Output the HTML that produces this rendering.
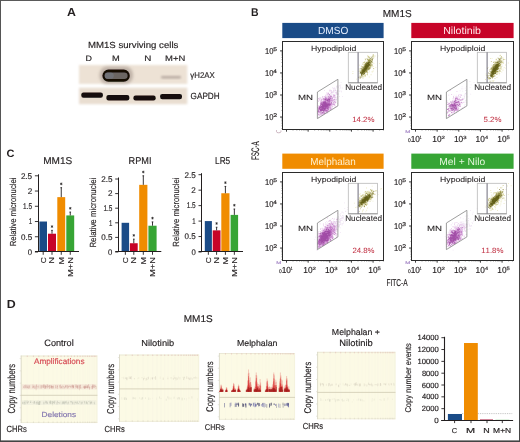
<!DOCTYPE html><html><head><meta charset="utf-8"><style>html,body{margin:0;padding:0;background:#fff;}svg{display:block;}</style></head><body><svg style="will-change:transform;font-kerning:none" width="520" height="442" viewBox="0 0 520 442" font-family="Liberation Sans, sans-serif" text-rendering="geometricPrecision">
<defs><filter id="blur1" x="-20%" y="-50%" width="140%" height="200%"><feGaussianBlur stdDeviation="0.8"/></filter><filter id="blur2" x="-30%" y="-60%" width="160%" height="220%"><feGaussianBlur stdDeviation="1.6"/></filter><filter id="blur05" x="-20%" y="-50%" width="140%" height="200%"><feGaussianBlur stdDeviation="0.45"/></filter><filter id="blur07" x="-20%" y="-50%" width="140%" height="200%"><feGaussianBlur stdDeviation="0.6"/></filter></defs>
<rect width="520" height="442" fill="#ffffff"/>
<text x="67.09" y="16.20" font-size="11.63" font-weight="bold" fill="#231f20" textLength="8.93" lengthAdjust="spacingAndGlyphs">A</text>
<text x="251.10" y="15.80" font-size="11.19" font-weight="bold" fill="#231f20" textLength="7.58" lengthAdjust="spacingAndGlyphs">B</text>
<text x="6.45" y="156.70" font-size="10.76" font-weight="bold" fill="#231f20" textLength="7.95" lengthAdjust="spacingAndGlyphs">C</text>
<text x="6.77" y="307.60" font-size="11.77" font-weight="bold" fill="#231f20" textLength="8.95" lengthAdjust="spacingAndGlyphs">D</text>
<text x="88.01" y="48.40" font-size="8.87" fill="#231f20" stroke="#231f20" stroke-width="0.16" textLength="90.34" lengthAdjust="spacingAndGlyphs">MM1S surviving cells</text>
<text x="85.47" y="60.60" font-size="7.99" fill="#231f20" stroke="#231f20" stroke-width="0.16" textLength="6.46" lengthAdjust="spacingAndGlyphs">D</text>
<text x="112.14" y="60.60" font-size="7.99" fill="#231f20" stroke="#231f20" stroke-width="0.16" textLength="7.72" lengthAdjust="spacingAndGlyphs">M</text>
<text x="144.19" y="60.60" font-size="7.99" fill="#231f20" stroke="#231f20" stroke-width="0.16" textLength="7.11" lengthAdjust="spacingAndGlyphs">N</text>
<text x="165.02" y="60.60" font-size="7.99" fill="#231f20" stroke="#231f20" stroke-width="0.16" textLength="20.25" lengthAdjust="spacingAndGlyphs">M+N</text>
<g filter="url(#blur1)">
<rect x="79.00" y="65.00" width="108.30" height="19.00" fill="#ede2d5"/>
<rect x="79.00" y="87.70" width="108.30" height="16.50" fill="#e9ded1"/>
</g>
<g filter="url(#blur2)">
<rect x="99.5" y="66.5" width="33.5" height="17.5" rx="8" fill="#9a8c84" fill-opacity="0.55"/>
</g>
<g filter="url(#blur05)">
<rect x="102.4" y="69.6" width="27.4" height="12.2" rx="6.1" ry="6.1" fill="#120a06"/>
<rect x="104.6" y="72.4" width="23.0" height="6.6" rx="3.3" ry="3.3" fill="#6c6662"/>
<rect x="104.8" y="72.6" width="9" height="6.2" rx="3.1" fill="#747a84" fill-opacity="0.6"/>
</g>
<g filter="url(#blur1)">
<rect x="161" y="76" width="20" height="2.6" rx="1.3" fill="#b8aaa2"/>
</g>
<g filter="url(#blur07)">
<rect x="81.3" y="92.4" width="21.60" height="5.40" rx="2.2" fill="#120c0a"/>
<rect x="106.4" y="94.9" width="22.90" height="5.50" rx="2.2" fill="#120c0a"/>
<rect x="133.4" y="95.5" width="22.30" height="4.90" rx="2.2" fill="#120c0a"/>
<rect x="160.1" y="93.9" width="21.90" height="5.30" rx="2.2" fill="#120c0a"/>
</g>
<text x="190.37" y="77.90" font-size="8.29" fill="#231f20" stroke="#231f20" stroke-width="0.16" textLength="24.29" lengthAdjust="spacingAndGlyphs">γH2AX</text>
<text x="190.59" y="99.00" font-size="9.01" fill="#231f20" stroke="#231f20" stroke-width="0.16" textLength="29.08" lengthAdjust="spacingAndGlyphs">GAPDH</text>
<text x="382.78" y="17.10" font-size="10.03" fill="#231f20" stroke="#231f20" stroke-width="0.16" textLength="28.98" lengthAdjust="spacingAndGlyphs">MM1S</text>
<rect x="282.30" y="22.90" width="101.30" height="15.20" fill="#1a4b87"/>
<line x1="280.10" y1="50.90" x2="282.50" y2="50.90" stroke="#2b2b2b" stroke-width="1.0"/>
<line x1="281.30" y1="66.31" x2="282.50" y2="66.31" stroke="#666" stroke-width="0.5"/>
<line x1="281.30" y1="62.43" x2="282.50" y2="62.43" stroke="#666" stroke-width="0.5"/>
<line x1="281.30" y1="59.68" x2="282.50" y2="59.68" stroke="#666" stroke-width="0.5"/>
<line x1="281.30" y1="57.54" x2="282.50" y2="57.54" stroke="#666" stroke-width="0.5"/>
<line x1="281.30" y1="55.80" x2="282.50" y2="55.80" stroke="#666" stroke-width="0.5"/>
<line x1="281.30" y1="54.32" x2="282.50" y2="54.32" stroke="#666" stroke-width="0.5"/>
<line x1="281.30" y1="53.04" x2="282.50" y2="53.04" stroke="#666" stroke-width="0.5"/>
<line x1="281.30" y1="51.91" x2="282.50" y2="51.91" stroke="#666" stroke-width="0.5"/>
<line x1="280.10" y1="72.95" x2="282.50" y2="72.95" stroke="#2b2b2b" stroke-width="1.0"/>
<line x1="281.30" y1="88.36" x2="282.50" y2="88.36" stroke="#666" stroke-width="0.5"/>
<line x1="281.30" y1="84.48" x2="282.50" y2="84.48" stroke="#666" stroke-width="0.5"/>
<line x1="281.30" y1="81.73" x2="282.50" y2="81.73" stroke="#666" stroke-width="0.5"/>
<line x1="281.30" y1="79.59" x2="282.50" y2="79.59" stroke="#666" stroke-width="0.5"/>
<line x1="281.30" y1="77.85" x2="282.50" y2="77.85" stroke="#666" stroke-width="0.5"/>
<line x1="281.30" y1="76.37" x2="282.50" y2="76.37" stroke="#666" stroke-width="0.5"/>
<line x1="281.30" y1="75.09" x2="282.50" y2="75.09" stroke="#666" stroke-width="0.5"/>
<line x1="281.30" y1="73.96" x2="282.50" y2="73.96" stroke="#666" stroke-width="0.5"/>
<line x1="280.10" y1="95.00" x2="282.50" y2="95.00" stroke="#2b2b2b" stroke-width="1.0"/>
<line x1="281.30" y1="110.41" x2="282.50" y2="110.41" stroke="#666" stroke-width="0.5"/>
<line x1="281.30" y1="106.53" x2="282.50" y2="106.53" stroke="#666" stroke-width="0.5"/>
<line x1="281.30" y1="103.78" x2="282.50" y2="103.78" stroke="#666" stroke-width="0.5"/>
<line x1="281.30" y1="101.64" x2="282.50" y2="101.64" stroke="#666" stroke-width="0.5"/>
<line x1="281.30" y1="99.90" x2="282.50" y2="99.90" stroke="#666" stroke-width="0.5"/>
<line x1="281.30" y1="98.42" x2="282.50" y2="98.42" stroke="#666" stroke-width="0.5"/>
<line x1="281.30" y1="97.14" x2="282.50" y2="97.14" stroke="#666" stroke-width="0.5"/>
<line x1="281.30" y1="96.01" x2="282.50" y2="96.01" stroke="#666" stroke-width="0.5"/>
<line x1="280.10" y1="117.05" x2="282.50" y2="117.05" stroke="#2b2b2b" stroke-width="1.0"/>
<line x1="281.30" y1="128.58" x2="282.50" y2="128.58" stroke="#666" stroke-width="0.5"/>
<line x1="281.30" y1="125.83" x2="282.50" y2="125.83" stroke="#666" stroke-width="0.5"/>
<line x1="281.30" y1="123.69" x2="282.50" y2="123.69" stroke="#666" stroke-width="0.5"/>
<line x1="281.30" y1="121.95" x2="282.50" y2="121.95" stroke="#666" stroke-width="0.5"/>
<line x1="281.30" y1="120.47" x2="282.50" y2="120.47" stroke="#666" stroke-width="0.5"/>
<line x1="281.30" y1="119.19" x2="282.50" y2="119.19" stroke="#666" stroke-width="0.5"/>
<line x1="281.30" y1="118.06" x2="282.50" y2="118.06" stroke="#666" stroke-width="0.5"/>
<line x1="286.50" y1="129.50" x2="286.50" y2="131.70" stroke="#2b2b2b" stroke-width="0.9"/>
<line x1="293.02" y1="129.50" x2="293.02" y2="130.70" stroke="#666" stroke-width="0.5"/>
<line x1="296.83" y1="129.50" x2="296.83" y2="130.70" stroke="#666" stroke-width="0.5"/>
<line x1="299.53" y1="129.50" x2="299.53" y2="130.70" stroke="#666" stroke-width="0.5"/>
<line x1="301.63" y1="129.50" x2="301.63" y2="130.70" stroke="#666" stroke-width="0.5"/>
<line x1="303.34" y1="129.50" x2="303.34" y2="130.70" stroke="#666" stroke-width="0.5"/>
<line x1="304.79" y1="129.50" x2="304.79" y2="130.70" stroke="#666" stroke-width="0.5"/>
<line x1="306.05" y1="129.50" x2="306.05" y2="130.70" stroke="#666" stroke-width="0.5"/>
<line x1="307.15" y1="129.50" x2="307.15" y2="130.70" stroke="#666" stroke-width="0.5"/>
<line x1="308.15" y1="129.50" x2="308.15" y2="131.70" stroke="#2b2b2b" stroke-width="0.9"/>
<line x1="314.67" y1="129.50" x2="314.67" y2="130.70" stroke="#666" stroke-width="0.5"/>
<line x1="318.48" y1="129.50" x2="318.48" y2="130.70" stroke="#666" stroke-width="0.5"/>
<line x1="321.18" y1="129.50" x2="321.18" y2="130.70" stroke="#666" stroke-width="0.5"/>
<line x1="323.28" y1="129.50" x2="323.28" y2="130.70" stroke="#666" stroke-width="0.5"/>
<line x1="324.99" y1="129.50" x2="324.99" y2="130.70" stroke="#666" stroke-width="0.5"/>
<line x1="326.44" y1="129.50" x2="326.44" y2="130.70" stroke="#666" stroke-width="0.5"/>
<line x1="327.70" y1="129.50" x2="327.70" y2="130.70" stroke="#666" stroke-width="0.5"/>
<line x1="328.80" y1="129.50" x2="328.80" y2="130.70" stroke="#666" stroke-width="0.5"/>
<line x1="329.80" y1="129.50" x2="329.80" y2="131.70" stroke="#2b2b2b" stroke-width="0.9"/>
<line x1="336.32" y1="129.50" x2="336.32" y2="130.70" stroke="#666" stroke-width="0.5"/>
<line x1="340.13" y1="129.50" x2="340.13" y2="130.70" stroke="#666" stroke-width="0.5"/>
<line x1="342.83" y1="129.50" x2="342.83" y2="130.70" stroke="#666" stroke-width="0.5"/>
<line x1="344.93" y1="129.50" x2="344.93" y2="130.70" stroke="#666" stroke-width="0.5"/>
<line x1="346.64" y1="129.50" x2="346.64" y2="130.70" stroke="#666" stroke-width="0.5"/>
<line x1="348.09" y1="129.50" x2="348.09" y2="130.70" stroke="#666" stroke-width="0.5"/>
<line x1="349.35" y1="129.50" x2="349.35" y2="130.70" stroke="#666" stroke-width="0.5"/>
<line x1="350.45" y1="129.50" x2="350.45" y2="130.70" stroke="#666" stroke-width="0.5"/>
<line x1="351.45" y1="129.50" x2="351.45" y2="131.70" stroke="#2b2b2b" stroke-width="0.9"/>
<line x1="357.97" y1="129.50" x2="357.97" y2="130.70" stroke="#666" stroke-width="0.5"/>
<line x1="361.78" y1="129.50" x2="361.78" y2="130.70" stroke="#666" stroke-width="0.5"/>
<line x1="364.48" y1="129.50" x2="364.48" y2="130.70" stroke="#666" stroke-width="0.5"/>
<line x1="366.58" y1="129.50" x2="366.58" y2="130.70" stroke="#666" stroke-width="0.5"/>
<line x1="368.29" y1="129.50" x2="368.29" y2="130.70" stroke="#666" stroke-width="0.5"/>
<line x1="369.74" y1="129.50" x2="369.74" y2="130.70" stroke="#666" stroke-width="0.5"/>
<line x1="371.00" y1="129.50" x2="371.00" y2="130.70" stroke="#666" stroke-width="0.5"/>
<line x1="372.10" y1="129.50" x2="372.10" y2="130.70" stroke="#666" stroke-width="0.5"/>
<line x1="373.10" y1="129.50" x2="373.10" y2="131.70" stroke="#2b2b2b" stroke-width="0.9"/>
<line x1="379.62" y1="129.50" x2="379.62" y2="130.70" stroke="#666" stroke-width="0.5"/>
<line x1="383.43" y1="129.50" x2="383.43" y2="130.70" stroke="#666" stroke-width="0.5"/>
<text x="264.92" y="53.70" font-size="8.43" fill="#231f20" stroke="#231f20" stroke-width="0.16" textLength="8.48" lengthAdjust="spacingAndGlyphs">10</text>
<text x="273.23" y="51.10" font-size="5.23" fill="#231f20" stroke="#231f20" stroke-width="0.16" textLength="3.75" lengthAdjust="spacingAndGlyphs">5</text>
<text x="264.92" y="75.75" font-size="8.43" fill="#231f20" stroke="#231f20" stroke-width="0.16" textLength="8.48" lengthAdjust="spacingAndGlyphs">10</text>
<text x="273.35" y="73.15" font-size="5.23" fill="#231f20" stroke="#231f20" stroke-width="0.16" textLength="3.53" lengthAdjust="spacingAndGlyphs">4</text>
<text x="264.92" y="97.80" font-size="8.43" fill="#231f20" stroke="#231f20" stroke-width="0.16" textLength="8.48" lengthAdjust="spacingAndGlyphs">10</text>
<text x="273.24" y="95.20" font-size="5.23" fill="#231f20" stroke="#231f20" stroke-width="0.16" textLength="3.75" lengthAdjust="spacingAndGlyphs">3</text>
<text x="264.92" y="119.85" font-size="8.43" fill="#231f20" stroke="#231f20" stroke-width="0.16" textLength="8.48" lengthAdjust="spacingAndGlyphs">10</text>
<text x="273.15" y="117.25" font-size="5.23" fill="#231f20" stroke="#231f20" stroke-width="0.16" textLength="3.91" lengthAdjust="spacingAndGlyphs">2</text>
<clipPath id="mn1"><polygon points="317.40,118.60 317.40,92.00 337.90,79.30 337.90,105.90"/></clipPath>
<clipPath id="nu1"><rect x="358.10" y="52.30" width="19.50" height="30.50"/></clipPath>
<path d="M331.3 96.4h0.8v0.8h-0.8zM336.6 97.2h0.8v0.8h-0.8zM330.4 98.9h0.8v0.8h-0.8zM321.5 99.0h0.8v0.8h-0.8zM327.7 98.9h0.8v0.8h-0.8zM321.5 100.1h0.8v0.8h-0.8zM324.2 90.1h0.8v0.8h-0.8zM338.2 86.4h0.8v0.8h-0.8zM332.6 103.1h0.8v0.8h-0.8zM328.6 101.5h0.8v0.8h-0.8zM331.8 91.2h0.8v0.8h-0.8zM331.7 92.6h0.8v0.8h-0.8zM335.4 98.5h0.8v0.8h-0.8zM327.1 103.9h0.8v0.8h-0.8zM332.0 97.3h0.8v0.8h-0.8zM335.8 92.0h0.8v0.8h-0.8zM324.5 106.6h0.8v0.8h-0.8zM331.4 101.8h0.8v0.8h-0.8zM322.7 111.6h0.8v0.8h-0.8zM325.3 106.6h0.8v0.8h-0.8zM319.0 108.0h0.8v0.8h-0.8zM331.9 99.7h0.8v0.8h-0.8zM323.1 104.6h0.8v0.8h-0.8zM336.3 97.2h0.8v0.8h-0.8zM329.7 93.4h0.8v0.8h-0.8zM330.6 98.1h0.8v0.8h-0.8zM317.8 114.8h0.8v0.8h-0.8zM325.7 98.2h0.8v0.8h-0.8zM336.0 100.8h0.8v0.8h-0.8zM336.3 99.1h0.8v0.8h-0.8zM322.2 106.9h0.8v0.8h-0.8zM331.2 101.9h0.8v0.8h-0.8zM327.4 104.7h0.8v0.8h-0.8zM320.9 97.6h0.8v0.8h-0.8zM338.6 90.0h0.8v0.8h-0.8zM327.3 102.6h0.8v0.8h-0.8zM332.0 97.4h0.8v0.8h-0.8zM334.3 88.6h0.8v0.8h-0.8zM328.0 100.6h0.8v0.8h-0.8zM330.9 97.4h0.8v0.8h-0.8zM335.6 98.6h0.8v0.8h-0.8zM333.2 97.2h0.8v0.8h-0.8zM325.1 105.7h0.8v0.8h-0.8zM336.2 99.5h0.8v0.8h-0.8zM338.3 86.3h0.8v0.8h-0.8zM322.3 107.2h0.8v0.8h-0.8zM332.3 87.3h0.8v0.8h-0.8zM336.6 99.3h0.8v0.8h-0.8zM330.8 103.5h0.8v0.8h-0.8zM345.6 84.6h0.8v0.8h-0.8zM338.0 92.9h0.8v0.8h-0.8zM325.5 105.7h0.8v0.8h-0.8zM333.0 96.9h0.8v0.8h-0.8zM334.6 92.4h0.8v0.8h-0.8zM330.4 97.9h0.8v0.8h-0.8zM336.0 92.3h0.8v0.8h-0.8zM335.4 100.5h0.8v0.8h-0.8zM337.2 93.4h0.8v0.8h-0.8zM340.0 86.7h0.8v0.8h-0.8zM326.7 100.6h0.8v0.8h-0.8zM331.6 94.3h0.8v0.8h-0.8zM333.4 103.5h0.8v0.8h-0.8zM334.0 97.1h0.8v0.8h-0.8zM325.5 105.6h0.8v0.8h-0.8zM327.9 100.4h0.8v0.8h-0.8zM328.1 96.2h0.8v0.8h-0.8zM336.9 90.5h0.8v0.8h-0.8zM340.6 90.6h0.8v0.8h-0.8zM323.6 105.6h0.8v0.8h-0.8zM326.9 102.2h0.8v0.8h-0.8zM335.1 92.0h0.8v0.8h-0.8zM321.0 111.4h0.8v0.8h-0.8zM325.4 97.1h0.8v0.8h-0.8zM330.9 97.2h0.8v0.8h-0.8zM337.0 86.4h0.8v0.8h-0.8zM338.1 93.9h0.8v0.8h-0.8zM328.2 97.8h0.8v0.8h-0.8zM331.4 100.8h0.8v0.8h-0.8zM334.4 101.8h0.8v0.8h-0.8zM339.8 85.6h0.8v0.8h-0.8zM328.1 98.8h0.8v0.8h-0.8zM330.8 99.5h0.8v0.8h-0.8zM334.0 94.5h0.8v0.8h-0.8zM328.8 95.9h0.8v0.8h-0.8zM332.0 99.3h0.8v0.8h-0.8zM330.7 108.9h0.8v0.8h-0.8zM331.3 96.6h0.8v0.8h-0.8zM329.0 99.7h0.8v0.8h-0.8zM336.0 86.6h0.8v0.8h-0.8zM336.5 93.0h0.8v0.8h-0.8zM328.8 94.7h0.8v0.8h-0.8zM333.0 90.1h0.8v0.8h-0.8zM333.3 102.0h0.8v0.8h-0.8zM335.7 87.7h0.8v0.8h-0.8zM334.7 99.2h0.8v0.8h-0.8zM339.1 95.9h0.8v0.8h-0.8zM325.4 106.7h0.8v0.8h-0.8zM335.3 95.6h0.8v0.8h-0.8zM327.3 112.9h0.8v0.8h-0.8zM320.0 111.1h0.8v0.8h-0.8zM328.8 98.0h0.8v0.8h-0.8zM323.5 100.7h0.8v0.8h-0.8zM333.0 95.9h0.8v0.8h-0.8zM348.4 84.0h0.8v0.8h-0.8zM329.7 104.8h0.8v0.8h-0.8zM326.1 99.6h0.8v0.8h-0.8zM331.0 93.8h0.8v0.8h-0.8zM333.5 92.5h0.8v0.8h-0.8zM331.7 98.8h0.8v0.8h-0.8zM330.3 98.1h0.8v0.8h-0.8zM336.5 92.4h0.8v0.8h-0.8zM335.7 93.9h0.8v0.8h-0.8zM325.4 103.7h0.8v0.8h-0.8zM331.5 97.5h0.8v0.8h-0.8zM332.7 97.2h0.8v0.8h-0.8zM325.8 104.3h0.8v0.8h-0.8zM334.7 96.2h0.8v0.8h-0.8zM331.8 106.8h0.8v0.8h-0.8zM339.0 91.3h0.8v0.8h-0.8zM333.2 95.7h0.8v0.8h-0.8zM328.3 93.0h0.8v0.8h-0.8zM329.6 102.0h0.8v0.8h-0.8zM326.5 94.0h0.8v0.8h-0.8zM317.2 108.4h0.8v0.8h-0.8zM327.7 106.7h0.8v0.8h-0.8zM335.8 95.8h0.8v0.8h-0.8zM319.6 111.8h0.8v0.8h-0.8zM332.5 87.6h0.8v0.8h-0.8zM321.2 108.7h0.8v0.8h-0.8zM334.6 90.3h0.8v0.8h-0.8zM328.8 104.3h0.8v0.8h-0.8zM342.0 96.0h0.8v0.8h-0.8zM333.3 96.5h0.8v0.8h-0.8zM321.4 106.4h0.8v0.8h-0.8zM336.1 85.8h0.8v0.8h-0.8zM340.0 86.7h0.8v0.8h-0.8zM331.2 97.1h0.8v0.8h-0.8zM327.6 96.7h0.8v0.8h-0.8zM331.4 98.4h0.8v0.8h-0.8zM323.6 101.6h0.8v0.8h-0.8zM341.0 91.4h0.8v0.8h-0.8zM331.6 103.0h0.8v0.8h-0.8zM334.4 99.5h0.8v0.8h-0.8zM326.3 101.7h0.8v0.8h-0.8zM329.8 102.5h0.8v0.8h-0.8zM324.5 105.8h0.8v0.8h-0.8zM338.1 87.3h0.8v0.8h-0.8zM330.3 97.4h0.8v0.8h-0.8zM334.2 87.6h0.8v0.8h-0.8zM328.5 94.0h0.8v0.8h-0.8zM330.1 103.5h0.8v0.8h-0.8zM329.7 98.9h0.8v0.8h-0.8zM329.4 101.4h0.8v0.8h-0.8zM334.5 98.9h0.8v0.8h-0.8zM325.6 96.2h0.8v0.8h-0.8zM328.4 97.6h0.8v0.8h-0.8zM324.7 107.1h0.8v0.8h-0.8zM328.4 103.5h0.8v0.8h-0.8zM340.4 84.5h0.8v0.8h-0.8zM330.8 103.8h0.8v0.8h-0.8zM326.6 104.9h0.8v0.8h-0.8zM330.9 92.2h0.8v0.8h-0.8zM337.6 85.2h0.8v0.8h-0.8zM325.8 108.9h0.8v0.8h-0.8zM332.0 99.4h0.8v0.8h-0.8zM323.7 97.7h0.8v0.8h-0.8zM325.4 112.2h0.8v0.8h-0.8zM337.6 93.0h0.8v0.8h-0.8zM335.2 99.8h0.8v0.8h-0.8zM331.4 95.7h0.8v0.8h-0.8zM327.0 101.8h0.8v0.8h-0.8zM331.8 91.5h0.8v0.8h-0.8zM335.3 105.9h0.8v0.8h-0.8zM330.8 97.7h0.8v0.8h-0.8zM329.7 108.0h0.8v0.8h-0.8zM323.5 104.3h0.8v0.8h-0.8zM339.9 87.8h0.8v0.8h-0.8zM325.0 97.3h0.8v0.8h-0.8zM332.7 94.2h0.8v0.8h-0.8zM334.3 99.2h0.8v0.8h-0.8zM326.4 97.6h0.8v0.8h-0.8zM331.8 102.7h0.8v0.8h-0.8zM336.4 93.2h0.8v0.8h-0.8zM327.7 97.1h0.8v0.8h-0.8zM329.9 97.1h0.8v0.8h-0.8zM331.0 95.9h0.8v0.8h-0.8zM338.5 88.6h0.8v0.8h-0.8zM334.5 91.1h0.8v0.8h-0.8zM332.1 92.6h0.8v0.8h-0.8zM328.1 100.4h0.8v0.8h-0.8zM321.6 104.8h0.8v0.8h-0.8zM334.1 87.7h0.8v0.8h-0.8zM337.3 90.0h0.8v0.8h-0.8zM333.4 99.8h0.8v0.8h-0.8zM331.2 90.1h0.8v0.8h-0.8zM336.4 91.5h0.8v0.8h-0.8zM335.1 89.8h0.8v0.8h-0.8zM334.8 88.5h0.8v0.8h-0.8zM331.6 101.9h0.8v0.8h-0.8zM339.3 85.2h0.8v0.8h-0.8zM328.7 108.8h0.8v0.8h-0.8zM334.9 89.3h0.8v0.8h-0.8zM335.8 94.3h0.8v0.8h-0.8zM336.4 90.3h0.8v0.8h-0.8zM340.7 82.2h0.8v0.8h-0.8zM341.8 87.6h0.8v0.8h-0.8zM325.2 104.8h0.8v0.8h-0.8zM324.0 110.2h0.8v0.8h-0.8zM336.5 91.1h0.8v0.8h-0.8zM323.6 102.1h0.8v0.8h-0.8zM331.7 96.9h0.8v0.8h-0.8zM336.9 91.1h0.8v0.8h-0.8zM325.1 110.6h0.8v0.8h-0.8zM317.8 110.2h0.8v0.8h-0.8zM333.4 95.1h0.8v0.8h-0.8zM328.0 93.3h0.8v0.8h-0.8zM332.2 100.0h0.8v0.8h-0.8zM329.5 94.6h0.8v0.8h-0.8zM322.6 99.5h0.8v0.8h-0.8zM323.3 107.6h0.8v0.8h-0.8zM333.8 100.4h0.8v0.8h-0.8zM322.7 100.9h0.8v0.8h-0.8zM320.0 106.5h0.8v0.8h-0.8zM333.0 91.9h0.8v0.8h-0.8zM328.8 95.2h0.8v0.8h-0.8zM335.2 94.9h0.8v0.8h-0.8zM324.4 102.4h0.8v0.8h-0.8zM326.5 100.2h0.8v0.8h-0.8zM327.8 105.2h0.8v0.8h-0.8zM325.1 101.8h0.8v0.8h-0.8zM334.2 96.5h0.8v0.8h-0.8zM325.2 100.6h0.8v0.8h-0.8zM331.0 92.1h0.8v0.8h-0.8zM329.3 90.9h0.8v0.8h-0.8zM348.1 86.3h0.8v0.8h-0.8zM323.3 106.3h0.8v0.8h-0.8zM337.6 91.2h0.8v0.8h-0.8zM331.4 97.6h0.8v0.8h-0.8zM332.3 97.4h0.8v0.8h-0.8zM323.9 107.4h0.8v0.8h-0.8zM334.2 104.1h0.8v0.8h-0.8zM333.6 89.7h0.8v0.8h-0.8zM327.6 94.5h0.8v0.8h-0.8zM329.9 94.4h0.8v0.8h-0.8z" fill="#c9a6d8" fill-opacity="0.35"/>
<g clip-path="url(#mn1)">
<path d="M319.9 110.2h0.9v0.9h-0.9zM325.1 97.1h0.9v0.9h-0.9zM329.6 100.1h0.9v0.9h-0.9zM329.0 114.3h0.9v0.9h-0.9zM323.6 113.6h0.9v0.9h-0.9zM321.5 103.3h0.9v0.9h-0.9zM329.2 95.0h0.9v0.9h-0.9zM313.5 117.4h0.9v0.9h-0.9zM330.9 103.6h0.9v0.9h-0.9zM319.4 107.6h0.9v0.9h-0.9zM328.3 97.2h0.9v0.9h-0.9zM324.1 111.4h0.9v0.9h-0.9zM327.3 107.4h0.9v0.9h-0.9zM318.9 110.8h0.9v0.9h-0.9zM318.9 106.5h0.9v0.9h-0.9zM327.2 93.5h0.9v0.9h-0.9zM327.3 98.3h0.9v0.9h-0.9zM318.1 101.1h0.9v0.9h-0.9zM324.6 110.1h0.9v0.9h-0.9zM316.6 112.2h0.9v0.9h-0.9zM325.8 107.1h0.9v0.9h-0.9zM331.1 108.3h0.9v0.9h-0.9zM329.0 107.0h0.9v0.9h-0.9zM322.4 101.9h0.9v0.9h-0.9zM323.9 111.6h0.9v0.9h-0.9zM329.0 106.9h0.9v0.9h-0.9zM323.7 102.5h0.9v0.9h-0.9zM328.5 95.3h0.9v0.9h-0.9zM333.2 94.3h0.9v0.9h-0.9zM321.0 101.1h0.9v0.9h-0.9zM327.0 111.2h0.9v0.9h-0.9zM319.0 99.0h0.9v0.9h-0.9zM320.4 104.6h0.9v0.9h-0.9zM322.3 107.2h0.9v0.9h-0.9zM325.1 103.8h0.9v0.9h-0.9zM322.3 109.7h0.9v0.9h-0.9zM329.2 101.5h0.9v0.9h-0.9zM325.0 104.1h0.9v0.9h-0.9zM330.2 105.3h0.9v0.9h-0.9zM319.3 100.2h0.9v0.9h-0.9zM323.1 107.7h0.9v0.9h-0.9zM320.2 107.2h0.9v0.9h-0.9zM325.4 105.5h0.9v0.9h-0.9zM324.4 107.3h0.9v0.9h-0.9zM324.4 100.8h0.9v0.9h-0.9zM324.2 102.6h0.9v0.9h-0.9zM322.7 112.7h0.9v0.9h-0.9zM327.3 104.4h0.9v0.9h-0.9zM318.7 109.3h0.9v0.9h-0.9zM329.2 111.7h0.9v0.9h-0.9zM331.3 110.6h0.9v0.9h-0.9zM313.5 111.3h0.9v0.9h-0.9zM327.2 104.2h0.9v0.9h-0.9zM333.7 108.8h0.9v0.9h-0.9zM327.6 106.6h0.9v0.9h-0.9zM324.9 106.6h0.9v0.9h-0.9zM323.9 105.4h0.9v0.9h-0.9zM320.5 107.7h0.9v0.9h-0.9zM324.3 104.9h0.9v0.9h-0.9zM322.2 105.6h0.9v0.9h-0.9zM328.5 105.2h0.9v0.9h-0.9zM320.0 109.2h0.9v0.9h-0.9zM325.7 101.8h0.9v0.9h-0.9zM323.2 100.6h0.9v0.9h-0.9zM325.3 104.6h0.9v0.9h-0.9zM321.7 104.2h0.9v0.9h-0.9zM327.7 100.8h0.9v0.9h-0.9zM322.2 114.8h0.9v0.9h-0.9zM328.9 102.5h0.9v0.9h-0.9zM328.4 103.9h0.9v0.9h-0.9zM328.1 103.4h0.9v0.9h-0.9zM327.7 102.2h0.9v0.9h-0.9zM323.0 107.0h0.9v0.9h-0.9zM324.1 104.6h0.9v0.9h-0.9zM330.7 102.5h0.9v0.9h-0.9zM324.7 99.4h0.9v0.9h-0.9zM330.6 105.9h0.9v0.9h-0.9zM320.0 111.8h0.9v0.9h-0.9zM326.1 99.6h0.9v0.9h-0.9zM329.3 97.0h0.9v0.9h-0.9zM328.2 97.4h0.9v0.9h-0.9zM327.4 103.2h0.9v0.9h-0.9zM317.7 110.3h0.9v0.9h-0.9zM333.0 101.8h0.9v0.9h-0.9zM323.2 103.0h0.9v0.9h-0.9zM309.4 111.8h0.9v0.9h-0.9zM325.5 100.5h0.9v0.9h-0.9zM314.3 107.1h0.9v0.9h-0.9zM320.7 110.5h0.9v0.9h-0.9zM326.4 109.6h0.9v0.9h-0.9zM332.9 99.0h0.9v0.9h-0.9zM320.7 102.9h0.9v0.9h-0.9zM325.0 100.9h0.9v0.9h-0.9zM338.0 99.1h0.9v0.9h-0.9zM333.3 96.6h0.9v0.9h-0.9zM325.6 104.5h0.9v0.9h-0.9zM328.0 107.6h0.9v0.9h-0.9zM327.8 115.9h0.9v0.9h-0.9zM326.8 110.4h0.9v0.9h-0.9zM328.1 102.2h0.9v0.9h-0.9zM328.6 102.8h0.9v0.9h-0.9zM328.2 104.8h0.9v0.9h-0.9zM328.3 97.6h0.9v0.9h-0.9zM319.9 105.6h0.9v0.9h-0.9zM325.9 104.4h0.9v0.9h-0.9zM326.3 98.2h0.9v0.9h-0.9zM328.2 100.9h0.9v0.9h-0.9zM330.6 98.8h0.9v0.9h-0.9zM334.2 107.2h0.9v0.9h-0.9zM322.4 103.7h0.9v0.9h-0.9zM327.1 101.9h0.9v0.9h-0.9zM321.5 108.7h0.9v0.9h-0.9zM320.6 113.3h0.9v0.9h-0.9zM331.3 103.4h0.9v0.9h-0.9zM324.4 103.2h0.9v0.9h-0.9zM324.9 100.6h0.9v0.9h-0.9zM314.6 108.9h0.9v0.9h-0.9zM321.9 103.8h0.9v0.9h-0.9zM325.1 108.2h0.9v0.9h-0.9zM322.6 108.5h0.9v0.9h-0.9zM314.1 113.2h0.9v0.9h-0.9zM323.6 104.9h0.9v0.9h-0.9zM329.7 99.5h0.9v0.9h-0.9zM328.9 103.2h0.9v0.9h-0.9zM321.9 105.7h0.9v0.9h-0.9zM325.2 103.5h0.9v0.9h-0.9zM323.9 96.1h0.9v0.9h-0.9zM311.6 115.4h0.9v0.9h-0.9zM330.0 108.2h0.9v0.9h-0.9zM322.0 96.4h0.9v0.9h-0.9zM327.8 99.8h0.9v0.9h-0.9zM333.5 95.9h0.9v0.9h-0.9zM329.5 97.4h0.9v0.9h-0.9zM325.0 100.6h0.9v0.9h-0.9zM327.0 102.3h0.9v0.9h-0.9zM329.2 100.0h0.9v0.9h-0.9zM323.6 106.6h0.9v0.9h-0.9zM320.6 100.0h0.9v0.9h-0.9zM329.2 99.1h0.9v0.9h-0.9zM331.5 92.2h0.9v0.9h-0.9zM323.8 103.6h0.9v0.9h-0.9zM326.4 104.8h0.9v0.9h-0.9zM328.6 104.4h0.9v0.9h-0.9zM333.9 99.2h0.9v0.9h-0.9zM324.5 103.0h0.9v0.9h-0.9zM334.5 98.6h0.9v0.9h-0.9zM325.4 111.5h0.9v0.9h-0.9zM328.4 107.5h0.9v0.9h-0.9zM329.1 108.1h0.9v0.9h-0.9zM328.8 99.7h0.9v0.9h-0.9zM329.7 98.3h0.9v0.9h-0.9zM322.2 113.5h0.9v0.9h-0.9zM318.5 105.6h0.9v0.9h-0.9zM327.9 102.8h0.9v0.9h-0.9zM321.9 106.2h0.9v0.9h-0.9zM318.8 110.9h0.9v0.9h-0.9zM325.3 94.8h0.9v0.9h-0.9zM325.5 99.5h0.9v0.9h-0.9zM327.9 101.5h0.9v0.9h-0.9zM326.6 108.4h0.9v0.9h-0.9zM332.9 101.0h0.9v0.9h-0.9zM324.8 105.0h0.9v0.9h-0.9zM329.9 98.0h0.9v0.9h-0.9zM320.0 106.8h0.9v0.9h-0.9zM323.7 109.2h0.9v0.9h-0.9zM326.1 102.4h0.9v0.9h-0.9zM324.9 108.9h0.9v0.9h-0.9zM333.6 104.5h0.9v0.9h-0.9zM327.0 102.6h0.9v0.9h-0.9zM318.1 105.3h0.9v0.9h-0.9zM323.9 101.7h0.9v0.9h-0.9zM320.5 102.5h0.9v0.9h-0.9zM326.3 96.7h0.9v0.9h-0.9zM327.1 110.1h0.9v0.9h-0.9zM324.9 106.7h0.9v0.9h-0.9zM326.6 94.5h0.9v0.9h-0.9zM336.9 94.1h0.9v0.9h-0.9zM337.6 96.7h0.9v0.9h-0.9zM325.2 102.9h0.9v0.9h-0.9zM325.0 101.4h0.9v0.9h-0.9zM331.2 95.5h0.9v0.9h-0.9zM326.3 105.3h0.9v0.9h-0.9zM323.9 110.4h0.9v0.9h-0.9zM329.8 106.0h0.9v0.9h-0.9zM331.2 104.4h0.9v0.9h-0.9zM326.0 110.8h0.9v0.9h-0.9zM323.2 115.4h0.9v0.9h-0.9zM322.1 112.8h0.9v0.9h-0.9zM324.4 97.2h0.9v0.9h-0.9zM322.6 107.6h0.9v0.9h-0.9zM326.3 105.4h0.9v0.9h-0.9zM325.8 102.1h0.9v0.9h-0.9zM331.1 102.9h0.9v0.9h-0.9zM323.6 104.9h0.9v0.9h-0.9zM325.4 99.4h0.9v0.9h-0.9zM326.5 111.7h0.9v0.9h-0.9zM326.4 107.3h0.9v0.9h-0.9zM322.5 109.7h0.9v0.9h-0.9zM333.2 100.3h0.9v0.9h-0.9zM328.9 106.5h0.9v0.9h-0.9zM324.0 108.5h0.9v0.9h-0.9zM317.7 100.3h0.9v0.9h-0.9zM323.2 103.6h0.9v0.9h-0.9zM327.5 99.4h0.9v0.9h-0.9zM316.8 109.9h0.9v0.9h-0.9zM322.4 109.7h0.9v0.9h-0.9zM327.8 108.6h0.9v0.9h-0.9zM334.8 90.1h0.9v0.9h-0.9zM326.7 96.6h0.9v0.9h-0.9zM331.2 109.1h0.9v0.9h-0.9zM327.6 99.4h0.9v0.9h-0.9zM330.8 90.8h0.9v0.9h-0.9zM325.7 105.7h0.9v0.9h-0.9zM325.7 106.8h0.9v0.9h-0.9zM328.9 96.3h0.9v0.9h-0.9zM330.2 103.3h0.9v0.9h-0.9zM327.3 99.5h0.9v0.9h-0.9zM321.4 104.5h0.9v0.9h-0.9zM334.3 94.6h0.9v0.9h-0.9zM335.1 97.1h0.9v0.9h-0.9zM326.5 99.7h0.9v0.9h-0.9zM329.7 101.3h0.9v0.9h-0.9zM317.6 114.1h0.9v0.9h-0.9zM336.5 107.1h0.9v0.9h-0.9zM323.2 103.4h0.9v0.9h-0.9zM331.6 104.9h0.9v0.9h-0.9zM328.6 100.4h0.9v0.9h-0.9zM324.3 105.4h0.9v0.9h-0.9zM321.2 114.2h0.9v0.9h-0.9zM330.0 104.1h0.9v0.9h-0.9zM326.6 110.6h0.9v0.9h-0.9zM325.6 106.4h0.9v0.9h-0.9zM321.9 105.7h0.9v0.9h-0.9zM323.1 104.5h0.9v0.9h-0.9zM318.1 116.8h0.9v0.9h-0.9zM332.5 99.1h0.9v0.9h-0.9zM330.9 105.8h0.9v0.9h-0.9zM331.7 99.3h0.9v0.9h-0.9zM337.0 96.3h0.9v0.9h-0.9zM330.4 107.3h0.9v0.9h-0.9zM319.2 113.5h0.9v0.9h-0.9zM318.2 105.2h0.9v0.9h-0.9zM317.8 107.5h0.9v0.9h-0.9zM319.9 103.3h0.9v0.9h-0.9zM330.8 107.1h0.9v0.9h-0.9zM315.6 112.3h0.9v0.9h-0.9zM330.8 105.0h0.9v0.9h-0.9zM321.6 113.0h0.9v0.9h-0.9zM332.0 106.3h0.9v0.9h-0.9zM328.4 106.8h0.9v0.9h-0.9zM324.4 105.4h0.9v0.9h-0.9zM325.1 103.9h0.9v0.9h-0.9zM324.1 106.9h0.9v0.9h-0.9zM324.0 107.5h0.9v0.9h-0.9zM317.7 111.3h0.9v0.9h-0.9zM325.8 104.1h0.9v0.9h-0.9zM338.0 98.2h0.9v0.9h-0.9zM329.2 90.2h0.9v0.9h-0.9zM332.1 97.9h0.9v0.9h-0.9zM326.3 98.4h0.9v0.9h-0.9zM323.8 107.8h0.9v0.9h-0.9zM334.2 98.6h0.9v0.9h-0.9zM325.6 104.2h0.9v0.9h-0.9zM327.9 106.1h0.9v0.9h-0.9zM320.4 101.9h0.9v0.9h-0.9zM329.5 106.0h0.9v0.9h-0.9zM322.6 104.9h0.9v0.9h-0.9zM327.4 105.8h0.9v0.9h-0.9zM322.1 109.9h0.9v0.9h-0.9zM317.2 100.1h0.9v0.9h-0.9zM333.1 90.8h0.9v0.9h-0.9zM326.3 104.8h0.9v0.9h-0.9zM329.4 108.7h0.9v0.9h-0.9zM329.0 101.9h0.9v0.9h-0.9zM329.6 101.0h0.9v0.9h-0.9zM317.5 106.5h0.9v0.9h-0.9zM329.2 108.2h0.9v0.9h-0.9zM334.8 103.4h0.9v0.9h-0.9zM327.2 102.7h0.9v0.9h-0.9zM325.9 102.9h0.9v0.9h-0.9zM327.7 92.5h0.9v0.9h-0.9zM325.7 109.4h0.9v0.9h-0.9zM333.9 109.6h0.9v0.9h-0.9zM325.9 108.2h0.9v0.9h-0.9zM335.6 99.3h0.9v0.9h-0.9zM319.7 115.1h0.9v0.9h-0.9zM320.5 105.2h0.9v0.9h-0.9zM327.6 109.7h0.9v0.9h-0.9zM325.2 97.9h0.9v0.9h-0.9zM327.9 100.5h0.9v0.9h-0.9zM332.4 97.5h0.9v0.9h-0.9zM322.1 114.0h0.9v0.9h-0.9zM330.2 101.1h0.9v0.9h-0.9zM325.9 106.4h0.9v0.9h-0.9zM321.2 105.7h0.9v0.9h-0.9zM324.6 98.4h0.9v0.9h-0.9zM322.5 108.8h0.9v0.9h-0.9zM315.6 112.9h0.9v0.9h-0.9zM320.8 103.0h0.9v0.9h-0.9zM316.4 108.8h0.9v0.9h-0.9zM322.0 106.2h0.9v0.9h-0.9zM322.3 98.0h0.9v0.9h-0.9zM323.5 99.4h0.9v0.9h-0.9zM327.8 92.3h0.9v0.9h-0.9zM325.7 105.4h0.9v0.9h-0.9zM321.0 112.7h0.9v0.9h-0.9zM328.6 112.3h0.9v0.9h-0.9zM318.1 105.3h0.9v0.9h-0.9zM319.2 108.7h0.9v0.9h-0.9zM330.3 103.8h0.9v0.9h-0.9zM322.8 106.8h0.9v0.9h-0.9zM317.1 113.3h0.9v0.9h-0.9zM333.6 104.3h0.9v0.9h-0.9zM324.6 103.8h0.9v0.9h-0.9zM324.2 99.6h0.9v0.9h-0.9zM322.7 100.5h0.9v0.9h-0.9zM329.5 101.5h0.9v0.9h-0.9zM327.0 104.5h0.9v0.9h-0.9zM327.1 94.7h0.9v0.9h-0.9zM324.9 99.6h0.9v0.9h-0.9zM329.1 103.2h0.9v0.9h-0.9zM329.3 103.2h0.9v0.9h-0.9zM318.3 109.9h0.9v0.9h-0.9zM327.1 106.2h0.9v0.9h-0.9zM326.6 106.6h0.9v0.9h-0.9zM321.8 99.0h0.9v0.9h-0.9zM319.6 110.2h0.9v0.9h-0.9zM333.8 96.6h0.9v0.9h-0.9zM324.8 102.2h0.9v0.9h-0.9zM315.1 105.4h0.9v0.9h-0.9zM318.3 112.0h0.9v0.9h-0.9zM327.0 107.1h0.9v0.9h-0.9zM330.1 108.0h0.9v0.9h-0.9zM317.0 102.8h0.9v0.9h-0.9zM333.7 109.4h0.9v0.9h-0.9zM320.3 104.7h0.9v0.9h-0.9zM330.9 103.3h0.9v0.9h-0.9zM326.5 110.4h0.9v0.9h-0.9zM328.6 106.4h0.9v0.9h-0.9zM330.4 99.4h0.9v0.9h-0.9zM333.1 88.4h0.9v0.9h-0.9zM323.7 110.5h0.9v0.9h-0.9zM322.1 104.8h0.9v0.9h-0.9zM315.5 102.6h0.9v0.9h-0.9zM337.1 106.3h0.9v0.9h-0.9zM323.4 111.4h0.9v0.9h-0.9zM329.2 110.5h0.9v0.9h-0.9zM323.3 102.1h0.9v0.9h-0.9zM326.2 112.2h0.9v0.9h-0.9zM326.6 112.4h0.9v0.9h-0.9zM328.4 109.9h0.9v0.9h-0.9zM317.5 114.6h0.9v0.9h-0.9zM316.8 108.6h0.9v0.9h-0.9zM323.8 105.7h0.9v0.9h-0.9zM320.4 98.3h0.9v0.9h-0.9zM320.5 101.1h0.9v0.9h-0.9zM319.1 113.2h0.9v0.9h-0.9zM321.3 104.1h0.9v0.9h-0.9zM328.8 99.6h0.9v0.9h-0.9zM327.9 100.9h0.9v0.9h-0.9zM331.1 108.7h0.9v0.9h-0.9zM326.1 111.4h0.9v0.9h-0.9zM328.4 100.7h0.9v0.9h-0.9zM327.1 109.6h0.9v0.9h-0.9zM319.1 108.2h0.9v0.9h-0.9zM321.8 107.3h0.9v0.9h-0.9zM334.4 98.7h0.9v0.9h-0.9zM323.4 100.1h0.9v0.9h-0.9zM329.9 97.5h0.9v0.9h-0.9zM320.4 103.5h0.9v0.9h-0.9zM330.1 99.5h0.9v0.9h-0.9zM328.2 110.7h0.9v0.9h-0.9zM323.3 103.1h0.9v0.9h-0.9zM336.7 91.9h0.9v0.9h-0.9zM326.6 98.1h0.9v0.9h-0.9zM320.8 104.0h0.9v0.9h-0.9zM322.2 101.7h0.9v0.9h-0.9zM331.4 105.6h0.9v0.9h-0.9zM337.5 103.1h0.9v0.9h-0.9zM325.4 107.6h0.9v0.9h-0.9zM317.0 111.2h0.9v0.9h-0.9zM326.9 107.0h0.9v0.9h-0.9zM325.1 103.2h0.9v0.9h-0.9zM328.7 105.2h0.9v0.9h-0.9zM332.1 98.0h0.9v0.9h-0.9zM328.1 103.0h0.9v0.9h-0.9zM331.0 101.2h0.9v0.9h-0.9zM319.9 108.3h0.9v0.9h-0.9zM328.4 98.7h0.9v0.9h-0.9zM329.6 89.5h0.9v0.9h-0.9zM327.9 99.1h0.9v0.9h-0.9zM323.0 99.5h0.9v0.9h-0.9zM326.2 102.9h0.9v0.9h-0.9zM330.5 92.8h0.9v0.9h-0.9zM322.5 108.9h0.9v0.9h-0.9zM326.8 105.6h0.9v0.9h-0.9zM323.9 98.5h0.9v0.9h-0.9zM326.7 98.4h0.9v0.9h-0.9zM321.6 104.1h0.9v0.9h-0.9zM329.3 104.1h0.9v0.9h-0.9zM329.7 109.2h0.9v0.9h-0.9zM328.9 105.3h0.9v0.9h-0.9zM324.5 103.9h0.9v0.9h-0.9zM325.5 113.1h0.9v0.9h-0.9zM321.7 100.7h0.9v0.9h-0.9zM333.7 102.9h0.9v0.9h-0.9zM320.3 107.4h0.9v0.9h-0.9zM317.2 99.0h0.9v0.9h-0.9zM336.1 106.5h0.9v0.9h-0.9zM326.1 112.9h0.9v0.9h-0.9zM323.8 100.8h0.9v0.9h-0.9zM322.2 109.8h0.9v0.9h-0.9zM330.0 97.8h0.9v0.9h-0.9zM335.6 92.5h0.9v0.9h-0.9zM330.0 90.4h0.9v0.9h-0.9zM323.2 103.6h0.9v0.9h-0.9zM330.3 101.3h0.9v0.9h-0.9zM327.1 103.9h0.9v0.9h-0.9zM329.8 106.2h0.9v0.9h-0.9zM332.5 96.3h0.9v0.9h-0.9zM327.3 115.9h0.9v0.9h-0.9zM328.2 97.1h0.9v0.9h-0.9zM326.5 104.8h0.9v0.9h-0.9zM326.3 92.6h0.9v0.9h-0.9zM323.2 100.3h0.9v0.9h-0.9zM327.0 110.4h0.9v0.9h-0.9zM324.5 100.5h0.9v0.9h-0.9zM330.5 101.5h0.9v0.9h-0.9zM326.0 103.7h0.9v0.9h-0.9zM325.0 99.2h0.9v0.9h-0.9zM322.9 105.9h0.9v0.9h-0.9zM316.0 113.7h0.9v0.9h-0.9zM328.3 98.3h0.9v0.9h-0.9zM330.9 102.1h0.9v0.9h-0.9zM328.4 104.7h0.9v0.9h-0.9zM324.7 102.4h0.9v0.9h-0.9zM327.6 96.7h0.9v0.9h-0.9zM325.0 106.9h0.9v0.9h-0.9zM322.9 107.4h0.9v0.9h-0.9zM328.1 107.3h0.9v0.9h-0.9zM338.2 103.9h0.9v0.9h-0.9zM322.8 112.9h0.9v0.9h-0.9zM330.7 97.9h0.9v0.9h-0.9zM322.9 106.9h0.9v0.9h-0.9zM319.2 107.7h0.9v0.9h-0.9zM328.5 95.6h0.9v0.9h-0.9zM322.8 102.3h0.9v0.9h-0.9zM319.6 109.7h0.9v0.9h-0.9zM323.4 104.9h0.9v0.9h-0.9zM331.8 100.9h0.9v0.9h-0.9zM329.7 97.1h0.9v0.9h-0.9zM323.7 105.7h0.9v0.9h-0.9zM324.2 99.2h0.9v0.9h-0.9zM333.5 104.1h0.9v0.9h-0.9zM324.8 108.4h0.9v0.9h-0.9zM332.5 106.2h0.9v0.9h-0.9zM328.1 105.9h0.9v0.9h-0.9zM328.0 110.0h0.9v0.9h-0.9zM323.3 105.9h0.9v0.9h-0.9zM328.3 105.3h0.9v0.9h-0.9zM333.7 109.9h0.9v0.9h-0.9zM320.3 104.1h0.9v0.9h-0.9zM327.6 108.8h0.9v0.9h-0.9zM335.3 102.1h0.9v0.9h-0.9zM328.0 103.9h0.9v0.9h-0.9zM331.7 101.2h0.9v0.9h-0.9zM334.4 100.8h0.9v0.9h-0.9zM326.5 99.5h0.9v0.9h-0.9zM336.3 93.4h0.9v0.9h-0.9zM320.2 106.2h0.9v0.9h-0.9zM327.3 98.4h0.9v0.9h-0.9zM322.9 104.2h0.9v0.9h-0.9zM333.1 94.3h0.9v0.9h-0.9zM333.3 95.7h0.9v0.9h-0.9zM319.4 114.9h0.9v0.9h-0.9zM318.0 105.7h0.9v0.9h-0.9zM334.4 105.2h0.9v0.9h-0.9zM332.5 102.6h0.9v0.9h-0.9zM331.1 101.9h0.9v0.9h-0.9zM324.7 103.5h0.9v0.9h-0.9zM327.6 101.5h0.9v0.9h-0.9zM330.2 101.9h0.9v0.9h-0.9zM326.9 105.3h0.9v0.9h-0.9zM325.3 95.0h0.9v0.9h-0.9zM319.0 117.2h0.9v0.9h-0.9zM336.9 107.5h0.9v0.9h-0.9zM316.5 105.0h0.9v0.9h-0.9zM332.7 101.4h0.9v0.9h-0.9zM326.1 106.0h0.9v0.9h-0.9zM322.1 108.3h0.9v0.9h-0.9zM331.5 105.2h0.9v0.9h-0.9zM318.9 105.9h0.9v0.9h-0.9zM322.8 109.0h0.9v0.9h-0.9zM323.9 115.3h0.9v0.9h-0.9zM325.3 103.7h0.9v0.9h-0.9zM326.8 100.5h0.9v0.9h-0.9zM330.5 99.1h0.9v0.9h-0.9zM324.1 103.7h0.9v0.9h-0.9zM334.7 102.2h0.9v0.9h-0.9zM323.5 101.8h0.9v0.9h-0.9zM328.1 106.5h0.9v0.9h-0.9zM324.7 98.2h0.9v0.9h-0.9zM332.2 100.2h0.9v0.9h-0.9zM324.3 105.5h0.9v0.9h-0.9zM317.6 99.3h0.9v0.9h-0.9zM325.3 104.8h0.9v0.9h-0.9zM323.3 101.1h0.9v0.9h-0.9zM321.1 107.5h0.9v0.9h-0.9zM334.6 102.3h0.9v0.9h-0.9zM321.2 103.5h0.9v0.9h-0.9zM324.8 99.2h0.9v0.9h-0.9zM326.8 111.5h0.9v0.9h-0.9zM327.8 102.4h0.9v0.9h-0.9zM332.0 105.6h0.9v0.9h-0.9zM325.2 106.9h0.9v0.9h-0.9zM331.6 91.7h0.9v0.9h-0.9zM327.3 102.0h0.9v0.9h-0.9zM336.7 97.8h0.9v0.9h-0.9zM332.6 101.3h0.9v0.9h-0.9zM323.3 107.4h0.9v0.9h-0.9zM324.6 106.0h0.9v0.9h-0.9zM327.4 101.5h0.9v0.9h-0.9zM324.6 102.4h0.9v0.9h-0.9zM331.8 108.2h0.9v0.9h-0.9zM324.9 105.5h0.9v0.9h-0.9zM315.4 110.6h0.9v0.9h-0.9zM323.7 104.0h0.9v0.9h-0.9zM319.2 116.9h0.9v0.9h-0.9zM329.4 103.6h0.9v0.9h-0.9zM322.7 107.4h0.9v0.9h-0.9zM321.2 106.1h0.9v0.9h-0.9zM325.2 105.2h0.9v0.9h-0.9zM322.3 98.8h0.9v0.9h-0.9zM316.5 108.3h0.9v0.9h-0.9zM321.3 114.7h0.9v0.9h-0.9zM320.3 108.3h0.9v0.9h-0.9zM318.9 115.2h0.9v0.9h-0.9zM325.6 111.7h0.9v0.9h-0.9zM334.3 97.4h0.9v0.9h-0.9zM321.8 109.4h0.9v0.9h-0.9zM334.8 105.6h0.9v0.9h-0.9zM322.4 112.5h0.9v0.9h-0.9zM326.2 101.7h0.9v0.9h-0.9zM326.8 107.3h0.9v0.9h-0.9zM326.9 105.2h0.9v0.9h-0.9zM325.8 99.2h0.9v0.9h-0.9zM333.3 95.3h0.9v0.9h-0.9zM326.3 102.6h0.9v0.9h-0.9zM320.8 98.9h0.9v0.9h-0.9zM321.6 108.5h0.9v0.9h-0.9zM327.5 100.4h0.9v0.9h-0.9zM323.7 104.2h0.9v0.9h-0.9zM324.6 96.0h0.9v0.9h-0.9zM324.8 103.4h0.9v0.9h-0.9zM332.9 95.1h0.9v0.9h-0.9zM318.3 114.3h0.9v0.9h-0.9zM321.5 102.9h0.9v0.9h-0.9zM331.4 101.0h0.9v0.9h-0.9zM321.1 103.0h0.9v0.9h-0.9zM322.2 107.5h0.9v0.9h-0.9z" fill="#d8a0dc" fill-opacity="0.55"/>
<path d="M329.9 100.6h0.9v0.9h-0.9zM319.7 105.2h0.9v0.9h-0.9zM325.3 108.5h0.9v0.9h-0.9zM331.0 102.9h0.9v0.9h-0.9zM321.5 104.6h0.9v0.9h-0.9zM321.3 104.0h0.9v0.9h-0.9zM326.4 104.7h0.9v0.9h-0.9zM326.9 99.8h0.9v0.9h-0.9zM313.3 109.8h0.9v0.9h-0.9zM324.1 109.5h0.9v0.9h-0.9zM322.2 109.2h0.9v0.9h-0.9zM320.7 108.5h0.9v0.9h-0.9zM326.6 111.7h0.9v0.9h-0.9zM322.7 108.5h0.9v0.9h-0.9zM324.4 102.6h0.9v0.9h-0.9zM322.4 108.6h0.9v0.9h-0.9zM323.3 102.8h0.9v0.9h-0.9zM324.7 102.2h0.9v0.9h-0.9zM323.5 108.5h0.9v0.9h-0.9zM324.3 103.6h0.9v0.9h-0.9zM329.2 97.9h0.9v0.9h-0.9zM329.4 106.4h0.9v0.9h-0.9zM324.8 108.9h0.9v0.9h-0.9zM326.4 106.5h0.9v0.9h-0.9zM323.2 109.4h0.9v0.9h-0.9zM326.8 104.7h0.9v0.9h-0.9zM330.6 104.0h0.9v0.9h-0.9zM322.4 108.2h0.9v0.9h-0.9zM328.1 108.8h0.9v0.9h-0.9zM326.5 99.1h0.9v0.9h-0.9zM322.9 106.5h0.9v0.9h-0.9zM322.8 102.0h0.9v0.9h-0.9zM321.1 108.4h0.9v0.9h-0.9zM323.5 109.0h0.9v0.9h-0.9zM326.4 109.3h0.9v0.9h-0.9zM330.2 95.7h0.9v0.9h-0.9zM323.8 106.6h0.9v0.9h-0.9zM322.7 106.4h0.9v0.9h-0.9zM321.8 106.0h0.9v0.9h-0.9zM322.1 103.7h0.9v0.9h-0.9zM327.1 102.6h0.9v0.9h-0.9zM322.1 101.5h0.9v0.9h-0.9zM331.4 97.4h0.9v0.9h-0.9zM325.7 104.2h0.9v0.9h-0.9zM328.0 98.4h0.9v0.9h-0.9zM323.8 102.3h0.9v0.9h-0.9zM324.0 100.5h0.9v0.9h-0.9zM324.4 113.5h0.9v0.9h-0.9zM321.9 103.3h0.9v0.9h-0.9zM328.0 107.8h0.9v0.9h-0.9zM325.5 106.9h0.9v0.9h-0.9zM317.8 112.6h0.9v0.9h-0.9zM325.3 99.8h0.9v0.9h-0.9zM325.9 108.2h0.9v0.9h-0.9zM327.2 109.5h0.9v0.9h-0.9zM322.3 104.5h0.9v0.9h-0.9zM323.7 105.4h0.9v0.9h-0.9zM328.4 105.1h0.9v0.9h-0.9zM321.8 110.4h0.9v0.9h-0.9zM326.2 111.8h0.9v0.9h-0.9zM324.7 103.0h0.9v0.9h-0.9zM326.5 105.3h0.9v0.9h-0.9zM321.3 104.4h0.9v0.9h-0.9zM327.5 110.6h0.9v0.9h-0.9zM321.0 107.0h0.9v0.9h-0.9zM320.3 101.7h0.9v0.9h-0.9zM328.3 100.3h0.9v0.9h-0.9zM321.5 108.8h0.9v0.9h-0.9zM333.5 102.3h0.9v0.9h-0.9zM326.9 101.2h0.9v0.9h-0.9zM323.6 106.7h0.9v0.9h-0.9zM328.6 103.0h0.9v0.9h-0.9zM323.8 113.1h0.9v0.9h-0.9zM319.6 111.5h0.9v0.9h-0.9zM323.2 111.6h0.9v0.9h-0.9zM324.8 107.4h0.9v0.9h-0.9zM323.4 105.8h0.9v0.9h-0.9zM323.6 107.1h0.9v0.9h-0.9zM325.4 104.7h0.9v0.9h-0.9zM316.7 111.6h0.9v0.9h-0.9zM329.0 105.1h0.9v0.9h-0.9zM317.9 108.2h0.9v0.9h-0.9zM325.4 109.4h0.9v0.9h-0.9zM325.7 108.1h0.9v0.9h-0.9zM321.3 109.2h0.9v0.9h-0.9zM319.3 109.0h0.9v0.9h-0.9zM321.5 108.5h0.9v0.9h-0.9zM325.9 105.8h0.9v0.9h-0.9zM328.3 104.0h0.9v0.9h-0.9zM327.3 103.3h0.9v0.9h-0.9zM324.0 110.4h0.9v0.9h-0.9zM321.5 107.1h0.9v0.9h-0.9zM322.7 108.9h0.9v0.9h-0.9zM323.2 100.8h0.9v0.9h-0.9zM320.4 114.0h0.9v0.9h-0.9zM329.1 100.5h0.9v0.9h-0.9zM322.7 106.2h0.9v0.9h-0.9zM325.0 109.9h0.9v0.9h-0.9zM327.4 104.8h0.9v0.9h-0.9zM322.4 96.5h0.9v0.9h-0.9zM326.1 103.8h0.9v0.9h-0.9zM325.2 98.7h0.9v0.9h-0.9zM327.6 106.2h0.9v0.9h-0.9zM333.8 104.3h0.9v0.9h-0.9zM327.7 99.4h0.9v0.9h-0.9zM324.9 105.5h0.9v0.9h-0.9zM328.8 99.1h0.9v0.9h-0.9zM326.2 104.9h0.9v0.9h-0.9zM326.6 105.7h0.9v0.9h-0.9zM324.8 110.6h0.9v0.9h-0.9zM322.1 104.5h0.9v0.9h-0.9zM330.5 104.6h0.9v0.9h-0.9zM319.1 108.5h0.9v0.9h-0.9zM327.5 103.0h0.9v0.9h-0.9zM328.4 105.5h0.9v0.9h-0.9zM327.3 105.1h0.9v0.9h-0.9zM316.4 111.9h0.9v0.9h-0.9zM323.3 104.3h0.9v0.9h-0.9zM326.0 101.8h0.9v0.9h-0.9zM322.6 107.8h0.9v0.9h-0.9zM327.6 106.5h0.9v0.9h-0.9zM315.2 112.0h0.9v0.9h-0.9zM328.0 103.2h0.9v0.9h-0.9zM324.2 108.5h0.9v0.9h-0.9zM328.8 102.6h0.9v0.9h-0.9zM320.4 112.8h0.9v0.9h-0.9zM330.2 104.8h0.9v0.9h-0.9zM325.3 106.7h0.9v0.9h-0.9zM329.2 103.3h0.9v0.9h-0.9zM323.3 109.4h0.9v0.9h-0.9zM326.8 110.2h0.9v0.9h-0.9zM327.9 93.4h0.9v0.9h-0.9zM325.1 110.2h0.9v0.9h-0.9zM322.3 107.3h0.9v0.9h-0.9zM323.6 105.6h0.9v0.9h-0.9zM319.9 107.3h0.9v0.9h-0.9zM324.8 97.5h0.9v0.9h-0.9zM329.4 97.8h0.9v0.9h-0.9zM321.5 106.6h0.9v0.9h-0.9zM320.8 112.4h0.9v0.9h-0.9zM325.6 98.2h0.9v0.9h-0.9zM331.3 103.1h0.9v0.9h-0.9zM328.0 102.3h0.9v0.9h-0.9zM328.0 100.2h0.9v0.9h-0.9zM320.9 107.2h0.9v0.9h-0.9zM322.9 104.4h0.9v0.9h-0.9zM318.5 108.4h0.9v0.9h-0.9zM319.6 109.5h0.9v0.9h-0.9zM328.0 101.3h0.9v0.9h-0.9zM322.6 107.3h0.9v0.9h-0.9zM329.0 94.1h0.9v0.9h-0.9zM324.7 104.3h0.9v0.9h-0.9zM321.3 106.0h0.9v0.9h-0.9zM327.7 102.2h0.9v0.9h-0.9zM334.2 101.2h0.9v0.9h-0.9zM327.7 104.2h0.9v0.9h-0.9zM320.7 109.1h0.9v0.9h-0.9zM322.8 101.0h0.9v0.9h-0.9zM326.3 97.5h0.9v0.9h-0.9zM320.1 104.2h0.9v0.9h-0.9zM324.1 109.1h0.9v0.9h-0.9zM326.5 99.9h0.9v0.9h-0.9zM325.6 104.6h0.9v0.9h-0.9zM320.4 108.2h0.9v0.9h-0.9zM324.0 106.6h0.9v0.9h-0.9zM325.6 110.1h0.9v0.9h-0.9zM324.5 102.8h0.9v0.9h-0.9zM324.6 104.0h0.9v0.9h-0.9zM326.8 99.3h0.9v0.9h-0.9zM328.9 103.7h0.9v0.9h-0.9zM318.2 109.3h0.9v0.9h-0.9zM323.9 101.6h0.9v0.9h-0.9zM324.9 99.4h0.9v0.9h-0.9zM323.5 101.0h0.9v0.9h-0.9zM329.1 101.8h0.9v0.9h-0.9zM328.5 111.2h0.9v0.9h-0.9zM320.1 107.0h0.9v0.9h-0.9zM329.7 103.0h0.9v0.9h-0.9zM322.3 109.5h0.9v0.9h-0.9zM316.2 111.4h0.9v0.9h-0.9zM327.5 100.7h0.9v0.9h-0.9zM322.3 107.4h0.9v0.9h-0.9zM322.7 105.1h0.9v0.9h-0.9zM324.7 113.4h0.9v0.9h-0.9zM317.1 107.0h0.9v0.9h-0.9zM322.3 110.0h0.9v0.9h-0.9zM324.6 106.9h0.9v0.9h-0.9zM324.9 102.7h0.9v0.9h-0.9zM318.4 114.0h0.9v0.9h-0.9zM329.1 103.6h0.9v0.9h-0.9zM321.7 109.7h0.9v0.9h-0.9zM322.6 109.7h0.9v0.9h-0.9zM328.5 103.5h0.9v0.9h-0.9zM320.7 102.0h0.9v0.9h-0.9zM323.4 113.2h0.9v0.9h-0.9zM335.2 101.7h0.9v0.9h-0.9zM324.4 109.9h0.9v0.9h-0.9zM327.8 105.7h0.9v0.9h-0.9zM322.7 102.0h0.9v0.9h-0.9zM329.0 99.4h0.9v0.9h-0.9zM322.0 105.4h0.9v0.9h-0.9zM326.9 100.2h0.9v0.9h-0.9zM324.7 109.4h0.9v0.9h-0.9zM326.8 99.4h0.9v0.9h-0.9zM322.4 107.7h0.9v0.9h-0.9zM320.0 103.3h0.9v0.9h-0.9zM330.4 97.5h0.9v0.9h-0.9zM326.1 103.9h0.9v0.9h-0.9zM323.9 103.4h0.9v0.9h-0.9zM330.3 95.3h0.9v0.9h-0.9zM329.9 106.7h0.9v0.9h-0.9zM320.1 106.2h0.9v0.9h-0.9zM325.1 100.5h0.9v0.9h-0.9zM319.8 108.2h0.9v0.9h-0.9zM330.8 102.6h0.9v0.9h-0.9zM332.9 103.8h0.9v0.9h-0.9zM323.9 107.7h0.9v0.9h-0.9zM321.6 106.2h0.9v0.9h-0.9zM324.7 103.6h0.9v0.9h-0.9zM327.2 106.7h0.9v0.9h-0.9zM320.2 107.2h0.9v0.9h-0.9zM329.7 105.2h0.9v0.9h-0.9zM321.7 115.0h0.9v0.9h-0.9zM323.8 106.8h0.9v0.9h-0.9zM325.1 107.6h0.9v0.9h-0.9zM325.7 107.2h0.9v0.9h-0.9zM329.1 106.3h0.9v0.9h-0.9zM319.2 108.0h0.9v0.9h-0.9zM329.2 104.7h0.9v0.9h-0.9zM323.7 105.1h0.9v0.9h-0.9zM321.5 106.2h0.9v0.9h-0.9zM321.1 110.4h0.9v0.9h-0.9zM321.0 109.2h0.9v0.9h-0.9zM324.1 102.0h0.9v0.9h-0.9zM318.8 106.1h0.9v0.9h-0.9zM323.3 103.2h0.9v0.9h-0.9zM331.2 103.3h0.9v0.9h-0.9zM332.1 104.2h0.9v0.9h-0.9zM331.0 100.1h0.9v0.9h-0.9zM326.5 108.0h0.9v0.9h-0.9zM320.7 108.3h0.9v0.9h-0.9zM327.9 101.0h0.9v0.9h-0.9zM326.5 104.3h0.9v0.9h-0.9zM326.2 99.0h0.9v0.9h-0.9zM323.0 103.4h0.9v0.9h-0.9zM328.8 100.6h0.9v0.9h-0.9zM326.9 101.3h0.9v0.9h-0.9zM325.0 100.6h0.9v0.9h-0.9zM327.3 103.7h0.9v0.9h-0.9zM325.7 103.1h0.9v0.9h-0.9zM327.8 105.8h0.9v0.9h-0.9zM325.7 104.1h0.9v0.9h-0.9zM327.4 100.8h0.9v0.9h-0.9zM323.7 107.2h0.9v0.9h-0.9zM329.9 98.1h0.9v0.9h-0.9zM323.3 104.3h0.9v0.9h-0.9zM327.2 100.6h0.9v0.9h-0.9zM326.2 106.6h0.9v0.9h-0.9zM325.6 107.0h0.9v0.9h-0.9zM333.8 99.3h0.9v0.9h-0.9zM320.6 103.4h0.9v0.9h-0.9zM320.3 109.2h0.9v0.9h-0.9zM322.0 107.0h0.9v0.9h-0.9zM324.4 106.5h0.9v0.9h-0.9zM330.6 96.1h0.9v0.9h-0.9zM324.6 103.4h0.9v0.9h-0.9zM329.4 102.7h0.9v0.9h-0.9zM322.3 109.1h0.9v0.9h-0.9zM323.7 101.8h0.9v0.9h-0.9zM329.7 104.6h0.9v0.9h-0.9zM332.5 99.8h0.9v0.9h-0.9zM321.7 106.7h0.9v0.9h-0.9zM328.5 104.0h0.9v0.9h-0.9zM324.4 102.7h0.9v0.9h-0.9zM324.2 110.7h0.9v0.9h-0.9zM324.5 104.7h0.9v0.9h-0.9zM322.6 104.7h0.9v0.9h-0.9zM317.2 113.2h0.9v0.9h-0.9zM325.3 101.5h0.9v0.9h-0.9zM327.0 103.3h0.9v0.9h-0.9zM324.0 107.0h0.9v0.9h-0.9zM321.0 110.1h0.9v0.9h-0.9zM328.3 98.5h0.9v0.9h-0.9zM318.4 98.1h0.9v0.9h-0.9zM328.3 101.3h0.9v0.9h-0.9zM325.4 96.6h0.9v0.9h-0.9zM323.9 107.4h0.9v0.9h-0.9zM329.7 103.7h0.9v0.9h-0.9zM324.8 106.4h0.9v0.9h-0.9zM324.0 104.6h0.9v0.9h-0.9zM324.4 105.0h0.9v0.9h-0.9zM324.7 104.8h0.9v0.9h-0.9zM327.3 99.9h0.9v0.9h-0.9zM324.2 103.6h0.9v0.9h-0.9zM322.7 104.1h0.9v0.9h-0.9zM326.6 108.0h0.9v0.9h-0.9zM326.0 103.7h0.9v0.9h-0.9zM324.2 109.9h0.9v0.9h-0.9zM323.0 106.5h0.9v0.9h-0.9zM325.0 105.3h0.9v0.9h-0.9zM322.9 106.9h0.9v0.9h-0.9zM325.6 106.2h0.9v0.9h-0.9zM324.8 108.7h0.9v0.9h-0.9zM331.5 97.8h0.9v0.9h-0.9zM327.7 98.9h0.9v0.9h-0.9zM324.8 102.0h0.9v0.9h-0.9zM328.2 107.9h0.9v0.9h-0.9zM331.1 96.2h0.9v0.9h-0.9zM325.4 103.3h0.9v0.9h-0.9zM327.7 107.7h0.9v0.9h-0.9zM328.1 105.6h0.9v0.9h-0.9zM327.0 104.7h0.9v0.9h-0.9zM328.5 99.0h0.9v0.9h-0.9zM329.7 108.9h0.9v0.9h-0.9zM332.1 97.7h0.9v0.9h-0.9zM323.4 109.2h0.9v0.9h-0.9zM326.8 102.1h0.9v0.9h-0.9zM319.1 106.5h0.9v0.9h-0.9zM327.8 95.9h0.9v0.9h-0.9zM324.8 106.9h0.9v0.9h-0.9zM325.6 105.9h0.9v0.9h-0.9zM327.3 101.1h0.9v0.9h-0.9zM326.4 98.3h0.9v0.9h-0.9zM318.7 106.9h0.9v0.9h-0.9zM323.3 105.8h0.9v0.9h-0.9zM317.8 108.0h0.9v0.9h-0.9zM327.2 105.9h0.9v0.9h-0.9zM327.0 107.2h0.9v0.9h-0.9zM329.7 110.9h0.9v0.9h-0.9zM324.7 109.0h0.9v0.9h-0.9zM322.6 105.5h0.9v0.9h-0.9zM321.0 106.4h0.9v0.9h-0.9zM319.6 97.4h0.9v0.9h-0.9zM328.4 98.3h0.9v0.9h-0.9zM318.8 112.1h0.9v0.9h-0.9zM326.6 107.0h0.9v0.9h-0.9zM325.0 107.6h0.9v0.9h-0.9zM327.7 104.1h0.9v0.9h-0.9zM322.6 109.0h0.9v0.9h-0.9zM325.9 106.6h0.9v0.9h-0.9zM324.8 111.3h0.9v0.9h-0.9zM324.9 100.6h0.9v0.9h-0.9zM324.4 103.9h0.9v0.9h-0.9zM321.7 103.4h0.9v0.9h-0.9zM329.4 106.2h0.9v0.9h-0.9zM326.9 108.0h0.9v0.9h-0.9zM321.8 112.1h0.9v0.9h-0.9zM324.4 100.8h0.9v0.9h-0.9zM326.2 104.2h0.9v0.9h-0.9zM324.1 105.2h0.9v0.9h-0.9zM328.1 101.4h0.9v0.9h-0.9zM328.3 100.1h0.9v0.9h-0.9zM322.8 110.0h0.9v0.9h-0.9zM321.8 107.3h0.9v0.9h-0.9zM331.4 100.5h0.9v0.9h-0.9zM329.8 100.0h0.9v0.9h-0.9zM322.2 107.3h0.9v0.9h-0.9zM321.2 109.3h0.9v0.9h-0.9zM322.2 106.7h0.9v0.9h-0.9zM325.1 108.2h0.9v0.9h-0.9zM319.7 110.6h0.9v0.9h-0.9zM325.7 105.4h0.9v0.9h-0.9zM320.3 109.2h0.9v0.9h-0.9zM318.3 107.2h0.9v0.9h-0.9zM329.6 103.0h0.9v0.9h-0.9zM320.8 105.9h0.9v0.9h-0.9zM326.2 106.4h0.9v0.9h-0.9zM327.8 103.3h0.9v0.9h-0.9zM324.1 99.2h0.9v0.9h-0.9zM322.1 104.8h0.9v0.9h-0.9zM324.1 104.0h0.9v0.9h-0.9zM320.8 106.8h0.9v0.9h-0.9zM327.9 96.5h0.9v0.9h-0.9zM328.5 103.7h0.9v0.9h-0.9zM321.2 108.8h0.9v0.9h-0.9zM325.8 105.6h0.9v0.9h-0.9zM326.3 101.6h0.9v0.9h-0.9zM327.1 103.7h0.9v0.9h-0.9zM329.0 96.8h0.9v0.9h-0.9zM329.1 99.7h0.9v0.9h-0.9zM324.5 108.0h0.9v0.9h-0.9zM324.8 105.4h0.9v0.9h-0.9zM320.2 109.1h0.9v0.9h-0.9zM323.6 102.3h0.9v0.9h-0.9zM325.8 104.7h0.9v0.9h-0.9zM333.9 95.3h0.9v0.9h-0.9zM324.8 104.2h0.9v0.9h-0.9zM317.1 111.7h0.9v0.9h-0.9zM324.1 108.4h0.9v0.9h-0.9zM330.4 108.6h0.9v0.9h-0.9zM320.6 109.3h0.9v0.9h-0.9zM323.1 108.8h0.9v0.9h-0.9zM324.7 107.0h0.9v0.9h-0.9zM320.8 99.6h0.9v0.9h-0.9zM324.8 105.8h0.9v0.9h-0.9zM320.9 107.2h0.9v0.9h-0.9zM330.2 104.2h0.9v0.9h-0.9zM322.9 106.6h0.9v0.9h-0.9zM321.9 105.6h0.9v0.9h-0.9zM320.4 109.9h0.9v0.9h-0.9zM323.0 108.3h0.9v0.9h-0.9zM325.8 101.6h0.9v0.9h-0.9zM320.0 111.1h0.9v0.9h-0.9zM322.0 103.1h0.9v0.9h-0.9zM326.7 101.9h0.9v0.9h-0.9zM325.4 107.7h0.9v0.9h-0.9zM329.7 107.3h0.9v0.9h-0.9zM323.1 110.4h0.9v0.9h-0.9zM329.5 100.5h0.9v0.9h-0.9zM330.7 102.7h0.9v0.9h-0.9zM327.8 105.7h0.9v0.9h-0.9zM323.1 114.4h0.9v0.9h-0.9zM324.0 110.7h0.9v0.9h-0.9zM327.7 101.1h0.9v0.9h-0.9zM330.7 98.9h0.9v0.9h-0.9zM326.3 104.2h0.9v0.9h-0.9zM329.4 100.7h0.9v0.9h-0.9zM323.6 107.6h0.9v0.9h-0.9zM322.8 104.5h0.9v0.9h-0.9zM320.7 101.6h0.9v0.9h-0.9z" fill="#ac48b0" fill-opacity="0.55"/>
<path d="M322.0 107.5h0.9v0.9h-0.9zM320.6 112.5h0.9v0.9h-0.9zM321.9 104.0h0.9v0.9h-0.9zM327.6 108.8h0.9v0.9h-0.9zM322.2 112.2h0.9v0.9h-0.9zM325.2 103.8h0.9v0.9h-0.9zM324.1 102.1h0.9v0.9h-0.9zM324.8 106.2h0.9v0.9h-0.9zM324.8 99.0h0.9v0.9h-0.9zM326.9 99.8h0.9v0.9h-0.9zM322.5 110.3h0.9v0.9h-0.9zM326.4 103.2h0.9v0.9h-0.9zM324.2 104.2h0.9v0.9h-0.9zM326.4 106.0h0.9v0.9h-0.9zM324.5 102.1h0.9v0.9h-0.9zM322.9 108.4h0.9v0.9h-0.9zM321.9 107.0h0.9v0.9h-0.9zM320.8 107.3h0.9v0.9h-0.9zM323.0 108.7h0.9v0.9h-0.9zM322.2 105.0h0.9v0.9h-0.9zM323.7 112.4h0.9v0.9h-0.9zM320.8 108.2h0.9v0.9h-0.9zM328.4 106.9h0.9v0.9h-0.9zM322.1 104.8h0.9v0.9h-0.9zM325.8 105.7h0.9v0.9h-0.9zM317.9 109.8h0.9v0.9h-0.9zM320.2 106.5h0.9v0.9h-0.9zM323.0 107.7h0.9v0.9h-0.9zM325.1 106.7h0.9v0.9h-0.9zM320.7 106.1h0.9v0.9h-0.9zM327.9 104.9h0.9v0.9h-0.9zM322.6 105.2h0.9v0.9h-0.9zM324.2 106.1h0.9v0.9h-0.9zM324.6 106.4h0.9v0.9h-0.9zM326.5 104.8h0.9v0.9h-0.9zM320.2 105.1h0.9v0.9h-0.9zM329.0 104.9h0.9v0.9h-0.9zM325.9 105.4h0.9v0.9h-0.9zM323.7 105.0h0.9v0.9h-0.9zM322.5 104.6h0.9v0.9h-0.9zM322.5 102.4h0.9v0.9h-0.9zM324.1 101.5h0.9v0.9h-0.9zM326.9 104.0h0.9v0.9h-0.9zM324.3 104.5h0.9v0.9h-0.9zM324.2 102.2h0.9v0.9h-0.9zM323.4 105.0h0.9v0.9h-0.9zM329.2 104.4h0.9v0.9h-0.9zM323.4 105.7h0.9v0.9h-0.9zM318.5 111.1h0.9v0.9h-0.9zM329.1 103.9h0.9v0.9h-0.9zM325.0 106.3h0.9v0.9h-0.9zM321.5 109.3h0.9v0.9h-0.9zM322.6 105.8h0.9v0.9h-0.9zM319.6 106.5h0.9v0.9h-0.9zM326.8 98.7h0.9v0.9h-0.9zM324.4 104.0h0.9v0.9h-0.9zM320.2 110.1h0.9v0.9h-0.9zM325.8 104.9h0.9v0.9h-0.9zM324.0 107.8h0.9v0.9h-0.9zM328.6 100.9h0.9v0.9h-0.9zM322.0 109.2h0.9v0.9h-0.9zM317.4 111.0h0.9v0.9h-0.9zM320.8 103.1h0.9v0.9h-0.9zM322.4 106.3h0.9v0.9h-0.9zM321.6 106.0h0.9v0.9h-0.9zM318.2 111.2h0.9v0.9h-0.9zM324.5 104.5h0.9v0.9h-0.9zM325.8 99.8h0.9v0.9h-0.9zM318.0 109.9h0.9v0.9h-0.9zM326.4 102.6h0.9v0.9h-0.9zM322.9 107.7h0.9v0.9h-0.9zM328.2 98.6h0.9v0.9h-0.9zM325.7 105.4h0.9v0.9h-0.9zM323.2 106.3h0.9v0.9h-0.9zM324.9 101.7h0.9v0.9h-0.9zM325.2 104.6h0.9v0.9h-0.9zM325.6 110.0h0.9v0.9h-0.9zM324.5 103.2h0.9v0.9h-0.9zM324.7 108.9h0.9v0.9h-0.9zM322.2 112.7h0.9v0.9h-0.9zM330.8 102.2h0.9v0.9h-0.9zM321.9 106.0h0.9v0.9h-0.9zM325.8 110.2h0.9v0.9h-0.9zM324.9 105.2h0.9v0.9h-0.9zM320.1 110.0h0.9v0.9h-0.9zM320.6 109.5h0.9v0.9h-0.9zM323.8 108.1h0.9v0.9h-0.9zM322.9 107.5h0.9v0.9h-0.9zM323.9 105.6h0.9v0.9h-0.9zM328.5 104.5h0.9v0.9h-0.9zM321.8 106.4h0.9v0.9h-0.9zM323.5 103.3h0.9v0.9h-0.9zM326.6 105.3h0.9v0.9h-0.9zM322.7 109.9h0.9v0.9h-0.9zM326.2 106.7h0.9v0.9h-0.9zM320.2 107.3h0.9v0.9h-0.9zM328.0 104.4h0.9v0.9h-0.9zM325.8 105.3h0.9v0.9h-0.9zM326.8 108.1h0.9v0.9h-0.9zM319.1 108.2h0.9v0.9h-0.9zM324.6 105.9h0.9v0.9h-0.9zM321.9 107.8h0.9v0.9h-0.9zM323.1 102.1h0.9v0.9h-0.9zM322.6 105.4h0.9v0.9h-0.9zM324.0 109.7h0.9v0.9h-0.9zM325.3 102.8h0.9v0.9h-0.9zM324.5 103.1h0.9v0.9h-0.9zM324.0 108.7h0.9v0.9h-0.9zM328.1 104.0h0.9v0.9h-0.9zM324.9 108.1h0.9v0.9h-0.9zM322.1 105.9h0.9v0.9h-0.9zM324.2 105.6h0.9v0.9h-0.9zM323.9 109.4h0.9v0.9h-0.9zM322.0 106.4h0.9v0.9h-0.9zM322.5 105.5h0.9v0.9h-0.9zM328.7 102.8h0.9v0.9h-0.9zM329.8 103.8h0.9v0.9h-0.9zM321.6 105.3h0.9v0.9h-0.9zM323.5 98.3h0.9v0.9h-0.9zM321.6 104.3h0.9v0.9h-0.9zM323.3 103.7h0.9v0.9h-0.9zM325.7 103.4h0.9v0.9h-0.9zM325.6 105.9h0.9v0.9h-0.9zM329.1 99.1h0.9v0.9h-0.9zM323.4 104.5h0.9v0.9h-0.9zM321.6 109.5h0.9v0.9h-0.9zM325.4 101.2h0.9v0.9h-0.9zM323.0 107.1h0.9v0.9h-0.9zM322.3 106.1h0.9v0.9h-0.9zM321.6 117.7h0.9v0.9h-0.9zM327.5 104.2h0.9v0.9h-0.9zM324.5 102.7h0.9v0.9h-0.9zM324.2 102.5h0.9v0.9h-0.9zM325.5 102.7h0.9v0.9h-0.9zM325.2 99.2h0.9v0.9h-0.9zM322.8 105.2h0.9v0.9h-0.9zM324.9 102.5h0.9v0.9h-0.9zM323.7 109.2h0.9v0.9h-0.9zM322.6 106.5h0.9v0.9h-0.9zM325.1 102.1h0.9v0.9h-0.9zM322.8 103.2h0.9v0.9h-0.9zM319.2 108.3h0.9v0.9h-0.9zM324.7 104.9h0.9v0.9h-0.9zM323.3 106.2h0.9v0.9h-0.9zM324.0 109.7h0.9v0.9h-0.9zM324.0 104.0h0.9v0.9h-0.9zM324.8 108.4h0.9v0.9h-0.9zM320.9 110.7h0.9v0.9h-0.9zM321.5 109.1h0.9v0.9h-0.9zM324.8 98.6h0.9v0.9h-0.9zM318.6 108.6h0.9v0.9h-0.9zM325.7 106.3h0.9v0.9h-0.9zM327.5 106.0h0.9v0.9h-0.9zM325.7 104.5h0.9v0.9h-0.9zM322.5 110.4h0.9v0.9h-0.9zM322.7 106.4h0.9v0.9h-0.9zM323.7 105.1h0.9v0.9h-0.9zM324.7 102.9h0.9v0.9h-0.9zM324.1 109.0h0.9v0.9h-0.9zM322.0 109.7h0.9v0.9h-0.9zM325.9 102.9h0.9v0.9h-0.9zM325.9 102.5h0.9v0.9h-0.9zM325.7 105.7h0.9v0.9h-0.9zM323.2 108.1h0.9v0.9h-0.9zM323.6 103.8h0.9v0.9h-0.9zM326.9 107.8h0.9v0.9h-0.9zM326.3 104.0h0.9v0.9h-0.9zM321.2 109.5h0.9v0.9h-0.9zM326.6 107.5h0.9v0.9h-0.9zM325.2 107.7h0.9v0.9h-0.9zM321.4 109.0h0.9v0.9h-0.9zM325.3 106.1h0.9v0.9h-0.9zM322.4 104.6h0.9v0.9h-0.9zM322.1 106.3h0.9v0.9h-0.9zM321.4 102.1h0.9v0.9h-0.9zM322.8 111.5h0.9v0.9h-0.9zM320.9 103.8h0.9v0.9h-0.9zM326.0 105.6h0.9v0.9h-0.9zM323.3 104.2h0.9v0.9h-0.9zM324.9 101.8h0.9v0.9h-0.9zM321.0 109.1h0.9v0.9h-0.9zM321.1 110.5h0.9v0.9h-0.9zM325.5 106.1h0.9v0.9h-0.9zM327.8 106.9h0.9v0.9h-0.9zM329.3 100.5h0.9v0.9h-0.9zM326.7 105.4h0.9v0.9h-0.9zM321.1 107.7h0.9v0.9h-0.9zM326.9 104.6h0.9v0.9h-0.9zM322.4 108.5h0.9v0.9h-0.9zM320.0 109.6h0.9v0.9h-0.9zM329.6 98.6h0.9v0.9h-0.9zM324.6 105.0h0.9v0.9h-0.9zM325.9 104.2h0.9v0.9h-0.9zM325.9 104.9h0.9v0.9h-0.9zM327.2 100.3h0.9v0.9h-0.9zM323.5 104.3h0.9v0.9h-0.9zM327.9 103.5h0.9v0.9h-0.9zM319.1 106.8h0.9v0.9h-0.9zM319.9 109.1h0.9v0.9h-0.9zM329.6 103.9h0.9v0.9h-0.9zM323.0 98.5h0.9v0.9h-0.9zM324.1 103.7h0.9v0.9h-0.9zM325.6 106.2h0.9v0.9h-0.9zM321.8 103.5h0.9v0.9h-0.9zM326.5 111.1h0.9v0.9h-0.9zM323.4 98.5h0.9v0.9h-0.9zM327.7 105.9h0.9v0.9h-0.9zM327.6 106.5h0.9v0.9h-0.9zM326.3 106.1h0.9v0.9h-0.9zM326.0 102.8h0.9v0.9h-0.9zM325.7 105.0h0.9v0.9h-0.9zM324.3 102.8h0.9v0.9h-0.9zM322.7 110.3h0.9v0.9h-0.9zM323.4 103.2h0.9v0.9h-0.9zM328.4 99.6h0.9v0.9h-0.9zM324.4 108.7h0.9v0.9h-0.9zM322.0 105.0h0.9v0.9h-0.9zM325.4 103.1h0.9v0.9h-0.9zM326.4 103.5h0.9v0.9h-0.9zM323.3 102.6h0.9v0.9h-0.9zM322.2 112.0h0.9v0.9h-0.9zM325.6 105.0h0.9v0.9h-0.9zM319.0 107.4h0.9v0.9h-0.9zM322.1 108.2h0.9v0.9h-0.9zM324.0 103.5h0.9v0.9h-0.9zM322.3 106.0h0.9v0.9h-0.9zM325.9 103.8h0.9v0.9h-0.9zM329.9 96.3h0.9v0.9h-0.9zM327.2 105.0h0.9v0.9h-0.9zM324.5 103.1h0.9v0.9h-0.9zM323.5 109.7h0.9v0.9h-0.9zM322.5 107.7h0.9v0.9h-0.9zM323.0 110.0h0.9v0.9h-0.9zM322.0 106.8h0.9v0.9h-0.9zM320.8 108.4h0.9v0.9h-0.9zM320.7 106.4h0.9v0.9h-0.9zM324.4 107.3h0.9v0.9h-0.9zM323.2 110.0h0.9v0.9h-0.9zM324.2 112.6h0.9v0.9h-0.9zM323.0 111.4h0.9v0.9h-0.9zM325.4 105.0h0.9v0.9h-0.9zM323.8 105.6h0.9v0.9h-0.9zM326.9 103.6h0.9v0.9h-0.9zM326.3 103.1h0.9v0.9h-0.9z" fill="#842088" fill-opacity="0.55"/>
</g>
<path d="M368.2 55.8h0.9v0.9h-0.9zM373.5 63.2h0.9v0.9h-0.9zM361.9 69.5h0.9v0.9h-0.9zM366.0 71.0h0.9v0.9h-0.9zM371.8 58.8h0.9v0.9h-0.9zM368.8 65.1h0.9v0.9h-0.9zM366.7 67.9h0.9v0.9h-0.9zM369.5 58.8h0.9v0.9h-0.9zM365.8 68.5h0.9v0.9h-0.9zM371.8 71.6h0.9v0.9h-0.9zM359.0 64.7h0.9v0.9h-0.9zM360.3 77.1h0.9v0.9h-0.9zM371.3 62.4h0.9v0.9h-0.9zM359.8 71.0h0.9v0.9h-0.9zM361.1 66.9h0.9v0.9h-0.9zM370.6 74.3h0.9v0.9h-0.9zM368.5 61.6h0.9v0.9h-0.9zM372.7 70.5h0.9v0.9h-0.9zM368.6 67.2h0.9v0.9h-0.9zM361.3 75.6h0.9v0.9h-0.9zM368.1 67.7h0.9v0.9h-0.9zM363.6 75.5h0.9v0.9h-0.9zM371.4 66.8h0.9v0.9h-0.9zM369.5 65.1h0.9v0.9h-0.9zM367.4 66.7h0.9v0.9h-0.9zM374.7 55.5h0.9v0.9h-0.9zM372.7 65.9h0.9v0.9h-0.9zM371.4 64.5h0.9v0.9h-0.9zM364.6 63.7h0.9v0.9h-0.9zM364.5 66.2h0.9v0.9h-0.9zM371.3 61.6h0.9v0.9h-0.9zM369.1 59.1h0.9v0.9h-0.9zM361.4 72.7h0.9v0.9h-0.9zM368.0 58.8h0.9v0.9h-0.9zM368.1 63.0h0.9v0.9h-0.9zM371.6 61.8h0.9v0.9h-0.9zM371.5 65.6h0.9v0.9h-0.9zM362.7 73.1h0.9v0.9h-0.9zM368.8 76.5h0.9v0.9h-0.9zM373.2 56.2h0.9v0.9h-0.9zM377.0 70.8h0.9v0.9h-0.9zM364.9 75.9h0.9v0.9h-0.9zM369.6 65.3h0.9v0.9h-0.9zM364.3 67.4h0.9v0.9h-0.9zM352.5 71.2h0.9v0.9h-0.9zM358.5 78.5h0.9v0.9h-0.9zM361.9 75.4h0.9v0.9h-0.9zM373.4 68.3h0.9v0.9h-0.9zM362.9 64.0h0.9v0.9h-0.9zM371.6 71.2h0.9v0.9h-0.9zM367.3 64.3h0.9v0.9h-0.9zM371.2 64.3h0.9v0.9h-0.9zM352.4 73.1h0.9v0.9h-0.9zM366.3 68.2h0.9v0.9h-0.9zM363.1 70.2h0.9v0.9h-0.9zM364.6 74.3h0.9v0.9h-0.9zM365.3 69.5h0.9v0.9h-0.9zM363.3 64.9h0.9v0.9h-0.9zM368.8 69.5h0.9v0.9h-0.9zM363.9 75.5h0.9v0.9h-0.9zM367.0 70.0h0.9v0.9h-0.9zM377.0 57.1h0.9v0.9h-0.9zM366.4 74.1h0.9v0.9h-0.9zM361.0 75.5h0.9v0.9h-0.9zM364.1 62.3h0.9v0.9h-0.9zM365.1 60.5h0.9v0.9h-0.9zM372.5 66.2h0.9v0.9h-0.9zM365.1 73.7h0.9v0.9h-0.9zM370.8 61.0h0.9v0.9h-0.9zM363.0 69.8h0.9v0.9h-0.9zM363.1 72.6h0.9v0.9h-0.9zM364.9 69.7h0.9v0.9h-0.9zM365.7 66.3h0.9v0.9h-0.9zM367.5 61.1h0.9v0.9h-0.9zM375.4 66.9h0.9v0.9h-0.9zM367.6 66.8h0.9v0.9h-0.9zM368.5 60.1h0.9v0.9h-0.9zM363.6 63.5h0.9v0.9h-0.9zM368.1 60.1h0.9v0.9h-0.9zM364.1 75.3h0.9v0.9h-0.9zM363.6 76.3h0.9v0.9h-0.9zM369.1 61.7h0.9v0.9h-0.9zM362.3 74.0h0.9v0.9h-0.9zM365.1 67.4h0.9v0.9h-0.9zM363.5 64.8h0.9v0.9h-0.9zM369.0 71.4h0.9v0.9h-0.9zM366.5 69.5h0.9v0.9h-0.9zM379.0 63.2h0.9v0.9h-0.9zM356.0 78.7h0.9v0.9h-0.9zM369.7 61.2h0.9v0.9h-0.9zM377.6 55.4h0.9v0.9h-0.9zM366.4 65.7h0.9v0.9h-0.9zM363.0 63.9h0.9v0.9h-0.9zM366.8 60.6h0.9v0.9h-0.9zM373.7 56.5h0.9v0.9h-0.9zM363.8 73.4h0.9v0.9h-0.9zM367.0 65.6h0.9v0.9h-0.9zM369.2 69.2h0.9v0.9h-0.9zM371.8 65.1h0.9v0.9h-0.9zM368.5 66.0h0.9v0.9h-0.9zM369.4 62.7h0.9v0.9h-0.9zM364.8 68.1h0.9v0.9h-0.9zM368.7 67.0h0.9v0.9h-0.9zM367.3 71.6h0.9v0.9h-0.9zM364.8 70.0h0.9v0.9h-0.9zM367.8 67.9h0.9v0.9h-0.9zM365.6 66.5h0.9v0.9h-0.9zM358.9 70.1h0.9v0.9h-0.9zM369.7 55.9h0.9v0.9h-0.9zM368.7 68.4h0.9v0.9h-0.9z" fill="#dcd890" fill-opacity="0.55"/>
<g clip-path="url(#nu1)">
<path d="M368.2 64.7h0.9v0.9h-0.9zM371.0 58.9h0.9v0.9h-0.9zM365.8 65.8h0.9v0.9h-0.9zM368.8 62.4h0.9v0.9h-0.9zM368.2 58.9h0.9v0.9h-0.9zM370.3 62.4h0.9v0.9h-0.9zM362.8 68.3h0.9v0.9h-0.9zM366.4 67.8h0.9v0.9h-0.9zM366.6 65.8h0.9v0.9h-0.9zM365.0 72.2h0.9v0.9h-0.9zM367.4 64.0h0.9v0.9h-0.9zM371.0 62.7h0.9v0.9h-0.9zM362.8 67.5h0.9v0.9h-0.9zM373.1 57.7h0.9v0.9h-0.9zM364.7 67.4h0.9v0.9h-0.9zM365.7 67.5h0.9v0.9h-0.9zM365.4 67.5h0.9v0.9h-0.9zM365.6 70.7h0.9v0.9h-0.9zM363.5 61.9h0.9v0.9h-0.9zM366.7 66.6h0.9v0.9h-0.9zM368.3 56.7h0.9v0.9h-0.9zM370.1 64.9h0.9v0.9h-0.9zM364.0 61.4h0.9v0.9h-0.9zM363.5 66.1h0.9v0.9h-0.9zM358.6 71.0h0.9v0.9h-0.9zM368.8 68.7h0.9v0.9h-0.9zM361.0 68.8h0.9v0.9h-0.9zM369.1 62.0h0.9v0.9h-0.9zM364.9 65.8h0.9v0.9h-0.9zM367.7 56.3h0.9v0.9h-0.9zM367.6 62.4h0.9v0.9h-0.9zM369.8 63.2h0.9v0.9h-0.9zM366.4 65.0h0.9v0.9h-0.9zM368.4 66.4h0.9v0.9h-0.9zM367.3 62.8h0.9v0.9h-0.9zM368.8 62.0h0.9v0.9h-0.9zM363.1 69.2h0.9v0.9h-0.9zM368.1 64.4h0.9v0.9h-0.9zM377.4 56.2h0.9v0.9h-0.9zM366.4 67.2h0.9v0.9h-0.9zM365.6 67.7h0.9v0.9h-0.9zM362.8 68.8h0.9v0.9h-0.9zM360.2 72.2h0.9v0.9h-0.9zM372.3 62.4h0.9v0.9h-0.9zM364.1 64.7h0.9v0.9h-0.9zM365.2 63.8h0.9v0.9h-0.9zM371.4 57.5h0.9v0.9h-0.9zM372.8 54.0h0.9v0.9h-0.9zM366.9 72.8h0.9v0.9h-0.9zM364.8 58.5h0.9v0.9h-0.9zM368.6 63.8h0.9v0.9h-0.9zM368.5 65.3h0.9v0.9h-0.9zM365.4 62.7h0.9v0.9h-0.9zM364.7 65.6h0.9v0.9h-0.9zM371.6 59.3h0.9v0.9h-0.9zM370.9 65.3h0.9v0.9h-0.9zM365.3 63.6h0.9v0.9h-0.9zM366.9 58.5h0.9v0.9h-0.9zM370.5 63.2h0.9v0.9h-0.9zM370.2 65.9h0.9v0.9h-0.9zM366.4 64.4h0.9v0.9h-0.9zM367.2 55.4h0.9v0.9h-0.9zM370.2 65.6h0.9v0.9h-0.9zM365.4 66.5h0.9v0.9h-0.9zM365.5 71.7h0.9v0.9h-0.9zM364.9 67.9h0.9v0.9h-0.9zM362.1 70.8h0.9v0.9h-0.9zM365.5 65.2h0.9v0.9h-0.9zM369.5 66.8h0.9v0.9h-0.9zM362.5 77.6h0.9v0.9h-0.9zM362.1 63.7h0.9v0.9h-0.9zM366.2 62.1h0.9v0.9h-0.9zM369.8 67.6h0.9v0.9h-0.9zM362.4 70.3h0.9v0.9h-0.9zM367.3 58.7h0.9v0.9h-0.9zM363.9 69.6h0.9v0.9h-0.9zM362.1 71.9h0.9v0.9h-0.9zM362.6 71.3h0.9v0.9h-0.9zM365.1 65.8h0.9v0.9h-0.9zM368.4 61.3h0.9v0.9h-0.9zM368.7 60.3h0.9v0.9h-0.9zM367.3 65.7h0.9v0.9h-0.9zM360.9 70.9h0.9v0.9h-0.9zM363.5 69.0h0.9v0.9h-0.9zM363.0 70.3h0.9v0.9h-0.9zM367.9 68.7h0.9v0.9h-0.9zM361.3 75.1h0.9v0.9h-0.9zM366.1 65.6h0.9v0.9h-0.9zM368.9 63.9h0.9v0.9h-0.9zM366.3 67.5h0.9v0.9h-0.9zM369.4 65.4h0.9v0.9h-0.9zM364.1 71.3h0.9v0.9h-0.9zM364.9 75.3h0.9v0.9h-0.9zM366.6 70.9h0.9v0.9h-0.9zM369.4 60.8h0.9v0.9h-0.9zM368.4 61.0h0.9v0.9h-0.9zM366.3 69.5h0.9v0.9h-0.9zM370.6 61.2h0.9v0.9h-0.9zM364.8 67.7h0.9v0.9h-0.9zM367.8 57.4h0.9v0.9h-0.9zM364.1 61.8h0.9v0.9h-0.9zM365.3 68.8h0.9v0.9h-0.9zM369.8 63.5h0.9v0.9h-0.9zM365.1 70.9h0.9v0.9h-0.9zM360.8 69.2h0.9v0.9h-0.9zM363.5 74.4h0.9v0.9h-0.9zM365.8 64.4h0.9v0.9h-0.9zM366.6 67.0h0.9v0.9h-0.9zM366.5 67.2h0.9v0.9h-0.9zM363.3 67.3h0.9v0.9h-0.9zM369.3 58.8h0.9v0.9h-0.9zM360.9 65.8h0.9v0.9h-0.9zM362.1 68.6h0.9v0.9h-0.9zM366.4 58.3h0.9v0.9h-0.9zM371.1 60.1h0.9v0.9h-0.9zM367.1 64.8h0.9v0.9h-0.9zM362.4 75.6h0.9v0.9h-0.9zM364.8 69.5h0.9v0.9h-0.9zM366.7 62.7h0.9v0.9h-0.9zM366.7 66.6h0.9v0.9h-0.9zM370.0 58.5h0.9v0.9h-0.9zM363.0 73.5h0.9v0.9h-0.9zM368.6 63.5h0.9v0.9h-0.9zM362.3 68.1h0.9v0.9h-0.9zM370.0 60.1h0.9v0.9h-0.9zM365.9 66.7h0.9v0.9h-0.9zM368.5 61.1h0.9v0.9h-0.9zM365.7 70.4h0.9v0.9h-0.9zM364.9 75.0h0.9v0.9h-0.9zM362.0 71.1h0.9v0.9h-0.9zM363.5 68.7h0.9v0.9h-0.9zM358.7 68.5h0.9v0.9h-0.9zM369.4 60.5h0.9v0.9h-0.9zM369.2 59.5h0.9v0.9h-0.9zM362.8 62.4h0.9v0.9h-0.9zM363.4 71.5h0.9v0.9h-0.9zM366.7 67.6h0.9v0.9h-0.9zM362.6 68.7h0.9v0.9h-0.9zM369.7 59.0h0.9v0.9h-0.9zM365.2 63.7h0.9v0.9h-0.9zM368.9 64.9h0.9v0.9h-0.9zM362.0 66.4h0.9v0.9h-0.9zM359.3 75.4h0.9v0.9h-0.9zM367.3 72.2h0.9v0.9h-0.9zM362.7 71.6h0.9v0.9h-0.9zM368.0 65.1h0.9v0.9h-0.9zM366.0 65.7h0.9v0.9h-0.9zM361.4 68.7h0.9v0.9h-0.9zM364.8 68.1h0.9v0.9h-0.9zM371.5 59.4h0.9v0.9h-0.9zM361.2 69.6h0.9v0.9h-0.9zM363.9 71.0h0.9v0.9h-0.9zM367.6 68.9h0.9v0.9h-0.9zM365.9 70.9h0.9v0.9h-0.9zM361.8 66.4h0.9v0.9h-0.9zM365.8 62.6h0.9v0.9h-0.9zM368.3 56.2h0.9v0.9h-0.9zM362.6 75.9h0.9v0.9h-0.9zM367.1 67.1h0.9v0.9h-0.9zM367.4 66.9h0.9v0.9h-0.9zM364.1 65.7h0.9v0.9h-0.9zM363.3 65.8h0.9v0.9h-0.9zM365.1 68.0h0.9v0.9h-0.9zM369.2 61.7h0.9v0.9h-0.9zM363.0 67.5h0.9v0.9h-0.9zM365.9 67.1h0.9v0.9h-0.9zM367.2 67.1h0.9v0.9h-0.9zM366.7 66.1h0.9v0.9h-0.9zM363.6 65.9h0.9v0.9h-0.9zM365.1 59.1h0.9v0.9h-0.9zM365.5 66.0h0.9v0.9h-0.9zM366.8 65.7h0.9v0.9h-0.9zM365.4 66.2h0.9v0.9h-0.9zM362.2 70.5h0.9v0.9h-0.9zM362.2 69.4h0.9v0.9h-0.9zM364.1 72.1h0.9v0.9h-0.9zM366.5 65.3h0.9v0.9h-0.9zM364.1 69.8h0.9v0.9h-0.9zM361.0 70.1h0.9v0.9h-0.9zM365.6 64.4h0.9v0.9h-0.9zM367.9 64.0h0.9v0.9h-0.9zM358.8 73.4h0.9v0.9h-0.9zM368.8 56.9h0.9v0.9h-0.9zM365.5 65.8h0.9v0.9h-0.9zM367.9 68.2h0.9v0.9h-0.9zM369.6 61.5h0.9v0.9h-0.9zM368.9 67.7h0.9v0.9h-0.9zM363.9 69.0h0.9v0.9h-0.9zM372.1 55.6h0.9v0.9h-0.9zM360.2 69.7h0.9v0.9h-0.9zM364.6 66.1h0.9v0.9h-0.9zM371.2 64.0h0.9v0.9h-0.9zM363.4 71.7h0.9v0.9h-0.9zM367.0 67.7h0.9v0.9h-0.9zM368.5 65.3h0.9v0.9h-0.9zM373.2 55.0h0.9v0.9h-0.9zM362.9 70.3h0.9v0.9h-0.9zM366.1 66.7h0.9v0.9h-0.9zM369.2 64.0h0.9v0.9h-0.9zM367.1 66.5h0.9v0.9h-0.9zM363.3 72.5h0.9v0.9h-0.9zM367.5 64.6h0.9v0.9h-0.9zM364.9 64.9h0.9v0.9h-0.9zM366.9 63.9h0.9v0.9h-0.9zM367.7 59.9h0.9v0.9h-0.9zM370.9 62.7h0.9v0.9h-0.9zM363.3 61.9h0.9v0.9h-0.9zM366.5 64.6h0.9v0.9h-0.9zM367.1 74.3h0.9v0.9h-0.9zM365.0 66.5h0.9v0.9h-0.9zM364.6 63.9h0.9v0.9h-0.9zM364.8 68.2h0.9v0.9h-0.9zM368.7 67.4h0.9v0.9h-0.9zM363.2 70.0h0.9v0.9h-0.9zM371.8 59.8h0.9v0.9h-0.9zM372.7 56.3h0.9v0.9h-0.9zM364.1 67.7h0.9v0.9h-0.9zM373.0 68.2h0.9v0.9h-0.9zM365.4 67.5h0.9v0.9h-0.9zM368.8 59.7h0.9v0.9h-0.9z" fill="#a09a34" fill-opacity="0.5"/>
<path d="M364.8 68.9h0.9v0.9h-0.9zM368.1 66.3h0.9v0.9h-0.9zM368.3 66.2h0.9v0.9h-0.9zM367.0 63.4h0.9v0.9h-0.9zM367.7 67.3h0.9v0.9h-0.9zM362.6 72.6h0.9v0.9h-0.9zM367.0 64.7h0.9v0.9h-0.9zM365.5 68.4h0.9v0.9h-0.9zM363.2 66.8h0.9v0.9h-0.9zM361.0 71.9h0.9v0.9h-0.9zM364.1 68.9h0.9v0.9h-0.9zM364.7 70.1h0.9v0.9h-0.9zM365.1 66.6h0.9v0.9h-0.9zM361.9 72.3h0.9v0.9h-0.9zM367.0 67.4h0.9v0.9h-0.9zM367.8 67.5h0.9v0.9h-0.9zM363.9 71.7h0.9v0.9h-0.9zM365.7 70.2h0.9v0.9h-0.9zM363.1 69.8h0.9v0.9h-0.9zM367.6 63.0h0.9v0.9h-0.9zM359.8 76.8h0.9v0.9h-0.9zM364.5 67.9h0.9v0.9h-0.9zM360.9 72.8h0.9v0.9h-0.9zM366.7 69.8h0.9v0.9h-0.9zM367.5 63.4h0.9v0.9h-0.9zM362.9 68.5h0.9v0.9h-0.9zM366.7 66.7h0.9v0.9h-0.9zM365.9 71.6h0.9v0.9h-0.9zM370.6 59.4h0.9v0.9h-0.9zM369.5 64.3h0.9v0.9h-0.9zM367.9 62.1h0.9v0.9h-0.9zM361.8 71.5h0.9v0.9h-0.9zM362.1 70.5h0.9v0.9h-0.9zM368.2 62.5h0.9v0.9h-0.9zM367.5 69.0h0.9v0.9h-0.9zM363.6 66.9h0.9v0.9h-0.9zM368.6 66.8h0.9v0.9h-0.9zM361.3 70.8h0.9v0.9h-0.9zM367.3 63.6h0.9v0.9h-0.9zM366.8 67.4h0.9v0.9h-0.9zM367.7 65.5h0.9v0.9h-0.9zM364.4 69.6h0.9v0.9h-0.9zM364.9 63.5h0.9v0.9h-0.9zM364.4 69.8h0.9v0.9h-0.9zM366.8 62.3h0.9v0.9h-0.9zM371.7 64.5h0.9v0.9h-0.9zM367.7 63.1h0.9v0.9h-0.9zM367.2 65.0h0.9v0.9h-0.9zM365.8 63.4h0.9v0.9h-0.9zM358.4 76.9h0.9v0.9h-0.9zM366.1 62.5h0.9v0.9h-0.9zM366.3 68.7h0.9v0.9h-0.9zM365.6 66.2h0.9v0.9h-0.9zM365.7 68.4h0.9v0.9h-0.9zM361.4 71.6h0.9v0.9h-0.9zM363.7 68.5h0.9v0.9h-0.9zM369.0 65.3h0.9v0.9h-0.9zM368.0 60.5h0.9v0.9h-0.9zM361.9 67.7h0.9v0.9h-0.9zM364.0 70.6h0.9v0.9h-0.9zM367.9 60.3h0.9v0.9h-0.9zM363.0 69.9h0.9v0.9h-0.9zM372.0 59.5h0.9v0.9h-0.9zM364.8 65.9h0.9v0.9h-0.9zM364.6 70.9h0.9v0.9h-0.9zM367.3 62.4h0.9v0.9h-0.9zM371.8 61.5h0.9v0.9h-0.9zM363.8 73.4h0.9v0.9h-0.9zM369.0 60.4h0.9v0.9h-0.9zM364.7 67.7h0.9v0.9h-0.9zM368.3 60.4h0.9v0.9h-0.9zM365.0 68.4h0.9v0.9h-0.9zM363.2 73.8h0.9v0.9h-0.9zM365.1 63.7h0.9v0.9h-0.9zM369.2 64.0h0.9v0.9h-0.9zM369.2 57.6h0.9v0.9h-0.9zM368.9 59.4h0.9v0.9h-0.9zM365.2 62.7h0.9v0.9h-0.9zM367.8 69.4h0.9v0.9h-0.9zM364.5 68.9h0.9v0.9h-0.9zM365.3 68.1h0.9v0.9h-0.9zM362.8 69.5h0.9v0.9h-0.9zM366.4 68.7h0.9v0.9h-0.9zM356.7 74.9h0.9v0.9h-0.9zM366.2 66.1h0.9v0.9h-0.9zM368.4 68.7h0.9v0.9h-0.9zM371.6 56.6h0.9v0.9h-0.9zM367.6 63.9h0.9v0.9h-0.9zM365.4 69.2h0.9v0.9h-0.9zM366.1 64.0h0.9v0.9h-0.9zM362.7 71.6h0.9v0.9h-0.9zM365.4 69.9h0.9v0.9h-0.9zM361.3 74.2h0.9v0.9h-0.9zM369.7 61.6h0.9v0.9h-0.9zM366.7 64.2h0.9v0.9h-0.9zM363.2 71.6h0.9v0.9h-0.9zM365.6 67.1h0.9v0.9h-0.9zM369.9 64.3h0.9v0.9h-0.9zM367.8 65.5h0.9v0.9h-0.9zM366.3 65.1h0.9v0.9h-0.9zM360.5 68.1h0.9v0.9h-0.9zM365.0 69.8h0.9v0.9h-0.9zM366.9 67.0h0.9v0.9h-0.9zM366.8 62.5h0.9v0.9h-0.9zM361.1 68.4h0.9v0.9h-0.9zM361.5 70.2h0.9v0.9h-0.9zM369.7 63.1h0.9v0.9h-0.9zM362.0 69.5h0.9v0.9h-0.9zM367.8 62.3h0.9v0.9h-0.9zM366.6 66.0h0.9v0.9h-0.9zM369.4 64.4h0.9v0.9h-0.9zM370.0 60.0h0.9v0.9h-0.9zM367.3 64.1h0.9v0.9h-0.9zM366.9 63.4h0.9v0.9h-0.9zM365.5 71.7h0.9v0.9h-0.9zM365.3 70.3h0.9v0.9h-0.9zM367.2 64.2h0.9v0.9h-0.9zM367.8 59.7h0.9v0.9h-0.9zM368.2 60.8h0.9v0.9h-0.9zM372.2 58.3h0.9v0.9h-0.9zM365.6 65.0h0.9v0.9h-0.9zM367.3 66.7h0.9v0.9h-0.9zM368.7 63.2h0.9v0.9h-0.9zM366.1 67.0h0.9v0.9h-0.9zM366.4 67.6h0.9v0.9h-0.9zM363.7 71.3h0.9v0.9h-0.9zM367.1 62.3h0.9v0.9h-0.9zM362.6 70.7h0.9v0.9h-0.9zM369.9 66.7h0.9v0.9h-0.9zM360.7 71.3h0.9v0.9h-0.9zM367.8 62.2h0.9v0.9h-0.9zM364.5 71.6h0.9v0.9h-0.9zM367.6 63.4h0.9v0.9h-0.9zM360.7 72.3h0.9v0.9h-0.9zM362.9 67.4h0.9v0.9h-0.9zM369.3 62.7h0.9v0.9h-0.9zM365.0 70.7h0.9v0.9h-0.9zM367.6 67.7h0.9v0.9h-0.9zM364.6 68.7h0.9v0.9h-0.9zM361.3 76.6h0.9v0.9h-0.9zM365.2 64.8h0.9v0.9h-0.9zM367.0 65.3h0.9v0.9h-0.9zM362.1 70.5h0.9v0.9h-0.9zM367.3 64.7h0.9v0.9h-0.9zM364.7 70.5h0.9v0.9h-0.9zM364.6 71.5h0.9v0.9h-0.9zM364.5 66.0h0.9v0.9h-0.9zM365.6 70.5h0.9v0.9h-0.9zM370.8 57.6h0.9v0.9h-0.9zM360.5 72.0h0.9v0.9h-0.9zM367.3 63.8h0.9v0.9h-0.9zM366.3 61.8h0.9v0.9h-0.9zM360.8 74.5h0.9v0.9h-0.9zM361.8 73.7h0.9v0.9h-0.9zM366.8 64.5h0.9v0.9h-0.9zM365.2 69.1h0.9v0.9h-0.9zM366.3 65.1h0.9v0.9h-0.9zM368.5 62.4h0.9v0.9h-0.9zM363.0 67.1h0.9v0.9h-0.9zM363.1 70.9h0.9v0.9h-0.9zM357.8 76.7h0.9v0.9h-0.9zM365.6 65.6h0.9v0.9h-0.9zM363.3 70.3h0.9v0.9h-0.9zM366.7 65.7h0.9v0.9h-0.9zM364.2 64.6h0.9v0.9h-0.9zM360.3 70.9h0.9v0.9h-0.9zM369.6 59.9h0.9v0.9h-0.9zM369.0 63.0h0.9v0.9h-0.9zM368.3 63.8h0.9v0.9h-0.9zM363.9 72.1h0.9v0.9h-0.9zM366.3 69.4h0.9v0.9h-0.9zM365.0 69.3h0.9v0.9h-0.9zM364.6 68.4h0.9v0.9h-0.9zM361.6 70.3h0.9v0.9h-0.9zM365.6 64.4h0.9v0.9h-0.9zM365.7 65.5h0.9v0.9h-0.9zM366.9 65.6h0.9v0.9h-0.9zM364.7 68.9h0.9v0.9h-0.9zM368.9 61.8h0.9v0.9h-0.9zM366.0 66.0h0.9v0.9h-0.9zM359.7 77.9h0.9v0.9h-0.9zM364.4 69.4h0.9v0.9h-0.9zM365.9 67.3h0.9v0.9h-0.9zM368.5 63.3h0.9v0.9h-0.9zM364.3 67.5h0.9v0.9h-0.9zM363.8 66.9h0.9v0.9h-0.9zM364.7 69.8h0.9v0.9h-0.9zM367.9 64.6h0.9v0.9h-0.9zM364.3 68.4h0.9v0.9h-0.9zM363.7 68.8h0.9v0.9h-0.9zM366.7 71.5h0.9v0.9h-0.9zM366.1 64.0h0.9v0.9h-0.9zM364.1 68.7h0.9v0.9h-0.9zM361.9 73.5h0.9v0.9h-0.9zM365.8 63.5h0.9v0.9h-0.9zM364.1 69.6h0.9v0.9h-0.9zM368.9 66.9h0.9v0.9h-0.9zM367.8 66.1h0.9v0.9h-0.9zM369.5 62.7h0.9v0.9h-0.9zM369.0 63.2h0.9v0.9h-0.9zM364.4 69.1h0.9v0.9h-0.9zM366.5 68.2h0.9v0.9h-0.9zM362.3 71.7h0.9v0.9h-0.9zM369.3 60.0h0.9v0.9h-0.9zM366.9 65.2h0.9v0.9h-0.9zM370.3 62.1h0.9v0.9h-0.9zM365.3 68.3h0.9v0.9h-0.9zM361.5 75.3h0.9v0.9h-0.9zM367.0 59.2h0.9v0.9h-0.9zM367.4 67.4h0.9v0.9h-0.9zM369.0 68.2h0.9v0.9h-0.9zM367.5 67.7h0.9v0.9h-0.9zM366.9 64.1h0.9v0.9h-0.9zM366.0 64.1h0.9v0.9h-0.9zM362.1 73.2h0.9v0.9h-0.9zM367.2 61.8h0.9v0.9h-0.9zM365.3 69.4h0.9v0.9h-0.9zM363.9 68.2h0.9v0.9h-0.9zM371.2 60.9h0.9v0.9h-0.9zM369.7 64.3h0.9v0.9h-0.9zM362.3 66.5h0.9v0.9h-0.9zM361.5 74.2h0.9v0.9h-0.9zM365.2 65.6h0.9v0.9h-0.9zM365.3 63.6h0.9v0.9h-0.9zM364.7 66.6h0.9v0.9h-0.9zM362.3 71.4h0.9v0.9h-0.9zM365.0 70.7h0.9v0.9h-0.9zM360.7 70.4h0.9v0.9h-0.9zM367.6 66.8h0.9v0.9h-0.9zM370.3 65.3h0.9v0.9h-0.9zM369.0 63.3h0.9v0.9h-0.9zM364.6 70.1h0.9v0.9h-0.9zM366.3 65.9h0.9v0.9h-0.9zM365.6 63.7h0.9v0.9h-0.9zM365.1 69.2h0.9v0.9h-0.9zM365.8 67.7h0.9v0.9h-0.9zM371.9 59.2h0.9v0.9h-0.9zM369.4 68.1h0.9v0.9h-0.9zM368.8 64.0h0.9v0.9h-0.9zM365.2 68.8h0.9v0.9h-0.9zM367.8 67.9h0.9v0.9h-0.9zM359.7 72.3h0.9v0.9h-0.9zM364.2 66.0h0.9v0.9h-0.9zM368.2 61.9h0.9v0.9h-0.9zM370.1 58.2h0.9v0.9h-0.9zM369.5 62.7h0.9v0.9h-0.9zM367.0 63.9h0.9v0.9h-0.9zM368.0 68.0h0.9v0.9h-0.9zM366.1 70.3h0.9v0.9h-0.9zM366.3 68.0h0.9v0.9h-0.9zM366.7 64.1h0.9v0.9h-0.9zM364.5 70.3h0.9v0.9h-0.9zM369.0 63.9h0.9v0.9h-0.9zM361.9 69.7h0.9v0.9h-0.9zM361.7 74.0h0.9v0.9h-0.9zM364.1 71.3h0.9v0.9h-0.9zM361.8 73.4h0.9v0.9h-0.9zM364.3 73.4h0.9v0.9h-0.9zM370.0 63.4h0.9v0.9h-0.9zM364.2 66.9h0.9v0.9h-0.9z" fill="#6a6412" fill-opacity="0.6"/>
<path d="M365.7 67.2h0.9v0.9h-0.9zM364.4 70.2h0.9v0.9h-0.9zM366.3 65.7h0.9v0.9h-0.9zM363.3 69.7h0.9v0.9h-0.9zM366.7 64.6h0.9v0.9h-0.9zM364.7 65.5h0.9v0.9h-0.9zM367.1 64.7h0.9v0.9h-0.9zM364.7 67.6h0.9v0.9h-0.9zM363.1 71.9h0.9v0.9h-0.9zM367.8 61.9h0.9v0.9h-0.9zM364.7 67.8h0.9v0.9h-0.9zM367.2 63.1h0.9v0.9h-0.9zM365.4 65.7h0.9v0.9h-0.9zM367.1 65.9h0.9v0.9h-0.9zM368.4 62.0h0.9v0.9h-0.9zM366.3 66.7h0.9v0.9h-0.9zM367.1 62.9h0.9v0.9h-0.9zM362.7 71.8h0.9v0.9h-0.9zM365.7 64.2h0.9v0.9h-0.9zM364.6 67.9h0.9v0.9h-0.9zM364.7 67.6h0.9v0.9h-0.9zM365.8 67.7h0.9v0.9h-0.9zM366.1 66.6h0.9v0.9h-0.9zM368.3 62.7h0.9v0.9h-0.9zM362.6 73.2h0.9v0.9h-0.9zM365.6 67.4h0.9v0.9h-0.9zM364.5 69.8h0.9v0.9h-0.9zM368.1 64.5h0.9v0.9h-0.9zM364.5 68.7h0.9v0.9h-0.9zM366.0 66.0h0.9v0.9h-0.9zM364.9 68.8h0.9v0.9h-0.9zM366.3 65.4h0.9v0.9h-0.9zM367.5 64.8h0.9v0.9h-0.9zM365.5 69.2h0.9v0.9h-0.9zM366.1 67.8h0.9v0.9h-0.9zM362.5 71.3h0.9v0.9h-0.9zM365.0 66.0h0.9v0.9h-0.9zM366.9 65.0h0.9v0.9h-0.9zM364.3 69.0h0.9v0.9h-0.9zM368.3 64.8h0.9v0.9h-0.9zM361.3 73.2h0.9v0.9h-0.9zM361.8 72.7h0.9v0.9h-0.9zM363.4 71.8h0.9v0.9h-0.9zM364.1 68.6h0.9v0.9h-0.9zM365.3 67.3h0.9v0.9h-0.9zM366.5 68.5h0.9v0.9h-0.9zM366.4 68.4h0.9v0.9h-0.9zM367.2 65.7h0.9v0.9h-0.9zM364.7 69.0h0.9v0.9h-0.9zM362.3 70.6h0.9v0.9h-0.9zM363.5 71.3h0.9v0.9h-0.9zM369.3 61.5h0.9v0.9h-0.9zM361.2 74.3h0.9v0.9h-0.9zM364.6 67.7h0.9v0.9h-0.9zM368.0 63.3h0.9v0.9h-0.9zM366.1 66.0h0.9v0.9h-0.9zM364.1 70.0h0.9v0.9h-0.9zM366.4 68.2h0.9v0.9h-0.9zM367.2 65.2h0.9v0.9h-0.9zM366.3 63.2h0.9v0.9h-0.9zM363.0 69.6h0.9v0.9h-0.9zM365.6 64.5h0.9v0.9h-0.9zM365.2 66.4h0.9v0.9h-0.9zM367.8 64.6h0.9v0.9h-0.9zM368.2 63.7h0.9v0.9h-0.9zM364.3 68.2h0.9v0.9h-0.9zM362.9 71.7h0.9v0.9h-0.9zM365.5 66.0h0.9v0.9h-0.9zM367.6 61.7h0.9v0.9h-0.9zM365.6 64.8h0.9v0.9h-0.9zM365.1 66.4h0.9v0.9h-0.9zM370.8 61.3h0.9v0.9h-0.9zM362.4 69.8h0.9v0.9h-0.9zM368.0 65.5h0.9v0.9h-0.9zM365.3 69.7h0.9v0.9h-0.9zM365.3 67.2h0.9v0.9h-0.9zM365.5 67.2h0.9v0.9h-0.9zM367.7 62.9h0.9v0.9h-0.9zM363.6 70.1h0.9v0.9h-0.9zM364.9 69.3h0.9v0.9h-0.9zM362.4 72.0h0.9v0.9h-0.9zM367.0 66.6h0.9v0.9h-0.9zM365.4 69.4h0.9v0.9h-0.9zM366.4 66.4h0.9v0.9h-0.9zM363.6 70.7h0.9v0.9h-0.9zM364.7 68.5h0.9v0.9h-0.9zM367.5 64.7h0.9v0.9h-0.9zM364.2 67.4h0.9v0.9h-0.9zM366.8 65.9h0.9v0.9h-0.9zM366.5 66.1h0.9v0.9h-0.9zM364.1 68.1h0.9v0.9h-0.9zM364.1 73.0h0.9v0.9h-0.9zM366.4 64.2h0.9v0.9h-0.9zM365.0 66.6h0.9v0.9h-0.9zM367.4 64.8h0.9v0.9h-0.9zM360.2 72.3h0.9v0.9h-0.9zM361.7 71.8h0.9v0.9h-0.9zM360.3 72.9h0.9v0.9h-0.9zM363.0 69.5h0.9v0.9h-0.9zM367.2 64.4h0.9v0.9h-0.9zM366.6 66.0h0.9v0.9h-0.9zM366.1 68.1h0.9v0.9h-0.9zM366.2 67.5h0.9v0.9h-0.9zM367.7 65.9h0.9v0.9h-0.9zM365.2 68.6h0.9v0.9h-0.9zM365.7 66.1h0.9v0.9h-0.9zM366.5 67.6h0.9v0.9h-0.9zM361.0 73.5h0.9v0.9h-0.9zM364.2 68.3h0.9v0.9h-0.9zM369.0 64.3h0.9v0.9h-0.9zM365.2 69.0h0.9v0.9h-0.9zM365.3 68.0h0.9v0.9h-0.9zM364.8 69.6h0.9v0.9h-0.9zM365.1 69.3h0.9v0.9h-0.9zM366.4 63.6h0.9v0.9h-0.9zM364.8 68.2h0.9v0.9h-0.9zM362.6 69.8h0.9v0.9h-0.9zM359.7 76.4h0.9v0.9h-0.9zM363.8 68.8h0.9v0.9h-0.9zM362.8 73.7h0.9v0.9h-0.9zM362.4 72.9h0.9v0.9h-0.9zM366.2 64.8h0.9v0.9h-0.9zM366.6 65.4h0.9v0.9h-0.9zM360.9 72.4h0.9v0.9h-0.9zM367.0 65.1h0.9v0.9h-0.9zM366.6 66.4h0.9v0.9h-0.9zM364.1 69.8h0.9v0.9h-0.9zM365.2 64.4h0.9v0.9h-0.9zM362.1 72.0h0.9v0.9h-0.9zM363.5 71.2h0.9v0.9h-0.9zM362.9 71.7h0.9v0.9h-0.9zM364.2 71.2h0.9v0.9h-0.9zM366.0 64.3h0.9v0.9h-0.9zM363.3 71.5h0.9v0.9h-0.9zM362.8 70.4h0.9v0.9h-0.9zM363.8 70.3h0.9v0.9h-0.9zM366.0 67.1h0.9v0.9h-0.9zM365.3 68.8h0.9v0.9h-0.9zM366.5 64.7h0.9v0.9h-0.9zM364.2 69.6h0.9v0.9h-0.9zM362.1 70.6h0.9v0.9h-0.9zM363.4 68.2h0.9v0.9h-0.9zM365.8 67.6h0.9v0.9h-0.9zM363.6 70.1h0.9v0.9h-0.9zM364.6 65.9h0.9v0.9h-0.9zM368.0 61.9h0.9v0.9h-0.9zM364.3 69.2h0.9v0.9h-0.9zM366.6 68.1h0.9v0.9h-0.9zM368.6 64.1h0.9v0.9h-0.9zM364.8 69.7h0.9v0.9h-0.9zM362.4 69.1h0.9v0.9h-0.9zM363.3 70.6h0.9v0.9h-0.9zM366.4 66.6h0.9v0.9h-0.9zM366.6 66.2h0.9v0.9h-0.9zM365.4 68.1h0.9v0.9h-0.9zM365.2 67.3h0.9v0.9h-0.9zM369.0 64.7h0.9v0.9h-0.9zM368.0 65.8h0.9v0.9h-0.9zM362.7 71.5h0.9v0.9h-0.9zM364.6 67.1h0.9v0.9h-0.9z" fill="#4c4a04" fill-opacity="0.7"/>
</g>
<rect x="348.30" y="52.30" width="29.30" height="30.50" fill="none" stroke="#b8b8b8" stroke-width="0.8"/>
<line x1="348.30" y1="82.80" x2="377.60" y2="82.80" stroke="#8a8a8a" stroke-width="0.8"/>
<line x1="358.10" y1="52.30" x2="358.10" y2="82.80" stroke="#6e6c7a" stroke-width="1.0"/>
<polygon points="317.40,118.60 317.40,92.00 337.90,79.30 337.90,105.90" fill="none" stroke="#858585" stroke-width="0.8"/>
<rect x="282.50" y="41.50" width="101" height="88.0" fill="none" stroke="#2b2b2b" stroke-width="1"/>
<text x="311.09" y="50.60" font-size="7.56" fill="#231f20" stroke="#231f20" stroke-width="0.08" textLength="45.27" lengthAdjust="spacingAndGlyphs">Hypodiploid</text>
<text x="345.23" y="89.80" font-size="8.14" fill="#231f20" stroke="#231f20" stroke-width="0.08" textLength="36.80" lengthAdjust="spacingAndGlyphs">Nucleated</text>
<text x="298.00" y="99.70" font-size="7.41" fill="#231f20" stroke="#231f20" stroke-width="0.08" textLength="15.09" lengthAdjust="spacingAndGlyphs">MN</text>
<text x="352.20" y="122.30" font-size="7.56" fill="#c23648" stroke="#c23648" stroke-width="0.05" textLength="22.28" lengthAdjust="spacingAndGlyphs">14.2%</text>
<text x="317.97" y="33.50" font-size="10.32" fill="#e6efff" textLength="30.31" lengthAdjust="spacingAndGlyphs">DMSO</text>
<path d="M276.5 130.1v1.6q0 1.1 2.2 1.1q2.2 0 2.2 -1.1v-1.2" stroke="#b89aa8" stroke-width="0.7" fill="none"/>
<rect x="411.30" y="22.90" width="102.30" height="15.20" fill="#c70428"/>
<line x1="409.10" y1="50.90" x2="411.50" y2="50.90" stroke="#2b2b2b" stroke-width="1.0"/>
<line x1="410.30" y1="66.31" x2="411.50" y2="66.31" stroke="#666" stroke-width="0.5"/>
<line x1="410.30" y1="62.43" x2="411.50" y2="62.43" stroke="#666" stroke-width="0.5"/>
<line x1="410.30" y1="59.68" x2="411.50" y2="59.68" stroke="#666" stroke-width="0.5"/>
<line x1="410.30" y1="57.54" x2="411.50" y2="57.54" stroke="#666" stroke-width="0.5"/>
<line x1="410.30" y1="55.80" x2="411.50" y2="55.80" stroke="#666" stroke-width="0.5"/>
<line x1="410.30" y1="54.32" x2="411.50" y2="54.32" stroke="#666" stroke-width="0.5"/>
<line x1="410.30" y1="53.04" x2="411.50" y2="53.04" stroke="#666" stroke-width="0.5"/>
<line x1="410.30" y1="51.91" x2="411.50" y2="51.91" stroke="#666" stroke-width="0.5"/>
<line x1="409.10" y1="72.95" x2="411.50" y2="72.95" stroke="#2b2b2b" stroke-width="1.0"/>
<line x1="410.30" y1="88.36" x2="411.50" y2="88.36" stroke="#666" stroke-width="0.5"/>
<line x1="410.30" y1="84.48" x2="411.50" y2="84.48" stroke="#666" stroke-width="0.5"/>
<line x1="410.30" y1="81.73" x2="411.50" y2="81.73" stroke="#666" stroke-width="0.5"/>
<line x1="410.30" y1="79.59" x2="411.50" y2="79.59" stroke="#666" stroke-width="0.5"/>
<line x1="410.30" y1="77.85" x2="411.50" y2="77.85" stroke="#666" stroke-width="0.5"/>
<line x1="410.30" y1="76.37" x2="411.50" y2="76.37" stroke="#666" stroke-width="0.5"/>
<line x1="410.30" y1="75.09" x2="411.50" y2="75.09" stroke="#666" stroke-width="0.5"/>
<line x1="410.30" y1="73.96" x2="411.50" y2="73.96" stroke="#666" stroke-width="0.5"/>
<line x1="409.10" y1="95.00" x2="411.50" y2="95.00" stroke="#2b2b2b" stroke-width="1.0"/>
<line x1="410.30" y1="110.41" x2="411.50" y2="110.41" stroke="#666" stroke-width="0.5"/>
<line x1="410.30" y1="106.53" x2="411.50" y2="106.53" stroke="#666" stroke-width="0.5"/>
<line x1="410.30" y1="103.78" x2="411.50" y2="103.78" stroke="#666" stroke-width="0.5"/>
<line x1="410.30" y1="101.64" x2="411.50" y2="101.64" stroke="#666" stroke-width="0.5"/>
<line x1="410.30" y1="99.90" x2="411.50" y2="99.90" stroke="#666" stroke-width="0.5"/>
<line x1="410.30" y1="98.42" x2="411.50" y2="98.42" stroke="#666" stroke-width="0.5"/>
<line x1="410.30" y1="97.14" x2="411.50" y2="97.14" stroke="#666" stroke-width="0.5"/>
<line x1="410.30" y1="96.01" x2="411.50" y2="96.01" stroke="#666" stroke-width="0.5"/>
<line x1="409.10" y1="117.05" x2="411.50" y2="117.05" stroke="#2b2b2b" stroke-width="1.0"/>
<line x1="410.30" y1="128.58" x2="411.50" y2="128.58" stroke="#666" stroke-width="0.5"/>
<line x1="410.30" y1="125.83" x2="411.50" y2="125.83" stroke="#666" stroke-width="0.5"/>
<line x1="410.30" y1="123.69" x2="411.50" y2="123.69" stroke="#666" stroke-width="0.5"/>
<line x1="410.30" y1="121.95" x2="411.50" y2="121.95" stroke="#666" stroke-width="0.5"/>
<line x1="410.30" y1="120.47" x2="411.50" y2="120.47" stroke="#666" stroke-width="0.5"/>
<line x1="410.30" y1="119.19" x2="411.50" y2="119.19" stroke="#666" stroke-width="0.5"/>
<line x1="410.30" y1="118.06" x2="411.50" y2="118.06" stroke="#666" stroke-width="0.5"/>
<line x1="415.50" y1="129.50" x2="415.50" y2="131.70" stroke="#2b2b2b" stroke-width="0.9"/>
<line x1="422.02" y1="129.50" x2="422.02" y2="130.70" stroke="#666" stroke-width="0.5"/>
<line x1="425.83" y1="129.50" x2="425.83" y2="130.70" stroke="#666" stroke-width="0.5"/>
<line x1="428.53" y1="129.50" x2="428.53" y2="130.70" stroke="#666" stroke-width="0.5"/>
<line x1="430.63" y1="129.50" x2="430.63" y2="130.70" stroke="#666" stroke-width="0.5"/>
<line x1="432.34" y1="129.50" x2="432.34" y2="130.70" stroke="#666" stroke-width="0.5"/>
<line x1="433.79" y1="129.50" x2="433.79" y2="130.70" stroke="#666" stroke-width="0.5"/>
<line x1="435.05" y1="129.50" x2="435.05" y2="130.70" stroke="#666" stroke-width="0.5"/>
<line x1="436.15" y1="129.50" x2="436.15" y2="130.70" stroke="#666" stroke-width="0.5"/>
<line x1="437.15" y1="129.50" x2="437.15" y2="131.70" stroke="#2b2b2b" stroke-width="0.9"/>
<line x1="443.67" y1="129.50" x2="443.67" y2="130.70" stroke="#666" stroke-width="0.5"/>
<line x1="447.48" y1="129.50" x2="447.48" y2="130.70" stroke="#666" stroke-width="0.5"/>
<line x1="450.18" y1="129.50" x2="450.18" y2="130.70" stroke="#666" stroke-width="0.5"/>
<line x1="452.28" y1="129.50" x2="452.28" y2="130.70" stroke="#666" stroke-width="0.5"/>
<line x1="453.99" y1="129.50" x2="453.99" y2="130.70" stroke="#666" stroke-width="0.5"/>
<line x1="455.44" y1="129.50" x2="455.44" y2="130.70" stroke="#666" stroke-width="0.5"/>
<line x1="456.70" y1="129.50" x2="456.70" y2="130.70" stroke="#666" stroke-width="0.5"/>
<line x1="457.80" y1="129.50" x2="457.80" y2="130.70" stroke="#666" stroke-width="0.5"/>
<line x1="458.80" y1="129.50" x2="458.80" y2="131.70" stroke="#2b2b2b" stroke-width="0.9"/>
<line x1="465.32" y1="129.50" x2="465.32" y2="130.70" stroke="#666" stroke-width="0.5"/>
<line x1="469.13" y1="129.50" x2="469.13" y2="130.70" stroke="#666" stroke-width="0.5"/>
<line x1="471.83" y1="129.50" x2="471.83" y2="130.70" stroke="#666" stroke-width="0.5"/>
<line x1="473.93" y1="129.50" x2="473.93" y2="130.70" stroke="#666" stroke-width="0.5"/>
<line x1="475.64" y1="129.50" x2="475.64" y2="130.70" stroke="#666" stroke-width="0.5"/>
<line x1="477.09" y1="129.50" x2="477.09" y2="130.70" stroke="#666" stroke-width="0.5"/>
<line x1="478.35" y1="129.50" x2="478.35" y2="130.70" stroke="#666" stroke-width="0.5"/>
<line x1="479.45" y1="129.50" x2="479.45" y2="130.70" stroke="#666" stroke-width="0.5"/>
<line x1="480.45" y1="129.50" x2="480.45" y2="131.70" stroke="#2b2b2b" stroke-width="0.9"/>
<line x1="486.97" y1="129.50" x2="486.97" y2="130.70" stroke="#666" stroke-width="0.5"/>
<line x1="490.78" y1="129.50" x2="490.78" y2="130.70" stroke="#666" stroke-width="0.5"/>
<line x1="493.48" y1="129.50" x2="493.48" y2="130.70" stroke="#666" stroke-width="0.5"/>
<line x1="495.58" y1="129.50" x2="495.58" y2="130.70" stroke="#666" stroke-width="0.5"/>
<line x1="497.29" y1="129.50" x2="497.29" y2="130.70" stroke="#666" stroke-width="0.5"/>
<line x1="498.74" y1="129.50" x2="498.74" y2="130.70" stroke="#666" stroke-width="0.5"/>
<line x1="500.00" y1="129.50" x2="500.00" y2="130.70" stroke="#666" stroke-width="0.5"/>
<line x1="501.10" y1="129.50" x2="501.10" y2="130.70" stroke="#666" stroke-width="0.5"/>
<line x1="502.10" y1="129.50" x2="502.10" y2="131.70" stroke="#2b2b2b" stroke-width="0.9"/>
<line x1="508.62" y1="129.50" x2="508.62" y2="130.70" stroke="#666" stroke-width="0.5"/>
<line x1="512.43" y1="129.50" x2="512.43" y2="130.70" stroke="#666" stroke-width="0.5"/>
<text x="393.92" y="53.70" font-size="8.43" fill="#231f20" stroke="#231f20" stroke-width="0.16" textLength="8.48" lengthAdjust="spacingAndGlyphs">10</text>
<text x="402.23" y="51.10" font-size="5.23" fill="#231f20" stroke="#231f20" stroke-width="0.16" textLength="3.75" lengthAdjust="spacingAndGlyphs">5</text>
<text x="393.92" y="75.75" font-size="8.43" fill="#231f20" stroke="#231f20" stroke-width="0.16" textLength="8.48" lengthAdjust="spacingAndGlyphs">10</text>
<text x="402.35" y="73.15" font-size="5.23" fill="#231f20" stroke="#231f20" stroke-width="0.16" textLength="3.53" lengthAdjust="spacingAndGlyphs">4</text>
<text x="393.92" y="97.80" font-size="8.43" fill="#231f20" stroke="#231f20" stroke-width="0.16" textLength="8.48" lengthAdjust="spacingAndGlyphs">10</text>
<text x="402.24" y="95.20" font-size="5.23" fill="#231f20" stroke="#231f20" stroke-width="0.16" textLength="3.75" lengthAdjust="spacingAndGlyphs">3</text>
<text x="393.92" y="119.85" font-size="8.43" fill="#231f20" stroke="#231f20" stroke-width="0.16" textLength="8.48" lengthAdjust="spacingAndGlyphs">10</text>
<text x="402.15" y="117.25" font-size="5.23" fill="#231f20" stroke="#231f20" stroke-width="0.16" textLength="3.91" lengthAdjust="spacingAndGlyphs">2</text>
<clipPath id="mn2"><polygon points="446.40,118.60 446.40,92.00 466.90,79.30 466.90,105.90"/></clipPath>
<clipPath id="nu2"><rect x="487.10" y="52.30" width="19.50" height="30.50"/></clipPath>
<path d="M475.8 87.4h0.8v0.8h-0.8zM456.4 99.8h0.8v0.8h-0.8zM464.8 87.8h0.8v0.8h-0.8zM464.9 80.3h0.8v0.8h-0.8zM458.0 105.3h0.8v0.8h-0.8zM461.1 94.6h0.8v0.8h-0.8zM464.6 104.2h0.8v0.8h-0.8zM464.1 94.6h0.8v0.8h-0.8zM462.7 95.5h0.8v0.8h-0.8zM466.2 80.9h0.8v0.8h-0.8zM467.4 96.4h0.8v0.8h-0.8zM459.6 96.6h0.8v0.8h-0.8zM466.0 89.6h0.8v0.8h-0.8zM453.6 94.7h0.8v0.8h-0.8zM461.0 101.5h0.8v0.8h-0.8zM474.7 84.6h0.8v0.8h-0.8zM454.8 101.4h0.8v0.8h-0.8zM458.2 100.7h0.8v0.8h-0.8zM461.8 97.8h0.8v0.8h-0.8zM457.5 106.1h0.8v0.8h-0.8zM449.8 111.3h0.8v0.8h-0.8zM470.3 93.8h0.8v0.8h-0.8zM455.9 101.9h0.8v0.8h-0.8zM456.2 99.6h0.8v0.8h-0.8zM457.4 98.8h0.8v0.8h-0.8zM449.1 98.7h0.8v0.8h-0.8zM452.9 102.7h0.8v0.8h-0.8zM463.9 98.2h0.8v0.8h-0.8zM473.7 82.1h0.8v0.8h-0.8zM462.3 90.8h0.8v0.8h-0.8zM465.3 93.1h0.8v0.8h-0.8zM447.7 103.1h0.8v0.8h-0.8zM459.7 96.9h0.8v0.8h-0.8zM455.7 106.1h0.8v0.8h-0.8zM466.3 93.6h0.8v0.8h-0.8zM457.4 97.2h0.8v0.8h-0.8zM463.0 98.8h0.8v0.8h-0.8zM464.8 101.6h0.8v0.8h-0.8zM456.5 100.3h0.8v0.8h-0.8zM454.5 108.7h0.8v0.8h-0.8zM459.7 90.4h0.8v0.8h-0.8zM448.5 102.4h0.8v0.8h-0.8zM455.9 106.2h0.8v0.8h-0.8zM459.1 99.3h0.8v0.8h-0.8zM457.4 102.3h0.8v0.8h-0.8zM460.5 94.4h0.8v0.8h-0.8zM465.1 90.1h0.8v0.8h-0.8zM463.9 97.3h0.8v0.8h-0.8zM465.9 99.4h0.8v0.8h-0.8zM460.1 96.7h0.8v0.8h-0.8zM460.9 88.4h0.8v0.8h-0.8zM454.1 111.9h0.8v0.8h-0.8zM464.0 96.1h0.8v0.8h-0.8zM457.4 104.7h0.8v0.8h-0.8zM454.6 105.7h0.8v0.8h-0.8zM466.4 101.9h0.8v0.8h-0.8zM458.7 100.0h0.8v0.8h-0.8zM464.9 94.5h0.8v0.8h-0.8zM461.7 86.4h0.8v0.8h-0.8zM447.0 111.4h0.8v0.8h-0.8zM458.5 96.4h0.8v0.8h-0.8zM470.7 84.4h0.8v0.8h-0.8zM466.0 92.3h0.8v0.8h-0.8zM466.2 86.3h0.8v0.8h-0.8zM465.4 100.1h0.8v0.8h-0.8zM450.4 104.6h0.8v0.8h-0.8zM453.6 103.8h0.8v0.8h-0.8zM464.9 93.1h0.8v0.8h-0.8zM462.4 88.5h0.8v0.8h-0.8zM458.2 103.2h0.8v0.8h-0.8zM460.7 100.3h0.8v0.8h-0.8zM461.2 95.0h0.8v0.8h-0.8zM456.2 112.5h0.8v0.8h-0.8zM458.9 99.7h0.8v0.8h-0.8zM469.7 87.2h0.8v0.8h-0.8zM469.5 81.1h0.8v0.8h-0.8zM455.8 94.7h0.8v0.8h-0.8z" fill="#c9a6d8" fill-opacity="0.35"/>
<g clip-path="url(#mn2)">
<path d="M450.4 105.5h0.9v0.9h-0.9zM453.5 105.7h0.9v0.9h-0.9zM453.6 106.8h0.9v0.9h-0.9zM464.0 105.7h0.9v0.9h-0.9zM440.7 111.2h0.9v0.9h-0.9zM453.4 111.8h0.9v0.9h-0.9zM449.1 113.7h0.9v0.9h-0.9zM457.7 96.3h0.9v0.9h-0.9zM452.2 106.5h0.9v0.9h-0.9zM451.4 105.5h0.9v0.9h-0.9zM450.7 109.4h0.9v0.9h-0.9zM460.9 102.2h0.9v0.9h-0.9zM448.9 102.7h0.9v0.9h-0.9zM459.2 106.1h0.9v0.9h-0.9zM446.1 112.8h0.9v0.9h-0.9zM463.3 102.0h0.9v0.9h-0.9zM457.3 103.2h0.9v0.9h-0.9zM460.2 104.3h0.9v0.9h-0.9zM460.9 99.6h0.9v0.9h-0.9zM457.0 107.5h0.9v0.9h-0.9zM454.2 105.1h0.9v0.9h-0.9zM455.0 98.9h0.9v0.9h-0.9zM458.2 103.7h0.9v0.9h-0.9zM455.8 106.9h0.9v0.9h-0.9zM460.8 108.6h0.9v0.9h-0.9zM447.2 102.0h0.9v0.9h-0.9zM456.8 100.4h0.9v0.9h-0.9zM461.2 102.2h0.9v0.9h-0.9zM451.2 101.3h0.9v0.9h-0.9zM461.1 94.8h0.9v0.9h-0.9zM455.0 116.1h0.9v0.9h-0.9zM457.8 108.4h0.9v0.9h-0.9zM458.6 94.2h0.9v0.9h-0.9zM457.2 109.3h0.9v0.9h-0.9zM452.1 114.3h0.9v0.9h-0.9zM462.1 99.4h0.9v0.9h-0.9zM457.8 102.4h0.9v0.9h-0.9zM450.9 110.3h0.9v0.9h-0.9zM455.2 98.6h0.9v0.9h-0.9zM449.5 107.8h0.9v0.9h-0.9zM451.8 112.1h0.9v0.9h-0.9zM454.6 105.2h0.9v0.9h-0.9zM458.1 110.5h0.9v0.9h-0.9zM449.7 108.6h0.9v0.9h-0.9zM446.6 100.5h0.9v0.9h-0.9zM450.1 108.1h0.9v0.9h-0.9zM455.7 104.5h0.9v0.9h-0.9zM455.7 105.1h0.9v0.9h-0.9zM457.7 100.8h0.9v0.9h-0.9zM450.7 104.5h0.9v0.9h-0.9zM454.0 113.7h0.9v0.9h-0.9zM448.0 108.9h0.9v0.9h-0.9zM455.8 106.9h0.9v0.9h-0.9zM459.7 96.3h0.9v0.9h-0.9zM454.5 97.5h0.9v0.9h-0.9zM456.3 110.3h0.9v0.9h-0.9zM451.2 94.1h0.9v0.9h-0.9zM448.0 107.7h0.9v0.9h-0.9zM459.7 100.4h0.9v0.9h-0.9zM452.3 105.2h0.9v0.9h-0.9zM459.7 102.2h0.9v0.9h-0.9zM456.8 101.0h0.9v0.9h-0.9zM452.4 104.5h0.9v0.9h-0.9zM462.1 107.5h0.9v0.9h-0.9zM450.2 108.7h0.9v0.9h-0.9zM454.0 104.2h0.9v0.9h-0.9zM455.8 96.7h0.9v0.9h-0.9zM467.9 83.3h0.9v0.9h-0.9zM459.2 102.3h0.9v0.9h-0.9zM456.7 105.0h0.9v0.9h-0.9zM451.0 108.9h0.9v0.9h-0.9zM456.7 97.6h0.9v0.9h-0.9zM450.5 113.5h0.9v0.9h-0.9zM447.0 104.1h0.9v0.9h-0.9zM455.1 101.7h0.9v0.9h-0.9zM449.6 109.3h0.9v0.9h-0.9zM458.1 95.1h0.9v0.9h-0.9zM459.3 99.4h0.9v0.9h-0.9zM450.8 105.4h0.9v0.9h-0.9zM450.4 105.0h0.9v0.9h-0.9zM454.9 114.4h0.9v0.9h-0.9zM451.6 112.4h0.9v0.9h-0.9zM459.8 104.8h0.9v0.9h-0.9zM457.3 101.4h0.9v0.9h-0.9zM458.8 104.7h0.9v0.9h-0.9zM458.0 104.7h0.9v0.9h-0.9zM456.1 109.5h0.9v0.9h-0.9zM462.8 107.8h0.9v0.9h-0.9zM448.7 110.6h0.9v0.9h-0.9zM455.6 104.7h0.9v0.9h-0.9zM460.2 97.2h0.9v0.9h-0.9zM449.9 90.1h0.9v0.9h-0.9zM449.1 103.3h0.9v0.9h-0.9zM453.6 105.8h0.9v0.9h-0.9zM461.7 99.1h0.9v0.9h-0.9zM459.9 94.5h0.9v0.9h-0.9zM452.4 113.8h0.9v0.9h-0.9zM456.8 109.1h0.9v0.9h-0.9zM454.5 102.2h0.9v0.9h-0.9zM463.4 101.7h0.9v0.9h-0.9zM456.6 112.0h0.9v0.9h-0.9zM458.5 102.2h0.9v0.9h-0.9zM450.9 103.4h0.9v0.9h-0.9zM467.8 96.3h0.9v0.9h-0.9zM456.0 101.8h0.9v0.9h-0.9zM453.3 104.0h0.9v0.9h-0.9zM453.9 106.0h0.9v0.9h-0.9zM457.3 98.0h0.9v0.9h-0.9zM460.4 103.4h0.9v0.9h-0.9zM453.0 111.0h0.9v0.9h-0.9zM459.1 105.9h0.9v0.9h-0.9zM451.5 111.8h0.9v0.9h-0.9zM449.8 106.0h0.9v0.9h-0.9zM449.5 109.9h0.9v0.9h-0.9zM452.3 112.4h0.9v0.9h-0.9zM451.1 106.5h0.9v0.9h-0.9zM459.4 115.3h0.9v0.9h-0.9zM456.1 101.2h0.9v0.9h-0.9zM456.2 99.2h0.9v0.9h-0.9zM457.2 107.9h0.9v0.9h-0.9zM452.8 111.1h0.9v0.9h-0.9zM457.8 100.4h0.9v0.9h-0.9zM446.6 113.2h0.9v0.9h-0.9zM448.8 114.2h0.9v0.9h-0.9zM459.9 102.7h0.9v0.9h-0.9zM459.4 102.8h0.9v0.9h-0.9zM457.6 99.0h0.9v0.9h-0.9zM455.2 106.2h0.9v0.9h-0.9zM452.5 112.0h0.9v0.9h-0.9zM455.1 108.3h0.9v0.9h-0.9zM448.3 94.7h0.9v0.9h-0.9zM449.5 105.8h0.9v0.9h-0.9zM450.0 105.8h0.9v0.9h-0.9zM449.0 110.3h0.9v0.9h-0.9zM451.0 110.1h0.9v0.9h-0.9zM460.6 102.3h0.9v0.9h-0.9zM458.3 103.5h0.9v0.9h-0.9zM450.1 109.4h0.9v0.9h-0.9zM450.9 109.3h0.9v0.9h-0.9zM457.7 110.8h0.9v0.9h-0.9zM455.2 100.3h0.9v0.9h-0.9zM451.3 110.4h0.9v0.9h-0.9zM458.6 108.5h0.9v0.9h-0.9zM447.8 115.1h0.9v0.9h-0.9zM444.4 105.6h0.9v0.9h-0.9zM457.5 103.1h0.9v0.9h-0.9zM457.1 99.1h0.9v0.9h-0.9zM450.2 109.4h0.9v0.9h-0.9zM454.9 110.2h0.9v0.9h-0.9zM459.1 101.5h0.9v0.9h-0.9zM452.6 105.5h0.9v0.9h-0.9zM455.3 108.7h0.9v0.9h-0.9zM458.0 102.7h0.9v0.9h-0.9zM455.9 103.5h0.9v0.9h-0.9zM459.8 99.7h0.9v0.9h-0.9zM458.5 101.0h0.9v0.9h-0.9zM451.7 106.2h0.9v0.9h-0.9zM453.1 103.7h0.9v0.9h-0.9zM454.7 104.5h0.9v0.9h-0.9zM447.1 108.4h0.9v0.9h-0.9zM447.7 106.0h0.9v0.9h-0.9zM462.1 102.5h0.9v0.9h-0.9zM448.2 111.1h0.9v0.9h-0.9zM458.5 99.5h0.9v0.9h-0.9zM455.5 102.6h0.9v0.9h-0.9zM454.4 104.9h0.9v0.9h-0.9zM456.9 101.7h0.9v0.9h-0.9zM456.8 102.1h0.9v0.9h-0.9zM457.1 96.7h0.9v0.9h-0.9zM456.0 108.2h0.9v0.9h-0.9zM452.0 103.7h0.9v0.9h-0.9zM456.8 107.7h0.9v0.9h-0.9zM456.5 91.1h0.9v0.9h-0.9zM455.4 97.4h0.9v0.9h-0.9zM454.2 110.8h0.9v0.9h-0.9zM453.2 105.4h0.9v0.9h-0.9z" fill="#d8a0dc" fill-opacity="0.55"/>
<path d="M454.8 109.5h0.9v0.9h-0.9zM453.6 102.6h0.9v0.9h-0.9zM449.8 107.6h0.9v0.9h-0.9zM457.7 107.5h0.9v0.9h-0.9zM447.2 112.3h0.9v0.9h-0.9zM455.6 108.8h0.9v0.9h-0.9zM455.5 109.9h0.9v0.9h-0.9zM454.4 102.3h0.9v0.9h-0.9zM455.9 101.5h0.9v0.9h-0.9zM451.8 108.2h0.9v0.9h-0.9zM456.8 98.0h0.9v0.9h-0.9zM450.4 105.5h0.9v0.9h-0.9zM447.5 111.6h0.9v0.9h-0.9zM449.1 114.8h0.9v0.9h-0.9zM457.4 98.9h0.9v0.9h-0.9zM453.4 105.0h0.9v0.9h-0.9zM451.3 106.6h0.9v0.9h-0.9zM449.2 105.5h0.9v0.9h-0.9zM454.0 111.3h0.9v0.9h-0.9zM453.1 96.5h0.9v0.9h-0.9zM452.5 104.3h0.9v0.9h-0.9zM460.2 99.6h0.9v0.9h-0.9zM450.7 103.5h0.9v0.9h-0.9zM448.7 114.3h0.9v0.9h-0.9zM458.9 104.1h0.9v0.9h-0.9zM451.3 104.9h0.9v0.9h-0.9zM453.8 106.2h0.9v0.9h-0.9zM456.2 97.7h0.9v0.9h-0.9zM454.3 106.8h0.9v0.9h-0.9zM457.5 101.1h0.9v0.9h-0.9zM454.5 105.4h0.9v0.9h-0.9zM454.7 109.9h0.9v0.9h-0.9zM456.4 104.0h0.9v0.9h-0.9zM455.1 109.3h0.9v0.9h-0.9zM458.8 101.7h0.9v0.9h-0.9zM454.3 99.7h0.9v0.9h-0.9zM454.7 105.2h0.9v0.9h-0.9zM456.7 103.7h0.9v0.9h-0.9zM452.7 100.7h0.9v0.9h-0.9zM456.0 108.1h0.9v0.9h-0.9zM456.7 102.0h0.9v0.9h-0.9zM454.2 106.4h0.9v0.9h-0.9zM453.9 101.4h0.9v0.9h-0.9zM451.5 108.5h0.9v0.9h-0.9zM454.9 105.2h0.9v0.9h-0.9zM454.5 103.0h0.9v0.9h-0.9zM452.0 107.9h0.9v0.9h-0.9zM448.6 103.1h0.9v0.9h-0.9zM455.3 109.1h0.9v0.9h-0.9zM453.8 100.7h0.9v0.9h-0.9zM447.6 104.0h0.9v0.9h-0.9zM453.3 101.9h0.9v0.9h-0.9zM456.6 98.3h0.9v0.9h-0.9zM456.1 104.6h0.9v0.9h-0.9zM447.7 109.2h0.9v0.9h-0.9zM455.0 105.0h0.9v0.9h-0.9zM455.0 99.8h0.9v0.9h-0.9zM457.7 109.6h0.9v0.9h-0.9zM458.3 102.0h0.9v0.9h-0.9zM459.7 106.0h0.9v0.9h-0.9zM453.2 101.9h0.9v0.9h-0.9zM454.7 107.0h0.9v0.9h-0.9zM450.7 105.3h0.9v0.9h-0.9zM454.5 106.8h0.9v0.9h-0.9zM455.6 105.9h0.9v0.9h-0.9zM452.3 100.6h0.9v0.9h-0.9zM452.9 101.7h0.9v0.9h-0.9zM450.9 104.2h0.9v0.9h-0.9zM451.2 102.3h0.9v0.9h-0.9zM453.7 102.5h0.9v0.9h-0.9zM447.6 109.1h0.9v0.9h-0.9zM449.0 105.4h0.9v0.9h-0.9zM452.0 107.9h0.9v0.9h-0.9zM454.6 106.6h0.9v0.9h-0.9zM450.6 103.8h0.9v0.9h-0.9zM452.2 105.0h0.9v0.9h-0.9zM451.6 108.1h0.9v0.9h-0.9zM455.5 102.2h0.9v0.9h-0.9zM453.4 102.9h0.9v0.9h-0.9zM451.1 112.0h0.9v0.9h-0.9zM455.8 106.3h0.9v0.9h-0.9zM452.3 110.0h0.9v0.9h-0.9zM458.4 98.7h0.9v0.9h-0.9zM456.8 109.8h0.9v0.9h-0.9zM456.5 109.2h0.9v0.9h-0.9zM453.5 104.0h0.9v0.9h-0.9zM453.3 105.5h0.9v0.9h-0.9zM456.3 107.1h0.9v0.9h-0.9zM456.8 98.2h0.9v0.9h-0.9zM455.5 104.8h0.9v0.9h-0.9zM456.5 102.1h0.9v0.9h-0.9zM455.8 99.9h0.9v0.9h-0.9zM450.9 108.0h0.9v0.9h-0.9zM455.6 96.5h0.9v0.9h-0.9zM454.9 101.7h0.9v0.9h-0.9zM452.7 98.4h0.9v0.9h-0.9zM456.3 111.7h0.9v0.9h-0.9zM459.4 104.5h0.9v0.9h-0.9zM457.7 105.5h0.9v0.9h-0.9zM453.2 107.3h0.9v0.9h-0.9zM462.5 98.5h0.9v0.9h-0.9zM458.2 105.0h0.9v0.9h-0.9zM455.5 107.4h0.9v0.9h-0.9zM456.5 105.7h0.9v0.9h-0.9zM454.8 100.3h0.9v0.9h-0.9zM458.1 101.7h0.9v0.9h-0.9zM454.6 102.0h0.9v0.9h-0.9zM455.1 98.8h0.9v0.9h-0.9zM455.9 97.9h0.9v0.9h-0.9zM451.5 110.0h0.9v0.9h-0.9zM454.8 108.3h0.9v0.9h-0.9zM448.7 106.0h0.9v0.9h-0.9zM457.9 107.4h0.9v0.9h-0.9zM461.1 102.2h0.9v0.9h-0.9zM455.1 102.0h0.9v0.9h-0.9zM450.2 107.9h0.9v0.9h-0.9zM453.1 105.8h0.9v0.9h-0.9zM458.9 102.9h0.9v0.9h-0.9zM451.8 106.2h0.9v0.9h-0.9zM451.5 103.5h0.9v0.9h-0.9zM455.6 104.4h0.9v0.9h-0.9zM444.8 108.0h0.9v0.9h-0.9zM456.5 102.4h0.9v0.9h-0.9zM457.4 105.6h0.9v0.9h-0.9zM456.3 103.4h0.9v0.9h-0.9zM452.9 109.6h0.9v0.9h-0.9zM452.9 108.4h0.9v0.9h-0.9zM453.9 108.2h0.9v0.9h-0.9zM455.1 104.3h0.9v0.9h-0.9zM452.6 103.3h0.9v0.9h-0.9zM454.0 104.1h0.9v0.9h-0.9zM458.9 98.5h0.9v0.9h-0.9z" fill="#ac48b0" fill-opacity="0.55"/>
<path d="M457.0 103.9h0.9v0.9h-0.9zM456.6 102.0h0.9v0.9h-0.9zM454.9 105.7h0.9v0.9h-0.9zM451.7 108.2h0.9v0.9h-0.9zM452.7 108.8h0.9v0.9h-0.9zM454.6 108.1h0.9v0.9h-0.9zM455.5 102.2h0.9v0.9h-0.9zM454.0 105.4h0.9v0.9h-0.9zM452.8 106.1h0.9v0.9h-0.9zM450.8 107.5h0.9v0.9h-0.9zM454.8 103.7h0.9v0.9h-0.9zM451.8 103.9h0.9v0.9h-0.9zM454.1 107.1h0.9v0.9h-0.9zM455.9 107.8h0.9v0.9h-0.9zM459.1 103.8h0.9v0.9h-0.9zM454.7 108.0h0.9v0.9h-0.9zM455.0 100.5h0.9v0.9h-0.9zM457.9 104.7h0.9v0.9h-0.9zM452.0 105.0h0.9v0.9h-0.9zM454.7 103.7h0.9v0.9h-0.9zM455.6 108.6h0.9v0.9h-0.9zM449.6 106.8h0.9v0.9h-0.9zM453.8 107.7h0.9v0.9h-0.9zM451.6 108.7h0.9v0.9h-0.9zM453.8 104.5h0.9v0.9h-0.9zM451.7 104.9h0.9v0.9h-0.9zM454.8 105.1h0.9v0.9h-0.9zM454.0 103.3h0.9v0.9h-0.9zM448.2 115.3h0.9v0.9h-0.9zM455.5 106.7h0.9v0.9h-0.9zM447.2 108.9h0.9v0.9h-0.9zM452.6 104.9h0.9v0.9h-0.9zM450.7 107.9h0.9v0.9h-0.9zM451.4 104.3h0.9v0.9h-0.9zM454.0 101.1h0.9v0.9h-0.9zM449.6 110.5h0.9v0.9h-0.9zM453.1 105.3h0.9v0.9h-0.9zM450.3 104.2h0.9v0.9h-0.9zM448.3 110.2h0.9v0.9h-0.9zM455.1 105.0h0.9v0.9h-0.9zM451.2 104.4h0.9v0.9h-0.9zM450.5 106.2h0.9v0.9h-0.9zM454.0 109.8h0.9v0.9h-0.9zM461.6 99.4h0.9v0.9h-0.9zM449.7 105.0h0.9v0.9h-0.9zM447.2 109.0h0.9v0.9h-0.9zM451.7 108.9h0.9v0.9h-0.9zM450.4 105.5h0.9v0.9h-0.9zM451.8 106.7h0.9v0.9h-0.9zM452.1 105.6h0.9v0.9h-0.9zM451.7 109.4h0.9v0.9h-0.9zM450.2 101.5h0.9v0.9h-0.9zM448.6 104.5h0.9v0.9h-0.9zM448.3 108.0h0.9v0.9h-0.9zM452.9 109.4h0.9v0.9h-0.9zM452.0 106.8h0.9v0.9h-0.9zM452.1 101.7h0.9v0.9h-0.9zM454.8 105.4h0.9v0.9h-0.9zM453.4 107.7h0.9v0.9h-0.9zM452.7 105.6h0.9v0.9h-0.9zM452.9 105.0h0.9v0.9h-0.9zM457.9 101.3h0.9v0.9h-0.9zM453.6 109.1h0.9v0.9h-0.9zM454.2 105.0h0.9v0.9h-0.9zM455.3 104.8h0.9v0.9h-0.9zM451.0 108.4h0.9v0.9h-0.9zM452.8 105.0h0.9v0.9h-0.9zM451.9 104.4h0.9v0.9h-0.9zM452.4 107.5h0.9v0.9h-0.9zM453.7 104.2h0.9v0.9h-0.9zM454.7 103.1h0.9v0.9h-0.9zM456.8 104.2h0.9v0.9h-0.9zM453.4 107.1h0.9v0.9h-0.9zM454.7 106.6h0.9v0.9h-0.9zM455.4 98.0h0.9v0.9h-0.9zM451.6 109.5h0.9v0.9h-0.9zM452.5 104.7h0.9v0.9h-0.9z" fill="#842088" fill-opacity="0.55"/>
</g>
<path d="M495.5 73.8h0.9v0.9h-0.9zM489.6 70.7h0.9v0.9h-0.9zM500.3 61.4h0.9v0.9h-0.9zM496.1 61.8h0.9v0.9h-0.9zM492.3 71.2h0.9v0.9h-0.9zM492.7 74.7h0.9v0.9h-0.9zM495.7 67.7h0.9v0.9h-0.9zM493.4 69.9h0.9v0.9h-0.9zM507.8 62.5h0.9v0.9h-0.9zM491.2 76.2h0.9v0.9h-0.9zM487.1 76.5h0.9v0.9h-0.9zM497.9 71.0h0.9v0.9h-0.9zM498.4 69.4h0.9v0.9h-0.9zM500.0 69.4h0.9v0.9h-0.9zM503.7 66.9h0.9v0.9h-0.9zM500.1 54.8h0.9v0.9h-0.9zM498.0 71.8h0.9v0.9h-0.9zM497.5 73.0h0.9v0.9h-0.9zM490.2 77.8h0.9v0.9h-0.9zM497.5 67.1h0.9v0.9h-0.9zM490.0 58.0h0.9v0.9h-0.9zM493.5 68.5h0.9v0.9h-0.9zM505.1 64.5h0.9v0.9h-0.9zM490.9 64.7h0.9v0.9h-0.9zM499.5 58.6h0.9v0.9h-0.9zM497.9 66.6h0.9v0.9h-0.9zM494.2 74.9h0.9v0.9h-0.9zM498.7 74.4h0.9v0.9h-0.9zM485.8 73.5h0.9v0.9h-0.9zM490.4 77.8h0.9v0.9h-0.9zM499.4 68.0h0.9v0.9h-0.9zM495.0 60.9h0.9v0.9h-0.9zM502.4 57.0h0.9v0.9h-0.9zM501.3 71.6h0.9v0.9h-0.9zM499.1 71.6h0.9v0.9h-0.9zM493.9 75.1h0.9v0.9h-0.9zM491.6 57.9h0.9v0.9h-0.9zM496.9 65.6h0.9v0.9h-0.9zM495.2 72.0h0.9v0.9h-0.9zM497.4 63.6h0.9v0.9h-0.9zM497.7 64.7h0.9v0.9h-0.9zM498.8 83.8h0.9v0.9h-0.9zM497.8 63.5h0.9v0.9h-0.9zM493.6 65.6h0.9v0.9h-0.9zM495.4 70.6h0.9v0.9h-0.9zM493.7 69.8h0.9v0.9h-0.9zM500.9 57.7h0.9v0.9h-0.9zM500.8 59.3h0.9v0.9h-0.9zM504.3 59.1h0.9v0.9h-0.9zM492.9 74.8h0.9v0.9h-0.9zM490.3 69.6h0.9v0.9h-0.9zM498.6 62.7h0.9v0.9h-0.9zM493.4 75.6h0.9v0.9h-0.9zM492.2 71.2h0.9v0.9h-0.9zM493.4 80.1h0.9v0.9h-0.9zM504.4 59.0h0.9v0.9h-0.9zM496.6 60.3h0.9v0.9h-0.9zM498.5 66.0h0.9v0.9h-0.9zM502.5 70.2h0.9v0.9h-0.9zM499.2 73.0h0.9v0.9h-0.9zM494.5 70.1h0.9v0.9h-0.9zM500.7 66.1h0.9v0.9h-0.9zM491.7 70.8h0.9v0.9h-0.9zM495.8 58.6h0.9v0.9h-0.9zM496.0 71.7h0.9v0.9h-0.9zM493.8 73.3h0.9v0.9h-0.9zM501.8 61.6h0.9v0.9h-0.9zM495.5 68.8h0.9v0.9h-0.9zM498.8 65.5h0.9v0.9h-0.9zM493.1 69.4h0.9v0.9h-0.9zM489.9 81.4h0.9v0.9h-0.9zM500.2 66.4h0.9v0.9h-0.9zM491.4 75.4h0.9v0.9h-0.9zM502.0 63.4h0.9v0.9h-0.9zM485.7 73.6h0.9v0.9h-0.9zM487.5 77.1h0.9v0.9h-0.9zM501.2 68.8h0.9v0.9h-0.9zM502.6 68.7h0.9v0.9h-0.9zM497.1 67.8h0.9v0.9h-0.9zM491.7 74.6h0.9v0.9h-0.9zM495.2 60.8h0.9v0.9h-0.9zM492.2 76.8h0.9v0.9h-0.9zM496.7 71.9h0.9v0.9h-0.9zM489.1 69.8h0.9v0.9h-0.9zM496.4 71.1h0.9v0.9h-0.9zM500.3 64.1h0.9v0.9h-0.9zM495.2 72.3h0.9v0.9h-0.9zM494.6 62.9h0.9v0.9h-0.9zM499.9 65.1h0.9v0.9h-0.9zM485.9 75.0h0.9v0.9h-0.9zM496.5 77.1h0.9v0.9h-0.9zM495.1 70.4h0.9v0.9h-0.9zM490.6 69.3h0.9v0.9h-0.9zM501.0 68.6h0.9v0.9h-0.9zM493.0 80.8h0.9v0.9h-0.9zM496.5 62.8h0.9v0.9h-0.9zM504.9 67.7h0.9v0.9h-0.9zM492.5 67.2h0.9v0.9h-0.9zM492.3 76.3h0.9v0.9h-0.9zM499.5 70.0h0.9v0.9h-0.9zM487.6 67.1h0.9v0.9h-0.9zM500.8 66.6h0.9v0.9h-0.9zM495.5 68.4h0.9v0.9h-0.9zM498.4 63.9h0.9v0.9h-0.9zM491.4 68.6h0.9v0.9h-0.9zM501.8 60.5h0.9v0.9h-0.9zM485.1 79.0h0.9v0.9h-0.9zM489.8 72.0h0.9v0.9h-0.9zM496.3 64.5h0.9v0.9h-0.9zM487.4 74.3h0.9v0.9h-0.9z" fill="#dcd890" fill-opacity="0.55"/>
<g clip-path="url(#nu2)">
<path d="M503.0 62.5h0.9v0.9h-0.9zM492.2 75.0h0.9v0.9h-0.9zM492.7 71.6h0.9v0.9h-0.9zM491.6 68.1h0.9v0.9h-0.9zM495.0 68.0h0.9v0.9h-0.9zM493.2 61.8h0.9v0.9h-0.9zM496.8 63.7h0.9v0.9h-0.9zM497.2 71.3h0.9v0.9h-0.9zM494.6 70.2h0.9v0.9h-0.9zM497.3 69.1h0.9v0.9h-0.9zM496.7 63.6h0.9v0.9h-0.9zM494.4 63.1h0.9v0.9h-0.9zM492.7 70.0h0.9v0.9h-0.9zM488.4 77.5h0.9v0.9h-0.9zM503.4 59.1h0.9v0.9h-0.9zM501.5 65.7h0.9v0.9h-0.9zM494.4 65.9h0.9v0.9h-0.9zM495.3 66.0h0.9v0.9h-0.9zM493.3 70.4h0.9v0.9h-0.9zM491.5 72.5h0.9v0.9h-0.9zM491.7 68.2h0.9v0.9h-0.9zM494.6 69.2h0.9v0.9h-0.9zM493.9 71.4h0.9v0.9h-0.9zM491.6 75.5h0.9v0.9h-0.9zM491.9 68.2h0.9v0.9h-0.9zM496.5 65.1h0.9v0.9h-0.9zM490.3 68.5h0.9v0.9h-0.9zM496.8 68.9h0.9v0.9h-0.9zM487.2 76.9h0.9v0.9h-0.9zM493.9 68.7h0.9v0.9h-0.9zM493.9 68.1h0.9v0.9h-0.9zM490.4 73.3h0.9v0.9h-0.9zM488.1 75.2h0.9v0.9h-0.9zM492.9 64.1h0.9v0.9h-0.9zM496.0 73.9h0.9v0.9h-0.9zM496.9 66.0h0.9v0.9h-0.9zM494.4 70.4h0.9v0.9h-0.9zM500.8 67.4h0.9v0.9h-0.9zM493.9 69.6h0.9v0.9h-0.9zM491.8 75.9h0.9v0.9h-0.9zM494.8 68.5h0.9v0.9h-0.9zM496.4 70.9h0.9v0.9h-0.9zM497.9 65.4h0.9v0.9h-0.9zM494.4 70.6h0.9v0.9h-0.9zM493.5 69.6h0.9v0.9h-0.9zM498.0 64.2h0.9v0.9h-0.9zM500.6 63.7h0.9v0.9h-0.9zM493.3 62.0h0.9v0.9h-0.9zM497.8 62.9h0.9v0.9h-0.9zM495.6 65.4h0.9v0.9h-0.9zM496.7 64.0h0.9v0.9h-0.9zM493.8 61.6h0.9v0.9h-0.9zM497.6 66.9h0.9v0.9h-0.9zM493.6 66.8h0.9v0.9h-0.9zM495.0 67.1h0.9v0.9h-0.9zM501.0 55.9h0.9v0.9h-0.9zM491.9 66.1h0.9v0.9h-0.9zM493.5 68.7h0.9v0.9h-0.9zM490.5 67.7h0.9v0.9h-0.9zM493.2 67.1h0.9v0.9h-0.9zM495.2 66.5h0.9v0.9h-0.9zM491.8 73.5h0.9v0.9h-0.9zM489.5 77.6h0.9v0.9h-0.9zM495.6 66.5h0.9v0.9h-0.9zM494.5 78.2h0.9v0.9h-0.9zM496.6 67.3h0.9v0.9h-0.9zM493.2 66.0h0.9v0.9h-0.9zM497.2 61.8h0.9v0.9h-0.9zM498.6 59.3h0.9v0.9h-0.9zM495.8 66.1h0.9v0.9h-0.9zM492.3 70.0h0.9v0.9h-0.9zM490.1 72.7h0.9v0.9h-0.9zM495.9 73.7h0.9v0.9h-0.9zM495.3 67.9h0.9v0.9h-0.9zM488.5 77.6h0.9v0.9h-0.9zM494.8 67.4h0.9v0.9h-0.9zM494.6 67.9h0.9v0.9h-0.9zM499.5 66.5h0.9v0.9h-0.9zM495.0 70.2h0.9v0.9h-0.9zM497.5 68.8h0.9v0.9h-0.9zM487.1 68.1h0.9v0.9h-0.9zM494.4 70.6h0.9v0.9h-0.9zM492.0 77.8h0.9v0.9h-0.9zM499.2 69.7h0.9v0.9h-0.9zM499.5 60.6h0.9v0.9h-0.9zM492.3 65.3h0.9v0.9h-0.9zM497.2 66.9h0.9v0.9h-0.9zM491.1 72.1h0.9v0.9h-0.9zM495.8 59.1h0.9v0.9h-0.9zM491.7 71.0h0.9v0.9h-0.9zM499.4 65.4h0.9v0.9h-0.9zM497.6 68.9h0.9v0.9h-0.9zM493.7 73.5h0.9v0.9h-0.9zM496.0 61.9h0.9v0.9h-0.9zM499.9 70.8h0.9v0.9h-0.9zM493.4 65.9h0.9v0.9h-0.9zM496.2 65.8h0.9v0.9h-0.9zM492.3 66.5h0.9v0.9h-0.9zM496.5 71.3h0.9v0.9h-0.9zM497.2 66.3h0.9v0.9h-0.9zM495.6 71.0h0.9v0.9h-0.9zM495.4 67.8h0.9v0.9h-0.9zM493.0 71.2h0.9v0.9h-0.9zM491.1 75.4h0.9v0.9h-0.9zM489.6 69.2h0.9v0.9h-0.9zM495.5 71.5h0.9v0.9h-0.9zM496.8 69.0h0.9v0.9h-0.9zM497.7 61.9h0.9v0.9h-0.9zM490.2 76.2h0.9v0.9h-0.9zM496.0 67.8h0.9v0.9h-0.9zM491.7 80.5h0.9v0.9h-0.9zM492.9 73.6h0.9v0.9h-0.9zM493.7 70.5h0.9v0.9h-0.9zM487.7 78.3h0.9v0.9h-0.9zM486.9 75.3h0.9v0.9h-0.9zM494.4 66.6h0.9v0.9h-0.9zM495.4 67.8h0.9v0.9h-0.9zM494.3 68.3h0.9v0.9h-0.9zM492.9 72.0h0.9v0.9h-0.9zM502.6 58.5h0.9v0.9h-0.9zM495.4 69.3h0.9v0.9h-0.9zM493.1 72.5h0.9v0.9h-0.9zM501.1 60.7h0.9v0.9h-0.9zM497.2 65.3h0.9v0.9h-0.9zM494.0 69.8h0.9v0.9h-0.9zM499.4 62.8h0.9v0.9h-0.9zM492.3 65.4h0.9v0.9h-0.9zM499.3 66.4h0.9v0.9h-0.9zM493.3 65.5h0.9v0.9h-0.9zM493.7 73.9h0.9v0.9h-0.9zM497.9 63.4h0.9v0.9h-0.9zM497.6 68.5h0.9v0.9h-0.9zM492.3 73.0h0.9v0.9h-0.9zM491.1 70.7h0.9v0.9h-0.9zM499.9 64.7h0.9v0.9h-0.9zM494.4 70.0h0.9v0.9h-0.9zM495.4 68.0h0.9v0.9h-0.9zM497.1 65.0h0.9v0.9h-0.9zM497.4 68.6h0.9v0.9h-0.9zM492.3 76.3h0.9v0.9h-0.9zM497.4 65.2h0.9v0.9h-0.9zM494.8 61.8h0.9v0.9h-0.9zM496.8 63.4h0.9v0.9h-0.9zM499.9 60.4h0.9v0.9h-0.9zM499.5 68.3h0.9v0.9h-0.9zM498.0 64.7h0.9v0.9h-0.9zM499.5 60.3h0.9v0.9h-0.9zM496.5 70.8h0.9v0.9h-0.9zM499.8 59.6h0.9v0.9h-0.9zM500.0 59.7h0.9v0.9h-0.9zM497.6 64.5h0.9v0.9h-0.9zM497.5 57.5h0.9v0.9h-0.9zM499.3 65.0h0.9v0.9h-0.9zM493.4 72.8h0.9v0.9h-0.9zM497.8 62.3h0.9v0.9h-0.9zM493.9 65.2h0.9v0.9h-0.9zM496.7 66.3h0.9v0.9h-0.9zM498.2 68.9h0.9v0.9h-0.9zM497.8 60.8h0.9v0.9h-0.9zM494.7 64.2h0.9v0.9h-0.9zM493.9 71.9h0.9v0.9h-0.9zM493.5 63.9h0.9v0.9h-0.9zM493.0 62.1h0.9v0.9h-0.9zM492.2 71.1h0.9v0.9h-0.9zM492.6 69.4h0.9v0.9h-0.9zM493.5 69.6h0.9v0.9h-0.9zM492.3 70.4h0.9v0.9h-0.9zM496.7 66.8h0.9v0.9h-0.9zM497.6 62.9h0.9v0.9h-0.9zM499.4 58.3h0.9v0.9h-0.9zM497.7 61.8h0.9v0.9h-0.9zM499.2 63.9h0.9v0.9h-0.9zM500.2 63.6h0.9v0.9h-0.9zM500.6 62.6h0.9v0.9h-0.9zM495.4 70.7h0.9v0.9h-0.9zM490.9 61.0h0.9v0.9h-0.9zM494.1 65.4h0.9v0.9h-0.9zM494.1 68.3h0.9v0.9h-0.9zM494.2 70.5h0.9v0.9h-0.9zM490.6 68.7h0.9v0.9h-0.9zM497.0 71.0h0.9v0.9h-0.9zM492.2 74.4h0.9v0.9h-0.9zM495.4 64.9h0.9v0.9h-0.9zM495.4 68.4h0.9v0.9h-0.9zM494.8 67.2h0.9v0.9h-0.9zM494.6 65.6h0.9v0.9h-0.9zM498.1 65.1h0.9v0.9h-0.9zM492.6 70.4h0.9v0.9h-0.9zM492.1 67.0h0.9v0.9h-0.9zM489.3 75.1h0.9v0.9h-0.9zM488.6 78.6h0.9v0.9h-0.9zM487.5 76.2h0.9v0.9h-0.9zM501.9 62.1h0.9v0.9h-0.9zM487.8 75.6h0.9v0.9h-0.9zM499.8 67.8h0.9v0.9h-0.9zM501.0 62.0h0.9v0.9h-0.9zM492.0 69.2h0.9v0.9h-0.9zM500.0 60.4h0.9v0.9h-0.9zM502.6 60.5h0.9v0.9h-0.9zM497.5 63.3h0.9v0.9h-0.9zM499.6 55.3h0.9v0.9h-0.9zM497.1 65.2h0.9v0.9h-0.9zM496.8 73.8h0.9v0.9h-0.9zM493.8 63.9h0.9v0.9h-0.9zM494.9 70.8h0.9v0.9h-0.9zM491.4 74.3h0.9v0.9h-0.9zM491.3 74.1h0.9v0.9h-0.9zM501.0 56.5h0.9v0.9h-0.9zM493.0 70.3h0.9v0.9h-0.9zM497.0 69.3h0.9v0.9h-0.9zM494.4 71.9h0.9v0.9h-0.9zM493.7 66.3h0.9v0.9h-0.9zM497.4 70.9h0.9v0.9h-0.9zM491.5 68.6h0.9v0.9h-0.9zM493.0 74.6h0.9v0.9h-0.9zM491.5 75.0h0.9v0.9h-0.9zM495.3 73.0h0.9v0.9h-0.9zM496.7 67.0h0.9v0.9h-0.9zM503.1 59.2h0.9v0.9h-0.9zM498.1 62.9h0.9v0.9h-0.9z" fill="#a09a34" fill-opacity="0.5"/>
<path d="M496.2 63.8h0.9v0.9h-0.9zM497.0 67.6h0.9v0.9h-0.9zM498.8 59.1h0.9v0.9h-0.9zM493.3 71.0h0.9v0.9h-0.9zM495.4 62.1h0.9v0.9h-0.9zM495.1 65.8h0.9v0.9h-0.9zM495.9 67.9h0.9v0.9h-0.9zM492.9 70.1h0.9v0.9h-0.9zM495.3 66.1h0.9v0.9h-0.9zM492.4 74.6h0.9v0.9h-0.9zM491.5 73.5h0.9v0.9h-0.9zM498.1 66.3h0.9v0.9h-0.9zM488.1 72.5h0.9v0.9h-0.9zM498.9 62.9h0.9v0.9h-0.9zM494.8 69.6h0.9v0.9h-0.9zM493.4 66.0h0.9v0.9h-0.9zM493.3 66.9h0.9v0.9h-0.9zM496.9 67.2h0.9v0.9h-0.9zM492.8 68.5h0.9v0.9h-0.9zM493.1 69.1h0.9v0.9h-0.9zM495.3 69.1h0.9v0.9h-0.9zM496.8 63.8h0.9v0.9h-0.9zM498.1 64.0h0.9v0.9h-0.9zM496.7 62.5h0.9v0.9h-0.9zM496.0 66.9h0.9v0.9h-0.9zM495.7 69.8h0.9v0.9h-0.9zM491.3 75.1h0.9v0.9h-0.9zM493.5 63.9h0.9v0.9h-0.9zM497.6 65.3h0.9v0.9h-0.9zM493.9 69.8h0.9v0.9h-0.9zM495.5 64.3h0.9v0.9h-0.9zM499.6 64.1h0.9v0.9h-0.9zM492.8 66.5h0.9v0.9h-0.9zM499.7 65.4h0.9v0.9h-0.9zM494.7 66.5h0.9v0.9h-0.9zM492.8 76.2h0.9v0.9h-0.9zM493.6 70.0h0.9v0.9h-0.9zM492.1 68.8h0.9v0.9h-0.9zM496.2 66.1h0.9v0.9h-0.9zM493.2 71.8h0.9v0.9h-0.9zM494.5 70.3h0.9v0.9h-0.9zM493.9 72.8h0.9v0.9h-0.9zM493.6 67.6h0.9v0.9h-0.9zM495.6 68.3h0.9v0.9h-0.9zM498.0 64.9h0.9v0.9h-0.9zM496.3 64.8h0.9v0.9h-0.9zM494.0 66.8h0.9v0.9h-0.9zM494.1 66.5h0.9v0.9h-0.9zM496.0 68.3h0.9v0.9h-0.9zM496.1 68.3h0.9v0.9h-0.9zM497.4 61.4h0.9v0.9h-0.9zM487.3 77.0h0.9v0.9h-0.9zM496.0 69.8h0.9v0.9h-0.9zM493.5 65.7h0.9v0.9h-0.9zM497.7 63.8h0.9v0.9h-0.9zM491.2 71.9h0.9v0.9h-0.9zM493.4 65.4h0.9v0.9h-0.9zM497.0 64.8h0.9v0.9h-0.9zM493.5 69.8h0.9v0.9h-0.9zM492.2 76.8h0.9v0.9h-0.9zM496.9 71.3h0.9v0.9h-0.9zM491.8 72.8h0.9v0.9h-0.9zM497.7 66.4h0.9v0.9h-0.9zM494.2 72.3h0.9v0.9h-0.9zM498.3 60.7h0.9v0.9h-0.9zM494.0 66.9h0.9v0.9h-0.9zM495.0 72.6h0.9v0.9h-0.9zM493.2 69.9h0.9v0.9h-0.9zM492.2 72.5h0.9v0.9h-0.9zM495.3 66.4h0.9v0.9h-0.9zM498.1 62.2h0.9v0.9h-0.9zM493.5 68.5h0.9v0.9h-0.9zM497.9 65.1h0.9v0.9h-0.9zM494.2 72.8h0.9v0.9h-0.9zM495.1 66.6h0.9v0.9h-0.9zM498.4 58.0h0.9v0.9h-0.9zM491.6 73.8h0.9v0.9h-0.9zM495.8 62.1h0.9v0.9h-0.9zM496.7 63.0h0.9v0.9h-0.9zM492.0 76.5h0.9v0.9h-0.9zM494.4 75.6h0.9v0.9h-0.9zM493.0 72.3h0.9v0.9h-0.9zM495.7 63.5h0.9v0.9h-0.9zM494.8 70.4h0.9v0.9h-0.9zM491.5 67.1h0.9v0.9h-0.9zM495.6 64.8h0.9v0.9h-0.9zM497.0 68.8h0.9v0.9h-0.9zM496.3 67.8h0.9v0.9h-0.9zM492.3 68.4h0.9v0.9h-0.9zM495.3 62.4h0.9v0.9h-0.9zM494.1 71.9h0.9v0.9h-0.9zM498.7 61.5h0.9v0.9h-0.9zM493.3 69.0h0.9v0.9h-0.9zM493.5 71.6h0.9v0.9h-0.9zM495.6 65.2h0.9v0.9h-0.9zM493.4 64.9h0.9v0.9h-0.9zM491.2 76.6h0.9v0.9h-0.9zM494.5 66.8h0.9v0.9h-0.9zM490.3 72.7h0.9v0.9h-0.9zM491.1 70.4h0.9v0.9h-0.9zM497.0 65.2h0.9v0.9h-0.9zM491.7 71.0h0.9v0.9h-0.9zM496.4 67.2h0.9v0.9h-0.9zM493.6 69.5h0.9v0.9h-0.9zM500.7 61.3h0.9v0.9h-0.9zM494.1 68.3h0.9v0.9h-0.9zM491.2 72.3h0.9v0.9h-0.9zM489.7 71.0h0.9v0.9h-0.9zM491.3 70.9h0.9v0.9h-0.9zM496.0 68.2h0.9v0.9h-0.9zM498.7 70.5h0.9v0.9h-0.9zM495.5 63.4h0.9v0.9h-0.9zM493.9 66.7h0.9v0.9h-0.9zM495.5 67.9h0.9v0.9h-0.9zM496.2 67.3h0.9v0.9h-0.9zM493.6 68.2h0.9v0.9h-0.9zM495.6 67.1h0.9v0.9h-0.9zM494.6 63.9h0.9v0.9h-0.9zM496.2 64.9h0.9v0.9h-0.9zM494.7 71.0h0.9v0.9h-0.9zM492.7 76.4h0.9v0.9h-0.9zM492.7 71.3h0.9v0.9h-0.9zM495.1 66.9h0.9v0.9h-0.9zM489.5 78.4h0.9v0.9h-0.9zM495.1 70.9h0.9v0.9h-0.9zM496.5 66.8h0.9v0.9h-0.9zM492.5 69.9h0.9v0.9h-0.9zM492.6 72.9h0.9v0.9h-0.9zM500.1 62.0h0.9v0.9h-0.9zM497.1 62.2h0.9v0.9h-0.9zM492.5 68.2h0.9v0.9h-0.9zM498.5 63.4h0.9v0.9h-0.9zM498.3 63.4h0.9v0.9h-0.9zM493.4 73.4h0.9v0.9h-0.9zM501.2 57.7h0.9v0.9h-0.9zM491.7 71.4h0.9v0.9h-0.9zM493.6 68.9h0.9v0.9h-0.9zM490.9 71.8h0.9v0.9h-0.9zM493.7 67.2h0.9v0.9h-0.9zM491.0 73.0h0.9v0.9h-0.9zM494.1 67.9h0.9v0.9h-0.9zM498.7 64.8h0.9v0.9h-0.9zM493.7 66.5h0.9v0.9h-0.9zM494.1 69.2h0.9v0.9h-0.9zM497.6 61.7h0.9v0.9h-0.9zM494.6 72.9h0.9v0.9h-0.9zM497.4 64.6h0.9v0.9h-0.9zM493.6 69.2h0.9v0.9h-0.9zM496.3 68.0h0.9v0.9h-0.9zM494.9 68.2h0.9v0.9h-0.9zM494.4 67.4h0.9v0.9h-0.9zM496.6 69.6h0.9v0.9h-0.9zM493.8 71.9h0.9v0.9h-0.9zM495.6 71.8h0.9v0.9h-0.9zM497.3 67.4h0.9v0.9h-0.9zM495.5 69.3h0.9v0.9h-0.9zM492.2 73.0h0.9v0.9h-0.9zM491.7 70.2h0.9v0.9h-0.9zM494.0 71.6h0.9v0.9h-0.9zM494.7 68.6h0.9v0.9h-0.9zM496.0 68.1h0.9v0.9h-0.9zM494.9 67.9h0.9v0.9h-0.9zM492.3 70.4h0.9v0.9h-0.9zM493.5 67.5h0.9v0.9h-0.9zM492.4 74.2h0.9v0.9h-0.9zM489.6 80.7h0.9v0.9h-0.9zM494.2 68.3h0.9v0.9h-0.9zM491.4 75.2h0.9v0.9h-0.9zM494.3 73.1h0.9v0.9h-0.9zM490.8 72.4h0.9v0.9h-0.9zM495.8 65.6h0.9v0.9h-0.9zM490.5 72.3h0.9v0.9h-0.9zM496.9 68.1h0.9v0.9h-0.9zM493.9 70.5h0.9v0.9h-0.9zM491.2 72.9h0.9v0.9h-0.9zM488.9 73.3h0.9v0.9h-0.9zM495.6 66.4h0.9v0.9h-0.9zM496.9 67.6h0.9v0.9h-0.9zM496.1 65.1h0.9v0.9h-0.9zM498.5 60.8h0.9v0.9h-0.9zM496.2 67.8h0.9v0.9h-0.9zM493.8 66.3h0.9v0.9h-0.9zM494.5 68.9h0.9v0.9h-0.9zM495.7 68.4h0.9v0.9h-0.9zM492.9 69.2h0.9v0.9h-0.9zM491.5 71.3h0.9v0.9h-0.9zM499.7 60.7h0.9v0.9h-0.9zM490.2 75.7h0.9v0.9h-0.9zM495.0 67.2h0.9v0.9h-0.9zM496.0 66.8h0.9v0.9h-0.9zM495.3 68.0h0.9v0.9h-0.9zM491.2 71.5h0.9v0.9h-0.9zM493.4 68.7h0.9v0.9h-0.9zM494.2 70.6h0.9v0.9h-0.9zM493.6 73.5h0.9v0.9h-0.9zM496.3 69.6h0.9v0.9h-0.9zM492.6 69.4h0.9v0.9h-0.9zM494.8 71.5h0.9v0.9h-0.9zM497.2 66.3h0.9v0.9h-0.9zM492.1 72.6h0.9v0.9h-0.9zM496.3 67.1h0.9v0.9h-0.9zM494.3 71.5h0.9v0.9h-0.9zM498.0 68.1h0.9v0.9h-0.9zM493.5 67.4h0.9v0.9h-0.9zM496.0 68.0h0.9v0.9h-0.9zM492.2 72.2h0.9v0.9h-0.9zM492.6 71.4h0.9v0.9h-0.9zM494.1 72.7h0.9v0.9h-0.9zM496.1 68.4h0.9v0.9h-0.9zM495.1 64.8h0.9v0.9h-0.9zM496.8 64.0h0.9v0.9h-0.9zM493.8 70.6h0.9v0.9h-0.9zM493.0 67.1h0.9v0.9h-0.9zM492.0 75.5h0.9v0.9h-0.9zM489.4 77.2h0.9v0.9h-0.9zM492.8 72.0h0.9v0.9h-0.9zM493.5 71.4h0.9v0.9h-0.9zM493.3 76.0h0.9v0.9h-0.9zM490.5 75.6h0.9v0.9h-0.9zM495.4 66.1h0.9v0.9h-0.9zM495.0 73.0h0.9v0.9h-0.9zM490.1 74.8h0.9v0.9h-0.9zM499.4 59.0h0.9v0.9h-0.9zM493.3 66.8h0.9v0.9h-0.9zM495.3 70.6h0.9v0.9h-0.9zM496.6 66.1h0.9v0.9h-0.9zM493.4 71.9h0.9v0.9h-0.9zM498.5 62.4h0.9v0.9h-0.9zM490.8 74.5h0.9v0.9h-0.9zM490.6 73.1h0.9v0.9h-0.9zM493.3 68.5h0.9v0.9h-0.9zM493.4 71.9h0.9v0.9h-0.9zM498.1 63.1h0.9v0.9h-0.9zM492.9 76.1h0.9v0.9h-0.9zM491.9 70.9h0.9v0.9h-0.9zM494.5 67.3h0.9v0.9h-0.9zM494.6 65.6h0.9v0.9h-0.9zM498.7 65.7h0.9v0.9h-0.9zM493.8 66.3h0.9v0.9h-0.9zM500.7 60.5h0.9v0.9h-0.9zM495.3 71.5h0.9v0.9h-0.9zM494.8 67.8h0.9v0.9h-0.9zM497.5 65.8h0.9v0.9h-0.9zM491.1 68.2h0.9v0.9h-0.9zM493.4 69.5h0.9v0.9h-0.9zM491.4 69.2h0.9v0.9h-0.9zM493.3 71.3h0.9v0.9h-0.9zM492.0 73.1h0.9v0.9h-0.9zM492.3 70.2h0.9v0.9h-0.9zM492.2 75.4h0.9v0.9h-0.9zM495.9 67.4h0.9v0.9h-0.9zM490.2 74.5h0.9v0.9h-0.9zM498.7 60.1h0.9v0.9h-0.9zM496.7 60.8h0.9v0.9h-0.9zM496.9 64.1h0.9v0.9h-0.9zM496.8 71.1h0.9v0.9h-0.9zM492.3 70.4h0.9v0.9h-0.9zM498.0 64.1h0.9v0.9h-0.9zM494.3 67.5h0.9v0.9h-0.9zM496.9 67.1h0.9v0.9h-0.9z" fill="#6a6412" fill-opacity="0.6"/>
<path d="M496.4 68.8h0.9v0.9h-0.9zM494.1 70.0h0.9v0.9h-0.9zM491.5 74.5h0.9v0.9h-0.9zM493.9 71.0h0.9v0.9h-0.9zM495.3 65.1h0.9v0.9h-0.9zM493.3 69.6h0.9v0.9h-0.9zM495.7 67.6h0.9v0.9h-0.9zM493.9 70.9h0.9v0.9h-0.9zM490.4 74.2h0.9v0.9h-0.9zM494.8 67.9h0.9v0.9h-0.9zM494.8 68.3h0.9v0.9h-0.9zM493.2 70.9h0.9v0.9h-0.9zM494.2 70.7h0.9v0.9h-0.9zM494.9 68.5h0.9v0.9h-0.9zM493.5 71.1h0.9v0.9h-0.9zM493.9 67.6h0.9v0.9h-0.9zM493.2 69.4h0.9v0.9h-0.9zM490.6 76.2h0.9v0.9h-0.9zM492.9 69.0h0.9v0.9h-0.9zM493.5 71.1h0.9v0.9h-0.9zM492.4 71.4h0.9v0.9h-0.9zM494.4 67.7h0.9v0.9h-0.9zM494.0 71.0h0.9v0.9h-0.9zM494.8 67.4h0.9v0.9h-0.9zM495.6 65.7h0.9v0.9h-0.9zM494.1 68.5h0.9v0.9h-0.9zM491.7 73.8h0.9v0.9h-0.9zM495.2 72.6h0.9v0.9h-0.9zM494.3 65.7h0.9v0.9h-0.9zM493.9 70.0h0.9v0.9h-0.9zM492.8 71.5h0.9v0.9h-0.9zM494.9 70.0h0.9v0.9h-0.9zM494.9 67.6h0.9v0.9h-0.9zM492.9 67.4h0.9v0.9h-0.9zM496.5 68.0h0.9v0.9h-0.9zM492.1 71.1h0.9v0.9h-0.9zM493.8 70.0h0.9v0.9h-0.9zM492.9 69.4h0.9v0.9h-0.9zM493.5 68.8h0.9v0.9h-0.9zM490.4 75.1h0.9v0.9h-0.9zM494.6 70.3h0.9v0.9h-0.9zM492.7 73.5h0.9v0.9h-0.9zM496.3 65.0h0.9v0.9h-0.9zM497.4 65.0h0.9v0.9h-0.9zM496.9 64.2h0.9v0.9h-0.9zM495.8 67.0h0.9v0.9h-0.9zM493.6 70.7h0.9v0.9h-0.9zM496.5 66.8h0.9v0.9h-0.9zM493.5 69.5h0.9v0.9h-0.9zM495.3 67.4h0.9v0.9h-0.9zM493.0 72.0h0.9v0.9h-0.9zM493.4 71.0h0.9v0.9h-0.9zM494.5 67.5h0.9v0.9h-0.9zM498.7 64.9h0.9v0.9h-0.9zM494.0 69.1h0.9v0.9h-0.9zM498.8 63.1h0.9v0.9h-0.9zM499.2 61.4h0.9v0.9h-0.9zM493.1 73.5h0.9v0.9h-0.9zM492.6 68.3h0.9v0.9h-0.9zM494.3 72.9h0.9v0.9h-0.9zM493.9 69.5h0.9v0.9h-0.9zM492.5 70.2h0.9v0.9h-0.9zM494.3 69.5h0.9v0.9h-0.9zM497.7 67.5h0.9v0.9h-0.9zM496.3 66.8h0.9v0.9h-0.9zM493.8 67.9h0.9v0.9h-0.9zM494.0 69.0h0.9v0.9h-0.9zM495.6 69.5h0.9v0.9h-0.9zM493.5 68.2h0.9v0.9h-0.9zM495.2 67.5h0.9v0.9h-0.9zM494.1 69.1h0.9v0.9h-0.9zM496.9 68.8h0.9v0.9h-0.9zM491.9 72.9h0.9v0.9h-0.9zM496.7 67.5h0.9v0.9h-0.9zM496.8 63.9h0.9v0.9h-0.9zM494.0 68.3h0.9v0.9h-0.9zM492.7 73.8h0.9v0.9h-0.9zM497.1 65.6h0.9v0.9h-0.9zM492.5 69.4h0.9v0.9h-0.9zM489.7 78.2h0.9v0.9h-0.9zM494.5 70.2h0.9v0.9h-0.9zM494.9 67.2h0.9v0.9h-0.9zM495.2 68.2h0.9v0.9h-0.9zM496.7 65.8h0.9v0.9h-0.9zM495.0 67.2h0.9v0.9h-0.9zM494.1 68.6h0.9v0.9h-0.9zM490.4 74.6h0.9v0.9h-0.9zM492.2 72.3h0.9v0.9h-0.9zM493.6 68.1h0.9v0.9h-0.9zM495.5 67.2h0.9v0.9h-0.9zM491.4 71.5h0.9v0.9h-0.9zM493.4 71.0h0.9v0.9h-0.9zM495.1 67.8h0.9v0.9h-0.9zM490.3 74.3h0.9v0.9h-0.9zM491.7 75.2h0.9v0.9h-0.9zM495.4 70.8h0.9v0.9h-0.9zM495.8 69.1h0.9v0.9h-0.9zM492.5 70.0h0.9v0.9h-0.9zM491.4 76.4h0.9v0.9h-0.9zM494.6 69.3h0.9v0.9h-0.9zM492.0 73.0h0.9v0.9h-0.9zM495.0 67.1h0.9v0.9h-0.9zM494.2 69.5h0.9v0.9h-0.9zM495.9 69.1h0.9v0.9h-0.9zM495.9 67.6h0.9v0.9h-0.9zM493.1 70.6h0.9v0.9h-0.9zM495.3 66.5h0.9v0.9h-0.9zM496.2 65.4h0.9v0.9h-0.9zM495.5 68.3h0.9v0.9h-0.9zM498.1 66.2h0.9v0.9h-0.9zM492.5 70.6h0.9v0.9h-0.9zM495.9 66.6h0.9v0.9h-0.9zM494.5 68.3h0.9v0.9h-0.9zM492.1 71.7h0.9v0.9h-0.9zM494.5 69.6h0.9v0.9h-0.9zM493.9 71.0h0.9v0.9h-0.9zM492.3 70.2h0.9v0.9h-0.9zM493.7 68.5h0.9v0.9h-0.9zM497.1 66.7h0.9v0.9h-0.9zM494.1 70.3h0.9v0.9h-0.9zM495.0 69.1h0.9v0.9h-0.9zM491.4 73.2h0.9v0.9h-0.9zM494.2 68.7h0.9v0.9h-0.9zM496.7 66.1h0.9v0.9h-0.9zM495.4 66.6h0.9v0.9h-0.9zM494.3 67.3h0.9v0.9h-0.9zM493.4 70.7h0.9v0.9h-0.9zM493.4 72.5h0.9v0.9h-0.9zM493.4 69.0h0.9v0.9h-0.9zM492.9 73.6h0.9v0.9h-0.9zM492.8 73.1h0.9v0.9h-0.9zM495.3 66.1h0.9v0.9h-0.9zM492.8 71.9h0.9v0.9h-0.9zM497.4 64.0h0.9v0.9h-0.9zM492.4 73.6h0.9v0.9h-0.9zM495.6 68.3h0.9v0.9h-0.9zM491.3 72.0h0.9v0.9h-0.9zM493.6 68.1h0.9v0.9h-0.9zM493.4 72.7h0.9v0.9h-0.9zM494.5 69.2h0.9v0.9h-0.9zM494.4 69.9h0.9v0.9h-0.9zM493.8 70.7h0.9v0.9h-0.9zM496.4 68.4h0.9v0.9h-0.9zM496.0 64.3h0.9v0.9h-0.9zM494.2 71.4h0.9v0.9h-0.9zM495.2 66.3h0.9v0.9h-0.9zM495.1 69.3h0.9v0.9h-0.9zM495.3 69.9h0.9v0.9h-0.9zM497.1 62.2h0.9v0.9h-0.9zM490.9 75.7h0.9v0.9h-0.9zM493.0 71.1h0.9v0.9h-0.9zM491.0 74.3h0.9v0.9h-0.9zM493.8 70.1h0.9v0.9h-0.9zM493.2 69.4h0.9v0.9h-0.9zM500.2 57.7h0.9v0.9h-0.9zM495.5 68.5h0.9v0.9h-0.9zM498.1 64.4h0.9v0.9h-0.9zM496.1 65.2h0.9v0.9h-0.9zM492.5 69.8h0.9v0.9h-0.9zM496.9 68.9h0.9v0.9h-0.9z" fill="#4c4a04" fill-opacity="0.7"/>
</g>
<rect x="477.30" y="52.30" width="29.30" height="30.50" fill="none" stroke="#b8b8b8" stroke-width="0.8"/>
<line x1="477.30" y1="82.80" x2="506.60" y2="82.80" stroke="#8a8a8a" stroke-width="0.8"/>
<line x1="487.10" y1="52.30" x2="487.10" y2="82.80" stroke="#6e6c7a" stroke-width="1.0"/>
<polygon points="446.40,118.60 446.40,92.00 466.90,79.30 466.90,105.90" fill="none" stroke="#858585" stroke-width="0.8"/>
<rect x="411.50" y="41.50" width="102" height="88.0" fill="none" stroke="#2b2b2b" stroke-width="1"/>
<text x="440.09" y="50.60" font-size="7.56" fill="#231f20" stroke="#231f20" stroke-width="0.08" textLength="45.27" lengthAdjust="spacingAndGlyphs">Hypodiploid</text>
<text x="474.23" y="89.80" font-size="8.14" fill="#231f20" stroke="#231f20" stroke-width="0.08" textLength="36.80" lengthAdjust="spacingAndGlyphs">Nucleated</text>
<text x="427.00" y="99.70" font-size="7.41" fill="#231f20" stroke="#231f20" stroke-width="0.08" textLength="15.09" lengthAdjust="spacingAndGlyphs">MN</text>
<text x="483.54" y="122.30" font-size="7.56" fill="#c23648" stroke="#c23648" stroke-width="0.05" textLength="17.89" lengthAdjust="spacingAndGlyphs">5.2%</text>
<text x="443.23" y="33.50" font-size="10.32" fill="#ffe8ea" textLength="37.71" lengthAdjust="spacingAndGlyphs">Nilotinib</text>
<text x="407.91" y="142.30" font-size="5.38" fill="#231f20" stroke="#231f20" stroke-width="0.16" textLength="2.68" lengthAdjust="spacingAndGlyphs">0</text>
<text x="410.67" y="142.30" font-size="8.72" fill="#231f20" stroke="#231f20" stroke-width="0.16" textLength="9.26" lengthAdjust="spacingAndGlyphs">10</text>
<text x="419.85" y="139.30" font-size="4.65" fill="#231f20" stroke="#231f20" stroke-width="0.16" textLength="1.81" lengthAdjust="spacingAndGlyphs">1</text>
<text x="432.32" y="142.30" font-size="8.72" fill="#231f20" stroke="#231f20" stroke-width="0.16" textLength="9.26" lengthAdjust="spacingAndGlyphs">10</text>
<text x="441.44" y="139.30" font-size="4.65" fill="#231f20" stroke="#231f20" stroke-width="0.16" textLength="3.42" lengthAdjust="spacingAndGlyphs">2</text>
<text x="453.97" y="142.30" font-size="8.72" fill="#231f20" stroke="#231f20" stroke-width="0.16" textLength="9.26" lengthAdjust="spacingAndGlyphs">10</text>
<text x="463.18" y="139.30" font-size="4.65" fill="#231f20" stroke="#231f20" stroke-width="0.16" textLength="3.28" lengthAdjust="spacingAndGlyphs">3</text>
<text x="475.62" y="142.30" font-size="8.72" fill="#231f20" stroke="#231f20" stroke-width="0.16" textLength="9.26" lengthAdjust="spacingAndGlyphs">10</text>
<text x="484.92" y="139.30" font-size="4.65" fill="#231f20" stroke="#231f20" stroke-width="0.16" textLength="3.09" lengthAdjust="spacingAndGlyphs">4</text>
<text x="497.27" y="142.30" font-size="8.72" fill="#231f20" stroke="#231f20" stroke-width="0.16" textLength="9.26" lengthAdjust="spacingAndGlyphs">10</text>
<text x="506.46" y="139.30" font-size="4.65" fill="#231f20" stroke="#231f20" stroke-width="0.16" textLength="3.28" lengthAdjust="spacingAndGlyphs">5</text>
<text x="405.30" y="133.10" font-size="3.92" fill="#a88cc8" stroke="#a88cc8" stroke-width="0.16" textLength="5.11" lengthAdjust="spacingAndGlyphs">M</text>
<rect x="282.30" y="153.60" width="101.30" height="15.20" fill="#f08c00"/>
<line x1="280.10" y1="181.90" x2="282.50" y2="181.90" stroke="#2b2b2b" stroke-width="1.0"/>
<line x1="281.30" y1="197.31" x2="282.50" y2="197.31" stroke="#666" stroke-width="0.5"/>
<line x1="281.30" y1="193.43" x2="282.50" y2="193.43" stroke="#666" stroke-width="0.5"/>
<line x1="281.30" y1="190.68" x2="282.50" y2="190.68" stroke="#666" stroke-width="0.5"/>
<line x1="281.30" y1="188.54" x2="282.50" y2="188.54" stroke="#666" stroke-width="0.5"/>
<line x1="281.30" y1="186.80" x2="282.50" y2="186.80" stroke="#666" stroke-width="0.5"/>
<line x1="281.30" y1="185.32" x2="282.50" y2="185.32" stroke="#666" stroke-width="0.5"/>
<line x1="281.30" y1="184.04" x2="282.50" y2="184.04" stroke="#666" stroke-width="0.5"/>
<line x1="281.30" y1="182.91" x2="282.50" y2="182.91" stroke="#666" stroke-width="0.5"/>
<line x1="280.10" y1="203.95" x2="282.50" y2="203.95" stroke="#2b2b2b" stroke-width="1.0"/>
<line x1="281.30" y1="219.36" x2="282.50" y2="219.36" stroke="#666" stroke-width="0.5"/>
<line x1="281.30" y1="215.48" x2="282.50" y2="215.48" stroke="#666" stroke-width="0.5"/>
<line x1="281.30" y1="212.73" x2="282.50" y2="212.73" stroke="#666" stroke-width="0.5"/>
<line x1="281.30" y1="210.59" x2="282.50" y2="210.59" stroke="#666" stroke-width="0.5"/>
<line x1="281.30" y1="208.85" x2="282.50" y2="208.85" stroke="#666" stroke-width="0.5"/>
<line x1="281.30" y1="207.37" x2="282.50" y2="207.37" stroke="#666" stroke-width="0.5"/>
<line x1="281.30" y1="206.09" x2="282.50" y2="206.09" stroke="#666" stroke-width="0.5"/>
<line x1="281.30" y1="204.96" x2="282.50" y2="204.96" stroke="#666" stroke-width="0.5"/>
<line x1="280.10" y1="226.00" x2="282.50" y2="226.00" stroke="#2b2b2b" stroke-width="1.0"/>
<line x1="281.30" y1="241.41" x2="282.50" y2="241.41" stroke="#666" stroke-width="0.5"/>
<line x1="281.30" y1="237.53" x2="282.50" y2="237.53" stroke="#666" stroke-width="0.5"/>
<line x1="281.30" y1="234.78" x2="282.50" y2="234.78" stroke="#666" stroke-width="0.5"/>
<line x1="281.30" y1="232.64" x2="282.50" y2="232.64" stroke="#666" stroke-width="0.5"/>
<line x1="281.30" y1="230.90" x2="282.50" y2="230.90" stroke="#666" stroke-width="0.5"/>
<line x1="281.30" y1="229.42" x2="282.50" y2="229.42" stroke="#666" stroke-width="0.5"/>
<line x1="281.30" y1="228.14" x2="282.50" y2="228.14" stroke="#666" stroke-width="0.5"/>
<line x1="281.30" y1="227.01" x2="282.50" y2="227.01" stroke="#666" stroke-width="0.5"/>
<line x1="280.10" y1="248.05" x2="282.50" y2="248.05" stroke="#2b2b2b" stroke-width="1.0"/>
<line x1="281.30" y1="259.58" x2="282.50" y2="259.58" stroke="#666" stroke-width="0.5"/>
<line x1="281.30" y1="256.83" x2="282.50" y2="256.83" stroke="#666" stroke-width="0.5"/>
<line x1="281.30" y1="254.69" x2="282.50" y2="254.69" stroke="#666" stroke-width="0.5"/>
<line x1="281.30" y1="252.95" x2="282.50" y2="252.95" stroke="#666" stroke-width="0.5"/>
<line x1="281.30" y1="251.47" x2="282.50" y2="251.47" stroke="#666" stroke-width="0.5"/>
<line x1="281.30" y1="250.19" x2="282.50" y2="250.19" stroke="#666" stroke-width="0.5"/>
<line x1="281.30" y1="249.06" x2="282.50" y2="249.06" stroke="#666" stroke-width="0.5"/>
<line x1="286.50" y1="260.50" x2="286.50" y2="262.70" stroke="#2b2b2b" stroke-width="0.9"/>
<line x1="293.02" y1="260.50" x2="293.02" y2="261.70" stroke="#666" stroke-width="0.5"/>
<line x1="296.83" y1="260.50" x2="296.83" y2="261.70" stroke="#666" stroke-width="0.5"/>
<line x1="299.53" y1="260.50" x2="299.53" y2="261.70" stroke="#666" stroke-width="0.5"/>
<line x1="301.63" y1="260.50" x2="301.63" y2="261.70" stroke="#666" stroke-width="0.5"/>
<line x1="303.34" y1="260.50" x2="303.34" y2="261.70" stroke="#666" stroke-width="0.5"/>
<line x1="304.79" y1="260.50" x2="304.79" y2="261.70" stroke="#666" stroke-width="0.5"/>
<line x1="306.05" y1="260.50" x2="306.05" y2="261.70" stroke="#666" stroke-width="0.5"/>
<line x1="307.15" y1="260.50" x2="307.15" y2="261.70" stroke="#666" stroke-width="0.5"/>
<line x1="308.15" y1="260.50" x2="308.15" y2="262.70" stroke="#2b2b2b" stroke-width="0.9"/>
<line x1="314.67" y1="260.50" x2="314.67" y2="261.70" stroke="#666" stroke-width="0.5"/>
<line x1="318.48" y1="260.50" x2="318.48" y2="261.70" stroke="#666" stroke-width="0.5"/>
<line x1="321.18" y1="260.50" x2="321.18" y2="261.70" stroke="#666" stroke-width="0.5"/>
<line x1="323.28" y1="260.50" x2="323.28" y2="261.70" stroke="#666" stroke-width="0.5"/>
<line x1="324.99" y1="260.50" x2="324.99" y2="261.70" stroke="#666" stroke-width="0.5"/>
<line x1="326.44" y1="260.50" x2="326.44" y2="261.70" stroke="#666" stroke-width="0.5"/>
<line x1="327.70" y1="260.50" x2="327.70" y2="261.70" stroke="#666" stroke-width="0.5"/>
<line x1="328.80" y1="260.50" x2="328.80" y2="261.70" stroke="#666" stroke-width="0.5"/>
<line x1="329.80" y1="260.50" x2="329.80" y2="262.70" stroke="#2b2b2b" stroke-width="0.9"/>
<line x1="336.32" y1="260.50" x2="336.32" y2="261.70" stroke="#666" stroke-width="0.5"/>
<line x1="340.13" y1="260.50" x2="340.13" y2="261.70" stroke="#666" stroke-width="0.5"/>
<line x1="342.83" y1="260.50" x2="342.83" y2="261.70" stroke="#666" stroke-width="0.5"/>
<line x1="344.93" y1="260.50" x2="344.93" y2="261.70" stroke="#666" stroke-width="0.5"/>
<line x1="346.64" y1="260.50" x2="346.64" y2="261.70" stroke="#666" stroke-width="0.5"/>
<line x1="348.09" y1="260.50" x2="348.09" y2="261.70" stroke="#666" stroke-width="0.5"/>
<line x1="349.35" y1="260.50" x2="349.35" y2="261.70" stroke="#666" stroke-width="0.5"/>
<line x1="350.45" y1="260.50" x2="350.45" y2="261.70" stroke="#666" stroke-width="0.5"/>
<line x1="351.45" y1="260.50" x2="351.45" y2="262.70" stroke="#2b2b2b" stroke-width="0.9"/>
<line x1="357.97" y1="260.50" x2="357.97" y2="261.70" stroke="#666" stroke-width="0.5"/>
<line x1="361.78" y1="260.50" x2="361.78" y2="261.70" stroke="#666" stroke-width="0.5"/>
<line x1="364.48" y1="260.50" x2="364.48" y2="261.70" stroke="#666" stroke-width="0.5"/>
<line x1="366.58" y1="260.50" x2="366.58" y2="261.70" stroke="#666" stroke-width="0.5"/>
<line x1="368.29" y1="260.50" x2="368.29" y2="261.70" stroke="#666" stroke-width="0.5"/>
<line x1="369.74" y1="260.50" x2="369.74" y2="261.70" stroke="#666" stroke-width="0.5"/>
<line x1="371.00" y1="260.50" x2="371.00" y2="261.70" stroke="#666" stroke-width="0.5"/>
<line x1="372.10" y1="260.50" x2="372.10" y2="261.70" stroke="#666" stroke-width="0.5"/>
<line x1="373.10" y1="260.50" x2="373.10" y2="262.70" stroke="#2b2b2b" stroke-width="0.9"/>
<line x1="379.62" y1="260.50" x2="379.62" y2="261.70" stroke="#666" stroke-width="0.5"/>
<line x1="383.43" y1="260.50" x2="383.43" y2="261.70" stroke="#666" stroke-width="0.5"/>
<text x="264.92" y="184.70" font-size="8.43" fill="#231f20" stroke="#231f20" stroke-width="0.16" textLength="8.48" lengthAdjust="spacingAndGlyphs">10</text>
<text x="273.23" y="182.10" font-size="5.23" fill="#231f20" stroke="#231f20" stroke-width="0.16" textLength="3.75" lengthAdjust="spacingAndGlyphs">5</text>
<text x="264.92" y="206.75" font-size="8.43" fill="#231f20" stroke="#231f20" stroke-width="0.16" textLength="8.48" lengthAdjust="spacingAndGlyphs">10</text>
<text x="273.35" y="204.15" font-size="5.23" fill="#231f20" stroke="#231f20" stroke-width="0.16" textLength="3.53" lengthAdjust="spacingAndGlyphs">4</text>
<text x="264.92" y="228.80" font-size="8.43" fill="#231f20" stroke="#231f20" stroke-width="0.16" textLength="8.48" lengthAdjust="spacingAndGlyphs">10</text>
<text x="273.24" y="226.20" font-size="5.23" fill="#231f20" stroke="#231f20" stroke-width="0.16" textLength="3.75" lengthAdjust="spacingAndGlyphs">3</text>
<text x="264.92" y="250.85" font-size="8.43" fill="#231f20" stroke="#231f20" stroke-width="0.16" textLength="8.48" lengthAdjust="spacingAndGlyphs">10</text>
<text x="273.15" y="248.25" font-size="5.23" fill="#231f20" stroke="#231f20" stroke-width="0.16" textLength="3.91" lengthAdjust="spacingAndGlyphs">2</text>
<clipPath id="mn3"><polygon points="317.40,249.60 317.40,223.00 337.90,210.30 337.90,236.90"/></clipPath>
<clipPath id="nu3"><rect x="358.10" y="183.30" width="19.50" height="30.50"/></clipPath>
<path d="M339.3 219.7h0.8v0.8h-0.8zM334.7 225.8h0.8v0.8h-0.8zM325.5 236.9h0.8v0.8h-0.8zM325.9 231.3h0.8v0.8h-0.8zM332.4 225.5h0.8v0.8h-0.8zM322.0 233.2h0.8v0.8h-0.8zM342.2 215.4h0.8v0.8h-0.8zM333.8 228.0h0.8v0.8h-0.8zM332.5 223.6h0.8v0.8h-0.8zM322.7 234.6h0.8v0.8h-0.8zM324.6 234.5h0.8v0.8h-0.8zM326.5 234.5h0.8v0.8h-0.8zM333.5 226.0h0.8v0.8h-0.8zM329.6 230.0h0.8v0.8h-0.8zM329.9 230.6h0.8v0.8h-0.8zM330.4 223.0h0.8v0.8h-0.8zM326.3 221.0h0.8v0.8h-0.8zM342.6 217.3h0.8v0.8h-0.8zM333.8 232.5h0.8v0.8h-0.8zM321.6 233.5h0.8v0.8h-0.8zM329.8 226.9h0.8v0.8h-0.8zM341.7 216.9h0.8v0.8h-0.8zM330.3 234.4h0.8v0.8h-0.8zM333.4 229.0h0.8v0.8h-0.8zM332.4 233.5h0.8v0.8h-0.8zM334.0 224.7h0.8v0.8h-0.8zM334.2 226.8h0.8v0.8h-0.8zM327.3 235.4h0.8v0.8h-0.8zM329.0 229.1h0.8v0.8h-0.8zM340.5 222.8h0.8v0.8h-0.8zM340.1 220.5h0.8v0.8h-0.8zM339.8 222.5h0.8v0.8h-0.8zM336.1 220.4h0.8v0.8h-0.8zM331.9 232.8h0.8v0.8h-0.8zM326.6 229.0h0.8v0.8h-0.8zM338.5 221.4h0.8v0.8h-0.8zM317.6 232.4h0.8v0.8h-0.8zM328.7 226.6h0.8v0.8h-0.8zM321.5 244.5h0.8v0.8h-0.8zM328.0 230.3h0.8v0.8h-0.8zM327.4 234.1h0.8v0.8h-0.8zM319.9 234.6h0.8v0.8h-0.8zM339.0 226.4h0.8v0.8h-0.8zM328.3 235.2h0.8v0.8h-0.8zM329.1 231.0h0.8v0.8h-0.8zM330.9 231.0h0.8v0.8h-0.8zM327.6 234.6h0.8v0.8h-0.8zM344.1 219.4h0.8v0.8h-0.8zM328.9 232.5h0.8v0.8h-0.8zM329.2 223.6h0.8v0.8h-0.8zM322.6 238.1h0.8v0.8h-0.8zM331.6 234.4h0.8v0.8h-0.8zM330.9 231.8h0.8v0.8h-0.8zM328.5 229.7h0.8v0.8h-0.8zM329.3 234.0h0.8v0.8h-0.8zM332.7 227.1h0.8v0.8h-0.8zM343.0 216.7h0.8v0.8h-0.8zM326.8 226.1h0.8v0.8h-0.8zM328.5 227.4h0.8v0.8h-0.8zM330.7 232.5h0.8v0.8h-0.8zM347.2 207.2h0.8v0.8h-0.8zM342.7 215.8h0.8v0.8h-0.8zM339.9 227.4h0.8v0.8h-0.8zM335.3 221.8h0.8v0.8h-0.8zM327.6 234.2h0.8v0.8h-0.8zM329.2 228.2h0.8v0.8h-0.8zM331.4 225.2h0.8v0.8h-0.8zM332.1 227.0h0.8v0.8h-0.8zM322.5 232.1h0.8v0.8h-0.8zM321.4 230.2h0.8v0.8h-0.8zM338.2 226.6h0.8v0.8h-0.8zM333.3 225.3h0.8v0.8h-0.8zM320.8 247.2h0.8v0.8h-0.8zM332.4 227.6h0.8v0.8h-0.8zM340.0 218.1h0.8v0.8h-0.8zM329.1 234.5h0.8v0.8h-0.8zM334.8 227.5h0.8v0.8h-0.8zM319.3 237.4h0.8v0.8h-0.8zM339.8 223.7h0.8v0.8h-0.8zM322.1 235.1h0.8v0.8h-0.8zM324.1 238.5h0.8v0.8h-0.8zM335.8 235.6h0.8v0.8h-0.8zM346.9 209.2h0.8v0.8h-0.8zM331.7 236.2h0.8v0.8h-0.8zM322.6 237.5h0.8v0.8h-0.8zM336.0 225.5h0.8v0.8h-0.8zM333.1 226.3h0.8v0.8h-0.8zM343.2 215.5h0.8v0.8h-0.8zM321.4 236.6h0.8v0.8h-0.8zM319.1 239.1h0.8v0.8h-0.8zM330.4 231.2h0.8v0.8h-0.8zM330.2 222.0h0.8v0.8h-0.8zM331.8 223.5h0.8v0.8h-0.8zM340.0 220.6h0.8v0.8h-0.8zM320.5 238.9h0.8v0.8h-0.8zM324.1 233.0h0.8v0.8h-0.8zM328.0 227.0h0.8v0.8h-0.8zM337.3 221.6h0.8v0.8h-0.8zM333.7 223.5h0.8v0.8h-0.8zM329.2 231.7h0.8v0.8h-0.8zM324.6 235.9h0.8v0.8h-0.8zM341.7 224.6h0.8v0.8h-0.8zM336.6 219.6h0.8v0.8h-0.8zM344.1 202.5h0.8v0.8h-0.8zM330.7 229.7h0.8v0.8h-0.8zM341.9 215.0h0.8v0.8h-0.8zM324.2 238.1h0.8v0.8h-0.8zM324.2 229.3h0.8v0.8h-0.8zM330.0 235.7h0.8v0.8h-0.8zM328.5 231.7h0.8v0.8h-0.8zM325.9 235.0h0.8v0.8h-0.8zM324.2 229.3h0.8v0.8h-0.8zM332.4 229.4h0.8v0.8h-0.8zM328.5 231.5h0.8v0.8h-0.8zM339.1 225.4h0.8v0.8h-0.8zM330.0 227.9h0.8v0.8h-0.8zM328.5 225.7h0.8v0.8h-0.8zM341.3 216.5h0.8v0.8h-0.8zM331.4 223.8h0.8v0.8h-0.8zM333.6 227.6h0.8v0.8h-0.8zM328.8 226.1h0.8v0.8h-0.8zM331.6 227.3h0.8v0.8h-0.8zM334.7 223.0h0.8v0.8h-0.8zM326.4 234.4h0.8v0.8h-0.8zM337.6 217.9h0.8v0.8h-0.8zM339.6 213.9h0.8v0.8h-0.8zM338.8 218.7h0.8v0.8h-0.8zM327.0 230.9h0.8v0.8h-0.8zM321.8 241.1h0.8v0.8h-0.8zM328.1 231.0h0.8v0.8h-0.8zM327.1 222.5h0.8v0.8h-0.8zM336.7 221.3h0.8v0.8h-0.8zM333.8 232.2h0.8v0.8h-0.8zM330.4 231.1h0.8v0.8h-0.8zM342.7 217.0h0.8v0.8h-0.8zM328.4 234.3h0.8v0.8h-0.8zM337.2 218.6h0.8v0.8h-0.8zM334.1 218.2h0.8v0.8h-0.8zM325.0 240.3h0.8v0.8h-0.8zM335.9 227.8h0.8v0.8h-0.8zM329.4 233.6h0.8v0.8h-0.8zM326.5 236.5h0.8v0.8h-0.8zM320.7 243.6h0.8v0.8h-0.8zM321.5 240.6h0.8v0.8h-0.8zM334.9 225.2h0.8v0.8h-0.8zM329.1 231.2h0.8v0.8h-0.8zM334.1 226.5h0.8v0.8h-0.8zM322.5 234.8h0.8v0.8h-0.8zM328.0 229.4h0.8v0.8h-0.8zM331.2 231.3h0.8v0.8h-0.8zM320.9 239.8h0.8v0.8h-0.8zM315.1 236.7h0.8v0.8h-0.8zM334.7 224.8h0.8v0.8h-0.8zM327.0 222.5h0.8v0.8h-0.8zM330.2 239.2h0.8v0.8h-0.8zM332.7 230.2h0.8v0.8h-0.8zM337.4 224.0h0.8v0.8h-0.8zM341.7 212.1h0.8v0.8h-0.8zM323.2 233.0h0.8v0.8h-0.8zM335.0 222.7h0.8v0.8h-0.8zM345.1 211.1h0.8v0.8h-0.8zM330.1 226.0h0.8v0.8h-0.8zM341.3 216.6h0.8v0.8h-0.8zM316.7 250.1h0.8v0.8h-0.8zM342.3 217.6h0.8v0.8h-0.8zM329.0 226.2h0.8v0.8h-0.8zM314.4 239.0h0.8v0.8h-0.8zM336.6 221.8h0.8v0.8h-0.8zM336.7 218.4h0.8v0.8h-0.8zM340.4 219.2h0.8v0.8h-0.8zM343.2 221.6h0.8v0.8h-0.8zM335.3 231.4h0.8v0.8h-0.8zM327.5 234.6h0.8v0.8h-0.8zM331.3 233.9h0.8v0.8h-0.8zM335.3 231.5h0.8v0.8h-0.8zM334.3 224.9h0.8v0.8h-0.8zM329.2 232.4h0.8v0.8h-0.8zM333.9 229.3h0.8v0.8h-0.8zM337.1 221.0h0.8v0.8h-0.8zM332.5 224.5h0.8v0.8h-0.8zM344.4 208.2h0.8v0.8h-0.8zM345.4 210.8h0.8v0.8h-0.8zM322.8 236.1h0.8v0.8h-0.8zM329.9 234.1h0.8v0.8h-0.8zM322.4 238.0h0.8v0.8h-0.8zM327.7 240.2h0.8v0.8h-0.8zM338.0 226.0h0.8v0.8h-0.8zM322.3 233.7h0.8v0.8h-0.8zM327.5 238.5h0.8v0.8h-0.8zM328.9 229.5h0.8v0.8h-0.8zM340.0 224.2h0.8v0.8h-0.8zM330.6 231.9h0.8v0.8h-0.8zM329.2 230.9h0.8v0.8h-0.8zM339.1 222.0h0.8v0.8h-0.8zM333.3 223.2h0.8v0.8h-0.8zM335.3 225.0h0.8v0.8h-0.8zM338.6 221.2h0.8v0.8h-0.8zM324.8 235.9h0.8v0.8h-0.8zM333.9 227.1h0.8v0.8h-0.8zM325.2 231.3h0.8v0.8h-0.8zM339.5 220.9h0.8v0.8h-0.8zM334.0 219.2h0.8v0.8h-0.8zM326.4 237.7h0.8v0.8h-0.8zM341.3 218.2h0.8v0.8h-0.8zM325.8 238.8h0.8v0.8h-0.8zM337.8 217.6h0.8v0.8h-0.8zM340.2 232.2h0.8v0.8h-0.8zM325.5 234.7h0.8v0.8h-0.8zM324.8 237.4h0.8v0.8h-0.8zM327.9 229.1h0.8v0.8h-0.8zM334.9 231.0h0.8v0.8h-0.8zM326.0 232.9h0.8v0.8h-0.8zM337.6 225.5h0.8v0.8h-0.8zM320.4 237.6h0.8v0.8h-0.8zM332.3 228.8h0.8v0.8h-0.8zM330.8 227.4h0.8v0.8h-0.8zM321.9 245.0h0.8v0.8h-0.8zM332.9 225.1h0.8v0.8h-0.8zM321.5 236.7h0.8v0.8h-0.8zM316.7 249.1h0.8v0.8h-0.8zM324.9 230.8h0.8v0.8h-0.8zM327.9 228.2h0.8v0.8h-0.8zM339.3 222.3h0.8v0.8h-0.8zM324.1 228.5h0.8v0.8h-0.8zM342.9 217.7h0.8v0.8h-0.8zM339.9 215.8h0.8v0.8h-0.8zM336.5 217.6h0.8v0.8h-0.8zM340.7 217.9h0.8v0.8h-0.8zM335.4 226.5h0.8v0.8h-0.8zM326.7 231.5h0.8v0.8h-0.8zM335.4 222.6h0.8v0.8h-0.8zM339.8 221.8h0.8v0.8h-0.8zM335.0 227.6h0.8v0.8h-0.8zM330.0 230.0h0.8v0.8h-0.8zM319.8 239.4h0.8v0.8h-0.8zM333.8 220.9h0.8v0.8h-0.8zM332.5 224.2h0.8v0.8h-0.8zM324.9 239.9h0.8v0.8h-0.8zM333.7 228.4h0.8v0.8h-0.8zM337.1 222.9h0.8v0.8h-0.8zM334.3 231.7h0.8v0.8h-0.8zM336.0 221.3h0.8v0.8h-0.8zM335.6 221.4h0.8v0.8h-0.8zM321.3 239.4h0.8v0.8h-0.8zM334.3 234.2h0.8v0.8h-0.8zM330.0 220.4h0.8v0.8h-0.8zM338.3 221.3h0.8v0.8h-0.8zM341.8 217.6h0.8v0.8h-0.8zM319.5 243.8h0.8v0.8h-0.8zM336.8 233.1h0.8v0.8h-0.8zM339.1 224.6h0.8v0.8h-0.8zM341.4 219.7h0.8v0.8h-0.8zM340.4 212.9h0.8v0.8h-0.8zM326.9 236.7h0.8v0.8h-0.8zM328.5 230.5h0.8v0.8h-0.8zM325.1 236.8h0.8v0.8h-0.8zM337.5 222.0h0.8v0.8h-0.8zM322.1 238.0h0.8v0.8h-0.8zM340.8 219.8h0.8v0.8h-0.8zM341.6 223.7h0.8v0.8h-0.8zM337.3 226.2h0.8v0.8h-0.8zM318.3 246.2h0.8v0.8h-0.8zM322.8 230.1h0.8v0.8h-0.8zM339.1 224.2h0.8v0.8h-0.8zM325.2 241.7h0.8v0.8h-0.8zM329.8 229.8h0.8v0.8h-0.8zM330.0 228.2h0.8v0.8h-0.8zM339.0 222.2h0.8v0.8h-0.8zM331.7 224.4h0.8v0.8h-0.8zM335.4 227.5h0.8v0.8h-0.8zM326.4 229.8h0.8v0.8h-0.8zM329.6 226.5h0.8v0.8h-0.8zM330.9 229.3h0.8v0.8h-0.8zM333.0 219.6h0.8v0.8h-0.8zM330.6 229.7h0.8v0.8h-0.8zM339.7 220.9h0.8v0.8h-0.8zM317.8 239.5h0.8v0.8h-0.8zM341.7 220.2h0.8v0.8h-0.8zM329.4 228.6h0.8v0.8h-0.8zM340.3 220.1h0.8v0.8h-0.8zM332.8 228.0h0.8v0.8h-0.8zM336.2 220.5h0.8v0.8h-0.8zM340.1 215.2h0.8v0.8h-0.8zM324.2 229.5h0.8v0.8h-0.8zM330.7 226.3h0.8v0.8h-0.8zM328.9 228.2h0.8v0.8h-0.8zM337.0 229.6h0.8v0.8h-0.8zM323.7 243.2h0.8v0.8h-0.8zM327.5 227.1h0.8v0.8h-0.8zM332.0 231.8h0.8v0.8h-0.8zM327.2 235.0h0.8v0.8h-0.8zM329.6 229.1h0.8v0.8h-0.8zM322.9 241.6h0.8v0.8h-0.8zM342.6 218.4h0.8v0.8h-0.8zM333.3 223.6h0.8v0.8h-0.8zM343.2 212.5h0.8v0.8h-0.8zM326.5 235.6h0.8v0.8h-0.8zM322.0 235.9h0.8v0.8h-0.8zM334.0 226.3h0.8v0.8h-0.8zM320.9 241.6h0.8v0.8h-0.8zM331.6 225.2h0.8v0.8h-0.8zM325.3 232.4h0.8v0.8h-0.8zM330.3 231.5h0.8v0.8h-0.8zM335.5 227.8h0.8v0.8h-0.8zM332.8 228.5h0.8v0.8h-0.8zM341.7 211.6h0.8v0.8h-0.8zM337.6 224.5h0.8v0.8h-0.8zM323.9 239.0h0.8v0.8h-0.8zM339.5 221.4h0.8v0.8h-0.8zM325.9 241.3h0.8v0.8h-0.8zM330.2 225.9h0.8v0.8h-0.8zM323.4 238.1h0.8v0.8h-0.8zM325.0 233.9h0.8v0.8h-0.8zM338.2 216.0h0.8v0.8h-0.8zM332.9 236.5h0.8v0.8h-0.8zM329.8 235.2h0.8v0.8h-0.8zM324.0 229.6h0.8v0.8h-0.8zM330.7 231.6h0.8v0.8h-0.8zM339.7 215.6h0.8v0.8h-0.8zM326.9 240.0h0.8v0.8h-0.8zM324.0 238.5h0.8v0.8h-0.8zM335.1 223.3h0.8v0.8h-0.8zM321.8 241.5h0.8v0.8h-0.8zM330.3 232.0h0.8v0.8h-0.8zM339.1 219.2h0.8v0.8h-0.8zM331.2 227.9h0.8v0.8h-0.8zM328.3 231.9h0.8v0.8h-0.8zM328.4 235.0h0.8v0.8h-0.8zM323.2 233.6h0.8v0.8h-0.8zM327.9 233.1h0.8v0.8h-0.8zM332.3 227.0h0.8v0.8h-0.8zM338.6 217.4h0.8v0.8h-0.8zM339.7 221.9h0.8v0.8h-0.8zM325.1 230.5h0.8v0.8h-0.8zM326.2 233.6h0.8v0.8h-0.8zM334.2 221.1h0.8v0.8h-0.8zM321.3 244.1h0.8v0.8h-0.8zM327.8 231.0h0.8v0.8h-0.8zM329.7 231.1h0.8v0.8h-0.8zM325.5 238.1h0.8v0.8h-0.8zM321.6 233.5h0.8v0.8h-0.8zM335.0 226.4h0.8v0.8h-0.8zM319.3 240.4h0.8v0.8h-0.8zM325.2 235.3h0.8v0.8h-0.8zM327.2 233.4h0.8v0.8h-0.8zM334.1 229.3h0.8v0.8h-0.8zM324.6 240.9h0.8v0.8h-0.8zM342.8 222.9h0.8v0.8h-0.8zM330.1 231.3h0.8v0.8h-0.8zM328.9 229.7h0.8v0.8h-0.8zM328.1 230.5h0.8v0.8h-0.8zM328.8 235.1h0.8v0.8h-0.8zM329.1 239.4h0.8v0.8h-0.8zM339.8 219.8h0.8v0.8h-0.8zM331.6 225.8h0.8v0.8h-0.8zM331.5 229.9h0.8v0.8h-0.8zM338.6 220.9h0.8v0.8h-0.8zM327.1 234.3h0.8v0.8h-0.8zM333.9 222.0h0.8v0.8h-0.8zM325.8 223.6h0.8v0.8h-0.8zM324.6 234.7h0.8v0.8h-0.8zM338.9 224.3h0.8v0.8h-0.8zM322.5 241.0h0.8v0.8h-0.8zM330.6 219.2h0.8v0.8h-0.8zM325.9 235.7h0.8v0.8h-0.8zM329.9 221.8h0.8v0.8h-0.8zM345.1 221.1h0.8v0.8h-0.8zM335.6 224.3h0.8v0.8h-0.8zM324.9 231.2h0.8v0.8h-0.8zM333.2 230.3h0.8v0.8h-0.8zM327.4 230.1h0.8v0.8h-0.8zM325.3 239.1h0.8v0.8h-0.8zM324.5 237.6h0.8v0.8h-0.8zM329.1 226.1h0.8v0.8h-0.8zM336.5 225.5h0.8v0.8h-0.8zM317.1 240.4h0.8v0.8h-0.8zM334.2 231.7h0.8v0.8h-0.8zM334.9 224.7h0.8v0.8h-0.8zM329.8 225.8h0.8v0.8h-0.8zM320.8 233.4h0.8v0.8h-0.8zM341.9 223.3h0.8v0.8h-0.8zM327.1 241.1h0.8v0.8h-0.8zM332.7 221.1h0.8v0.8h-0.8zM345.6 218.8h0.8v0.8h-0.8zM318.8 245.4h0.8v0.8h-0.8z" fill="#c9a6d8" fill-opacity="0.35"/>
<g clip-path="url(#mn3)">
<path d="M325.7 236.8h0.9v0.9h-0.9zM323.4 233.7h0.9v0.9h-0.9zM324.2 235.9h0.9v0.9h-0.9zM331.9 226.9h0.9v0.9h-0.9zM320.2 229.0h0.9v0.9h-0.9zM318.5 245.5h0.9v0.9h-0.9zM334.7 223.2h0.9v0.9h-0.9zM323.1 224.8h0.9v0.9h-0.9zM323.0 242.3h0.9v0.9h-0.9zM324.3 236.8h0.9v0.9h-0.9zM322.6 240.3h0.9v0.9h-0.9zM327.1 235.5h0.9v0.9h-0.9zM326.5 231.9h0.9v0.9h-0.9zM324.1 231.3h0.9v0.9h-0.9zM322.1 237.3h0.9v0.9h-0.9zM321.3 238.4h0.9v0.9h-0.9zM335.6 235.1h0.9v0.9h-0.9zM330.5 239.5h0.9v0.9h-0.9zM334.4 221.6h0.9v0.9h-0.9zM321.3 238.5h0.9v0.9h-0.9zM330.2 231.3h0.9v0.9h-0.9zM327.7 235.9h0.9v0.9h-0.9zM320.8 237.6h0.9v0.9h-0.9zM329.1 225.3h0.9v0.9h-0.9zM331.7 238.4h0.9v0.9h-0.9zM324.9 242.1h0.9v0.9h-0.9zM320.3 233.3h0.9v0.9h-0.9zM325.6 225.6h0.9v0.9h-0.9zM318.4 239.9h0.9v0.9h-0.9zM332.5 227.9h0.9v0.9h-0.9zM330.4 232.4h0.9v0.9h-0.9zM323.8 235.7h0.9v0.9h-0.9zM327.4 224.0h0.9v0.9h-0.9zM334.1 225.9h0.9v0.9h-0.9zM330.2 233.0h0.9v0.9h-0.9zM326.7 234.0h0.9v0.9h-0.9zM332.6 223.8h0.9v0.9h-0.9zM334.0 228.0h0.9v0.9h-0.9zM321.7 239.9h0.9v0.9h-0.9zM322.0 233.6h0.9v0.9h-0.9zM325.2 236.3h0.9v0.9h-0.9zM320.6 234.4h0.9v0.9h-0.9zM322.0 245.2h0.9v0.9h-0.9zM331.1 231.0h0.9v0.9h-0.9zM323.6 232.3h0.9v0.9h-0.9zM326.9 234.9h0.9v0.9h-0.9zM335.5 229.9h0.9v0.9h-0.9zM317.6 233.4h0.9v0.9h-0.9zM325.3 234.9h0.9v0.9h-0.9zM331.6 237.0h0.9v0.9h-0.9zM319.8 233.9h0.9v0.9h-0.9zM325.0 235.2h0.9v0.9h-0.9zM325.4 227.6h0.9v0.9h-0.9zM325.7 234.8h0.9v0.9h-0.9zM325.2 222.4h0.9v0.9h-0.9zM318.2 235.5h0.9v0.9h-0.9zM325.3 232.7h0.9v0.9h-0.9zM320.1 243.1h0.9v0.9h-0.9zM326.4 236.4h0.9v0.9h-0.9zM324.0 239.7h0.9v0.9h-0.9zM335.0 230.0h0.9v0.9h-0.9zM331.1 232.4h0.9v0.9h-0.9zM330.2 233.7h0.9v0.9h-0.9zM331.3 222.7h0.9v0.9h-0.9zM331.8 226.7h0.9v0.9h-0.9zM337.8 237.9h0.9v0.9h-0.9zM329.1 243.7h0.9v0.9h-0.9zM321.9 244.7h0.9v0.9h-0.9zM327.8 236.7h0.9v0.9h-0.9zM327.1 239.0h0.9v0.9h-0.9zM322.0 237.6h0.9v0.9h-0.9zM330.0 240.8h0.9v0.9h-0.9zM317.6 243.2h0.9v0.9h-0.9zM332.2 226.5h0.9v0.9h-0.9zM326.9 246.0h0.9v0.9h-0.9zM317.2 234.1h0.9v0.9h-0.9zM329.4 232.6h0.9v0.9h-0.9zM314.0 240.1h0.9v0.9h-0.9zM328.2 228.4h0.9v0.9h-0.9zM329.8 229.6h0.9v0.9h-0.9zM323.6 235.9h0.9v0.9h-0.9zM321.7 241.3h0.9v0.9h-0.9zM321.7 235.9h0.9v0.9h-0.9zM317.5 244.9h0.9v0.9h-0.9zM328.7 224.7h0.9v0.9h-0.9zM325.1 233.8h0.9v0.9h-0.9zM318.9 236.0h0.9v0.9h-0.9zM323.7 241.4h0.9v0.9h-0.9zM324.9 228.9h0.9v0.9h-0.9zM334.4 228.2h0.9v0.9h-0.9zM319.2 241.1h0.9v0.9h-0.9zM322.6 237.4h0.9v0.9h-0.9zM321.5 247.2h0.9v0.9h-0.9zM329.2 231.4h0.9v0.9h-0.9zM321.4 229.9h0.9v0.9h-0.9zM337.2 223.5h0.9v0.9h-0.9zM317.3 229.2h0.9v0.9h-0.9zM324.7 237.9h0.9v0.9h-0.9zM321.7 238.0h0.9v0.9h-0.9zM325.8 227.1h0.9v0.9h-0.9zM319.0 244.1h0.9v0.9h-0.9zM328.4 230.1h0.9v0.9h-0.9zM332.6 238.0h0.9v0.9h-0.9zM322.5 236.8h0.9v0.9h-0.9zM327.3 244.2h0.9v0.9h-0.9zM334.4 232.1h0.9v0.9h-0.9zM332.4 223.3h0.9v0.9h-0.9zM321.7 235.6h0.9v0.9h-0.9zM331.9 234.9h0.9v0.9h-0.9zM333.2 225.0h0.9v0.9h-0.9zM323.6 238.7h0.9v0.9h-0.9zM324.1 235.8h0.9v0.9h-0.9zM317.2 239.0h0.9v0.9h-0.9zM324.2 234.9h0.9v0.9h-0.9zM322.9 233.3h0.9v0.9h-0.9zM319.8 233.9h0.9v0.9h-0.9zM321.8 238.4h0.9v0.9h-0.9zM323.9 247.7h0.9v0.9h-0.9zM324.5 246.0h0.9v0.9h-0.9zM321.4 240.2h0.9v0.9h-0.9zM329.1 231.7h0.9v0.9h-0.9zM325.1 238.9h0.9v0.9h-0.9zM325.9 242.7h0.9v0.9h-0.9zM329.7 232.0h0.9v0.9h-0.9zM327.1 230.7h0.9v0.9h-0.9zM321.5 238.3h0.9v0.9h-0.9zM326.3 240.9h0.9v0.9h-0.9zM336.1 237.0h0.9v0.9h-0.9zM325.8 231.5h0.9v0.9h-0.9zM316.5 235.0h0.9v0.9h-0.9zM329.2 235.4h0.9v0.9h-0.9zM325.6 234.9h0.9v0.9h-0.9zM331.2 229.0h0.9v0.9h-0.9zM325.5 242.5h0.9v0.9h-0.9zM330.0 230.2h0.9v0.9h-0.9zM324.1 229.6h0.9v0.9h-0.9zM316.0 236.2h0.9v0.9h-0.9zM330.5 229.0h0.9v0.9h-0.9zM326.7 227.3h0.9v0.9h-0.9zM320.9 242.9h0.9v0.9h-0.9zM331.1 221.1h0.9v0.9h-0.9zM319.9 240.5h0.9v0.9h-0.9zM317.7 236.8h0.9v0.9h-0.9zM323.5 235.9h0.9v0.9h-0.9zM328.1 229.6h0.9v0.9h-0.9zM330.2 233.0h0.9v0.9h-0.9zM329.3 238.5h0.9v0.9h-0.9zM331.5 226.9h0.9v0.9h-0.9zM325.3 230.8h0.9v0.9h-0.9zM337.6 231.5h0.9v0.9h-0.9zM339.5 220.0h0.9v0.9h-0.9zM328.5 235.2h0.9v0.9h-0.9zM316.2 250.7h0.9v0.9h-0.9zM328.0 240.7h0.9v0.9h-0.9zM324.0 243.2h0.9v0.9h-0.9zM328.2 235.9h0.9v0.9h-0.9zM328.5 236.1h0.9v0.9h-0.9zM318.1 239.9h0.9v0.9h-0.9zM319.1 240.1h0.9v0.9h-0.9zM324.4 236.2h0.9v0.9h-0.9zM325.3 236.3h0.9v0.9h-0.9zM314.3 249.6h0.9v0.9h-0.9zM331.1 230.2h0.9v0.9h-0.9zM326.1 234.8h0.9v0.9h-0.9zM324.7 234.0h0.9v0.9h-0.9zM322.7 229.7h0.9v0.9h-0.9zM323.7 242.6h0.9v0.9h-0.9zM327.3 236.5h0.9v0.9h-0.9zM328.1 227.1h0.9v0.9h-0.9zM332.2 230.0h0.9v0.9h-0.9zM329.1 233.2h0.9v0.9h-0.9zM324.9 236.7h0.9v0.9h-0.9zM317.1 235.5h0.9v0.9h-0.9zM328.5 224.8h0.9v0.9h-0.9zM326.6 230.6h0.9v0.9h-0.9zM328.5 240.9h0.9v0.9h-0.9zM313.7 245.3h0.9v0.9h-0.9zM321.0 239.1h0.9v0.9h-0.9zM314.1 243.4h0.9v0.9h-0.9zM330.2 226.8h0.9v0.9h-0.9zM327.7 234.6h0.9v0.9h-0.9zM316.8 234.6h0.9v0.9h-0.9zM316.7 230.2h0.9v0.9h-0.9zM339.5 221.6h0.9v0.9h-0.9zM331.5 228.1h0.9v0.9h-0.9zM318.1 241.3h0.9v0.9h-0.9zM328.1 237.8h0.9v0.9h-0.9zM323.1 244.1h0.9v0.9h-0.9zM312.2 240.1h0.9v0.9h-0.9zM326.2 233.6h0.9v0.9h-0.9zM340.0 223.6h0.9v0.9h-0.9zM331.1 224.5h0.9v0.9h-0.9zM325.2 234.0h0.9v0.9h-0.9zM326.9 239.2h0.9v0.9h-0.9zM326.1 233.2h0.9v0.9h-0.9zM327.3 226.4h0.9v0.9h-0.9zM317.3 241.8h0.9v0.9h-0.9zM313.7 242.7h0.9v0.9h-0.9zM336.1 225.4h0.9v0.9h-0.9zM322.4 229.5h0.9v0.9h-0.9zM336.1 228.0h0.9v0.9h-0.9zM322.4 229.9h0.9v0.9h-0.9zM332.8 226.6h0.9v0.9h-0.9zM319.0 235.2h0.9v0.9h-0.9zM327.3 231.4h0.9v0.9h-0.9zM335.9 228.3h0.9v0.9h-0.9zM333.7 231.6h0.9v0.9h-0.9zM327.5 240.5h0.9v0.9h-0.9zM329.8 229.6h0.9v0.9h-0.9zM323.2 239.0h0.9v0.9h-0.9zM320.0 243.7h0.9v0.9h-0.9zM330.1 233.3h0.9v0.9h-0.9zM331.2 226.0h0.9v0.9h-0.9zM332.9 232.5h0.9v0.9h-0.9zM321.1 242.9h0.9v0.9h-0.9zM333.1 232.5h0.9v0.9h-0.9zM330.4 232.1h0.9v0.9h-0.9zM325.7 239.1h0.9v0.9h-0.9zM312.4 247.7h0.9v0.9h-0.9zM329.4 228.1h0.9v0.9h-0.9zM326.4 226.9h0.9v0.9h-0.9zM327.4 231.4h0.9v0.9h-0.9zM317.5 244.6h0.9v0.9h-0.9zM321.4 245.4h0.9v0.9h-0.9zM327.1 226.3h0.9v0.9h-0.9zM338.7 237.5h0.9v0.9h-0.9zM327.9 231.8h0.9v0.9h-0.9zM328.3 239.2h0.9v0.9h-0.9zM330.7 235.0h0.9v0.9h-0.9zM316.3 232.5h0.9v0.9h-0.9zM323.7 236.2h0.9v0.9h-0.9zM326.1 243.3h0.9v0.9h-0.9zM320.3 228.0h0.9v0.9h-0.9zM326.2 239.1h0.9v0.9h-0.9zM327.8 227.4h0.9v0.9h-0.9zM327.9 229.7h0.9v0.9h-0.9zM322.8 240.2h0.9v0.9h-0.9zM329.2 220.1h0.9v0.9h-0.9zM321.3 241.9h0.9v0.9h-0.9zM326.2 230.9h0.9v0.9h-0.9zM328.8 227.0h0.9v0.9h-0.9zM333.8 229.0h0.9v0.9h-0.9zM325.6 255.6h0.9v0.9h-0.9zM331.5 229.9h0.9v0.9h-0.9zM333.1 229.1h0.9v0.9h-0.9zM332.4 226.4h0.9v0.9h-0.9zM313.6 246.3h0.9v0.9h-0.9zM323.5 239.5h0.9v0.9h-0.9zM329.7 238.9h0.9v0.9h-0.9zM324.4 238.0h0.9v0.9h-0.9zM334.6 229.1h0.9v0.9h-0.9zM322.1 238.4h0.9v0.9h-0.9zM338.7 233.4h0.9v0.9h-0.9zM323.9 228.0h0.9v0.9h-0.9zM320.8 244.7h0.9v0.9h-0.9zM322.8 241.9h0.9v0.9h-0.9zM324.5 238.3h0.9v0.9h-0.9zM323.2 231.9h0.9v0.9h-0.9zM327.3 226.6h0.9v0.9h-0.9zM324.4 235.5h0.9v0.9h-0.9zM330.4 229.8h0.9v0.9h-0.9zM315.2 241.4h0.9v0.9h-0.9zM308.7 250.4h0.9v0.9h-0.9zM325.9 238.2h0.9v0.9h-0.9zM330.9 234.5h0.9v0.9h-0.9zM322.7 235.8h0.9v0.9h-0.9zM319.3 239.3h0.9v0.9h-0.9zM325.8 230.8h0.9v0.9h-0.9zM341.9 229.1h0.9v0.9h-0.9zM326.8 236.6h0.9v0.9h-0.9zM322.3 239.0h0.9v0.9h-0.9zM324.8 242.1h0.9v0.9h-0.9zM341.5 228.5h0.9v0.9h-0.9zM329.0 237.8h0.9v0.9h-0.9zM324.7 228.2h0.9v0.9h-0.9zM331.3 227.6h0.9v0.9h-0.9zM329.8 227.7h0.9v0.9h-0.9zM320.6 239.5h0.9v0.9h-0.9zM326.9 226.6h0.9v0.9h-0.9zM328.7 229.1h0.9v0.9h-0.9zM325.1 229.6h0.9v0.9h-0.9zM331.5 229.8h0.9v0.9h-0.9zM323.4 238.3h0.9v0.9h-0.9zM321.6 232.2h0.9v0.9h-0.9zM318.7 234.2h0.9v0.9h-0.9zM328.1 229.4h0.9v0.9h-0.9zM324.7 240.2h0.9v0.9h-0.9zM329.1 233.7h0.9v0.9h-0.9zM320.6 241.2h0.9v0.9h-0.9zM316.0 228.2h0.9v0.9h-0.9zM322.8 235.9h0.9v0.9h-0.9zM323.3 233.9h0.9v0.9h-0.9zM325.6 233.4h0.9v0.9h-0.9zM321.6 233.3h0.9v0.9h-0.9zM323.7 235.2h0.9v0.9h-0.9zM314.4 245.5h0.9v0.9h-0.9zM338.7 234.5h0.9v0.9h-0.9zM325.0 240.1h0.9v0.9h-0.9zM324.2 235.9h0.9v0.9h-0.9zM321.9 239.6h0.9v0.9h-0.9zM330.2 228.8h0.9v0.9h-0.9zM322.2 240.6h0.9v0.9h-0.9zM327.1 231.1h0.9v0.9h-0.9zM331.3 228.0h0.9v0.9h-0.9zM336.4 227.6h0.9v0.9h-0.9zM333.8 229.8h0.9v0.9h-0.9zM329.6 232.0h0.9v0.9h-0.9zM324.1 244.9h0.9v0.9h-0.9zM332.5 227.9h0.9v0.9h-0.9zM328.7 225.8h0.9v0.9h-0.9zM324.9 226.1h0.9v0.9h-0.9zM327.7 228.6h0.9v0.9h-0.9zM326.1 234.3h0.9v0.9h-0.9zM324.6 238.8h0.9v0.9h-0.9zM334.0 231.0h0.9v0.9h-0.9zM330.2 226.2h0.9v0.9h-0.9zM318.8 239.1h0.9v0.9h-0.9zM332.3 231.3h0.9v0.9h-0.9zM330.4 236.1h0.9v0.9h-0.9zM328.7 228.6h0.9v0.9h-0.9zM328.1 234.0h0.9v0.9h-0.9zM335.0 231.5h0.9v0.9h-0.9zM331.6 229.6h0.9v0.9h-0.9zM329.9 229.6h0.9v0.9h-0.9zM313.7 238.2h0.9v0.9h-0.9zM333.5 233.0h0.9v0.9h-0.9zM328.0 236.0h0.9v0.9h-0.9zM321.1 241.7h0.9v0.9h-0.9zM327.9 229.7h0.9v0.9h-0.9zM316.1 240.0h0.9v0.9h-0.9zM329.8 229.4h0.9v0.9h-0.9zM333.5 224.7h0.9v0.9h-0.9zM326.7 240.2h0.9v0.9h-0.9zM326.8 226.8h0.9v0.9h-0.9zM332.1 235.4h0.9v0.9h-0.9zM329.1 231.1h0.9v0.9h-0.9zM323.1 245.3h0.9v0.9h-0.9zM326.1 229.1h0.9v0.9h-0.9zM327.6 234.8h0.9v0.9h-0.9zM332.8 233.2h0.9v0.9h-0.9zM326.3 235.0h0.9v0.9h-0.9zM326.9 225.1h0.9v0.9h-0.9zM326.3 232.5h0.9v0.9h-0.9zM330.6 232.0h0.9v0.9h-0.9zM328.4 223.7h0.9v0.9h-0.9zM322.8 230.5h0.9v0.9h-0.9zM331.2 229.5h0.9v0.9h-0.9zM324.4 231.3h0.9v0.9h-0.9zM330.3 233.3h0.9v0.9h-0.9zM320.3 235.2h0.9v0.9h-0.9zM324.4 226.2h0.9v0.9h-0.9zM329.5 225.9h0.9v0.9h-0.9zM329.8 238.6h0.9v0.9h-0.9zM327.2 228.2h0.9v0.9h-0.9zM328.0 232.3h0.9v0.9h-0.9zM321.6 241.7h0.9v0.9h-0.9zM325.0 230.6h0.9v0.9h-0.9zM335.2 229.6h0.9v0.9h-0.9zM324.3 237.9h0.9v0.9h-0.9zM319.1 246.0h0.9v0.9h-0.9zM322.2 229.8h0.9v0.9h-0.9zM318.2 234.5h0.9v0.9h-0.9zM327.0 217.6h0.9v0.9h-0.9zM325.3 234.5h0.9v0.9h-0.9zM325.4 234.2h0.9v0.9h-0.9zM325.2 240.0h0.9v0.9h-0.9zM331.4 236.6h0.9v0.9h-0.9zM322.8 237.4h0.9v0.9h-0.9zM321.2 239.3h0.9v0.9h-0.9zM327.0 236.1h0.9v0.9h-0.9zM326.6 242.8h0.9v0.9h-0.9zM329.8 225.3h0.9v0.9h-0.9zM322.5 242.8h0.9v0.9h-0.9zM325.0 234.6h0.9v0.9h-0.9zM322.0 237.9h0.9v0.9h-0.9zM322.0 244.5h0.9v0.9h-0.9zM331.4 223.4h0.9v0.9h-0.9zM313.4 244.4h0.9v0.9h-0.9zM334.6 227.8h0.9v0.9h-0.9zM319.5 242.8h0.9v0.9h-0.9zM325.7 233.6h0.9v0.9h-0.9zM336.0 221.4h0.9v0.9h-0.9zM317.7 248.0h0.9v0.9h-0.9zM318.8 241.8h0.9v0.9h-0.9zM334.2 228.9h0.9v0.9h-0.9zM328.0 234.6h0.9v0.9h-0.9zM327.7 241.2h0.9v0.9h-0.9zM329.5 237.7h0.9v0.9h-0.9zM324.1 242.2h0.9v0.9h-0.9zM326.1 233.6h0.9v0.9h-0.9zM333.2 226.4h0.9v0.9h-0.9zM322.7 235.6h0.9v0.9h-0.9zM334.7 240.3h0.9v0.9h-0.9zM330.9 227.3h0.9v0.9h-0.9zM336.7 224.6h0.9v0.9h-0.9zM327.2 241.1h0.9v0.9h-0.9zM323.6 229.9h0.9v0.9h-0.9zM321.2 236.1h0.9v0.9h-0.9zM322.0 237.5h0.9v0.9h-0.9zM321.4 234.8h0.9v0.9h-0.9zM319.6 235.5h0.9v0.9h-0.9zM316.7 243.5h0.9v0.9h-0.9zM320.6 249.0h0.9v0.9h-0.9zM324.8 240.5h0.9v0.9h-0.9zM326.8 234.0h0.9v0.9h-0.9zM331.7 227.8h0.9v0.9h-0.9zM319.0 234.1h0.9v0.9h-0.9zM327.3 237.2h0.9v0.9h-0.9zM330.3 231.9h0.9v0.9h-0.9zM326.4 228.1h0.9v0.9h-0.9zM326.1 235.8h0.9v0.9h-0.9zM325.3 234.6h0.9v0.9h-0.9zM333.2 222.8h0.9v0.9h-0.9zM321.8 234.4h0.9v0.9h-0.9zM321.9 236.0h0.9v0.9h-0.9zM316.0 241.9h0.9v0.9h-0.9zM329.3 233.3h0.9v0.9h-0.9zM325.9 237.0h0.9v0.9h-0.9zM335.7 224.5h0.9v0.9h-0.9zM324.0 236.2h0.9v0.9h-0.9zM328.6 229.2h0.9v0.9h-0.9zM336.1 233.9h0.9v0.9h-0.9zM328.4 221.1h0.9v0.9h-0.9zM323.5 244.9h0.9v0.9h-0.9zM334.2 226.5h0.9v0.9h-0.9zM326.3 234.8h0.9v0.9h-0.9zM324.2 234.2h0.9v0.9h-0.9zM324.1 236.0h0.9v0.9h-0.9zM321.0 234.3h0.9v0.9h-0.9zM320.6 233.6h0.9v0.9h-0.9zM315.1 247.8h0.9v0.9h-0.9zM323.8 228.1h0.9v0.9h-0.9zM328.7 236.2h0.9v0.9h-0.9zM324.9 242.7h0.9v0.9h-0.9zM316.1 227.4h0.9v0.9h-0.9zM332.2 218.1h0.9v0.9h-0.9zM328.6 233.2h0.9v0.9h-0.9zM324.9 237.4h0.9v0.9h-0.9zM334.2 225.2h0.9v0.9h-0.9zM323.6 240.2h0.9v0.9h-0.9zM327.5 237.3h0.9v0.9h-0.9zM326.0 239.8h0.9v0.9h-0.9zM330.0 240.1h0.9v0.9h-0.9zM329.5 230.6h0.9v0.9h-0.9zM331.1 233.3h0.9v0.9h-0.9zM318.2 235.3h0.9v0.9h-0.9zM325.1 235.2h0.9v0.9h-0.9zM323.0 231.5h0.9v0.9h-0.9zM328.1 240.2h0.9v0.9h-0.9zM332.5 240.2h0.9v0.9h-0.9zM324.3 240.1h0.9v0.9h-0.9zM319.1 236.0h0.9v0.9h-0.9zM326.0 234.2h0.9v0.9h-0.9zM321.5 240.7h0.9v0.9h-0.9zM328.5 232.8h0.9v0.9h-0.9zM328.3 238.3h0.9v0.9h-0.9zM324.6 242.1h0.9v0.9h-0.9zM315.9 232.3h0.9v0.9h-0.9zM327.7 240.5h0.9v0.9h-0.9zM324.0 234.6h0.9v0.9h-0.9zM325.0 232.9h0.9v0.9h-0.9zM329.1 239.1h0.9v0.9h-0.9zM321.4 239.1h0.9v0.9h-0.9zM328.7 223.5h0.9v0.9h-0.9zM326.5 226.7h0.9v0.9h-0.9zM326.7 234.3h0.9v0.9h-0.9zM332.9 231.4h0.9v0.9h-0.9zM331.8 236.3h0.9v0.9h-0.9zM324.4 235.9h0.9v0.9h-0.9zM325.1 233.2h0.9v0.9h-0.9zM342.7 223.2h0.9v0.9h-0.9zM329.3 228.1h0.9v0.9h-0.9zM334.9 232.1h0.9v0.9h-0.9zM325.0 237.5h0.9v0.9h-0.9zM329.5 231.9h0.9v0.9h-0.9zM335.6 221.4h0.9v0.9h-0.9zM328.8 233.0h0.9v0.9h-0.9zM329.6 227.6h0.9v0.9h-0.9zM329.8 226.1h0.9v0.9h-0.9zM328.6 230.8h0.9v0.9h-0.9zM331.4 224.4h0.9v0.9h-0.9zM328.0 234.1h0.9v0.9h-0.9zM328.6 232.1h0.9v0.9h-0.9zM322.5 237.8h0.9v0.9h-0.9zM337.4 219.4h0.9v0.9h-0.9zM326.8 232.5h0.9v0.9h-0.9zM331.5 238.0h0.9v0.9h-0.9zM332.3 226.9h0.9v0.9h-0.9zM322.2 236.2h0.9v0.9h-0.9zM325.2 234.1h0.9v0.9h-0.9zM324.4 240.7h0.9v0.9h-0.9zM325.6 234.2h0.9v0.9h-0.9zM323.9 236.6h0.9v0.9h-0.9zM327.8 231.1h0.9v0.9h-0.9zM326.0 235.9h0.9v0.9h-0.9zM324.5 239.0h0.9v0.9h-0.9zM326.0 237.4h0.9v0.9h-0.9zM320.9 231.8h0.9v0.9h-0.9zM320.8 235.3h0.9v0.9h-0.9zM322.9 223.6h0.9v0.9h-0.9zM331.3 232.8h0.9v0.9h-0.9zM329.8 236.4h0.9v0.9h-0.9zM324.4 244.4h0.9v0.9h-0.9zM328.8 232.2h0.9v0.9h-0.9zM323.5 244.6h0.9v0.9h-0.9zM326.8 233.7h0.9v0.9h-0.9zM325.9 234.2h0.9v0.9h-0.9zM319.1 234.7h0.9v0.9h-0.9zM320.1 237.7h0.9v0.9h-0.9zM321.3 237.4h0.9v0.9h-0.9zM337.9 225.2h0.9v0.9h-0.9zM329.5 240.0h0.9v0.9h-0.9zM323.8 234.9h0.9v0.9h-0.9zM331.4 230.2h0.9v0.9h-0.9zM328.7 233.0h0.9v0.9h-0.9zM328.6 227.1h0.9v0.9h-0.9zM315.7 237.9h0.9v0.9h-0.9zM319.1 239.3h0.9v0.9h-0.9zM337.0 212.8h0.9v0.9h-0.9zM325.0 234.3h0.9v0.9h-0.9zM324.4 236.1h0.9v0.9h-0.9zM326.3 233.5h0.9v0.9h-0.9zM330.0 228.8h0.9v0.9h-0.9zM322.1 242.6h0.9v0.9h-0.9zM324.7 231.1h0.9v0.9h-0.9zM328.4 236.9h0.9v0.9h-0.9zM324.4 227.3h0.9v0.9h-0.9zM327.0 233.9h0.9v0.9h-0.9zM324.8 238.7h0.9v0.9h-0.9zM319.9 237.9h0.9v0.9h-0.9zM310.7 245.0h0.9v0.9h-0.9zM332.2 230.7h0.9v0.9h-0.9zM317.6 241.6h0.9v0.9h-0.9zM326.4 238.8h0.9v0.9h-0.9zM335.7 227.1h0.9v0.9h-0.9zM324.2 237.1h0.9v0.9h-0.9zM328.8 231.3h0.9v0.9h-0.9zM327.9 238.2h0.9v0.9h-0.9zM330.2 231.7h0.9v0.9h-0.9zM323.6 232.5h0.9v0.9h-0.9zM324.2 238.0h0.9v0.9h-0.9zM333.6 228.4h0.9v0.9h-0.9zM325.4 236.7h0.9v0.9h-0.9zM320.6 242.7h0.9v0.9h-0.9zM324.2 236.3h0.9v0.9h-0.9zM328.1 231.5h0.9v0.9h-0.9zM318.4 239.0h0.9v0.9h-0.9zM325.6 227.2h0.9v0.9h-0.9zM332.6 233.0h0.9v0.9h-0.9zM333.8 221.4h0.9v0.9h-0.9zM323.8 238.9h0.9v0.9h-0.9zM324.8 227.7h0.9v0.9h-0.9zM319.0 244.5h0.9v0.9h-0.9zM321.9 235.3h0.9v0.9h-0.9zM334.8 240.8h0.9v0.9h-0.9zM325.0 230.2h0.9v0.9h-0.9zM323.1 233.0h0.9v0.9h-0.9zM328.3 237.4h0.9v0.9h-0.9zM326.5 240.8h0.9v0.9h-0.9zM318.2 232.6h0.9v0.9h-0.9zM328.1 233.6h0.9v0.9h-0.9zM331.0 233.6h0.9v0.9h-0.9zM325.5 228.5h0.9v0.9h-0.9zM332.4 230.7h0.9v0.9h-0.9zM329.9 226.9h0.9v0.9h-0.9zM315.2 242.7h0.9v0.9h-0.9zM322.7 236.9h0.9v0.9h-0.9zM324.0 234.7h0.9v0.9h-0.9zM319.3 235.3h0.9v0.9h-0.9zM337.0 233.9h0.9v0.9h-0.9zM328.1 229.6h0.9v0.9h-0.9zM323.5 233.7h0.9v0.9h-0.9zM329.0 236.0h0.9v0.9h-0.9zM331.5 227.5h0.9v0.9h-0.9zM328.2 239.7h0.9v0.9h-0.9zM323.9 236.0h0.9v0.9h-0.9zM331.1 230.5h0.9v0.9h-0.9zM328.4 232.4h0.9v0.9h-0.9zM332.8 227.2h0.9v0.9h-0.9zM327.1 232.2h0.9v0.9h-0.9zM329.1 230.4h0.9v0.9h-0.9zM328.3 241.6h0.9v0.9h-0.9zM320.0 238.5h0.9v0.9h-0.9zM324.5 233.6h0.9v0.9h-0.9zM313.3 248.9h0.9v0.9h-0.9zM329.4 233.8h0.9v0.9h-0.9zM331.5 230.2h0.9v0.9h-0.9zM329.0 236.4h0.9v0.9h-0.9zM321.3 233.1h0.9v0.9h-0.9zM331.6 229.3h0.9v0.9h-0.9zM325.4 234.6h0.9v0.9h-0.9zM329.6 228.7h0.9v0.9h-0.9zM336.3 222.9h0.9v0.9h-0.9zM323.8 226.4h0.9v0.9h-0.9zM331.0 230.1h0.9v0.9h-0.9zM328.6 232.3h0.9v0.9h-0.9zM323.2 230.2h0.9v0.9h-0.9zM327.0 233.0h0.9v0.9h-0.9zM330.7 237.8h0.9v0.9h-0.9zM329.8 227.9h0.9v0.9h-0.9zM320.5 245.1h0.9v0.9h-0.9zM324.2 235.8h0.9v0.9h-0.9zM326.7 229.3h0.9v0.9h-0.9zM319.7 237.5h0.9v0.9h-0.9zM324.5 234.5h0.9v0.9h-0.9zM326.6 241.5h0.9v0.9h-0.9zM330.3 234.1h0.9v0.9h-0.9zM327.9 228.4h0.9v0.9h-0.9zM335.3 228.9h0.9v0.9h-0.9zM327.9 231.7h0.9v0.9h-0.9zM320.9 237.3h0.9v0.9h-0.9zM328.4 234.3h0.9v0.9h-0.9zM326.0 229.6h0.9v0.9h-0.9zM327.9 223.4h0.9v0.9h-0.9zM320.1 249.6h0.9v0.9h-0.9zM322.6 228.7h0.9v0.9h-0.9zM319.4 246.2h0.9v0.9h-0.9zM325.0 227.4h0.9v0.9h-0.9zM327.9 232.2h0.9v0.9h-0.9zM327.7 231.6h0.9v0.9h-0.9zM328.8 228.9h0.9v0.9h-0.9zM321.7 227.8h0.9v0.9h-0.9zM322.9 238.2h0.9v0.9h-0.9zM327.5 232.7h0.9v0.9h-0.9zM328.9 226.1h0.9v0.9h-0.9zM325.3 235.3h0.9v0.9h-0.9zM328.9 236.8h0.9v0.9h-0.9zM318.7 240.0h0.9v0.9h-0.9zM331.9 228.9h0.9v0.9h-0.9zM320.6 235.1h0.9v0.9h-0.9zM323.8 239.8h0.9v0.9h-0.9zM325.8 238.7h0.9v0.9h-0.9zM329.1 245.1h0.9v0.9h-0.9zM327.4 238.2h0.9v0.9h-0.9zM332.9 228.6h0.9v0.9h-0.9zM333.5 233.5h0.9v0.9h-0.9zM329.6 224.6h0.9v0.9h-0.9zM335.6 228.8h0.9v0.9h-0.9zM320.6 238.6h0.9v0.9h-0.9zM326.5 230.7h0.9v0.9h-0.9zM335.7 228.8h0.9v0.9h-0.9zM336.9 222.5h0.9v0.9h-0.9zM323.4 245.6h0.9v0.9h-0.9zM315.7 239.6h0.9v0.9h-0.9zM328.9 232.8h0.9v0.9h-0.9zM323.1 235.5h0.9v0.9h-0.9zM320.9 239.8h0.9v0.9h-0.9zM322.5 228.5h0.9v0.9h-0.9zM325.2 241.3h0.9v0.9h-0.9zM316.6 247.9h0.9v0.9h-0.9zM323.2 232.8h0.9v0.9h-0.9zM322.9 231.1h0.9v0.9h-0.9zM326.5 229.3h0.9v0.9h-0.9zM334.1 232.6h0.9v0.9h-0.9zM326.6 233.6h0.9v0.9h-0.9zM324.1 235.4h0.9v0.9h-0.9zM324.5 239.6h0.9v0.9h-0.9zM318.8 244.0h0.9v0.9h-0.9zM324.8 237.8h0.9v0.9h-0.9zM332.5 230.9h0.9v0.9h-0.9zM329.9 231.9h0.9v0.9h-0.9zM337.6 225.3h0.9v0.9h-0.9zM322.1 233.1h0.9v0.9h-0.9zM318.3 244.9h0.9v0.9h-0.9zM328.8 229.4h0.9v0.9h-0.9zM331.0 229.3h0.9v0.9h-0.9zM320.8 241.3h0.9v0.9h-0.9zM317.1 242.5h0.9v0.9h-0.9zM325.8 233.2h0.9v0.9h-0.9zM331.8 232.9h0.9v0.9h-0.9zM319.6 239.9h0.9v0.9h-0.9zM321.1 234.0h0.9v0.9h-0.9zM324.3 240.5h0.9v0.9h-0.9zM323.5 243.6h0.9v0.9h-0.9zM319.5 241.6h0.9v0.9h-0.9zM327.0 234.4h0.9v0.9h-0.9zM322.1 235.1h0.9v0.9h-0.9zM322.5 238.2h0.9v0.9h-0.9zM317.5 251.9h0.9v0.9h-0.9zM336.0 226.9h0.9v0.9h-0.9zM322.3 240.5h0.9v0.9h-0.9zM324.7 235.0h0.9v0.9h-0.9zM316.5 237.7h0.9v0.9h-0.9zM328.6 233.5h0.9v0.9h-0.9zM320.6 244.3h0.9v0.9h-0.9zM329.4 236.7h0.9v0.9h-0.9zM330.8 240.4h0.9v0.9h-0.9zM331.2 230.6h0.9v0.9h-0.9zM323.8 243.1h0.9v0.9h-0.9zM320.1 236.1h0.9v0.9h-0.9zM328.3 238.9h0.9v0.9h-0.9zM337.7 225.1h0.9v0.9h-0.9zM323.3 246.1h0.9v0.9h-0.9zM329.2 234.8h0.9v0.9h-0.9zM324.4 239.6h0.9v0.9h-0.9zM331.5 236.4h0.9v0.9h-0.9zM327.1 229.8h0.9v0.9h-0.9zM328.5 235.5h0.9v0.9h-0.9zM330.2 235.8h0.9v0.9h-0.9zM325.1 231.7h0.9v0.9h-0.9zM320.3 235.7h0.9v0.9h-0.9zM326.3 237.1h0.9v0.9h-0.9zM319.0 244.5h0.9v0.9h-0.9zM326.2 238.3h0.9v0.9h-0.9zM324.4 240.6h0.9v0.9h-0.9zM322.8 234.7h0.9v0.9h-0.9zM330.3 231.6h0.9v0.9h-0.9zM330.9 235.3h0.9v0.9h-0.9zM327.2 231.6h0.9v0.9h-0.9zM330.2 228.2h0.9v0.9h-0.9zM312.4 245.8h0.9v0.9h-0.9zM330.2 234.3h0.9v0.9h-0.9zM331.3 239.4h0.9v0.9h-0.9zM321.9 232.5h0.9v0.9h-0.9zM322.4 243.9h0.9v0.9h-0.9zM331.0 233.9h0.9v0.9h-0.9zM329.6 227.4h0.9v0.9h-0.9zM329.6 228.4h0.9v0.9h-0.9zM322.8 233.2h0.9v0.9h-0.9zM326.8 229.7h0.9v0.9h-0.9zM330.6 230.2h0.9v0.9h-0.9zM335.9 226.2h0.9v0.9h-0.9zM331.8 228.4h0.9v0.9h-0.9zM329.0 236.1h0.9v0.9h-0.9zM327.0 234.9h0.9v0.9h-0.9zM323.6 231.5h0.9v0.9h-0.9zM331.1 236.9h0.9v0.9h-0.9zM327.1 240.4h0.9v0.9h-0.9zM327.6 229.2h0.9v0.9h-0.9zM327.9 242.7h0.9v0.9h-0.9zM323.8 240.5h0.9v0.9h-0.9zM328.0 233.3h0.9v0.9h-0.9zM328.8 242.4h0.9v0.9h-0.9zM318.2 230.9h0.9v0.9h-0.9zM312.5 243.1h0.9v0.9h-0.9zM331.5 232.1h0.9v0.9h-0.9zM325.4 234.5h0.9v0.9h-0.9zM322.9 233.7h0.9v0.9h-0.9zM332.3 235.7h0.9v0.9h-0.9zM328.3 234.9h0.9v0.9h-0.9zM319.5 236.2h0.9v0.9h-0.9zM333.2 222.4h0.9v0.9h-0.9zM326.4 239.4h0.9v0.9h-0.9zM335.3 233.5h0.9v0.9h-0.9zM328.7 220.5h0.9v0.9h-0.9zM324.0 239.0h0.9v0.9h-0.9zM325.5 233.7h0.9v0.9h-0.9zM317.7 235.8h0.9v0.9h-0.9zM330.3 228.8h0.9v0.9h-0.9zM320.2 233.4h0.9v0.9h-0.9zM319.7 240.0h0.9v0.9h-0.9zM336.4 231.2h0.9v0.9h-0.9zM331.6 231.0h0.9v0.9h-0.9zM324.3 241.7h0.9v0.9h-0.9zM333.0 229.7h0.9v0.9h-0.9zM327.9 234.7h0.9v0.9h-0.9zM340.8 222.0h0.9v0.9h-0.9zM330.5 222.9h0.9v0.9h-0.9zM322.6 237.4h0.9v0.9h-0.9zM327.2 238.4h0.9v0.9h-0.9zM320.2 238.4h0.9v0.9h-0.9zM325.5 233.4h0.9v0.9h-0.9zM329.6 237.4h0.9v0.9h-0.9zM333.6 234.3h0.9v0.9h-0.9zM324.8 233.3h0.9v0.9h-0.9zM317.3 241.5h0.9v0.9h-0.9zM324.1 240.9h0.9v0.9h-0.9zM333.1 227.8h0.9v0.9h-0.9zM329.4 227.2h0.9v0.9h-0.9zM327.0 237.3h0.9v0.9h-0.9zM327.0 237.0h0.9v0.9h-0.9zM325.6 236.2h0.9v0.9h-0.9zM334.3 241.4h0.9v0.9h-0.9zM322.4 247.4h0.9v0.9h-0.9zM332.3 231.9h0.9v0.9h-0.9zM326.0 241.0h0.9v0.9h-0.9zM334.9 240.7h0.9v0.9h-0.9zM317.9 251.6h0.9v0.9h-0.9zM325.2 232.2h0.9v0.9h-0.9zM332.9 228.3h0.9v0.9h-0.9zM316.4 247.7h0.9v0.9h-0.9zM331.3 225.4h0.9v0.9h-0.9zM328.9 233.0h0.9v0.9h-0.9zM323.5 239.7h0.9v0.9h-0.9zM318.9 243.8h0.9v0.9h-0.9zM329.9 227.5h0.9v0.9h-0.9zM329.5 235.4h0.9v0.9h-0.9zM324.4 228.3h0.9v0.9h-0.9zM327.2 238.4h0.9v0.9h-0.9zM322.6 239.6h0.9v0.9h-0.9zM330.7 230.8h0.9v0.9h-0.9zM315.4 235.2h0.9v0.9h-0.9zM334.7 233.7h0.9v0.9h-0.9zM313.9 240.7h0.9v0.9h-0.9zM319.6 238.4h0.9v0.9h-0.9zM321.4 244.6h0.9v0.9h-0.9zM330.3 226.5h0.9v0.9h-0.9zM317.2 244.0h0.9v0.9h-0.9zM314.9 236.6h0.9v0.9h-0.9zM327.9 230.5h0.9v0.9h-0.9zM327.7 234.3h0.9v0.9h-0.9zM337.7 224.3h0.9v0.9h-0.9zM333.5 224.2h0.9v0.9h-0.9zM329.5 232.1h0.9v0.9h-0.9zM330.4 232.2h0.9v0.9h-0.9zM316.2 243.8h0.9v0.9h-0.9zM320.1 238.4h0.9v0.9h-0.9zM330.1 241.2h0.9v0.9h-0.9zM323.0 234.2h0.9v0.9h-0.9zM323.4 245.5h0.9v0.9h-0.9zM322.2 240.5h0.9v0.9h-0.9zM326.4 243.1h0.9v0.9h-0.9zM329.1 227.8h0.9v0.9h-0.9zM329.4 233.8h0.9v0.9h-0.9zM325.6 237.7h0.9v0.9h-0.9zM324.3 236.1h0.9v0.9h-0.9zM328.3 234.1h0.9v0.9h-0.9zM320.9 237.3h0.9v0.9h-0.9zM324.7 236.4h0.9v0.9h-0.9zM317.4 243.9h0.9v0.9h-0.9zM331.2 233.0h0.9v0.9h-0.9zM330.1 229.5h0.9v0.9h-0.9zM323.9 230.0h0.9v0.9h-0.9zM327.2 231.6h0.9v0.9h-0.9zM327.5 232.8h0.9v0.9h-0.9zM332.7 221.7h0.9v0.9h-0.9zM330.7 236.9h0.9v0.9h-0.9zM321.4 243.4h0.9v0.9h-0.9zM323.8 242.8h0.9v0.9h-0.9zM327.2 229.4h0.9v0.9h-0.9zM329.8 228.3h0.9v0.9h-0.9zM332.3 233.0h0.9v0.9h-0.9zM325.9 227.3h0.9v0.9h-0.9zM328.0 234.9h0.9v0.9h-0.9zM319.7 243.6h0.9v0.9h-0.9zM321.6 238.0h0.9v0.9h-0.9zM318.3 245.4h0.9v0.9h-0.9zM321.4 234.9h0.9v0.9h-0.9zM320.7 243.2h0.9v0.9h-0.9zM323.2 231.9h0.9v0.9h-0.9zM321.8 233.3h0.9v0.9h-0.9zM321.3 249.1h0.9v0.9h-0.9zM327.4 229.5h0.9v0.9h-0.9zM323.7 226.2h0.9v0.9h-0.9zM322.6 245.1h0.9v0.9h-0.9zM324.6 232.6h0.9v0.9h-0.9zM319.6 223.4h0.9v0.9h-0.9zM324.7 236.6h0.9v0.9h-0.9zM332.5 232.4h0.9v0.9h-0.9zM327.9 234.8h0.9v0.9h-0.9zM335.6 232.9h0.9v0.9h-0.9zM326.6 233.8h0.9v0.9h-0.9zM327.0 237.4h0.9v0.9h-0.9zM325.6 230.1h0.9v0.9h-0.9zM330.0 231.1h0.9v0.9h-0.9zM331.4 237.1h0.9v0.9h-0.9zM325.5 238.8h0.9v0.9h-0.9zM323.0 239.9h0.9v0.9h-0.9zM319.0 232.9h0.9v0.9h-0.9zM322.5 237.6h0.9v0.9h-0.9zM323.4 231.2h0.9v0.9h-0.9zM329.0 235.9h0.9v0.9h-0.9zM323.7 234.0h0.9v0.9h-0.9zM327.1 236.0h0.9v0.9h-0.9zM324.1 232.0h0.9v0.9h-0.9zM338.3 230.5h0.9v0.9h-0.9zM328.2 225.8h0.9v0.9h-0.9zM323.9 238.7h0.9v0.9h-0.9zM335.2 238.6h0.9v0.9h-0.9zM325.2 237.5h0.9v0.9h-0.9zM323.2 233.8h0.9v0.9h-0.9zM326.7 237.9h0.9v0.9h-0.9zM326.0 240.9h0.9v0.9h-0.9zM322.4 244.8h0.9v0.9h-0.9zM309.6 244.7h0.9v0.9h-0.9zM327.6 234.5h0.9v0.9h-0.9zM325.5 223.9h0.9v0.9h-0.9zM327.3 244.5h0.9v0.9h-0.9zM328.5 232.5h0.9v0.9h-0.9zM323.1 236.4h0.9v0.9h-0.9z" fill="#d8a0dc" fill-opacity="0.55"/>
<path d="M330.0 234.9h0.9v0.9h-0.9zM325.7 232.8h0.9v0.9h-0.9zM319.4 239.6h0.9v0.9h-0.9zM333.2 230.7h0.9v0.9h-0.9zM323.1 235.9h0.9v0.9h-0.9zM319.4 243.6h0.9v0.9h-0.9zM331.0 230.6h0.9v0.9h-0.9zM332.0 230.4h0.9v0.9h-0.9zM329.6 230.4h0.9v0.9h-0.9zM324.8 231.6h0.9v0.9h-0.9zM324.3 241.4h0.9v0.9h-0.9zM327.5 231.0h0.9v0.9h-0.9zM330.5 226.9h0.9v0.9h-0.9zM332.3 235.7h0.9v0.9h-0.9zM332.6 230.4h0.9v0.9h-0.9zM320.3 237.4h0.9v0.9h-0.9zM327.7 230.6h0.9v0.9h-0.9zM327.9 231.3h0.9v0.9h-0.9zM318.5 241.0h0.9v0.9h-0.9zM315.6 239.7h0.9v0.9h-0.9zM324.4 240.3h0.9v0.9h-0.9zM327.1 236.8h0.9v0.9h-0.9zM327.3 234.3h0.9v0.9h-0.9zM323.6 236.1h0.9v0.9h-0.9zM325.4 236.4h0.9v0.9h-0.9zM326.2 237.4h0.9v0.9h-0.9zM323.3 233.7h0.9v0.9h-0.9zM326.5 232.7h0.9v0.9h-0.9zM325.8 232.7h0.9v0.9h-0.9zM326.5 237.2h0.9v0.9h-0.9zM326.7 235.1h0.9v0.9h-0.9zM320.9 235.6h0.9v0.9h-0.9zM326.7 231.3h0.9v0.9h-0.9zM327.2 241.0h0.9v0.9h-0.9zM328.9 227.0h0.9v0.9h-0.9zM325.5 236.2h0.9v0.9h-0.9zM324.8 233.6h0.9v0.9h-0.9zM325.2 241.2h0.9v0.9h-0.9zM323.9 237.2h0.9v0.9h-0.9zM324.9 234.4h0.9v0.9h-0.9zM322.8 233.7h0.9v0.9h-0.9zM322.6 238.1h0.9v0.9h-0.9zM322.9 242.2h0.9v0.9h-0.9zM326.8 236.7h0.9v0.9h-0.9zM323.0 232.9h0.9v0.9h-0.9zM330.4 236.0h0.9v0.9h-0.9zM329.0 230.0h0.9v0.9h-0.9zM321.9 235.4h0.9v0.9h-0.9zM318.6 244.7h0.9v0.9h-0.9zM323.4 235.4h0.9v0.9h-0.9zM317.6 242.9h0.9v0.9h-0.9zM319.4 240.3h0.9v0.9h-0.9zM328.6 231.1h0.9v0.9h-0.9zM326.1 232.5h0.9v0.9h-0.9zM319.4 235.7h0.9v0.9h-0.9zM324.1 239.4h0.9v0.9h-0.9zM323.8 235.3h0.9v0.9h-0.9zM321.6 245.4h0.9v0.9h-0.9zM328.0 234.6h0.9v0.9h-0.9zM325.3 238.3h0.9v0.9h-0.9zM332.0 228.1h0.9v0.9h-0.9zM324.3 242.6h0.9v0.9h-0.9zM328.0 230.9h0.9v0.9h-0.9zM320.8 237.1h0.9v0.9h-0.9zM329.5 231.9h0.9v0.9h-0.9zM316.1 235.5h0.9v0.9h-0.9zM327.0 232.0h0.9v0.9h-0.9zM324.1 238.1h0.9v0.9h-0.9zM321.5 238.7h0.9v0.9h-0.9zM327.3 238.5h0.9v0.9h-0.9zM328.3 234.9h0.9v0.9h-0.9zM326.9 234.2h0.9v0.9h-0.9zM329.9 228.2h0.9v0.9h-0.9zM330.4 234.0h0.9v0.9h-0.9zM314.6 246.2h0.9v0.9h-0.9zM323.0 236.8h0.9v0.9h-0.9zM319.9 245.7h0.9v0.9h-0.9zM325.1 238.4h0.9v0.9h-0.9zM331.6 236.4h0.9v0.9h-0.9zM320.1 241.2h0.9v0.9h-0.9zM317.2 237.8h0.9v0.9h-0.9zM327.1 236.2h0.9v0.9h-0.9zM326.8 239.1h0.9v0.9h-0.9zM330.4 228.6h0.9v0.9h-0.9zM329.6 237.0h0.9v0.9h-0.9zM330.8 236.4h0.9v0.9h-0.9zM329.9 227.0h0.9v0.9h-0.9zM322.5 237.2h0.9v0.9h-0.9zM322.6 233.7h0.9v0.9h-0.9zM322.9 241.0h0.9v0.9h-0.9zM327.6 235.8h0.9v0.9h-0.9zM330.1 232.2h0.9v0.9h-0.9zM327.4 227.7h0.9v0.9h-0.9zM323.5 234.6h0.9v0.9h-0.9zM319.7 236.5h0.9v0.9h-0.9zM319.2 236.4h0.9v0.9h-0.9zM317.5 239.6h0.9v0.9h-0.9zM322.3 232.6h0.9v0.9h-0.9zM329.6 229.5h0.9v0.9h-0.9zM317.9 246.8h0.9v0.9h-0.9zM319.0 246.3h0.9v0.9h-0.9zM330.0 229.6h0.9v0.9h-0.9zM318.2 241.7h0.9v0.9h-0.9zM326.3 234.3h0.9v0.9h-0.9zM322.0 242.2h0.9v0.9h-0.9zM327.3 231.8h0.9v0.9h-0.9zM328.1 232.4h0.9v0.9h-0.9zM325.2 234.5h0.9v0.9h-0.9zM327.0 231.3h0.9v0.9h-0.9zM325.5 235.6h0.9v0.9h-0.9zM324.8 231.4h0.9v0.9h-0.9zM333.8 229.5h0.9v0.9h-0.9zM325.8 228.3h0.9v0.9h-0.9zM323.9 239.4h0.9v0.9h-0.9zM319.6 237.0h0.9v0.9h-0.9zM327.6 239.3h0.9v0.9h-0.9zM326.2 238.2h0.9v0.9h-0.9zM323.8 234.1h0.9v0.9h-0.9zM322.2 237.6h0.9v0.9h-0.9zM325.1 231.0h0.9v0.9h-0.9zM325.2 235.5h0.9v0.9h-0.9zM327.3 234.8h0.9v0.9h-0.9zM330.6 239.9h0.9v0.9h-0.9zM324.5 230.7h0.9v0.9h-0.9zM323.7 243.0h0.9v0.9h-0.9zM329.5 227.8h0.9v0.9h-0.9zM327.0 234.6h0.9v0.9h-0.9zM328.6 235.2h0.9v0.9h-0.9zM328.5 233.9h0.9v0.9h-0.9zM329.9 231.7h0.9v0.9h-0.9zM327.4 232.1h0.9v0.9h-0.9zM326.1 234.6h0.9v0.9h-0.9zM324.9 236.7h0.9v0.9h-0.9zM322.0 244.9h0.9v0.9h-0.9zM322.9 232.3h0.9v0.9h-0.9zM323.1 236.2h0.9v0.9h-0.9zM321.6 235.0h0.9v0.9h-0.9zM331.6 223.5h0.9v0.9h-0.9zM317.1 242.5h0.9v0.9h-0.9zM327.7 237.3h0.9v0.9h-0.9zM334.0 233.9h0.9v0.9h-0.9zM331.4 233.7h0.9v0.9h-0.9zM327.1 228.3h0.9v0.9h-0.9zM321.0 241.4h0.9v0.9h-0.9zM319.5 238.0h0.9v0.9h-0.9zM328.4 233.7h0.9v0.9h-0.9zM326.9 239.1h0.9v0.9h-0.9zM332.5 229.1h0.9v0.9h-0.9zM327.9 236.1h0.9v0.9h-0.9zM325.6 234.6h0.9v0.9h-0.9zM322.7 230.5h0.9v0.9h-0.9zM320.2 233.6h0.9v0.9h-0.9zM325.5 235.0h0.9v0.9h-0.9zM324.1 239.6h0.9v0.9h-0.9zM327.8 237.9h0.9v0.9h-0.9zM322.9 237.2h0.9v0.9h-0.9zM326.3 234.6h0.9v0.9h-0.9zM320.9 242.3h0.9v0.9h-0.9zM322.3 243.9h0.9v0.9h-0.9zM326.7 233.5h0.9v0.9h-0.9zM323.8 232.8h0.9v0.9h-0.9zM324.2 241.7h0.9v0.9h-0.9zM325.4 237.3h0.9v0.9h-0.9zM322.4 240.9h0.9v0.9h-0.9zM329.8 224.6h0.9v0.9h-0.9zM319.8 242.5h0.9v0.9h-0.9zM327.7 225.3h0.9v0.9h-0.9zM318.2 235.9h0.9v0.9h-0.9zM326.3 233.4h0.9v0.9h-0.9zM323.5 236.1h0.9v0.9h-0.9zM325.2 238.2h0.9v0.9h-0.9zM331.6 233.9h0.9v0.9h-0.9zM328.1 232.0h0.9v0.9h-0.9zM328.0 239.8h0.9v0.9h-0.9zM320.9 238.6h0.9v0.9h-0.9zM334.1 227.8h0.9v0.9h-0.9zM327.6 227.4h0.9v0.9h-0.9zM326.1 235.2h0.9v0.9h-0.9zM323.6 236.4h0.9v0.9h-0.9zM325.9 234.0h0.9v0.9h-0.9zM326.8 236.2h0.9v0.9h-0.9zM325.6 227.2h0.9v0.9h-0.9zM322.2 240.0h0.9v0.9h-0.9zM323.7 234.2h0.9v0.9h-0.9zM322.8 239.2h0.9v0.9h-0.9zM330.7 230.5h0.9v0.9h-0.9zM330.8 227.1h0.9v0.9h-0.9zM324.2 235.4h0.9v0.9h-0.9zM324.8 231.3h0.9v0.9h-0.9zM331.4 230.3h0.9v0.9h-0.9zM322.9 235.8h0.9v0.9h-0.9zM323.0 240.4h0.9v0.9h-0.9zM326.0 228.7h0.9v0.9h-0.9zM329.9 235.6h0.9v0.9h-0.9zM322.5 234.8h0.9v0.9h-0.9zM332.8 231.1h0.9v0.9h-0.9zM325.2 233.8h0.9v0.9h-0.9zM320.2 244.3h0.9v0.9h-0.9zM326.2 233.8h0.9v0.9h-0.9zM326.5 237.0h0.9v0.9h-0.9zM331.9 227.4h0.9v0.9h-0.9zM327.9 237.8h0.9v0.9h-0.9zM326.0 237.6h0.9v0.9h-0.9zM328.3 234.8h0.9v0.9h-0.9zM329.6 237.3h0.9v0.9h-0.9zM319.0 240.6h0.9v0.9h-0.9zM328.4 237.2h0.9v0.9h-0.9zM324.3 237.2h0.9v0.9h-0.9zM327.1 227.0h0.9v0.9h-0.9zM334.7 225.9h0.9v0.9h-0.9zM321.0 240.2h0.9v0.9h-0.9zM325.5 242.6h0.9v0.9h-0.9zM321.4 238.5h0.9v0.9h-0.9zM323.1 238.6h0.9v0.9h-0.9zM323.4 239.0h0.9v0.9h-0.9zM321.5 232.2h0.9v0.9h-0.9zM330.2 231.7h0.9v0.9h-0.9zM318.7 239.7h0.9v0.9h-0.9zM322.9 244.7h0.9v0.9h-0.9zM322.4 246.4h0.9v0.9h-0.9zM329.2 230.7h0.9v0.9h-0.9zM326.7 227.1h0.9v0.9h-0.9zM320.3 242.6h0.9v0.9h-0.9zM320.0 243.0h0.9v0.9h-0.9zM327.3 236.2h0.9v0.9h-0.9zM328.5 230.3h0.9v0.9h-0.9zM326.4 229.2h0.9v0.9h-0.9zM325.7 234.5h0.9v0.9h-0.9zM325.8 231.1h0.9v0.9h-0.9zM330.2 237.1h0.9v0.9h-0.9zM321.9 236.9h0.9v0.9h-0.9zM330.6 226.1h0.9v0.9h-0.9zM325.2 235.5h0.9v0.9h-0.9zM318.9 238.4h0.9v0.9h-0.9zM322.8 236.9h0.9v0.9h-0.9zM319.7 242.1h0.9v0.9h-0.9zM324.4 234.7h0.9v0.9h-0.9zM328.6 230.4h0.9v0.9h-0.9zM323.5 243.2h0.9v0.9h-0.9zM330.2 231.4h0.9v0.9h-0.9zM329.8 224.2h0.9v0.9h-0.9zM325.8 233.2h0.9v0.9h-0.9zM322.8 241.9h0.9v0.9h-0.9zM321.0 238.3h0.9v0.9h-0.9zM324.3 237.2h0.9v0.9h-0.9zM320.8 241.2h0.9v0.9h-0.9zM322.1 241.9h0.9v0.9h-0.9zM324.1 236.4h0.9v0.9h-0.9zM324.4 236.1h0.9v0.9h-0.9zM325.7 231.5h0.9v0.9h-0.9zM321.9 241.4h0.9v0.9h-0.9zM329.9 225.8h0.9v0.9h-0.9zM332.6 233.8h0.9v0.9h-0.9zM328.4 231.6h0.9v0.9h-0.9zM322.6 238.1h0.9v0.9h-0.9zM333.0 229.3h0.9v0.9h-0.9zM324.0 236.9h0.9v0.9h-0.9zM331.8 227.8h0.9v0.9h-0.9zM329.0 230.8h0.9v0.9h-0.9zM320.7 238.3h0.9v0.9h-0.9zM321.8 236.1h0.9v0.9h-0.9zM330.4 226.2h0.9v0.9h-0.9zM331.2 233.1h0.9v0.9h-0.9zM323.5 235.2h0.9v0.9h-0.9zM325.2 234.0h0.9v0.9h-0.9zM325.1 234.0h0.9v0.9h-0.9zM324.1 240.1h0.9v0.9h-0.9zM328.7 239.7h0.9v0.9h-0.9zM321.1 237.0h0.9v0.9h-0.9zM325.0 238.4h0.9v0.9h-0.9zM327.2 233.7h0.9v0.9h-0.9zM321.4 239.3h0.9v0.9h-0.9zM328.9 233.2h0.9v0.9h-0.9zM323.1 233.0h0.9v0.9h-0.9zM329.7 233.6h0.9v0.9h-0.9zM328.9 232.0h0.9v0.9h-0.9zM327.6 228.5h0.9v0.9h-0.9zM330.8 235.5h0.9v0.9h-0.9zM329.6 233.9h0.9v0.9h-0.9zM327.1 238.3h0.9v0.9h-0.9zM324.3 230.7h0.9v0.9h-0.9zM321.6 239.1h0.9v0.9h-0.9zM323.4 235.8h0.9v0.9h-0.9zM329.2 233.3h0.9v0.9h-0.9zM328.0 238.0h0.9v0.9h-0.9zM322.9 230.5h0.9v0.9h-0.9zM321.7 240.3h0.9v0.9h-0.9zM329.8 229.4h0.9v0.9h-0.9zM325.4 239.8h0.9v0.9h-0.9zM326.6 233.8h0.9v0.9h-0.9zM322.6 233.6h0.9v0.9h-0.9zM328.2 231.2h0.9v0.9h-0.9zM321.8 235.6h0.9v0.9h-0.9zM320.2 238.7h0.9v0.9h-0.9zM318.8 244.0h0.9v0.9h-0.9zM323.3 236.1h0.9v0.9h-0.9zM321.7 241.3h0.9v0.9h-0.9zM324.1 230.7h0.9v0.9h-0.9zM335.2 233.1h0.9v0.9h-0.9zM320.2 247.4h0.9v0.9h-0.9zM322.3 242.4h0.9v0.9h-0.9zM323.7 232.1h0.9v0.9h-0.9zM325.2 226.6h0.9v0.9h-0.9zM324.6 232.8h0.9v0.9h-0.9zM326.0 233.8h0.9v0.9h-0.9zM331.7 237.0h0.9v0.9h-0.9zM330.1 235.2h0.9v0.9h-0.9zM330.0 227.5h0.9v0.9h-0.9zM330.0 234.9h0.9v0.9h-0.9zM323.5 243.1h0.9v0.9h-0.9zM323.7 237.7h0.9v0.9h-0.9zM328.6 236.7h0.9v0.9h-0.9zM323.2 239.7h0.9v0.9h-0.9zM323.1 235.7h0.9v0.9h-0.9zM321.1 236.0h0.9v0.9h-0.9zM322.6 238.5h0.9v0.9h-0.9zM329.8 234.2h0.9v0.9h-0.9zM321.2 235.1h0.9v0.9h-0.9zM318.2 237.7h0.9v0.9h-0.9zM324.0 239.6h0.9v0.9h-0.9zM319.8 230.9h0.9v0.9h-0.9zM336.5 229.3h0.9v0.9h-0.9zM325.3 233.7h0.9v0.9h-0.9zM332.0 230.3h0.9v0.9h-0.9zM330.9 236.5h0.9v0.9h-0.9zM314.8 242.7h0.9v0.9h-0.9zM324.5 232.2h0.9v0.9h-0.9zM327.0 243.0h0.9v0.9h-0.9zM320.0 241.1h0.9v0.9h-0.9zM321.3 240.1h0.9v0.9h-0.9zM332.1 228.1h0.9v0.9h-0.9zM322.0 244.3h0.9v0.9h-0.9zM325.9 240.5h0.9v0.9h-0.9zM329.6 230.7h0.9v0.9h-0.9zM327.0 232.1h0.9v0.9h-0.9zM319.3 243.1h0.9v0.9h-0.9zM325.6 236.6h0.9v0.9h-0.9zM326.2 240.0h0.9v0.9h-0.9zM324.9 236.7h0.9v0.9h-0.9zM331.7 235.3h0.9v0.9h-0.9zM321.5 236.7h0.9v0.9h-0.9zM325.3 237.9h0.9v0.9h-0.9zM334.1 232.0h0.9v0.9h-0.9zM321.5 245.9h0.9v0.9h-0.9zM324.7 237.8h0.9v0.9h-0.9zM325.1 232.1h0.9v0.9h-0.9zM319.5 239.9h0.9v0.9h-0.9zM322.8 238.1h0.9v0.9h-0.9zM321.4 241.9h0.9v0.9h-0.9zM325.4 234.5h0.9v0.9h-0.9zM320.1 236.0h0.9v0.9h-0.9zM326.6 230.9h0.9v0.9h-0.9zM330.0 231.9h0.9v0.9h-0.9zM327.2 236.8h0.9v0.9h-0.9zM321.1 235.0h0.9v0.9h-0.9zM325.5 233.8h0.9v0.9h-0.9zM322.1 232.6h0.9v0.9h-0.9zM319.9 240.0h0.9v0.9h-0.9zM336.4 236.7h0.9v0.9h-0.9zM326.2 234.7h0.9v0.9h-0.9zM327.4 231.5h0.9v0.9h-0.9zM319.3 240.7h0.9v0.9h-0.9zM325.9 229.7h0.9v0.9h-0.9zM328.9 223.2h0.9v0.9h-0.9zM327.4 232.8h0.9v0.9h-0.9zM319.6 241.6h0.9v0.9h-0.9zM328.5 237.9h0.9v0.9h-0.9zM321.7 233.2h0.9v0.9h-0.9zM327.0 235.4h0.9v0.9h-0.9zM327.3 238.9h0.9v0.9h-0.9zM323.0 230.2h0.9v0.9h-0.9zM325.0 238.7h0.9v0.9h-0.9zM322.8 231.9h0.9v0.9h-0.9zM324.0 239.5h0.9v0.9h-0.9zM328.7 237.6h0.9v0.9h-0.9zM328.8 231.2h0.9v0.9h-0.9zM324.2 238.3h0.9v0.9h-0.9zM326.2 231.5h0.9v0.9h-0.9zM322.8 240.0h0.9v0.9h-0.9zM326.3 239.1h0.9v0.9h-0.9zM324.1 236.4h0.9v0.9h-0.9zM329.4 229.9h0.9v0.9h-0.9zM323.4 239.6h0.9v0.9h-0.9zM331.3 231.6h0.9v0.9h-0.9zM316.8 239.4h0.9v0.9h-0.9zM324.9 236.4h0.9v0.9h-0.9zM327.1 230.4h0.9v0.9h-0.9zM328.8 233.4h0.9v0.9h-0.9zM323.9 241.8h0.9v0.9h-0.9zM321.6 241.6h0.9v0.9h-0.9zM331.1 233.9h0.9v0.9h-0.9zM318.8 239.6h0.9v0.9h-0.9zM326.5 232.4h0.9v0.9h-0.9zM321.4 236.3h0.9v0.9h-0.9zM325.4 235.8h0.9v0.9h-0.9zM333.7 225.5h0.9v0.9h-0.9zM330.3 228.4h0.9v0.9h-0.9zM325.7 229.9h0.9v0.9h-0.9zM320.3 241.6h0.9v0.9h-0.9zM325.5 233.5h0.9v0.9h-0.9zM326.7 236.4h0.9v0.9h-0.9zM324.4 235.6h0.9v0.9h-0.9zM332.4 231.6h0.9v0.9h-0.9zM319.7 243.6h0.9v0.9h-0.9zM322.6 231.2h0.9v0.9h-0.9zM325.4 234.8h0.9v0.9h-0.9zM319.7 236.6h0.9v0.9h-0.9zM333.4 229.6h0.9v0.9h-0.9zM323.8 243.6h0.9v0.9h-0.9zM325.3 235.5h0.9v0.9h-0.9zM326.5 236.0h0.9v0.9h-0.9zM314.6 243.0h0.9v0.9h-0.9zM315.6 238.3h0.9v0.9h-0.9zM320.7 239.0h0.9v0.9h-0.9zM327.5 231.7h0.9v0.9h-0.9zM325.5 228.9h0.9v0.9h-0.9zM327.6 233.2h0.9v0.9h-0.9zM326.8 235.1h0.9v0.9h-0.9zM318.9 246.5h0.9v0.9h-0.9zM329.3 237.2h0.9v0.9h-0.9zM325.2 239.3h0.9v0.9h-0.9zM328.7 229.8h0.9v0.9h-0.9zM330.3 229.8h0.9v0.9h-0.9zM334.4 226.7h0.9v0.9h-0.9zM325.6 230.8h0.9v0.9h-0.9zM330.9 234.2h0.9v0.9h-0.9zM323.5 241.7h0.9v0.9h-0.9zM325.1 234.9h0.9v0.9h-0.9zM319.6 240.1h0.9v0.9h-0.9zM336.3 237.9h0.9v0.9h-0.9zM322.8 242.3h0.9v0.9h-0.9zM326.5 238.2h0.9v0.9h-0.9zM326.1 242.3h0.9v0.9h-0.9zM325.7 239.4h0.9v0.9h-0.9zM327.3 234.0h0.9v0.9h-0.9zM324.7 239.3h0.9v0.9h-0.9zM324.2 233.2h0.9v0.9h-0.9zM323.2 241.3h0.9v0.9h-0.9zM327.0 226.9h0.9v0.9h-0.9zM323.9 239.2h0.9v0.9h-0.9zM330.0 232.1h0.9v0.9h-0.9zM329.6 223.6h0.9v0.9h-0.9zM320.6 249.7h0.9v0.9h-0.9zM319.4 238.2h0.9v0.9h-0.9zM326.7 238.3h0.9v0.9h-0.9zM328.3 229.6h0.9v0.9h-0.9zM324.2 238.3h0.9v0.9h-0.9zM325.3 232.9h0.9v0.9h-0.9zM327.9 243.0h0.9v0.9h-0.9zM329.4 234.9h0.9v0.9h-0.9zM324.7 244.1h0.9v0.9h-0.9zM329.9 233.3h0.9v0.9h-0.9zM316.1 250.2h0.9v0.9h-0.9zM318.9 244.4h0.9v0.9h-0.9zM331.2 227.2h0.9v0.9h-0.9zM327.2 235.9h0.9v0.9h-0.9zM322.4 240.0h0.9v0.9h-0.9zM332.8 225.6h0.9v0.9h-0.9zM326.2 228.7h0.9v0.9h-0.9zM328.7 230.2h0.9v0.9h-0.9zM325.1 238.6h0.9v0.9h-0.9zM326.5 232.2h0.9v0.9h-0.9zM327.8 234.0h0.9v0.9h-0.9zM319.1 242.9h0.9v0.9h-0.9zM325.3 231.4h0.9v0.9h-0.9zM322.8 235.0h0.9v0.9h-0.9zM328.3 228.7h0.9v0.9h-0.9zM329.3 229.4h0.9v0.9h-0.9zM322.5 238.2h0.9v0.9h-0.9zM325.5 240.3h0.9v0.9h-0.9zM323.7 233.1h0.9v0.9h-0.9zM323.4 229.4h0.9v0.9h-0.9zM325.3 238.7h0.9v0.9h-0.9zM323.9 235.5h0.9v0.9h-0.9zM327.2 232.8h0.9v0.9h-0.9zM332.1 238.0h0.9v0.9h-0.9zM332.5 232.9h0.9v0.9h-0.9zM327.4 235.6h0.9v0.9h-0.9zM324.1 241.3h0.9v0.9h-0.9zM319.3 243.8h0.9v0.9h-0.9zM330.2 233.7h0.9v0.9h-0.9zM322.8 236.2h0.9v0.9h-0.9zM322.6 236.1h0.9v0.9h-0.9zM323.3 236.3h0.9v0.9h-0.9zM323.0 245.4h0.9v0.9h-0.9zM327.1 240.1h0.9v0.9h-0.9zM314.8 246.4h0.9v0.9h-0.9zM326.3 239.5h0.9v0.9h-0.9zM321.8 239.5h0.9v0.9h-0.9zM334.1 229.3h0.9v0.9h-0.9zM326.2 233.2h0.9v0.9h-0.9zM326.5 238.3h0.9v0.9h-0.9zM325.6 234.8h0.9v0.9h-0.9zM327.3 232.0h0.9v0.9h-0.9zM322.6 239.1h0.9v0.9h-0.9zM324.8 237.1h0.9v0.9h-0.9zM322.8 236.4h0.9v0.9h-0.9zM331.3 222.3h0.9v0.9h-0.9zM329.1 238.2h0.9v0.9h-0.9zM317.5 243.9h0.9v0.9h-0.9zM324.4 229.2h0.9v0.9h-0.9zM329.8 220.4h0.9v0.9h-0.9zM316.0 235.4h0.9v0.9h-0.9zM336.5 219.1h0.9v0.9h-0.9zM327.9 238.3h0.9v0.9h-0.9zM325.5 228.6h0.9v0.9h-0.9zM322.6 237.8h0.9v0.9h-0.9zM320.5 233.9h0.9v0.9h-0.9zM323.2 243.1h0.9v0.9h-0.9zM322.3 241.1h0.9v0.9h-0.9zM318.3 246.0h0.9v0.9h-0.9zM332.2 232.9h0.9v0.9h-0.9zM324.6 243.7h0.9v0.9h-0.9zM328.8 235.8h0.9v0.9h-0.9zM325.3 233.3h0.9v0.9h-0.9zM320.2 236.5h0.9v0.9h-0.9zM323.3 233.8h0.9v0.9h-0.9zM321.3 233.3h0.9v0.9h-0.9zM327.3 241.0h0.9v0.9h-0.9zM325.1 235.2h0.9v0.9h-0.9zM325.7 235.8h0.9v0.9h-0.9zM322.0 240.7h0.9v0.9h-0.9zM324.9 245.0h0.9v0.9h-0.9zM321.1 238.7h0.9v0.9h-0.9zM328.2 237.2h0.9v0.9h-0.9zM330.9 230.1h0.9v0.9h-0.9zM330.3 228.9h0.9v0.9h-0.9zM322.4 231.2h0.9v0.9h-0.9zM330.6 233.0h0.9v0.9h-0.9zM324.2 234.0h0.9v0.9h-0.9zM328.3 230.0h0.9v0.9h-0.9zM326.2 235.6h0.9v0.9h-0.9zM326.9 234.2h0.9v0.9h-0.9zM326.6 239.0h0.9v0.9h-0.9zM323.9 234.7h0.9v0.9h-0.9zM332.5 227.5h0.9v0.9h-0.9zM321.6 241.7h0.9v0.9h-0.9zM325.4 235.8h0.9v0.9h-0.9zM324.6 239.6h0.9v0.9h-0.9zM328.2 231.0h0.9v0.9h-0.9zM334.3 229.6h0.9v0.9h-0.9zM322.7 236.0h0.9v0.9h-0.9zM312.3 246.0h0.9v0.9h-0.9zM327.4 233.0h0.9v0.9h-0.9zM330.0 235.0h0.9v0.9h-0.9zM318.1 242.6h0.9v0.9h-0.9zM323.1 235.9h0.9v0.9h-0.9zM324.3 235.5h0.9v0.9h-0.9zM317.3 246.6h0.9v0.9h-0.9zM327.4 232.5h0.9v0.9h-0.9zM327.5 234.3h0.9v0.9h-0.9zM322.6 231.9h0.9v0.9h-0.9zM324.6 243.1h0.9v0.9h-0.9zM323.9 240.0h0.9v0.9h-0.9zM321.2 237.3h0.9v0.9h-0.9zM329.9 235.9h0.9v0.9h-0.9zM322.7 241.0h0.9v0.9h-0.9zM333.6 231.6h0.9v0.9h-0.9zM324.2 232.2h0.9v0.9h-0.9zM320.9 248.5h0.9v0.9h-0.9zM331.5 228.3h0.9v0.9h-0.9zM321.5 231.7h0.9v0.9h-0.9zM324.9 239.6h0.9v0.9h-0.9zM325.0 234.9h0.9v0.9h-0.9zM316.6 242.5h0.9v0.9h-0.9zM325.5 234.6h0.9v0.9h-0.9zM312.3 243.8h0.9v0.9h-0.9zM322.8 241.5h0.9v0.9h-0.9zM329.7 229.3h0.9v0.9h-0.9zM329.3 229.7h0.9v0.9h-0.9zM327.0 239.8h0.9v0.9h-0.9zM321.8 240.3h0.9v0.9h-0.9zM327.3 230.5h0.9v0.9h-0.9zM323.1 234.5h0.9v0.9h-0.9zM325.9 234.8h0.9v0.9h-0.9zM329.7 234.8h0.9v0.9h-0.9zM320.1 239.8h0.9v0.9h-0.9zM326.0 230.5h0.9v0.9h-0.9zM319.5 247.0h0.9v0.9h-0.9zM330.7 229.3h0.9v0.9h-0.9zM319.5 243.0h0.9v0.9h-0.9zM327.3 242.2h0.9v0.9h-0.9zM320.3 236.9h0.9v0.9h-0.9zM328.3 232.9h0.9v0.9h-0.9zM324.2 229.5h0.9v0.9h-0.9zM325.9 233.7h0.9v0.9h-0.9zM328.4 234.4h0.9v0.9h-0.9zM329.3 235.6h0.9v0.9h-0.9zM322.3 234.1h0.9v0.9h-0.9zM320.0 246.0h0.9v0.9h-0.9zM318.5 247.7h0.9v0.9h-0.9zM316.6 246.2h0.9v0.9h-0.9zM330.2 240.2h0.9v0.9h-0.9zM324.4 236.9h0.9v0.9h-0.9zM322.9 235.1h0.9v0.9h-0.9zM326.9 235.6h0.9v0.9h-0.9zM320.5 233.9h0.9v0.9h-0.9zM324.9 243.0h0.9v0.9h-0.9zM321.8 244.4h0.9v0.9h-0.9zM317.5 243.9h0.9v0.9h-0.9zM330.9 231.4h0.9v0.9h-0.9zM329.6 232.6h0.9v0.9h-0.9zM324.3 245.3h0.9v0.9h-0.9zM322.9 236.1h0.9v0.9h-0.9zM324.1 231.7h0.9v0.9h-0.9zM326.8 225.2h0.9v0.9h-0.9zM322.4 238.2h0.9v0.9h-0.9zM322.6 232.5h0.9v0.9h-0.9zM329.1 230.3h0.9v0.9h-0.9zM319.7 244.5h0.9v0.9h-0.9zM321.6 238.5h0.9v0.9h-0.9zM323.1 234.5h0.9v0.9h-0.9zM325.1 241.2h0.9v0.9h-0.9zM332.5 225.9h0.9v0.9h-0.9zM328.8 232.3h0.9v0.9h-0.9zM327.9 236.6h0.9v0.9h-0.9zM319.0 238.2h0.9v0.9h-0.9zM326.4 230.4h0.9v0.9h-0.9zM332.7 237.2h0.9v0.9h-0.9zM323.0 238.0h0.9v0.9h-0.9zM321.4 236.2h0.9v0.9h-0.9zM319.3 242.2h0.9v0.9h-0.9zM323.7 235.3h0.9v0.9h-0.9zM325.8 229.9h0.9v0.9h-0.9zM328.0 230.7h0.9v0.9h-0.9zM327.3 233.2h0.9v0.9h-0.9zM328.2 232.1h0.9v0.9h-0.9zM324.2 239.5h0.9v0.9h-0.9zM319.9 235.2h0.9v0.9h-0.9zM326.5 227.9h0.9v0.9h-0.9zM328.5 235.2h0.9v0.9h-0.9zM321.4 238.8h0.9v0.9h-0.9zM329.6 235.7h0.9v0.9h-0.9zM328.8 232.6h0.9v0.9h-0.9zM324.8 230.4h0.9v0.9h-0.9zM326.7 236.3h0.9v0.9h-0.9zM321.2 236.6h0.9v0.9h-0.9zM327.2 234.5h0.9v0.9h-0.9zM333.9 230.2h0.9v0.9h-0.9zM330.1 238.8h0.9v0.9h-0.9zM322.6 238.9h0.9v0.9h-0.9zM327.9 235.5h0.9v0.9h-0.9zM321.3 242.1h0.9v0.9h-0.9zM327.7 236.2h0.9v0.9h-0.9zM318.8 233.1h0.9v0.9h-0.9zM327.8 230.9h0.9v0.9h-0.9zM326.2 236.0h0.9v0.9h-0.9zM330.0 231.9h0.9v0.9h-0.9zM332.0 224.2h0.9v0.9h-0.9zM326.1 238.3h0.9v0.9h-0.9zM324.4 241.6h0.9v0.9h-0.9zM327.0 234.0h0.9v0.9h-0.9zM324.4 236.0h0.9v0.9h-0.9zM324.9 234.7h0.9v0.9h-0.9zM323.3 238.9h0.9v0.9h-0.9zM329.7 235.4h0.9v0.9h-0.9zM328.5 238.1h0.9v0.9h-0.9zM316.3 245.1h0.9v0.9h-0.9zM322.4 235.5h0.9v0.9h-0.9zM324.7 233.1h0.9v0.9h-0.9z" fill="#ac48b0" fill-opacity="0.55"/>
<path d="M329.1 235.5h0.9v0.9h-0.9zM325.2 236.6h0.9v0.9h-0.9zM321.8 233.4h0.9v0.9h-0.9zM325.0 235.0h0.9v0.9h-0.9zM323.7 234.5h0.9v0.9h-0.9zM321.9 235.8h0.9v0.9h-0.9zM320.5 239.6h0.9v0.9h-0.9zM321.8 238.3h0.9v0.9h-0.9zM324.5 236.5h0.9v0.9h-0.9zM323.9 234.6h0.9v0.9h-0.9zM320.3 235.8h0.9v0.9h-0.9zM322.2 237.6h0.9v0.9h-0.9zM329.1 233.4h0.9v0.9h-0.9zM320.8 236.7h0.9v0.9h-0.9zM325.7 236.9h0.9v0.9h-0.9zM324.0 238.5h0.9v0.9h-0.9zM321.2 239.2h0.9v0.9h-0.9zM320.6 242.3h0.9v0.9h-0.9zM321.5 237.7h0.9v0.9h-0.9zM321.3 239.1h0.9v0.9h-0.9zM324.8 232.8h0.9v0.9h-0.9zM321.8 241.2h0.9v0.9h-0.9zM325.1 239.9h0.9v0.9h-0.9zM324.8 233.9h0.9v0.9h-0.9zM325.7 238.7h0.9v0.9h-0.9zM322.1 232.6h0.9v0.9h-0.9zM324.9 233.0h0.9v0.9h-0.9zM318.2 241.1h0.9v0.9h-0.9zM325.7 240.3h0.9v0.9h-0.9zM320.7 239.3h0.9v0.9h-0.9zM328.8 233.4h0.9v0.9h-0.9zM320.6 234.7h0.9v0.9h-0.9zM325.6 235.4h0.9v0.9h-0.9zM329.4 232.0h0.9v0.9h-0.9zM323.1 238.0h0.9v0.9h-0.9zM320.1 233.3h0.9v0.9h-0.9zM325.4 235.7h0.9v0.9h-0.9zM324.7 238.7h0.9v0.9h-0.9zM329.4 234.4h0.9v0.9h-0.9zM326.9 234.7h0.9v0.9h-0.9zM324.1 231.5h0.9v0.9h-0.9zM323.9 236.5h0.9v0.9h-0.9zM324.6 239.1h0.9v0.9h-0.9zM321.9 237.0h0.9v0.9h-0.9zM324.0 238.8h0.9v0.9h-0.9zM319.1 241.7h0.9v0.9h-0.9zM325.2 235.8h0.9v0.9h-0.9zM327.4 235.1h0.9v0.9h-0.9zM323.0 236.0h0.9v0.9h-0.9zM327.3 242.0h0.9v0.9h-0.9zM324.4 236.9h0.9v0.9h-0.9zM325.2 236.6h0.9v0.9h-0.9zM323.8 234.9h0.9v0.9h-0.9zM328.9 231.1h0.9v0.9h-0.9zM321.5 239.3h0.9v0.9h-0.9zM322.8 233.9h0.9v0.9h-0.9zM323.5 232.7h0.9v0.9h-0.9zM324.8 237.0h0.9v0.9h-0.9zM323.4 237.5h0.9v0.9h-0.9zM317.3 237.0h0.9v0.9h-0.9zM319.2 236.2h0.9v0.9h-0.9zM325.5 234.2h0.9v0.9h-0.9zM327.8 232.0h0.9v0.9h-0.9zM323.3 239.8h0.9v0.9h-0.9zM323.4 233.8h0.9v0.9h-0.9zM326.4 235.9h0.9v0.9h-0.9zM326.2 233.2h0.9v0.9h-0.9zM323.9 235.4h0.9v0.9h-0.9zM325.0 235.3h0.9v0.9h-0.9zM328.0 235.2h0.9v0.9h-0.9zM321.9 241.4h0.9v0.9h-0.9zM325.6 237.8h0.9v0.9h-0.9zM318.4 241.8h0.9v0.9h-0.9zM318.5 243.0h0.9v0.9h-0.9zM320.2 238.1h0.9v0.9h-0.9zM319.2 241.2h0.9v0.9h-0.9zM324.8 234.7h0.9v0.9h-0.9zM325.9 233.1h0.9v0.9h-0.9zM324.4 238.8h0.9v0.9h-0.9zM324.4 237.9h0.9v0.9h-0.9zM324.7 238.6h0.9v0.9h-0.9zM323.6 237.9h0.9v0.9h-0.9zM326.1 237.8h0.9v0.9h-0.9zM325.2 235.9h0.9v0.9h-0.9zM324.4 239.6h0.9v0.9h-0.9zM322.8 240.1h0.9v0.9h-0.9zM323.9 239.5h0.9v0.9h-0.9zM326.1 234.2h0.9v0.9h-0.9zM321.1 236.7h0.9v0.9h-0.9zM325.6 230.4h0.9v0.9h-0.9zM326.5 240.1h0.9v0.9h-0.9zM328.2 232.9h0.9v0.9h-0.9zM321.7 241.3h0.9v0.9h-0.9zM322.0 238.9h0.9v0.9h-0.9zM324.6 234.8h0.9v0.9h-0.9zM329.8 238.9h0.9v0.9h-0.9zM321.9 236.0h0.9v0.9h-0.9zM329.3 230.2h0.9v0.9h-0.9zM324.2 236.6h0.9v0.9h-0.9zM323.1 234.5h0.9v0.9h-0.9zM320.6 237.2h0.9v0.9h-0.9zM327.3 230.6h0.9v0.9h-0.9zM325.8 233.7h0.9v0.9h-0.9zM324.4 234.9h0.9v0.9h-0.9zM321.1 243.2h0.9v0.9h-0.9zM323.2 234.2h0.9v0.9h-0.9zM323.5 238.9h0.9v0.9h-0.9zM327.4 237.4h0.9v0.9h-0.9zM327.8 235.0h0.9v0.9h-0.9zM320.4 237.9h0.9v0.9h-0.9zM320.0 232.5h0.9v0.9h-0.9zM327.7 235.1h0.9v0.9h-0.9zM325.3 237.0h0.9v0.9h-0.9zM322.3 237.2h0.9v0.9h-0.9zM323.4 241.9h0.9v0.9h-0.9zM321.7 238.6h0.9v0.9h-0.9zM321.0 241.1h0.9v0.9h-0.9zM325.0 232.4h0.9v0.9h-0.9zM324.9 237.0h0.9v0.9h-0.9zM320.3 240.3h0.9v0.9h-0.9zM323.3 236.3h0.9v0.9h-0.9zM322.5 242.4h0.9v0.9h-0.9zM316.0 247.8h0.9v0.9h-0.9zM324.9 231.1h0.9v0.9h-0.9zM328.2 234.0h0.9v0.9h-0.9zM321.6 242.7h0.9v0.9h-0.9zM320.9 238.2h0.9v0.9h-0.9zM324.0 235.7h0.9v0.9h-0.9zM323.2 238.2h0.9v0.9h-0.9zM321.5 239.4h0.9v0.9h-0.9zM323.0 238.7h0.9v0.9h-0.9zM324.5 238.5h0.9v0.9h-0.9zM321.9 238.1h0.9v0.9h-0.9zM327.9 238.8h0.9v0.9h-0.9zM322.4 236.8h0.9v0.9h-0.9zM321.3 238.7h0.9v0.9h-0.9zM327.2 239.3h0.9v0.9h-0.9zM323.5 245.2h0.9v0.9h-0.9zM327.8 232.3h0.9v0.9h-0.9zM319.3 242.3h0.9v0.9h-0.9zM322.2 235.8h0.9v0.9h-0.9zM326.7 237.2h0.9v0.9h-0.9zM325.4 235.8h0.9v0.9h-0.9zM323.4 235.0h0.9v0.9h-0.9zM327.9 233.3h0.9v0.9h-0.9zM323.3 242.2h0.9v0.9h-0.9zM325.0 238.0h0.9v0.9h-0.9zM327.9 239.2h0.9v0.9h-0.9zM324.6 239.9h0.9v0.9h-0.9zM323.2 239.4h0.9v0.9h-0.9zM327.3 232.7h0.9v0.9h-0.9zM323.1 239.9h0.9v0.9h-0.9zM324.7 240.0h0.9v0.9h-0.9zM324.7 238.9h0.9v0.9h-0.9zM325.2 238.9h0.9v0.9h-0.9zM324.8 236.7h0.9v0.9h-0.9zM324.7 238.5h0.9v0.9h-0.9zM326.9 237.2h0.9v0.9h-0.9zM324.2 236.3h0.9v0.9h-0.9zM323.3 233.8h0.9v0.9h-0.9zM330.3 234.6h0.9v0.9h-0.9zM322.8 240.4h0.9v0.9h-0.9zM327.6 231.1h0.9v0.9h-0.9zM323.3 238.7h0.9v0.9h-0.9zM325.4 234.5h0.9v0.9h-0.9zM321.8 234.3h0.9v0.9h-0.9zM323.0 237.6h0.9v0.9h-0.9zM316.8 241.5h0.9v0.9h-0.9zM328.5 232.0h0.9v0.9h-0.9zM322.0 239.2h0.9v0.9h-0.9zM323.8 240.9h0.9v0.9h-0.9zM326.6 233.4h0.9v0.9h-0.9zM324.8 237.1h0.9v0.9h-0.9zM328.5 230.4h0.9v0.9h-0.9zM327.8 231.0h0.9v0.9h-0.9zM323.7 232.9h0.9v0.9h-0.9zM326.2 237.3h0.9v0.9h-0.9zM326.3 234.7h0.9v0.9h-0.9zM319.8 240.4h0.9v0.9h-0.9zM324.8 236.6h0.9v0.9h-0.9zM323.8 235.9h0.9v0.9h-0.9zM321.7 237.5h0.9v0.9h-0.9zM325.1 236.4h0.9v0.9h-0.9zM322.2 243.1h0.9v0.9h-0.9zM325.9 233.7h0.9v0.9h-0.9zM325.1 231.0h0.9v0.9h-0.9zM319.8 240.3h0.9v0.9h-0.9zM327.2 238.7h0.9v0.9h-0.9zM326.7 231.0h0.9v0.9h-0.9zM327.0 237.1h0.9v0.9h-0.9zM321.1 239.9h0.9v0.9h-0.9zM322.7 241.0h0.9v0.9h-0.9zM326.1 234.1h0.9v0.9h-0.9zM326.3 229.1h0.9v0.9h-0.9zM320.6 239.9h0.9v0.9h-0.9zM327.4 239.4h0.9v0.9h-0.9zM321.9 239.3h0.9v0.9h-0.9zM324.2 238.5h0.9v0.9h-0.9zM324.3 235.5h0.9v0.9h-0.9zM323.7 236.9h0.9v0.9h-0.9zM322.8 239.5h0.9v0.9h-0.9zM330.1 230.8h0.9v0.9h-0.9zM327.1 240.2h0.9v0.9h-0.9zM323.6 237.5h0.9v0.9h-0.9zM326.6 233.2h0.9v0.9h-0.9zM323.1 236.1h0.9v0.9h-0.9zM321.5 236.0h0.9v0.9h-0.9zM324.0 231.9h0.9v0.9h-0.9zM322.5 241.1h0.9v0.9h-0.9zM323.0 232.2h0.9v0.9h-0.9zM328.9 235.4h0.9v0.9h-0.9zM327.1 235.9h0.9v0.9h-0.9zM323.1 237.1h0.9v0.9h-0.9zM322.2 235.5h0.9v0.9h-0.9zM319.7 242.5h0.9v0.9h-0.9zM323.8 237.4h0.9v0.9h-0.9zM326.5 237.4h0.9v0.9h-0.9zM325.1 233.3h0.9v0.9h-0.9zM323.8 236.0h0.9v0.9h-0.9zM323.0 238.1h0.9v0.9h-0.9zM321.5 239.3h0.9v0.9h-0.9zM323.0 236.3h0.9v0.9h-0.9zM321.7 234.4h0.9v0.9h-0.9zM324.6 231.1h0.9v0.9h-0.9zM323.0 236.1h0.9v0.9h-0.9zM322.4 238.3h0.9v0.9h-0.9zM325.3 238.5h0.9v0.9h-0.9zM326.4 241.3h0.9v0.9h-0.9zM326.1 239.8h0.9v0.9h-0.9zM319.1 244.5h0.9v0.9h-0.9zM322.9 244.3h0.9v0.9h-0.9zM320.8 240.6h0.9v0.9h-0.9zM324.4 234.8h0.9v0.9h-0.9zM327.5 240.1h0.9v0.9h-0.9zM322.8 235.2h0.9v0.9h-0.9zM326.3 232.7h0.9v0.9h-0.9zM321.0 239.9h0.9v0.9h-0.9zM329.2 235.1h0.9v0.9h-0.9zM324.1 235.0h0.9v0.9h-0.9zM323.5 240.2h0.9v0.9h-0.9zM327.2 231.7h0.9v0.9h-0.9zM318.5 240.0h0.9v0.9h-0.9zM321.6 240.8h0.9v0.9h-0.9zM323.8 237.8h0.9v0.9h-0.9zM323.3 234.2h0.9v0.9h-0.9zM322.2 236.5h0.9v0.9h-0.9zM317.4 242.8h0.9v0.9h-0.9zM324.8 239.1h0.9v0.9h-0.9zM324.6 237.8h0.9v0.9h-0.9zM330.9 229.2h0.9v0.9h-0.9zM328.3 233.2h0.9v0.9h-0.9zM323.6 236.0h0.9v0.9h-0.9zM322.0 241.0h0.9v0.9h-0.9zM324.0 235.1h0.9v0.9h-0.9zM319.0 239.0h0.9v0.9h-0.9zM323.5 235.4h0.9v0.9h-0.9zM325.3 236.0h0.9v0.9h-0.9zM323.2 238.3h0.9v0.9h-0.9zM326.3 237.5h0.9v0.9h-0.9zM320.6 235.9h0.9v0.9h-0.9zM322.3 238.5h0.9v0.9h-0.9zM328.5 232.6h0.9v0.9h-0.9zM324.0 233.9h0.9v0.9h-0.9zM323.7 238.2h0.9v0.9h-0.9zM321.5 238.9h0.9v0.9h-0.9zM322.7 235.0h0.9v0.9h-0.9zM327.2 236.5h0.9v0.9h-0.9zM324.0 232.5h0.9v0.9h-0.9zM329.3 233.5h0.9v0.9h-0.9zM324.6 235.0h0.9v0.9h-0.9zM319.8 239.3h0.9v0.9h-0.9zM327.8 229.4h0.9v0.9h-0.9zM325.8 232.4h0.9v0.9h-0.9zM324.8 233.3h0.9v0.9h-0.9zM327.8 233.0h0.9v0.9h-0.9zM317.4 239.4h0.9v0.9h-0.9zM325.0 239.7h0.9v0.9h-0.9zM324.1 239.6h0.9v0.9h-0.9zM329.2 234.9h0.9v0.9h-0.9zM319.5 239.5h0.9v0.9h-0.9zM319.6 235.1h0.9v0.9h-0.9zM326.9 231.4h0.9v0.9h-0.9zM325.4 234.7h0.9v0.9h-0.9zM323.6 238.6h0.9v0.9h-0.9zM328.0 230.4h0.9v0.9h-0.9zM320.6 241.1h0.9v0.9h-0.9zM325.4 235.7h0.9v0.9h-0.9zM321.1 235.8h0.9v0.9h-0.9zM328.2 237.6h0.9v0.9h-0.9zM321.6 236.4h0.9v0.9h-0.9zM322.4 239.9h0.9v0.9h-0.9zM326.3 237.6h0.9v0.9h-0.9zM319.5 240.2h0.9v0.9h-0.9zM325.4 235.3h0.9v0.9h-0.9zM325.8 240.0h0.9v0.9h-0.9zM325.9 233.7h0.9v0.9h-0.9zM324.6 239.7h0.9v0.9h-0.9zM322.8 239.5h0.9v0.9h-0.9zM325.4 236.0h0.9v0.9h-0.9zM328.3 233.9h0.9v0.9h-0.9zM318.5 243.3h0.9v0.9h-0.9zM324.0 236.3h0.9v0.9h-0.9zM327.1 236.2h0.9v0.9h-0.9zM320.9 241.8h0.9v0.9h-0.9zM322.6 240.4h0.9v0.9h-0.9zM323.8 233.5h0.9v0.9h-0.9zM322.0 239.6h0.9v0.9h-0.9zM324.3 240.5h0.9v0.9h-0.9zM329.8 232.6h0.9v0.9h-0.9zM322.2 240.4h0.9v0.9h-0.9zM321.1 239.1h0.9v0.9h-0.9zM317.3 243.6h0.9v0.9h-0.9zM322.0 241.0h0.9v0.9h-0.9zM323.2 242.6h0.9v0.9h-0.9zM328.4 231.6h0.9v0.9h-0.9zM329.2 234.7h0.9v0.9h-0.9zM320.4 240.6h0.9v0.9h-0.9zM330.9 232.2h0.9v0.9h-0.9zM324.4 233.3h0.9v0.9h-0.9zM323.9 237.8h0.9v0.9h-0.9zM324.4 233.1h0.9v0.9h-0.9zM326.0 236.6h0.9v0.9h-0.9zM323.0 240.1h0.9v0.9h-0.9zM318.1 241.4h0.9v0.9h-0.9zM320.6 239.0h0.9v0.9h-0.9zM323.3 236.5h0.9v0.9h-0.9zM320.8 236.3h0.9v0.9h-0.9zM320.7 238.2h0.9v0.9h-0.9zM325.2 232.8h0.9v0.9h-0.9zM322.6 241.3h0.9v0.9h-0.9zM328.4 235.9h0.9v0.9h-0.9zM322.1 238.0h0.9v0.9h-0.9zM323.9 236.3h0.9v0.9h-0.9zM321.6 240.8h0.9v0.9h-0.9zM323.2 236.4h0.9v0.9h-0.9zM321.6 239.1h0.9v0.9h-0.9zM320.9 243.6h0.9v0.9h-0.9zM324.4 237.3h0.9v0.9h-0.9zM323.8 237.1h0.9v0.9h-0.9zM325.2 233.7h0.9v0.9h-0.9zM327.1 237.9h0.9v0.9h-0.9zM320.5 239.5h0.9v0.9h-0.9zM322.7 239.1h0.9v0.9h-0.9zM316.2 243.6h0.9v0.9h-0.9zM320.3 239.8h0.9v0.9h-0.9zM327.5 233.0h0.9v0.9h-0.9zM327.2 231.7h0.9v0.9h-0.9zM326.8 235.2h0.9v0.9h-0.9zM324.9 236.1h0.9v0.9h-0.9zM323.4 233.4h0.9v0.9h-0.9zM321.7 232.6h0.9v0.9h-0.9zM321.2 243.7h0.9v0.9h-0.9zM320.9 239.0h0.9v0.9h-0.9zM329.3 235.1h0.9v0.9h-0.9zM327.0 233.3h0.9v0.9h-0.9zM323.5 235.3h0.9v0.9h-0.9zM324.1 238.7h0.9v0.9h-0.9zM322.6 237.9h0.9v0.9h-0.9zM322.7 238.7h0.9v0.9h-0.9zM320.3 238.8h0.9v0.9h-0.9zM320.2 243.9h0.9v0.9h-0.9zM326.1 237.9h0.9v0.9h-0.9zM322.1 237.8h0.9v0.9h-0.9zM326.3 239.9h0.9v0.9h-0.9zM327.5 230.8h0.9v0.9h-0.9zM325.9 235.4h0.9v0.9h-0.9zM319.7 237.2h0.9v0.9h-0.9zM322.5 232.8h0.9v0.9h-0.9zM323.5 244.4h0.9v0.9h-0.9zM328.9 235.4h0.9v0.9h-0.9zM326.5 237.6h0.9v0.9h-0.9zM320.9 235.5h0.9v0.9h-0.9zM325.8 235.5h0.9v0.9h-0.9zM328.4 232.9h0.9v0.9h-0.9zM323.0 238.6h0.9v0.9h-0.9zM322.0 240.5h0.9v0.9h-0.9zM327.9 229.1h0.9v0.9h-0.9zM323.8 236.8h0.9v0.9h-0.9zM326.0 230.8h0.9v0.9h-0.9zM321.8 238.7h0.9v0.9h-0.9zM325.6 236.3h0.9v0.9h-0.9zM321.2 238.1h0.9v0.9h-0.9zM325.2 234.6h0.9v0.9h-0.9zM322.7 237.3h0.9v0.9h-0.9zM322.4 239.2h0.9v0.9h-0.9z" fill="#842088" fill-opacity="0.55"/>
</g>
<path d="M369.1 193.0h0.9v0.9h-0.9zM367.5 197.7h0.9v0.9h-0.9zM363.8 192.3h0.9v0.9h-0.9zM365.4 211.4h0.9v0.9h-0.9zM362.7 198.3h0.9v0.9h-0.9zM370.1 195.1h0.9v0.9h-0.9zM360.9 201.0h0.9v0.9h-0.9zM362.8 199.1h0.9v0.9h-0.9zM362.4 203.7h0.9v0.9h-0.9zM371.2 191.3h0.9v0.9h-0.9zM362.9 199.4h0.9v0.9h-0.9zM359.4 198.2h0.9v0.9h-0.9zM366.8 193.4h0.9v0.9h-0.9zM368.5 190.7h0.9v0.9h-0.9zM372.5 200.7h0.9v0.9h-0.9zM367.6 190.8h0.9v0.9h-0.9zM364.5 194.8h0.9v0.9h-0.9zM365.9 199.5h0.9v0.9h-0.9zM367.2 203.9h0.9v0.9h-0.9zM359.7 196.5h0.9v0.9h-0.9zM359.6 197.2h0.9v0.9h-0.9zM368.0 197.1h0.9v0.9h-0.9zM366.3 199.8h0.9v0.9h-0.9zM363.1 194.5h0.9v0.9h-0.9zM364.7 191.3h0.9v0.9h-0.9zM363.5 196.3h0.9v0.9h-0.9zM361.2 206.3h0.9v0.9h-0.9zM362.2 201.8h0.9v0.9h-0.9zM362.4 205.2h0.9v0.9h-0.9zM356.7 206.6h0.9v0.9h-0.9zM366.4 197.9h0.9v0.9h-0.9zM361.7 205.2h0.9v0.9h-0.9zM359.6 203.8h0.9v0.9h-0.9zM361.4 203.8h0.9v0.9h-0.9zM368.0 192.3h0.9v0.9h-0.9zM363.1 198.3h0.9v0.9h-0.9zM371.8 195.2h0.9v0.9h-0.9zM365.0 198.2h0.9v0.9h-0.9zM362.2 198.5h0.9v0.9h-0.9zM370.2 197.6h0.9v0.9h-0.9zM370.1 197.1h0.9v0.9h-0.9zM366.5 197.9h0.9v0.9h-0.9zM359.3 201.1h0.9v0.9h-0.9zM365.9 202.7h0.9v0.9h-0.9zM366.2 209.8h0.9v0.9h-0.9zM362.9 197.5h0.9v0.9h-0.9zM362.9 194.2h0.9v0.9h-0.9zM371.2 189.9h0.9v0.9h-0.9zM370.5 189.9h0.9v0.9h-0.9zM366.3 192.3h0.9v0.9h-0.9zM367.8 191.3h0.9v0.9h-0.9zM369.0 199.5h0.9v0.9h-0.9zM381.1 188.3h0.9v0.9h-0.9zM376.6 195.4h0.9v0.9h-0.9zM380.2 188.6h0.9v0.9h-0.9zM366.7 195.6h0.9v0.9h-0.9zM370.4 199.3h0.9v0.9h-0.9zM369.5 192.3h0.9v0.9h-0.9zM366.1 196.7h0.9v0.9h-0.9zM364.7 194.1h0.9v0.9h-0.9zM364.1 205.8h0.9v0.9h-0.9zM372.8 196.8h0.9v0.9h-0.9zM365.5 196.7h0.9v0.9h-0.9zM369.1 194.1h0.9v0.9h-0.9zM365.0 199.5h0.9v0.9h-0.9zM358.0 206.8h0.9v0.9h-0.9zM370.3 198.3h0.9v0.9h-0.9zM371.6 193.4h0.9v0.9h-0.9zM360.8 205.1h0.9v0.9h-0.9zM357.9 199.0h0.9v0.9h-0.9zM363.8 199.0h0.9v0.9h-0.9zM360.6 195.1h0.9v0.9h-0.9zM362.0 210.4h0.9v0.9h-0.9zM377.5 194.1h0.9v0.9h-0.9zM372.4 195.7h0.9v0.9h-0.9zM365.6 203.9h0.9v0.9h-0.9zM362.0 211.4h0.9v0.9h-0.9zM369.8 199.2h0.9v0.9h-0.9zM371.7 185.7h0.9v0.9h-0.9zM369.4 194.3h0.9v0.9h-0.9zM366.0 187.5h0.9v0.9h-0.9zM359.6 200.6h0.9v0.9h-0.9zM364.2 194.3h0.9v0.9h-0.9zM358.8 205.0h0.9v0.9h-0.9zM376.2 190.6h0.9v0.9h-0.9zM366.5 193.6h0.9v0.9h-0.9zM355.3 207.0h0.9v0.9h-0.9zM357.8 207.3h0.9v0.9h-0.9zM367.8 195.9h0.9v0.9h-0.9zM366.2 197.4h0.9v0.9h-0.9zM358.9 193.8h0.9v0.9h-0.9zM367.8 194.6h0.9v0.9h-0.9zM377.3 191.5h0.9v0.9h-0.9zM368.3 197.4h0.9v0.9h-0.9zM353.9 202.7h0.9v0.9h-0.9zM364.5 198.4h0.9v0.9h-0.9zM360.3 204.9h0.9v0.9h-0.9zM359.8 199.6h0.9v0.9h-0.9zM369.0 198.7h0.9v0.9h-0.9zM363.2 197.2h0.9v0.9h-0.9zM360.1 202.3h0.9v0.9h-0.9zM365.5 198.3h0.9v0.9h-0.9zM367.2 207.6h0.9v0.9h-0.9zM367.7 195.3h0.9v0.9h-0.9zM363.4 198.1h0.9v0.9h-0.9zM369.4 198.5h0.9v0.9h-0.9zM363.5 198.4h0.9v0.9h-0.9zM369.9 195.6h0.9v0.9h-0.9zM360.0 193.4h0.9v0.9h-0.9zM366.5 199.2h0.9v0.9h-0.9z" fill="#dcd890" fill-opacity="0.55"/>
<g clip-path="url(#nu3)">
<path d="M363.8 197.7h0.9v0.9h-0.9zM358.5 202.4h0.9v0.9h-0.9zM369.2 192.2h0.9v0.9h-0.9zM361.8 197.3h0.9v0.9h-0.9zM363.6 198.9h0.9v0.9h-0.9zM358.3 202.4h0.9v0.9h-0.9zM357.2 203.7h0.9v0.9h-0.9zM363.2 201.6h0.9v0.9h-0.9zM356.8 202.5h0.9v0.9h-0.9zM368.5 198.6h0.9v0.9h-0.9zM365.0 191.7h0.9v0.9h-0.9zM366.0 205.1h0.9v0.9h-0.9zM356.2 202.5h0.9v0.9h-0.9zM364.1 201.1h0.9v0.9h-0.9zM361.9 204.1h0.9v0.9h-0.9zM365.5 198.0h0.9v0.9h-0.9zM366.7 199.1h0.9v0.9h-0.9zM362.9 200.1h0.9v0.9h-0.9zM362.4 195.5h0.9v0.9h-0.9zM369.6 195.2h0.9v0.9h-0.9zM373.5 194.0h0.9v0.9h-0.9zM361.8 199.7h0.9v0.9h-0.9zM365.2 193.1h0.9v0.9h-0.9zM362.9 198.5h0.9v0.9h-0.9zM361.0 203.2h0.9v0.9h-0.9zM370.5 194.2h0.9v0.9h-0.9zM368.1 198.9h0.9v0.9h-0.9zM366.2 199.0h0.9v0.9h-0.9zM367.0 198.1h0.9v0.9h-0.9zM361.1 196.0h0.9v0.9h-0.9zM363.9 206.3h0.9v0.9h-0.9zM372.1 191.9h0.9v0.9h-0.9zM369.8 196.6h0.9v0.9h-0.9zM365.3 197.1h0.9v0.9h-0.9zM368.5 194.7h0.9v0.9h-0.9zM370.1 193.8h0.9v0.9h-0.9zM366.4 202.0h0.9v0.9h-0.9zM369.5 198.9h0.9v0.9h-0.9zM364.4 200.9h0.9v0.9h-0.9zM370.5 199.4h0.9v0.9h-0.9zM363.2 198.9h0.9v0.9h-0.9zM375.5 190.2h0.9v0.9h-0.9zM362.6 199.2h0.9v0.9h-0.9zM368.9 198.8h0.9v0.9h-0.9zM366.8 196.9h0.9v0.9h-0.9zM364.9 201.5h0.9v0.9h-0.9zM371.3 197.9h0.9v0.9h-0.9zM361.3 195.6h0.9v0.9h-0.9zM366.4 203.8h0.9v0.9h-0.9zM365.3 199.1h0.9v0.9h-0.9zM361.2 201.0h0.9v0.9h-0.9zM366.8 190.9h0.9v0.9h-0.9zM366.9 195.8h0.9v0.9h-0.9zM365.3 191.1h0.9v0.9h-0.9zM359.4 203.9h0.9v0.9h-0.9zM365.7 197.3h0.9v0.9h-0.9zM364.5 204.6h0.9v0.9h-0.9zM364.7 197.8h0.9v0.9h-0.9zM371.7 195.5h0.9v0.9h-0.9zM367.6 199.6h0.9v0.9h-0.9zM367.2 202.7h0.9v0.9h-0.9zM369.0 194.0h0.9v0.9h-0.9zM370.1 196.0h0.9v0.9h-0.9zM370.0 189.1h0.9v0.9h-0.9zM355.5 203.9h0.9v0.9h-0.9zM365.7 196.9h0.9v0.9h-0.9zM363.1 200.2h0.9v0.9h-0.9zM359.4 200.0h0.9v0.9h-0.9zM364.7 197.5h0.9v0.9h-0.9zM361.1 204.2h0.9v0.9h-0.9zM355.0 206.4h0.9v0.9h-0.9zM360.9 201.8h0.9v0.9h-0.9zM362.4 198.2h0.9v0.9h-0.9zM374.6 193.8h0.9v0.9h-0.9zM364.6 204.3h0.9v0.9h-0.9zM360.4 203.4h0.9v0.9h-0.9zM356.6 206.0h0.9v0.9h-0.9zM365.9 202.7h0.9v0.9h-0.9zM364.6 200.3h0.9v0.9h-0.9zM364.4 197.0h0.9v0.9h-0.9zM356.8 201.9h0.9v0.9h-0.9zM360.8 200.6h0.9v0.9h-0.9zM358.9 210.9h0.9v0.9h-0.9zM364.6 197.0h0.9v0.9h-0.9zM362.8 209.4h0.9v0.9h-0.9zM353.6 209.1h0.9v0.9h-0.9zM369.2 193.9h0.9v0.9h-0.9zM368.9 198.9h0.9v0.9h-0.9zM365.9 196.9h0.9v0.9h-0.9zM366.8 197.9h0.9v0.9h-0.9zM359.0 200.9h0.9v0.9h-0.9zM367.3 192.5h0.9v0.9h-0.9zM359.4 201.4h0.9v0.9h-0.9zM373.0 191.7h0.9v0.9h-0.9zM364.7 196.7h0.9v0.9h-0.9zM354.3 202.4h0.9v0.9h-0.9zM369.1 196.1h0.9v0.9h-0.9zM372.6 190.9h0.9v0.9h-0.9zM363.4 199.2h0.9v0.9h-0.9zM368.2 193.6h0.9v0.9h-0.9zM360.5 195.7h0.9v0.9h-0.9zM364.7 203.7h0.9v0.9h-0.9zM353.5 207.7h0.9v0.9h-0.9zM370.7 194.8h0.9v0.9h-0.9zM365.1 202.6h0.9v0.9h-0.9zM368.1 199.1h0.9v0.9h-0.9zM360.5 203.3h0.9v0.9h-0.9zM361.1 202.1h0.9v0.9h-0.9zM369.9 194.9h0.9v0.9h-0.9zM364.6 201.6h0.9v0.9h-0.9zM364.1 201.1h0.9v0.9h-0.9zM359.0 202.7h0.9v0.9h-0.9zM366.4 198.6h0.9v0.9h-0.9zM368.6 196.3h0.9v0.9h-0.9zM364.0 201.5h0.9v0.9h-0.9zM364.4 199.7h0.9v0.9h-0.9zM362.0 205.6h0.9v0.9h-0.9zM370.9 193.6h0.9v0.9h-0.9zM363.7 202.5h0.9v0.9h-0.9zM364.3 199.3h0.9v0.9h-0.9zM370.9 191.3h0.9v0.9h-0.9zM362.5 197.9h0.9v0.9h-0.9zM358.2 204.3h0.9v0.9h-0.9zM361.9 203.1h0.9v0.9h-0.9zM365.3 202.1h0.9v0.9h-0.9zM372.0 191.7h0.9v0.9h-0.9zM365.0 196.9h0.9v0.9h-0.9zM363.2 198.7h0.9v0.9h-0.9zM370.2 197.6h0.9v0.9h-0.9zM370.4 193.8h0.9v0.9h-0.9zM361.0 200.7h0.9v0.9h-0.9zM371.9 194.4h0.9v0.9h-0.9zM366.4 193.2h0.9v0.9h-0.9zM366.9 197.1h0.9v0.9h-0.9zM355.1 207.6h0.9v0.9h-0.9zM365.5 197.7h0.9v0.9h-0.9zM368.8 191.4h0.9v0.9h-0.9zM365.3 201.3h0.9v0.9h-0.9zM376.9 192.6h0.9v0.9h-0.9zM363.1 196.2h0.9v0.9h-0.9zM360.9 202.7h0.9v0.9h-0.9zM368.3 197.4h0.9v0.9h-0.9zM369.6 201.2h0.9v0.9h-0.9zM367.7 194.7h0.9v0.9h-0.9zM362.5 197.9h0.9v0.9h-0.9zM370.2 193.6h0.9v0.9h-0.9zM365.7 204.1h0.9v0.9h-0.9zM365.5 198.2h0.9v0.9h-0.9zM360.2 203.8h0.9v0.9h-0.9zM364.3 204.6h0.9v0.9h-0.9zM362.4 194.3h0.9v0.9h-0.9zM358.9 197.6h0.9v0.9h-0.9zM364.4 201.8h0.9v0.9h-0.9zM365.2 200.7h0.9v0.9h-0.9zM363.8 195.3h0.9v0.9h-0.9zM368.8 196.5h0.9v0.9h-0.9zM368.1 195.7h0.9v0.9h-0.9zM369.4 195.0h0.9v0.9h-0.9zM364.5 196.5h0.9v0.9h-0.9zM362.0 199.9h0.9v0.9h-0.9zM357.0 203.2h0.9v0.9h-0.9zM363.5 200.0h0.9v0.9h-0.9zM361.3 201.3h0.9v0.9h-0.9zM360.0 208.3h0.9v0.9h-0.9zM372.7 193.3h0.9v0.9h-0.9zM354.9 203.1h0.9v0.9h-0.9zM367.0 197.9h0.9v0.9h-0.9zM369.4 198.8h0.9v0.9h-0.9zM364.4 200.0h0.9v0.9h-0.9zM377.3 190.4h0.9v0.9h-0.9zM364.9 198.5h0.9v0.9h-0.9zM362.8 202.7h0.9v0.9h-0.9zM370.7 190.3h0.9v0.9h-0.9zM362.8 203.0h0.9v0.9h-0.9zM356.9 201.8h0.9v0.9h-0.9zM362.7 204.6h0.9v0.9h-0.9zM359.9 198.6h0.9v0.9h-0.9zM361.9 194.9h0.9v0.9h-0.9zM367.1 198.2h0.9v0.9h-0.9zM358.3 204.2h0.9v0.9h-0.9zM366.5 197.4h0.9v0.9h-0.9zM374.8 190.7h0.9v0.9h-0.9zM361.9 201.3h0.9v0.9h-0.9zM363.0 197.6h0.9v0.9h-0.9zM368.1 196.2h0.9v0.9h-0.9zM370.4 194.5h0.9v0.9h-0.9zM362.9 202.0h0.9v0.9h-0.9zM364.0 205.6h0.9v0.9h-0.9zM359.6 201.3h0.9v0.9h-0.9zM369.6 194.5h0.9v0.9h-0.9zM369.5 196.0h0.9v0.9h-0.9zM355.3 206.2h0.9v0.9h-0.9zM354.2 204.9h0.9v0.9h-0.9zM358.9 202.4h0.9v0.9h-0.9zM360.3 206.1h0.9v0.9h-0.9zM366.2 196.6h0.9v0.9h-0.9zM366.8 198.7h0.9v0.9h-0.9zM371.9 189.8h0.9v0.9h-0.9zM368.9 196.3h0.9v0.9h-0.9zM364.4 197.0h0.9v0.9h-0.9zM368.5 192.6h0.9v0.9h-0.9zM361.4 202.2h0.9v0.9h-0.9zM359.2 204.1h0.9v0.9h-0.9zM367.3 200.9h0.9v0.9h-0.9zM366.3 192.3h0.9v0.9h-0.9zM359.0 205.7h0.9v0.9h-0.9zM371.1 197.8h0.9v0.9h-0.9zM370.6 197.5h0.9v0.9h-0.9zM362.2 199.9h0.9v0.9h-0.9zM364.6 196.8h0.9v0.9h-0.9zM363.0 198.8h0.9v0.9h-0.9zM365.7 198.8h0.9v0.9h-0.9zM368.6 195.8h0.9v0.9h-0.9zM362.1 202.3h0.9v0.9h-0.9zM370.1 195.5h0.9v0.9h-0.9zM366.9 193.5h0.9v0.9h-0.9zM366.9 193.2h0.9v0.9h-0.9zM354.8 204.2h0.9v0.9h-0.9zM355.1 203.6h0.9v0.9h-0.9zM367.6 195.7h0.9v0.9h-0.9z" fill="#a09a34" fill-opacity="0.5"/>
<path d="M367.1 199.5h0.9v0.9h-0.9zM373.3 190.8h0.9v0.9h-0.9zM365.7 196.4h0.9v0.9h-0.9zM364.0 198.2h0.9v0.9h-0.9zM368.9 193.7h0.9v0.9h-0.9zM361.5 200.7h0.9v0.9h-0.9zM364.3 196.2h0.9v0.9h-0.9zM369.3 197.2h0.9v0.9h-0.9zM367.8 196.9h0.9v0.9h-0.9zM367.1 198.8h0.9v0.9h-0.9zM363.1 199.7h0.9v0.9h-0.9zM360.8 203.4h0.9v0.9h-0.9zM364.3 199.7h0.9v0.9h-0.9zM363.9 202.2h0.9v0.9h-0.9zM367.9 197.7h0.9v0.9h-0.9zM364.6 199.8h0.9v0.9h-0.9zM366.0 196.5h0.9v0.9h-0.9zM357.9 202.8h0.9v0.9h-0.9zM367.2 195.0h0.9v0.9h-0.9zM361.1 201.0h0.9v0.9h-0.9zM358.8 203.4h0.9v0.9h-0.9zM358.7 202.0h0.9v0.9h-0.9zM364.3 202.9h0.9v0.9h-0.9zM368.8 195.7h0.9v0.9h-0.9zM365.1 194.5h0.9v0.9h-0.9zM359.5 201.5h0.9v0.9h-0.9zM363.6 197.2h0.9v0.9h-0.9zM364.6 199.6h0.9v0.9h-0.9zM360.4 205.2h0.9v0.9h-0.9zM360.3 201.1h0.9v0.9h-0.9zM358.3 206.2h0.9v0.9h-0.9zM361.4 201.5h0.9v0.9h-0.9zM356.8 208.8h0.9v0.9h-0.9zM363.4 203.1h0.9v0.9h-0.9zM361.8 202.3h0.9v0.9h-0.9zM362.7 202.4h0.9v0.9h-0.9zM361.9 201.6h0.9v0.9h-0.9zM368.3 194.9h0.9v0.9h-0.9zM362.3 198.8h0.9v0.9h-0.9zM365.9 198.6h0.9v0.9h-0.9zM367.2 196.5h0.9v0.9h-0.9zM367.4 195.7h0.9v0.9h-0.9zM367.0 196.7h0.9v0.9h-0.9zM362.6 200.6h0.9v0.9h-0.9zM359.8 201.4h0.9v0.9h-0.9zM361.5 200.9h0.9v0.9h-0.9zM364.3 201.8h0.9v0.9h-0.9zM364.5 198.7h0.9v0.9h-0.9zM365.8 200.8h0.9v0.9h-0.9zM367.3 194.2h0.9v0.9h-0.9zM362.9 197.8h0.9v0.9h-0.9zM371.0 193.4h0.9v0.9h-0.9zM369.0 196.6h0.9v0.9h-0.9zM362.4 199.8h0.9v0.9h-0.9zM368.3 196.9h0.9v0.9h-0.9zM355.8 209.2h0.9v0.9h-0.9zM370.5 195.8h0.9v0.9h-0.9zM366.0 197.6h0.9v0.9h-0.9zM366.0 197.7h0.9v0.9h-0.9zM357.2 202.6h0.9v0.9h-0.9zM373.4 191.0h0.9v0.9h-0.9zM364.1 200.1h0.9v0.9h-0.9zM365.7 201.0h0.9v0.9h-0.9zM367.3 194.0h0.9v0.9h-0.9zM363.2 198.7h0.9v0.9h-0.9zM360.7 200.6h0.9v0.9h-0.9zM367.9 197.9h0.9v0.9h-0.9zM358.6 199.4h0.9v0.9h-0.9zM366.1 195.4h0.9v0.9h-0.9zM367.3 200.8h0.9v0.9h-0.9zM369.2 196.1h0.9v0.9h-0.9zM359.2 201.4h0.9v0.9h-0.9zM368.9 194.9h0.9v0.9h-0.9zM366.6 199.0h0.9v0.9h-0.9zM372.0 193.3h0.9v0.9h-0.9zM362.2 200.8h0.9v0.9h-0.9zM370.3 192.2h0.9v0.9h-0.9zM368.0 197.7h0.9v0.9h-0.9zM367.4 196.5h0.9v0.9h-0.9zM363.0 202.2h0.9v0.9h-0.9zM367.0 197.7h0.9v0.9h-0.9zM366.5 196.3h0.9v0.9h-0.9zM363.3 203.3h0.9v0.9h-0.9zM360.2 202.2h0.9v0.9h-0.9zM362.5 202.0h0.9v0.9h-0.9zM369.1 193.6h0.9v0.9h-0.9zM365.0 198.2h0.9v0.9h-0.9zM367.7 195.7h0.9v0.9h-0.9zM365.0 197.3h0.9v0.9h-0.9zM365.3 198.9h0.9v0.9h-0.9zM366.8 199.7h0.9v0.9h-0.9zM365.2 202.4h0.9v0.9h-0.9zM370.4 196.7h0.9v0.9h-0.9zM365.1 198.3h0.9v0.9h-0.9zM367.0 199.9h0.9v0.9h-0.9zM360.4 203.9h0.9v0.9h-0.9zM367.6 200.0h0.9v0.9h-0.9zM361.1 199.8h0.9v0.9h-0.9zM364.5 202.2h0.9v0.9h-0.9zM367.6 195.0h0.9v0.9h-0.9zM362.1 203.8h0.9v0.9h-0.9zM363.5 199.1h0.9v0.9h-0.9zM367.8 198.0h0.9v0.9h-0.9zM368.4 195.0h0.9v0.9h-0.9zM361.0 198.6h0.9v0.9h-0.9zM364.8 196.9h0.9v0.9h-0.9zM365.4 197.8h0.9v0.9h-0.9zM360.8 202.6h0.9v0.9h-0.9zM355.0 203.4h0.9v0.9h-0.9zM356.8 203.8h0.9v0.9h-0.9zM366.0 196.3h0.9v0.9h-0.9zM364.8 198.4h0.9v0.9h-0.9zM360.3 203.5h0.9v0.9h-0.9zM361.7 200.1h0.9v0.9h-0.9zM361.8 198.6h0.9v0.9h-0.9zM363.8 200.5h0.9v0.9h-0.9zM364.3 198.7h0.9v0.9h-0.9zM373.2 192.9h0.9v0.9h-0.9zM361.5 200.9h0.9v0.9h-0.9zM365.9 199.3h0.9v0.9h-0.9zM361.1 200.5h0.9v0.9h-0.9zM362.8 201.3h0.9v0.9h-0.9zM361.8 201.9h0.9v0.9h-0.9zM364.4 200.2h0.9v0.9h-0.9zM361.8 199.7h0.9v0.9h-0.9zM365.8 197.8h0.9v0.9h-0.9zM364.6 197.4h0.9v0.9h-0.9zM361.5 201.7h0.9v0.9h-0.9zM371.9 193.6h0.9v0.9h-0.9zM363.8 206.0h0.9v0.9h-0.9zM366.0 197.9h0.9v0.9h-0.9zM372.9 192.9h0.9v0.9h-0.9zM362.4 201.4h0.9v0.9h-0.9zM370.4 196.0h0.9v0.9h-0.9zM370.0 195.0h0.9v0.9h-0.9zM366.9 199.1h0.9v0.9h-0.9zM358.7 205.3h0.9v0.9h-0.9zM372.0 197.1h0.9v0.9h-0.9zM366.4 200.2h0.9v0.9h-0.9zM361.1 198.9h0.9v0.9h-0.9zM369.4 195.3h0.9v0.9h-0.9zM362.3 201.4h0.9v0.9h-0.9zM366.1 193.2h0.9v0.9h-0.9zM361.9 199.8h0.9v0.9h-0.9zM366.1 196.8h0.9v0.9h-0.9zM360.3 201.6h0.9v0.9h-0.9zM363.5 200.4h0.9v0.9h-0.9zM359.7 200.0h0.9v0.9h-0.9zM363.0 202.1h0.9v0.9h-0.9zM366.1 199.3h0.9v0.9h-0.9zM364.5 199.9h0.9v0.9h-0.9zM365.0 198.0h0.9v0.9h-0.9zM369.1 194.9h0.9v0.9h-0.9zM363.8 198.9h0.9v0.9h-0.9zM359.5 206.2h0.9v0.9h-0.9zM364.2 200.5h0.9v0.9h-0.9zM367.0 200.9h0.9v0.9h-0.9zM367.8 195.3h0.9v0.9h-0.9zM369.7 197.3h0.9v0.9h-0.9zM367.4 195.3h0.9v0.9h-0.9zM363.7 199.5h0.9v0.9h-0.9zM365.8 195.8h0.9v0.9h-0.9zM360.3 204.2h0.9v0.9h-0.9zM369.1 194.8h0.9v0.9h-0.9zM366.8 198.3h0.9v0.9h-0.9zM368.0 199.0h0.9v0.9h-0.9zM363.3 200.2h0.9v0.9h-0.9zM365.3 199.2h0.9v0.9h-0.9zM363.3 202.1h0.9v0.9h-0.9zM366.6 197.1h0.9v0.9h-0.9zM359.6 202.7h0.9v0.9h-0.9zM368.4 196.3h0.9v0.9h-0.9zM367.1 197.8h0.9v0.9h-0.9zM372.4 193.4h0.9v0.9h-0.9zM365.4 200.0h0.9v0.9h-0.9zM363.7 198.6h0.9v0.9h-0.9zM365.8 198.9h0.9v0.9h-0.9zM366.1 200.2h0.9v0.9h-0.9zM363.9 198.8h0.9v0.9h-0.9zM361.3 202.9h0.9v0.9h-0.9zM360.3 201.9h0.9v0.9h-0.9zM362.9 201.0h0.9v0.9h-0.9zM365.5 201.8h0.9v0.9h-0.9zM360.8 203.0h0.9v0.9h-0.9zM359.7 201.7h0.9v0.9h-0.9zM364.1 200.3h0.9v0.9h-0.9zM367.5 196.9h0.9v0.9h-0.9zM365.2 200.8h0.9v0.9h-0.9zM365.6 195.3h0.9v0.9h-0.9zM367.1 194.9h0.9v0.9h-0.9zM367.3 196.5h0.9v0.9h-0.9zM361.7 198.6h0.9v0.9h-0.9zM364.5 201.5h0.9v0.9h-0.9zM356.2 202.7h0.9v0.9h-0.9zM361.5 200.3h0.9v0.9h-0.9zM364.8 195.9h0.9v0.9h-0.9zM360.3 201.8h0.9v0.9h-0.9zM370.2 195.6h0.9v0.9h-0.9zM370.2 195.1h0.9v0.9h-0.9zM364.4 201.2h0.9v0.9h-0.9zM368.5 196.7h0.9v0.9h-0.9zM357.8 201.3h0.9v0.9h-0.9zM361.4 202.7h0.9v0.9h-0.9zM361.5 198.2h0.9v0.9h-0.9zM364.2 198.4h0.9v0.9h-0.9zM363.7 199.2h0.9v0.9h-0.9zM361.2 201.2h0.9v0.9h-0.9zM372.0 193.3h0.9v0.9h-0.9zM364.9 197.2h0.9v0.9h-0.9zM367.5 200.0h0.9v0.9h-0.9zM367.7 197.5h0.9v0.9h-0.9zM366.5 199.7h0.9v0.9h-0.9zM364.7 200.6h0.9v0.9h-0.9zM363.7 201.8h0.9v0.9h-0.9zM359.0 204.2h0.9v0.9h-0.9zM371.8 196.4h0.9v0.9h-0.9zM360.5 200.8h0.9v0.9h-0.9zM359.5 204.8h0.9v0.9h-0.9zM361.9 201.6h0.9v0.9h-0.9zM359.0 203.9h0.9v0.9h-0.9zM371.9 193.0h0.9v0.9h-0.9zM365.2 197.0h0.9v0.9h-0.9zM370.4 195.5h0.9v0.9h-0.9zM370.5 195.2h0.9v0.9h-0.9zM366.8 197.3h0.9v0.9h-0.9zM367.4 198.0h0.9v0.9h-0.9zM361.2 200.2h0.9v0.9h-0.9zM362.6 197.3h0.9v0.9h-0.9zM362.0 200.3h0.9v0.9h-0.9zM364.6 198.6h0.9v0.9h-0.9zM364.9 204.0h0.9v0.9h-0.9zM368.8 194.7h0.9v0.9h-0.9zM368.4 197.7h0.9v0.9h-0.9zM365.2 200.3h0.9v0.9h-0.9zM361.1 206.7h0.9v0.9h-0.9zM367.2 197.0h0.9v0.9h-0.9zM368.4 196.9h0.9v0.9h-0.9zM364.3 199.0h0.9v0.9h-0.9zM359.5 202.1h0.9v0.9h-0.9zM365.2 196.5h0.9v0.9h-0.9zM367.5 194.8h0.9v0.9h-0.9zM359.6 206.7h0.9v0.9h-0.9zM366.9 197.5h0.9v0.9h-0.9zM358.3 204.6h0.9v0.9h-0.9zM365.0 198.8h0.9v0.9h-0.9zM370.1 192.8h0.9v0.9h-0.9zM365.0 198.7h0.9v0.9h-0.9zM366.3 197.4h0.9v0.9h-0.9zM364.3 200.8h0.9v0.9h-0.9zM365.6 200.0h0.9v0.9h-0.9zM371.1 189.7h0.9v0.9h-0.9zM369.5 195.0h0.9v0.9h-0.9zM365.0 201.5h0.9v0.9h-0.9zM362.4 199.1h0.9v0.9h-0.9zM364.5 198.7h0.9v0.9h-0.9zM372.4 192.2h0.9v0.9h-0.9zM366.5 199.6h0.9v0.9h-0.9zM369.1 196.1h0.9v0.9h-0.9zM363.2 199.9h0.9v0.9h-0.9zM360.9 203.6h0.9v0.9h-0.9z" fill="#6a6412" fill-opacity="0.6"/>
<path d="M365.3 195.5h0.9v0.9h-0.9zM366.4 199.8h0.9v0.9h-0.9zM369.4 195.7h0.9v0.9h-0.9zM364.5 197.7h0.9v0.9h-0.9zM361.6 201.9h0.9v0.9h-0.9zM362.9 202.0h0.9v0.9h-0.9zM363.4 199.3h0.9v0.9h-0.9zM364.3 200.6h0.9v0.9h-0.9zM367.3 199.7h0.9v0.9h-0.9zM366.2 199.8h0.9v0.9h-0.9zM368.7 195.8h0.9v0.9h-0.9zM366.7 198.1h0.9v0.9h-0.9zM367.6 195.7h0.9v0.9h-0.9zM362.7 201.6h0.9v0.9h-0.9zM363.2 200.5h0.9v0.9h-0.9zM365.6 197.5h0.9v0.9h-0.9zM363.9 198.7h0.9v0.9h-0.9zM367.2 199.5h0.9v0.9h-0.9zM365.2 199.2h0.9v0.9h-0.9zM362.3 200.5h0.9v0.9h-0.9zM368.5 195.5h0.9v0.9h-0.9zM368.2 198.1h0.9v0.9h-0.9zM361.6 204.4h0.9v0.9h-0.9zM362.6 200.8h0.9v0.9h-0.9zM364.7 199.8h0.9v0.9h-0.9zM366.7 198.7h0.9v0.9h-0.9zM364.1 199.7h0.9v0.9h-0.9zM360.4 202.1h0.9v0.9h-0.9zM366.0 197.2h0.9v0.9h-0.9zM364.0 200.2h0.9v0.9h-0.9zM367.0 196.4h0.9v0.9h-0.9zM364.5 198.2h0.9v0.9h-0.9zM366.8 197.3h0.9v0.9h-0.9zM367.1 198.4h0.9v0.9h-0.9zM367.1 198.1h0.9v0.9h-0.9zM363.1 200.8h0.9v0.9h-0.9zM368.2 198.6h0.9v0.9h-0.9zM364.5 198.7h0.9v0.9h-0.9zM361.4 202.6h0.9v0.9h-0.9zM362.7 199.7h0.9v0.9h-0.9zM364.1 201.0h0.9v0.9h-0.9zM365.6 198.6h0.9v0.9h-0.9zM365.2 197.0h0.9v0.9h-0.9zM361.2 201.8h0.9v0.9h-0.9zM367.4 199.2h0.9v0.9h-0.9zM364.8 200.3h0.9v0.9h-0.9zM362.0 202.2h0.9v0.9h-0.9zM367.1 198.4h0.9v0.9h-0.9zM361.7 200.4h0.9v0.9h-0.9zM361.1 201.9h0.9v0.9h-0.9zM365.6 197.1h0.9v0.9h-0.9zM366.2 197.1h0.9v0.9h-0.9zM362.6 201.0h0.9v0.9h-0.9zM367.5 197.6h0.9v0.9h-0.9zM367.6 198.1h0.9v0.9h-0.9zM363.8 201.5h0.9v0.9h-0.9zM371.1 196.8h0.9v0.9h-0.9zM364.1 199.5h0.9v0.9h-0.9zM365.1 199.2h0.9v0.9h-0.9zM358.9 205.5h0.9v0.9h-0.9zM365.6 197.7h0.9v0.9h-0.9zM362.8 200.9h0.9v0.9h-0.9zM365.9 199.0h0.9v0.9h-0.9zM359.7 203.1h0.9v0.9h-0.9zM367.7 197.3h0.9v0.9h-0.9zM368.9 197.1h0.9v0.9h-0.9zM368.5 194.6h0.9v0.9h-0.9zM355.8 205.0h0.9v0.9h-0.9zM366.0 198.4h0.9v0.9h-0.9zM364.7 198.2h0.9v0.9h-0.9zM357.1 206.8h0.9v0.9h-0.9zM362.4 201.1h0.9v0.9h-0.9zM364.5 200.1h0.9v0.9h-0.9zM368.7 197.1h0.9v0.9h-0.9zM363.0 202.1h0.9v0.9h-0.9zM364.8 199.0h0.9v0.9h-0.9zM363.7 199.1h0.9v0.9h-0.9zM363.9 197.2h0.9v0.9h-0.9zM362.2 199.2h0.9v0.9h-0.9zM366.3 197.1h0.9v0.9h-0.9zM367.0 197.5h0.9v0.9h-0.9zM360.8 202.4h0.9v0.9h-0.9zM367.0 196.7h0.9v0.9h-0.9zM361.7 200.3h0.9v0.9h-0.9zM362.9 199.2h0.9v0.9h-0.9zM366.3 195.9h0.9v0.9h-0.9zM365.2 199.8h0.9v0.9h-0.9zM364.8 197.0h0.9v0.9h-0.9zM366.9 198.3h0.9v0.9h-0.9zM365.5 197.7h0.9v0.9h-0.9zM363.5 201.2h0.9v0.9h-0.9zM362.3 202.0h0.9v0.9h-0.9zM366.7 198.6h0.9v0.9h-0.9zM367.1 198.7h0.9v0.9h-0.9zM364.9 198.3h0.9v0.9h-0.9zM363.5 199.4h0.9v0.9h-0.9zM366.4 197.4h0.9v0.9h-0.9zM364.0 199.2h0.9v0.9h-0.9zM361.5 203.2h0.9v0.9h-0.9zM365.2 198.9h0.9v0.9h-0.9zM365.8 198.4h0.9v0.9h-0.9zM366.7 198.1h0.9v0.9h-0.9zM362.0 201.4h0.9v0.9h-0.9zM363.3 202.0h0.9v0.9h-0.9zM364.2 197.6h0.9v0.9h-0.9zM363.6 200.8h0.9v0.9h-0.9zM364.7 200.1h0.9v0.9h-0.9zM366.4 196.9h0.9v0.9h-0.9zM365.1 198.2h0.9v0.9h-0.9zM369.6 196.0h0.9v0.9h-0.9zM365.1 198.7h0.9v0.9h-0.9zM367.6 194.4h0.9v0.9h-0.9zM366.4 196.2h0.9v0.9h-0.9zM371.5 194.4h0.9v0.9h-0.9zM364.1 198.9h0.9v0.9h-0.9zM365.1 200.6h0.9v0.9h-0.9zM368.6 197.4h0.9v0.9h-0.9zM363.2 200.6h0.9v0.9h-0.9zM363.8 201.0h0.9v0.9h-0.9zM364.7 198.4h0.9v0.9h-0.9zM365.3 198.4h0.9v0.9h-0.9zM360.7 202.3h0.9v0.9h-0.9zM365.6 199.3h0.9v0.9h-0.9zM363.0 199.4h0.9v0.9h-0.9zM364.4 199.5h0.9v0.9h-0.9zM365.1 199.1h0.9v0.9h-0.9zM364.4 200.3h0.9v0.9h-0.9zM366.0 195.7h0.9v0.9h-0.9zM364.7 197.2h0.9v0.9h-0.9zM363.6 199.4h0.9v0.9h-0.9zM364.7 199.2h0.9v0.9h-0.9zM367.3 197.2h0.9v0.9h-0.9zM366.7 197.8h0.9v0.9h-0.9zM369.0 197.9h0.9v0.9h-0.9zM364.7 200.2h0.9v0.9h-0.9zM365.3 199.6h0.9v0.9h-0.9zM369.3 194.5h0.9v0.9h-0.9zM365.0 200.1h0.9v0.9h-0.9zM369.2 196.1h0.9v0.9h-0.9zM367.1 198.0h0.9v0.9h-0.9zM363.5 200.4h0.9v0.9h-0.9zM361.6 203.1h0.9v0.9h-0.9zM367.1 199.0h0.9v0.9h-0.9zM362.4 200.6h0.9v0.9h-0.9zM361.6 199.7h0.9v0.9h-0.9zM360.9 204.0h0.9v0.9h-0.9zM368.0 197.2h0.9v0.9h-0.9zM364.8 199.1h0.9v0.9h-0.9zM364.4 199.1h0.9v0.9h-0.9zM367.3 200.4h0.9v0.9h-0.9zM365.0 198.6h0.9v0.9h-0.9zM364.1 198.4h0.9v0.9h-0.9zM365.6 198.0h0.9v0.9h-0.9zM364.3 200.4h0.9v0.9h-0.9zM357.9 205.0h0.9v0.9h-0.9zM366.2 197.5h0.9v0.9h-0.9zM365.9 198.7h0.9v0.9h-0.9zM364.4 199.1h0.9v0.9h-0.9zM368.6 195.9h0.9v0.9h-0.9zM361.2 202.6h0.9v0.9h-0.9z" fill="#4c4a04" fill-opacity="0.7"/>
</g>
<rect x="348.30" y="183.30" width="29.30" height="30.50" fill="none" stroke="#b8b8b8" stroke-width="0.8"/>
<line x1="348.30" y1="213.80" x2="377.60" y2="213.80" stroke="#8a8a8a" stroke-width="0.8"/>
<line x1="358.10" y1="183.30" x2="358.10" y2="213.80" stroke="#6e6c7a" stroke-width="1.0"/>
<polygon points="317.40,249.60 317.40,223.00 337.90,210.30 337.90,236.90" fill="none" stroke="#858585" stroke-width="0.8"/>
<rect x="282.50" y="172.50" width="101" height="88.0" fill="none" stroke="#2b2b2b" stroke-width="1"/>
<text x="311.09" y="181.60" font-size="7.56" fill="#231f20" stroke="#231f20" stroke-width="0.08" textLength="45.27" lengthAdjust="spacingAndGlyphs">Hypodiploid</text>
<text x="345.23" y="220.80" font-size="8.14" fill="#231f20" stroke="#231f20" stroke-width="0.08" textLength="36.80" lengthAdjust="spacingAndGlyphs">Nucleated</text>
<text x="298.00" y="230.70" font-size="7.41" fill="#231f20" stroke="#231f20" stroke-width="0.08" textLength="15.09" lengthAdjust="spacingAndGlyphs">MN</text>
<text x="352.41" y="253.30" font-size="7.56" fill="#c23648" stroke="#c23648" stroke-width="0.05" textLength="22.07" lengthAdjust="spacingAndGlyphs">24.8%</text>
<text x="310.19" y="164.50" font-size="10.32" fill="#fff0cc" textLength="45.65" lengthAdjust="spacingAndGlyphs">Melphalan</text>
<text x="278.91" y="273.30" font-size="5.38" fill="#231f20" stroke="#231f20" stroke-width="0.16" textLength="2.68" lengthAdjust="spacingAndGlyphs">0</text>
<text x="281.67" y="273.30" font-size="8.72" fill="#231f20" stroke="#231f20" stroke-width="0.16" textLength="9.26" lengthAdjust="spacingAndGlyphs">10</text>
<text x="290.85" y="270.30" font-size="4.65" fill="#231f20" stroke="#231f20" stroke-width="0.16" textLength="1.81" lengthAdjust="spacingAndGlyphs">1</text>
<text x="303.32" y="273.30" font-size="8.72" fill="#231f20" stroke="#231f20" stroke-width="0.16" textLength="9.26" lengthAdjust="spacingAndGlyphs">10</text>
<text x="312.44" y="270.30" font-size="4.65" fill="#231f20" stroke="#231f20" stroke-width="0.16" textLength="3.42" lengthAdjust="spacingAndGlyphs">2</text>
<text x="324.97" y="273.30" font-size="8.72" fill="#231f20" stroke="#231f20" stroke-width="0.16" textLength="9.26" lengthAdjust="spacingAndGlyphs">10</text>
<text x="334.18" y="270.30" font-size="4.65" fill="#231f20" stroke="#231f20" stroke-width="0.16" textLength="3.28" lengthAdjust="spacingAndGlyphs">3</text>
<text x="346.62" y="273.30" font-size="8.72" fill="#231f20" stroke="#231f20" stroke-width="0.16" textLength="9.26" lengthAdjust="spacingAndGlyphs">10</text>
<text x="355.92" y="270.30" font-size="4.65" fill="#231f20" stroke="#231f20" stroke-width="0.16" textLength="3.09" lengthAdjust="spacingAndGlyphs">4</text>
<text x="368.27" y="273.30" font-size="8.72" fill="#231f20" stroke="#231f20" stroke-width="0.16" textLength="9.26" lengthAdjust="spacingAndGlyphs">10</text>
<text x="377.46" y="270.30" font-size="4.65" fill="#231f20" stroke="#231f20" stroke-width="0.16" textLength="3.28" lengthAdjust="spacingAndGlyphs">5</text>
<text x="276.30" y="264.10" font-size="3.92" fill="#a88cc8" stroke="#a88cc8" stroke-width="0.16" textLength="5.11" lengthAdjust="spacingAndGlyphs">M</text>
<rect x="411.30" y="153.60" width="102.30" height="15.20" fill="#37a535"/>
<line x1="409.10" y1="181.90" x2="411.50" y2="181.90" stroke="#2b2b2b" stroke-width="1.0"/>
<line x1="410.30" y1="197.31" x2="411.50" y2="197.31" stroke="#666" stroke-width="0.5"/>
<line x1="410.30" y1="193.43" x2="411.50" y2="193.43" stroke="#666" stroke-width="0.5"/>
<line x1="410.30" y1="190.68" x2="411.50" y2="190.68" stroke="#666" stroke-width="0.5"/>
<line x1="410.30" y1="188.54" x2="411.50" y2="188.54" stroke="#666" stroke-width="0.5"/>
<line x1="410.30" y1="186.80" x2="411.50" y2="186.80" stroke="#666" stroke-width="0.5"/>
<line x1="410.30" y1="185.32" x2="411.50" y2="185.32" stroke="#666" stroke-width="0.5"/>
<line x1="410.30" y1="184.04" x2="411.50" y2="184.04" stroke="#666" stroke-width="0.5"/>
<line x1="410.30" y1="182.91" x2="411.50" y2="182.91" stroke="#666" stroke-width="0.5"/>
<line x1="409.10" y1="203.95" x2="411.50" y2="203.95" stroke="#2b2b2b" stroke-width="1.0"/>
<line x1="410.30" y1="219.36" x2="411.50" y2="219.36" stroke="#666" stroke-width="0.5"/>
<line x1="410.30" y1="215.48" x2="411.50" y2="215.48" stroke="#666" stroke-width="0.5"/>
<line x1="410.30" y1="212.73" x2="411.50" y2="212.73" stroke="#666" stroke-width="0.5"/>
<line x1="410.30" y1="210.59" x2="411.50" y2="210.59" stroke="#666" stroke-width="0.5"/>
<line x1="410.30" y1="208.85" x2="411.50" y2="208.85" stroke="#666" stroke-width="0.5"/>
<line x1="410.30" y1="207.37" x2="411.50" y2="207.37" stroke="#666" stroke-width="0.5"/>
<line x1="410.30" y1="206.09" x2="411.50" y2="206.09" stroke="#666" stroke-width="0.5"/>
<line x1="410.30" y1="204.96" x2="411.50" y2="204.96" stroke="#666" stroke-width="0.5"/>
<line x1="409.10" y1="226.00" x2="411.50" y2="226.00" stroke="#2b2b2b" stroke-width="1.0"/>
<line x1="410.30" y1="241.41" x2="411.50" y2="241.41" stroke="#666" stroke-width="0.5"/>
<line x1="410.30" y1="237.53" x2="411.50" y2="237.53" stroke="#666" stroke-width="0.5"/>
<line x1="410.30" y1="234.78" x2="411.50" y2="234.78" stroke="#666" stroke-width="0.5"/>
<line x1="410.30" y1="232.64" x2="411.50" y2="232.64" stroke="#666" stroke-width="0.5"/>
<line x1="410.30" y1="230.90" x2="411.50" y2="230.90" stroke="#666" stroke-width="0.5"/>
<line x1="410.30" y1="229.42" x2="411.50" y2="229.42" stroke="#666" stroke-width="0.5"/>
<line x1="410.30" y1="228.14" x2="411.50" y2="228.14" stroke="#666" stroke-width="0.5"/>
<line x1="410.30" y1="227.01" x2="411.50" y2="227.01" stroke="#666" stroke-width="0.5"/>
<line x1="409.10" y1="248.05" x2="411.50" y2="248.05" stroke="#2b2b2b" stroke-width="1.0"/>
<line x1="410.30" y1="259.58" x2="411.50" y2="259.58" stroke="#666" stroke-width="0.5"/>
<line x1="410.30" y1="256.83" x2="411.50" y2="256.83" stroke="#666" stroke-width="0.5"/>
<line x1="410.30" y1="254.69" x2="411.50" y2="254.69" stroke="#666" stroke-width="0.5"/>
<line x1="410.30" y1="252.95" x2="411.50" y2="252.95" stroke="#666" stroke-width="0.5"/>
<line x1="410.30" y1="251.47" x2="411.50" y2="251.47" stroke="#666" stroke-width="0.5"/>
<line x1="410.30" y1="250.19" x2="411.50" y2="250.19" stroke="#666" stroke-width="0.5"/>
<line x1="410.30" y1="249.06" x2="411.50" y2="249.06" stroke="#666" stroke-width="0.5"/>
<line x1="415.50" y1="260.50" x2="415.50" y2="262.70" stroke="#2b2b2b" stroke-width="0.9"/>
<line x1="422.02" y1="260.50" x2="422.02" y2="261.70" stroke="#666" stroke-width="0.5"/>
<line x1="425.83" y1="260.50" x2="425.83" y2="261.70" stroke="#666" stroke-width="0.5"/>
<line x1="428.53" y1="260.50" x2="428.53" y2="261.70" stroke="#666" stroke-width="0.5"/>
<line x1="430.63" y1="260.50" x2="430.63" y2="261.70" stroke="#666" stroke-width="0.5"/>
<line x1="432.34" y1="260.50" x2="432.34" y2="261.70" stroke="#666" stroke-width="0.5"/>
<line x1="433.79" y1="260.50" x2="433.79" y2="261.70" stroke="#666" stroke-width="0.5"/>
<line x1="435.05" y1="260.50" x2="435.05" y2="261.70" stroke="#666" stroke-width="0.5"/>
<line x1="436.15" y1="260.50" x2="436.15" y2="261.70" stroke="#666" stroke-width="0.5"/>
<line x1="437.15" y1="260.50" x2="437.15" y2="262.70" stroke="#2b2b2b" stroke-width="0.9"/>
<line x1="443.67" y1="260.50" x2="443.67" y2="261.70" stroke="#666" stroke-width="0.5"/>
<line x1="447.48" y1="260.50" x2="447.48" y2="261.70" stroke="#666" stroke-width="0.5"/>
<line x1="450.18" y1="260.50" x2="450.18" y2="261.70" stroke="#666" stroke-width="0.5"/>
<line x1="452.28" y1="260.50" x2="452.28" y2="261.70" stroke="#666" stroke-width="0.5"/>
<line x1="453.99" y1="260.50" x2="453.99" y2="261.70" stroke="#666" stroke-width="0.5"/>
<line x1="455.44" y1="260.50" x2="455.44" y2="261.70" stroke="#666" stroke-width="0.5"/>
<line x1="456.70" y1="260.50" x2="456.70" y2="261.70" stroke="#666" stroke-width="0.5"/>
<line x1="457.80" y1="260.50" x2="457.80" y2="261.70" stroke="#666" stroke-width="0.5"/>
<line x1="458.80" y1="260.50" x2="458.80" y2="262.70" stroke="#2b2b2b" stroke-width="0.9"/>
<line x1="465.32" y1="260.50" x2="465.32" y2="261.70" stroke="#666" stroke-width="0.5"/>
<line x1="469.13" y1="260.50" x2="469.13" y2="261.70" stroke="#666" stroke-width="0.5"/>
<line x1="471.83" y1="260.50" x2="471.83" y2="261.70" stroke="#666" stroke-width="0.5"/>
<line x1="473.93" y1="260.50" x2="473.93" y2="261.70" stroke="#666" stroke-width="0.5"/>
<line x1="475.64" y1="260.50" x2="475.64" y2="261.70" stroke="#666" stroke-width="0.5"/>
<line x1="477.09" y1="260.50" x2="477.09" y2="261.70" stroke="#666" stroke-width="0.5"/>
<line x1="478.35" y1="260.50" x2="478.35" y2="261.70" stroke="#666" stroke-width="0.5"/>
<line x1="479.45" y1="260.50" x2="479.45" y2="261.70" stroke="#666" stroke-width="0.5"/>
<line x1="480.45" y1="260.50" x2="480.45" y2="262.70" stroke="#2b2b2b" stroke-width="0.9"/>
<line x1="486.97" y1="260.50" x2="486.97" y2="261.70" stroke="#666" stroke-width="0.5"/>
<line x1="490.78" y1="260.50" x2="490.78" y2="261.70" stroke="#666" stroke-width="0.5"/>
<line x1="493.48" y1="260.50" x2="493.48" y2="261.70" stroke="#666" stroke-width="0.5"/>
<line x1="495.58" y1="260.50" x2="495.58" y2="261.70" stroke="#666" stroke-width="0.5"/>
<line x1="497.29" y1="260.50" x2="497.29" y2="261.70" stroke="#666" stroke-width="0.5"/>
<line x1="498.74" y1="260.50" x2="498.74" y2="261.70" stroke="#666" stroke-width="0.5"/>
<line x1="500.00" y1="260.50" x2="500.00" y2="261.70" stroke="#666" stroke-width="0.5"/>
<line x1="501.10" y1="260.50" x2="501.10" y2="261.70" stroke="#666" stroke-width="0.5"/>
<line x1="502.10" y1="260.50" x2="502.10" y2="262.70" stroke="#2b2b2b" stroke-width="0.9"/>
<line x1="508.62" y1="260.50" x2="508.62" y2="261.70" stroke="#666" stroke-width="0.5"/>
<line x1="512.43" y1="260.50" x2="512.43" y2="261.70" stroke="#666" stroke-width="0.5"/>
<text x="393.92" y="184.70" font-size="8.43" fill="#231f20" stroke="#231f20" stroke-width="0.16" textLength="8.48" lengthAdjust="spacingAndGlyphs">10</text>
<text x="402.23" y="182.10" font-size="5.23" fill="#231f20" stroke="#231f20" stroke-width="0.16" textLength="3.75" lengthAdjust="spacingAndGlyphs">5</text>
<text x="393.92" y="206.75" font-size="8.43" fill="#231f20" stroke="#231f20" stroke-width="0.16" textLength="8.48" lengthAdjust="spacingAndGlyphs">10</text>
<text x="402.35" y="204.15" font-size="5.23" fill="#231f20" stroke="#231f20" stroke-width="0.16" textLength="3.53" lengthAdjust="spacingAndGlyphs">4</text>
<text x="393.92" y="228.80" font-size="8.43" fill="#231f20" stroke="#231f20" stroke-width="0.16" textLength="8.48" lengthAdjust="spacingAndGlyphs">10</text>
<text x="402.24" y="226.20" font-size="5.23" fill="#231f20" stroke="#231f20" stroke-width="0.16" textLength="3.75" lengthAdjust="spacingAndGlyphs">3</text>
<text x="393.92" y="250.85" font-size="8.43" fill="#231f20" stroke="#231f20" stroke-width="0.16" textLength="8.48" lengthAdjust="spacingAndGlyphs">10</text>
<text x="402.15" y="248.25" font-size="5.23" fill="#231f20" stroke="#231f20" stroke-width="0.16" textLength="3.91" lengthAdjust="spacingAndGlyphs">2</text>
<clipPath id="mn4"><polygon points="446.40,249.60 446.40,223.00 466.90,210.30 466.90,236.90"/></clipPath>
<clipPath id="nu4"><rect x="487.10" y="183.30" width="19.50" height="30.50"/></clipPath>
<path d="M452.7 233.8h0.8v0.8h-0.8zM461.3 227.6h0.8v0.8h-0.8zM452.8 235.0h0.8v0.8h-0.8zM471.3 225.7h0.8v0.8h-0.8zM449.0 229.4h0.8v0.8h-0.8zM459.6 229.8h0.8v0.8h-0.8zM444.8 236.2h0.8v0.8h-0.8zM460.8 233.1h0.8v0.8h-0.8zM451.9 235.3h0.8v0.8h-0.8zM473.0 220.6h0.8v0.8h-0.8zM458.8 227.9h0.8v0.8h-0.8zM466.3 226.4h0.8v0.8h-0.8zM451.5 240.8h0.8v0.8h-0.8zM456.7 239.0h0.8v0.8h-0.8zM459.9 229.3h0.8v0.8h-0.8zM446.2 232.0h0.8v0.8h-0.8zM465.5 218.7h0.8v0.8h-0.8zM454.8 228.0h0.8v0.8h-0.8zM463.9 228.8h0.8v0.8h-0.8zM463.8 227.0h0.8v0.8h-0.8zM460.0 229.1h0.8v0.8h-0.8zM466.2 223.5h0.8v0.8h-0.8zM457.5 233.2h0.8v0.8h-0.8zM461.5 224.4h0.8v0.8h-0.8zM472.1 223.3h0.8v0.8h-0.8zM462.5 227.0h0.8v0.8h-0.8zM461.0 226.8h0.8v0.8h-0.8zM455.4 227.7h0.8v0.8h-0.8zM459.6 226.5h0.8v0.8h-0.8zM464.6 223.4h0.8v0.8h-0.8zM459.0 229.5h0.8v0.8h-0.8zM450.3 239.0h0.8v0.8h-0.8zM461.6 226.9h0.8v0.8h-0.8zM457.3 227.0h0.8v0.8h-0.8zM463.4 224.8h0.8v0.8h-0.8zM457.3 224.9h0.8v0.8h-0.8zM467.5 215.4h0.8v0.8h-0.8zM452.3 235.1h0.8v0.8h-0.8zM457.4 236.5h0.8v0.8h-0.8zM465.6 224.5h0.8v0.8h-0.8zM455.2 235.5h0.8v0.8h-0.8zM459.8 223.7h0.8v0.8h-0.8zM459.7 227.5h0.8v0.8h-0.8zM451.7 243.4h0.8v0.8h-0.8zM467.4 225.8h0.8v0.8h-0.8zM464.9 215.8h0.8v0.8h-0.8zM460.9 225.9h0.8v0.8h-0.8zM453.2 238.1h0.8v0.8h-0.8zM466.0 223.3h0.8v0.8h-0.8zM455.0 235.4h0.8v0.8h-0.8zM461.7 230.2h0.8v0.8h-0.8zM459.6 222.5h0.8v0.8h-0.8zM460.1 236.5h0.8v0.8h-0.8zM448.6 237.8h0.8v0.8h-0.8zM460.1 229.2h0.8v0.8h-0.8zM461.8 229.4h0.8v0.8h-0.8zM458.8 236.3h0.8v0.8h-0.8zM458.6 235.3h0.8v0.8h-0.8zM466.9 224.6h0.8v0.8h-0.8zM463.3 231.2h0.8v0.8h-0.8zM457.8 231.1h0.8v0.8h-0.8zM459.2 233.7h0.8v0.8h-0.8zM465.3 229.9h0.8v0.8h-0.8zM459.5 226.1h0.8v0.8h-0.8zM456.5 226.7h0.8v0.8h-0.8zM450.7 235.9h0.8v0.8h-0.8zM462.1 233.4h0.8v0.8h-0.8zM460.2 234.9h0.8v0.8h-0.8zM460.3 227.0h0.8v0.8h-0.8zM467.7 220.6h0.8v0.8h-0.8zM467.1 222.5h0.8v0.8h-0.8zM466.8 225.7h0.8v0.8h-0.8zM456.9 223.8h0.8v0.8h-0.8zM457.6 229.4h0.8v0.8h-0.8zM462.0 225.4h0.8v0.8h-0.8zM458.9 232.1h0.8v0.8h-0.8zM459.1 230.7h0.8v0.8h-0.8zM455.4 233.4h0.8v0.8h-0.8zM461.1 229.1h0.8v0.8h-0.8zM454.2 223.9h0.8v0.8h-0.8zM478.2 221.3h0.8v0.8h-0.8zM465.7 225.9h0.8v0.8h-0.8zM460.8 232.5h0.8v0.8h-0.8zM463.4 221.6h0.8v0.8h-0.8zM459.1 232.3h0.8v0.8h-0.8zM471.2 225.1h0.8v0.8h-0.8zM469.4 226.3h0.8v0.8h-0.8zM476.8 208.3h0.8v0.8h-0.8zM451.9 233.3h0.8v0.8h-0.8zM460.7 229.0h0.8v0.8h-0.8zM459.4 228.4h0.8v0.8h-0.8zM464.4 227.8h0.8v0.8h-0.8zM461.6 220.9h0.8v0.8h-0.8zM455.0 234.6h0.8v0.8h-0.8zM457.4 233.7h0.8v0.8h-0.8zM461.3 225.2h0.8v0.8h-0.8zM468.6 223.5h0.8v0.8h-0.8zM451.9 233.8h0.8v0.8h-0.8zM449.3 236.6h0.8v0.8h-0.8zM466.2 219.7h0.8v0.8h-0.8zM467.4 224.0h0.8v0.8h-0.8zM466.0 220.2h0.8v0.8h-0.8zM454.0 233.8h0.8v0.8h-0.8zM461.6 231.1h0.8v0.8h-0.8zM462.5 227.1h0.8v0.8h-0.8zM461.9 224.2h0.8v0.8h-0.8zM460.4 229.3h0.8v0.8h-0.8zM459.9 228.1h0.8v0.8h-0.8zM467.7 222.4h0.8v0.8h-0.8zM458.7 231.5h0.8v0.8h-0.8zM455.9 230.5h0.8v0.8h-0.8zM457.3 230.3h0.8v0.8h-0.8zM457.0 230.9h0.8v0.8h-0.8zM462.4 228.0h0.8v0.8h-0.8zM460.5 230.4h0.8v0.8h-0.8zM456.4 229.6h0.8v0.8h-0.8zM468.1 218.1h0.8v0.8h-0.8zM463.1 226.7h0.8v0.8h-0.8zM461.6 232.6h0.8v0.8h-0.8zM468.2 220.0h0.8v0.8h-0.8zM462.4 235.7h0.8v0.8h-0.8zM460.8 228.3h0.8v0.8h-0.8zM462.0 230.2h0.8v0.8h-0.8zM456.9 231.5h0.8v0.8h-0.8zM456.3 228.9h0.8v0.8h-0.8zM461.5 227.8h0.8v0.8h-0.8zM454.1 238.9h0.8v0.8h-0.8zM459.4 231.5h0.8v0.8h-0.8zM462.5 226.8h0.8v0.8h-0.8zM461.5 225.7h0.8v0.8h-0.8zM460.4 224.6h0.8v0.8h-0.8zM472.7 211.7h0.8v0.8h-0.8zM465.5 224.6h0.8v0.8h-0.8zM462.3 231.0h0.8v0.8h-0.8zM452.2 222.8h0.8v0.8h-0.8zM462.2 229.4h0.8v0.8h-0.8zM465.7 227.3h0.8v0.8h-0.8zM462.2 232.6h0.8v0.8h-0.8zM469.8 218.7h0.8v0.8h-0.8zM456.4 237.0h0.8v0.8h-0.8zM463.1 223.1h0.8v0.8h-0.8zM463.3 224.6h0.8v0.8h-0.8zM455.9 237.0h0.8v0.8h-0.8zM461.5 221.9h0.8v0.8h-0.8zM461.9 222.9h0.8v0.8h-0.8zM457.8 232.9h0.8v0.8h-0.8zM470.0 210.0h0.8v0.8h-0.8zM464.7 223.5h0.8v0.8h-0.8zM455.4 227.6h0.8v0.8h-0.8zM458.6 231.8h0.8v0.8h-0.8zM456.8 233.3h0.8v0.8h-0.8zM460.8 225.4h0.8v0.8h-0.8zM458.8 226.0h0.8v0.8h-0.8zM451.9 236.8h0.8v0.8h-0.8zM449.8 231.0h0.8v0.8h-0.8zM456.0 232.3h0.8v0.8h-0.8zM458.9 231.2h0.8v0.8h-0.8zM461.7 233.0h0.8v0.8h-0.8zM455.9 231.8h0.8v0.8h-0.8zM463.8 223.6h0.8v0.8h-0.8zM469.2 224.5h0.8v0.8h-0.8zM465.3 231.0h0.8v0.8h-0.8zM447.8 242.1h0.8v0.8h-0.8zM462.4 231.3h0.8v0.8h-0.8zM466.6 226.7h0.8v0.8h-0.8zM461.5 229.8h0.8v0.8h-0.8zM459.8 224.5h0.8v0.8h-0.8zM459.0 225.7h0.8v0.8h-0.8zM454.1 239.4h0.8v0.8h-0.8zM452.7 249.7h0.8v0.8h-0.8zM463.6 223.7h0.8v0.8h-0.8zM461.7 234.7h0.8v0.8h-0.8zM467.5 229.0h0.8v0.8h-0.8zM456.1 227.9h0.8v0.8h-0.8zM458.4 228.2h0.8v0.8h-0.8zM471.7 221.9h0.8v0.8h-0.8zM456.7 238.2h0.8v0.8h-0.8zM462.0 229.3h0.8v0.8h-0.8zM454.8 235.6h0.8v0.8h-0.8zM462.6 229.0h0.8v0.8h-0.8zM461.8 223.8h0.8v0.8h-0.8zM470.2 228.6h0.8v0.8h-0.8zM458.8 225.0h0.8v0.8h-0.8zM449.0 234.1h0.8v0.8h-0.8zM462.4 226.9h0.8v0.8h-0.8zM469.0 225.0h0.8v0.8h-0.8zM464.9 220.6h0.8v0.8h-0.8zM472.1 213.7h0.8v0.8h-0.8zM461.3 222.5h0.8v0.8h-0.8zM455.1 235.0h0.8v0.8h-0.8zM455.5 229.8h0.8v0.8h-0.8zM458.8 225.8h0.8v0.8h-0.8zM462.8 218.4h0.8v0.8h-0.8zM453.3 234.9h0.8v0.8h-0.8zM470.1 225.6h0.8v0.8h-0.8zM464.1 223.7h0.8v0.8h-0.8zM456.5 234.5h0.8v0.8h-0.8zM469.3 228.4h0.8v0.8h-0.8zM455.1 232.2h0.8v0.8h-0.8zM458.3 226.4h0.8v0.8h-0.8zM460.4 231.3h0.8v0.8h-0.8zM459.1 224.3h0.8v0.8h-0.8zM455.2 236.8h0.8v0.8h-0.8zM466.3 226.9h0.8v0.8h-0.8zM446.5 240.8h0.8v0.8h-0.8zM457.3 230.0h0.8v0.8h-0.8zM461.8 235.3h0.8v0.8h-0.8zM466.6 215.6h0.8v0.8h-0.8zM462.0 223.3h0.8v0.8h-0.8zM458.7 232.0h0.8v0.8h-0.8z" fill="#c9a6d8" fill-opacity="0.35"/>
<g clip-path="url(#mn4)">
<path d="M450.6 234.1h0.9v0.9h-0.9zM455.1 242.0h0.9v0.9h-0.9zM459.0 225.6h0.9v0.9h-0.9zM449.9 235.7h0.9v0.9h-0.9zM457.3 234.4h0.9v0.9h-0.9zM451.7 235.8h0.9v0.9h-0.9zM455.0 237.0h0.9v0.9h-0.9zM449.0 241.3h0.9v0.9h-0.9zM459.3 231.2h0.9v0.9h-0.9zM455.5 239.0h0.9v0.9h-0.9zM459.8 228.8h0.9v0.9h-0.9zM452.8 242.7h0.9v0.9h-0.9zM455.4 239.3h0.9v0.9h-0.9zM454.5 231.0h0.9v0.9h-0.9zM457.7 236.4h0.9v0.9h-0.9zM454.1 239.7h0.9v0.9h-0.9zM454.8 236.1h0.9v0.9h-0.9zM453.0 243.9h0.9v0.9h-0.9zM459.7 238.4h0.9v0.9h-0.9zM446.7 249.7h0.9v0.9h-0.9zM451.6 231.1h0.9v0.9h-0.9zM461.4 229.5h0.9v0.9h-0.9zM458.1 230.5h0.9v0.9h-0.9zM457.5 230.4h0.9v0.9h-0.9zM454.3 237.9h0.9v0.9h-0.9zM456.0 232.0h0.9v0.9h-0.9zM457.8 240.6h0.9v0.9h-0.9zM455.4 236.2h0.9v0.9h-0.9zM454.6 235.7h0.9v0.9h-0.9zM444.0 253.2h0.9v0.9h-0.9zM460.7 232.4h0.9v0.9h-0.9zM459.9 235.5h0.9v0.9h-0.9zM459.9 232.4h0.9v0.9h-0.9zM451.2 239.7h0.9v0.9h-0.9zM458.0 232.0h0.9v0.9h-0.9zM451.0 228.1h0.9v0.9h-0.9zM442.3 242.9h0.9v0.9h-0.9zM450.9 246.0h0.9v0.9h-0.9zM454.3 234.2h0.9v0.9h-0.9zM457.3 242.3h0.9v0.9h-0.9zM459.8 239.1h0.9v0.9h-0.9zM449.1 235.5h0.9v0.9h-0.9zM461.6 228.5h0.9v0.9h-0.9zM455.5 250.7h0.9v0.9h-0.9zM447.5 240.1h0.9v0.9h-0.9zM452.2 240.8h0.9v0.9h-0.9zM449.0 241.3h0.9v0.9h-0.9zM452.1 237.4h0.9v0.9h-0.9zM454.1 234.7h0.9v0.9h-0.9zM449.7 241.6h0.9v0.9h-0.9zM458.5 235.0h0.9v0.9h-0.9zM457.9 227.0h0.9v0.9h-0.9zM460.6 230.9h0.9v0.9h-0.9zM460.8 223.8h0.9v0.9h-0.9zM460.8 230.7h0.9v0.9h-0.9zM455.7 236.0h0.9v0.9h-0.9zM459.8 224.7h0.9v0.9h-0.9zM458.1 232.0h0.9v0.9h-0.9zM460.3 224.4h0.9v0.9h-0.9zM451.9 234.2h0.9v0.9h-0.9zM450.0 247.9h0.9v0.9h-0.9zM445.5 236.9h0.9v0.9h-0.9zM457.2 235.4h0.9v0.9h-0.9zM459.0 234.0h0.9v0.9h-0.9zM452.6 234.8h0.9v0.9h-0.9zM461.8 232.6h0.9v0.9h-0.9zM453.0 242.7h0.9v0.9h-0.9zM448.7 235.7h0.9v0.9h-0.9zM460.3 231.4h0.9v0.9h-0.9zM456.5 235.9h0.9v0.9h-0.9zM453.4 233.0h0.9v0.9h-0.9zM462.0 229.5h0.9v0.9h-0.9zM461.3 231.4h0.9v0.9h-0.9zM450.0 237.4h0.9v0.9h-0.9zM450.4 229.8h0.9v0.9h-0.9zM449.5 244.3h0.9v0.9h-0.9zM452.9 233.5h0.9v0.9h-0.9zM451.9 229.4h0.9v0.9h-0.9zM447.2 242.7h0.9v0.9h-0.9zM454.6 222.3h0.9v0.9h-0.9zM461.9 224.6h0.9v0.9h-0.9zM461.0 235.9h0.9v0.9h-0.9zM450.8 224.4h0.9v0.9h-0.9zM462.1 228.7h0.9v0.9h-0.9zM451.8 233.9h0.9v0.9h-0.9zM458.0 229.1h0.9v0.9h-0.9zM454.0 231.2h0.9v0.9h-0.9zM450.8 243.9h0.9v0.9h-0.9zM451.5 239.4h0.9v0.9h-0.9zM450.7 236.1h0.9v0.9h-0.9zM455.6 227.0h0.9v0.9h-0.9zM454.3 233.6h0.9v0.9h-0.9zM462.0 232.7h0.9v0.9h-0.9zM449.9 234.7h0.9v0.9h-0.9zM451.2 242.2h0.9v0.9h-0.9zM464.0 225.7h0.9v0.9h-0.9zM460.2 217.4h0.9v0.9h-0.9zM459.6 235.6h0.9v0.9h-0.9zM454.2 235.9h0.9v0.9h-0.9zM465.8 234.1h0.9v0.9h-0.9zM455.5 244.2h0.9v0.9h-0.9zM453.6 235.5h0.9v0.9h-0.9zM449.1 241.7h0.9v0.9h-0.9zM454.2 230.5h0.9v0.9h-0.9zM452.3 230.8h0.9v0.9h-0.9zM455.7 238.7h0.9v0.9h-0.9zM451.8 237.7h0.9v0.9h-0.9zM448.1 241.6h0.9v0.9h-0.9zM451.4 238.7h0.9v0.9h-0.9zM461.7 230.5h0.9v0.9h-0.9zM456.3 238.8h0.9v0.9h-0.9zM459.9 228.9h0.9v0.9h-0.9zM451.2 238.8h0.9v0.9h-0.9zM455.0 235.7h0.9v0.9h-0.9zM458.9 241.8h0.9v0.9h-0.9zM448.4 231.8h0.9v0.9h-0.9zM454.9 228.7h0.9v0.9h-0.9zM448.4 246.1h0.9v0.9h-0.9zM458.3 231.7h0.9v0.9h-0.9zM461.1 234.3h0.9v0.9h-0.9zM458.7 237.9h0.9v0.9h-0.9zM460.8 239.0h0.9v0.9h-0.9zM452.0 234.4h0.9v0.9h-0.9zM459.4 233.0h0.9v0.9h-0.9zM454.6 234.2h0.9v0.9h-0.9zM454.4 241.3h0.9v0.9h-0.9zM456.2 234.7h0.9v0.9h-0.9zM461.2 232.3h0.9v0.9h-0.9zM454.5 231.6h0.9v0.9h-0.9zM455.6 235.3h0.9v0.9h-0.9zM454.5 232.9h0.9v0.9h-0.9zM452.4 236.9h0.9v0.9h-0.9zM452.0 236.3h0.9v0.9h-0.9zM444.9 242.0h0.9v0.9h-0.9zM457.4 238.4h0.9v0.9h-0.9zM459.7 230.9h0.9v0.9h-0.9zM456.6 239.3h0.9v0.9h-0.9zM448.8 237.3h0.9v0.9h-0.9zM453.2 226.4h0.9v0.9h-0.9zM453.9 232.8h0.9v0.9h-0.9zM455.2 234.0h0.9v0.9h-0.9zM459.1 234.5h0.9v0.9h-0.9zM460.7 233.9h0.9v0.9h-0.9zM458.3 237.9h0.9v0.9h-0.9zM456.1 242.5h0.9v0.9h-0.9zM463.8 228.2h0.9v0.9h-0.9zM455.6 235.0h0.9v0.9h-0.9zM450.0 237.1h0.9v0.9h-0.9zM457.7 235.6h0.9v0.9h-0.9zM458.3 228.1h0.9v0.9h-0.9zM447.4 240.2h0.9v0.9h-0.9zM461.8 230.0h0.9v0.9h-0.9zM455.2 236.2h0.9v0.9h-0.9zM465.1 227.2h0.9v0.9h-0.9zM455.7 230.2h0.9v0.9h-0.9zM457.9 238.1h0.9v0.9h-0.9zM460.9 229.7h0.9v0.9h-0.9zM459.5 228.5h0.9v0.9h-0.9zM451.6 235.1h0.9v0.9h-0.9zM453.0 231.5h0.9v0.9h-0.9zM449.3 234.6h0.9v0.9h-0.9zM462.5 233.7h0.9v0.9h-0.9zM445.8 238.8h0.9v0.9h-0.9zM456.1 237.3h0.9v0.9h-0.9zM446.2 244.8h0.9v0.9h-0.9zM455.8 230.9h0.9v0.9h-0.9zM445.2 244.8h0.9v0.9h-0.9zM450.7 240.0h0.9v0.9h-0.9zM458.6 235.7h0.9v0.9h-0.9zM455.3 238.0h0.9v0.9h-0.9zM453.4 237.2h0.9v0.9h-0.9zM447.6 236.7h0.9v0.9h-0.9zM448.4 233.4h0.9v0.9h-0.9zM453.5 247.6h0.9v0.9h-0.9zM453.6 231.3h0.9v0.9h-0.9zM453.9 227.7h0.9v0.9h-0.9zM461.1 233.8h0.9v0.9h-0.9zM450.8 231.9h0.9v0.9h-0.9zM461.8 230.7h0.9v0.9h-0.9zM459.4 234.8h0.9v0.9h-0.9zM459.5 230.9h0.9v0.9h-0.9zM459.3 235.2h0.9v0.9h-0.9zM451.4 231.8h0.9v0.9h-0.9zM448.8 236.0h0.9v0.9h-0.9zM444.4 247.3h0.9v0.9h-0.9zM457.6 231.9h0.9v0.9h-0.9zM454.4 235.4h0.9v0.9h-0.9zM464.0 226.4h0.9v0.9h-0.9zM445.4 243.0h0.9v0.9h-0.9zM452.4 226.3h0.9v0.9h-0.9zM452.6 240.5h0.9v0.9h-0.9zM454.4 234.5h0.9v0.9h-0.9zM453.9 241.1h0.9v0.9h-0.9zM462.2 237.9h0.9v0.9h-0.9zM455.2 235.4h0.9v0.9h-0.9zM460.1 232.1h0.9v0.9h-0.9zM453.2 232.4h0.9v0.9h-0.9zM459.4 234.7h0.9v0.9h-0.9zM460.9 229.6h0.9v0.9h-0.9zM457.8 233.1h0.9v0.9h-0.9zM457.1 237.7h0.9v0.9h-0.9zM456.7 226.6h0.9v0.9h-0.9zM456.2 236.8h0.9v0.9h-0.9zM457.9 234.1h0.9v0.9h-0.9zM458.2 240.1h0.9v0.9h-0.9zM447.6 234.3h0.9v0.9h-0.9zM443.3 249.3h0.9v0.9h-0.9zM463.8 236.5h0.9v0.9h-0.9zM449.5 239.7h0.9v0.9h-0.9zM456.7 230.5h0.9v0.9h-0.9zM466.9 230.2h0.9v0.9h-0.9zM456.9 246.9h0.9v0.9h-0.9zM458.8 231.0h0.9v0.9h-0.9zM452.7 233.9h0.9v0.9h-0.9zM455.2 231.5h0.9v0.9h-0.9zM449.4 239.9h0.9v0.9h-0.9zM452.9 233.0h0.9v0.9h-0.9zM453.5 232.5h0.9v0.9h-0.9zM461.1 228.5h0.9v0.9h-0.9zM463.4 224.8h0.9v0.9h-0.9zM457.6 234.5h0.9v0.9h-0.9zM453.8 236.8h0.9v0.9h-0.9zM460.3 221.7h0.9v0.9h-0.9zM456.7 237.1h0.9v0.9h-0.9zM455.6 235.8h0.9v0.9h-0.9zM453.9 233.2h0.9v0.9h-0.9zM456.1 232.2h0.9v0.9h-0.9zM458.7 232.3h0.9v0.9h-0.9zM453.1 237.9h0.9v0.9h-0.9zM454.3 235.2h0.9v0.9h-0.9zM464.4 227.6h0.9v0.9h-0.9zM464.2 229.6h0.9v0.9h-0.9zM455.9 232.1h0.9v0.9h-0.9zM456.1 233.6h0.9v0.9h-0.9zM451.2 233.7h0.9v0.9h-0.9zM458.6 229.7h0.9v0.9h-0.9zM454.4 238.5h0.9v0.9h-0.9zM458.0 236.3h0.9v0.9h-0.9zM453.8 237.5h0.9v0.9h-0.9zM452.5 237.8h0.9v0.9h-0.9zM453.3 233.2h0.9v0.9h-0.9zM455.7 235.4h0.9v0.9h-0.9zM449.9 235.4h0.9v0.9h-0.9zM455.2 235.6h0.9v0.9h-0.9zM455.4 234.7h0.9v0.9h-0.9zM450.8 235.2h0.9v0.9h-0.9zM453.5 238.8h0.9v0.9h-0.9zM454.0 235.2h0.9v0.9h-0.9zM459.5 232.9h0.9v0.9h-0.9zM458.0 228.6h0.9v0.9h-0.9zM457.2 235.1h0.9v0.9h-0.9zM458.4 239.7h0.9v0.9h-0.9zM455.5 235.5h0.9v0.9h-0.9zM464.6 227.5h0.9v0.9h-0.9zM456.9 229.1h0.9v0.9h-0.9zM450.5 238.8h0.9v0.9h-0.9zM449.7 231.1h0.9v0.9h-0.9zM452.7 237.2h0.9v0.9h-0.9zM450.6 234.2h0.9v0.9h-0.9zM449.0 243.3h0.9v0.9h-0.9zM449.5 230.3h0.9v0.9h-0.9zM447.5 239.6h0.9v0.9h-0.9zM453.1 238.0h0.9v0.9h-0.9zM462.0 228.5h0.9v0.9h-0.9zM454.4 226.5h0.9v0.9h-0.9zM450.6 238.2h0.9v0.9h-0.9zM458.2 245.5h0.9v0.9h-0.9zM453.8 241.1h0.9v0.9h-0.9zM448.3 244.4h0.9v0.9h-0.9zM443.8 233.7h0.9v0.9h-0.9zM451.5 234.2h0.9v0.9h-0.9zM452.5 241.1h0.9v0.9h-0.9zM458.7 231.8h0.9v0.9h-0.9zM456.2 236.2h0.9v0.9h-0.9zM455.7 239.6h0.9v0.9h-0.9zM462.1 226.7h0.9v0.9h-0.9zM460.2 233.4h0.9v0.9h-0.9zM450.5 230.7h0.9v0.9h-0.9zM469.1 231.5h0.9v0.9h-0.9zM459.3 228.0h0.9v0.9h-0.9zM450.6 236.9h0.9v0.9h-0.9zM460.5 236.7h0.9v0.9h-0.9zM455.1 238.4h0.9v0.9h-0.9zM452.3 244.0h0.9v0.9h-0.9zM460.7 224.4h0.9v0.9h-0.9zM461.6 228.3h0.9v0.9h-0.9zM452.2 242.6h0.9v0.9h-0.9zM453.9 230.1h0.9v0.9h-0.9zM448.2 242.4h0.9v0.9h-0.9zM458.6 229.2h0.9v0.9h-0.9zM454.1 234.6h0.9v0.9h-0.9zM452.1 234.8h0.9v0.9h-0.9zM456.5 226.1h0.9v0.9h-0.9zM456.3 235.8h0.9v0.9h-0.9zM454.8 236.7h0.9v0.9h-0.9zM461.8 233.0h0.9v0.9h-0.9zM453.8 236.2h0.9v0.9h-0.9zM456.6 229.2h0.9v0.9h-0.9zM451.1 231.8h0.9v0.9h-0.9zM458.5 231.1h0.9v0.9h-0.9zM456.7 231.2h0.9v0.9h-0.9zM463.7 235.5h0.9v0.9h-0.9zM457.5 244.8h0.9v0.9h-0.9zM466.7 229.3h0.9v0.9h-0.9zM452.0 233.7h0.9v0.9h-0.9zM458.1 223.3h0.9v0.9h-0.9zM452.2 237.3h0.9v0.9h-0.9zM451.6 234.3h0.9v0.9h-0.9zM458.0 239.3h0.9v0.9h-0.9zM459.9 229.6h0.9v0.9h-0.9zM452.3 236.1h0.9v0.9h-0.9zM456.7 232.9h0.9v0.9h-0.9zM452.5 245.3h0.9v0.9h-0.9zM450.7 235.2h0.9v0.9h-0.9zM457.3 234.9h0.9v0.9h-0.9zM451.1 232.6h0.9v0.9h-0.9zM447.3 243.6h0.9v0.9h-0.9zM455.2 231.0h0.9v0.9h-0.9zM452.2 240.3h0.9v0.9h-0.9zM463.0 225.8h0.9v0.9h-0.9zM457.7 238.5h0.9v0.9h-0.9zM465.7 225.4h0.9v0.9h-0.9zM456.0 230.4h0.9v0.9h-0.9zM453.2 229.8h0.9v0.9h-0.9zM451.0 235.5h0.9v0.9h-0.9zM453.5 234.6h0.9v0.9h-0.9zM456.2 232.2h0.9v0.9h-0.9zM445.5 242.8h0.9v0.9h-0.9zM461.9 232.4h0.9v0.9h-0.9zM453.1 242.7h0.9v0.9h-0.9zM453.4 235.6h0.9v0.9h-0.9zM443.1 247.2h0.9v0.9h-0.9zM456.2 232.2h0.9v0.9h-0.9zM457.9 231.2h0.9v0.9h-0.9zM456.1 233.5h0.9v0.9h-0.9zM451.9 229.8h0.9v0.9h-0.9zM452.5 235.8h0.9v0.9h-0.9zM450.5 230.1h0.9v0.9h-0.9zM459.9 229.1h0.9v0.9h-0.9zM455.3 238.5h0.9v0.9h-0.9zM454.1 230.1h0.9v0.9h-0.9zM458.4 231.7h0.9v0.9h-0.9zM452.5 234.7h0.9v0.9h-0.9zM454.1 232.2h0.9v0.9h-0.9zM461.3 238.1h0.9v0.9h-0.9zM455.6 239.3h0.9v0.9h-0.9zM465.9 224.1h0.9v0.9h-0.9zM452.2 236.1h0.9v0.9h-0.9zM462.9 227.4h0.9v0.9h-0.9zM458.7 229.3h0.9v0.9h-0.9zM448.4 245.9h0.9v0.9h-0.9zM453.6 231.7h0.9v0.9h-0.9zM458.9 229.7h0.9v0.9h-0.9zM457.2 230.1h0.9v0.9h-0.9zM447.7 236.3h0.9v0.9h-0.9zM460.7 237.3h0.9v0.9h-0.9zM452.7 242.6h0.9v0.9h-0.9zM448.9 238.3h0.9v0.9h-0.9zM450.1 232.9h0.9v0.9h-0.9zM453.8 232.4h0.9v0.9h-0.9zM459.0 225.2h0.9v0.9h-0.9zM454.8 231.8h0.9v0.9h-0.9zM455.1 226.4h0.9v0.9h-0.9zM448.1 239.0h0.9v0.9h-0.9zM450.7 240.7h0.9v0.9h-0.9zM454.3 238.2h0.9v0.9h-0.9zM456.5 222.0h0.9v0.9h-0.9zM449.8 241.5h0.9v0.9h-0.9zM446.2 240.5h0.9v0.9h-0.9zM451.9 233.0h0.9v0.9h-0.9zM458.8 228.4h0.9v0.9h-0.9zM446.8 241.4h0.9v0.9h-0.9zM456.0 237.7h0.9v0.9h-0.9zM451.7 243.1h0.9v0.9h-0.9zM459.9 227.1h0.9v0.9h-0.9zM456.0 230.1h0.9v0.9h-0.9zM461.1 237.5h0.9v0.9h-0.9zM460.0 239.3h0.9v0.9h-0.9zM455.2 236.9h0.9v0.9h-0.9zM455.2 233.9h0.9v0.9h-0.9zM455.3 240.3h0.9v0.9h-0.9zM455.6 242.5h0.9v0.9h-0.9zM449.3 239.3h0.9v0.9h-0.9zM460.1 238.8h0.9v0.9h-0.9zM451.5 238.5h0.9v0.9h-0.9zM461.5 233.0h0.9v0.9h-0.9zM445.4 244.2h0.9v0.9h-0.9zM457.5 232.3h0.9v0.9h-0.9zM455.9 231.3h0.9v0.9h-0.9zM459.9 229.0h0.9v0.9h-0.9zM456.9 238.4h0.9v0.9h-0.9zM446.7 240.4h0.9v0.9h-0.9zM450.6 238.8h0.9v0.9h-0.9zM461.0 230.6h0.9v0.9h-0.9zM452.6 235.4h0.9v0.9h-0.9zM459.1 241.4h0.9v0.9h-0.9zM448.7 234.6h0.9v0.9h-0.9zM461.8 240.8h0.9v0.9h-0.9zM452.3 234.6h0.9v0.9h-0.9zM451.6 244.8h0.9v0.9h-0.9zM457.2 241.4h0.9v0.9h-0.9zM460.5 231.2h0.9v0.9h-0.9zM456.8 224.7h0.9v0.9h-0.9zM453.6 234.8h0.9v0.9h-0.9zM453.2 237.6h0.9v0.9h-0.9zM461.9 229.5h0.9v0.9h-0.9zM457.1 238.0h0.9v0.9h-0.9zM453.6 243.2h0.9v0.9h-0.9zM458.6 238.8h0.9v0.9h-0.9zM455.1 229.4h0.9v0.9h-0.9zM463.9 229.5h0.9v0.9h-0.9zM448.3 233.5h0.9v0.9h-0.9zM457.6 232.6h0.9v0.9h-0.9zM450.8 234.2h0.9v0.9h-0.9zM454.6 225.4h0.9v0.9h-0.9zM458.6 235.7h0.9v0.9h-0.9zM456.0 233.6h0.9v0.9h-0.9zM453.9 242.0h0.9v0.9h-0.9zM449.4 233.0h0.9v0.9h-0.9zM450.4 233.9h0.9v0.9h-0.9zM440.6 252.5h0.9v0.9h-0.9zM456.5 229.3h0.9v0.9h-0.9zM455.2 235.2h0.9v0.9h-0.9zM452.5 234.6h0.9v0.9h-0.9zM452.7 236.0h0.9v0.9h-0.9zM452.0 232.3h0.9v0.9h-0.9zM459.6 236.6h0.9v0.9h-0.9zM449.0 240.7h0.9v0.9h-0.9zM452.2 231.7h0.9v0.9h-0.9zM457.4 235.9h0.9v0.9h-0.9zM456.5 235.9h0.9v0.9h-0.9zM449.8 242.8h0.9v0.9h-0.9zM455.1 236.1h0.9v0.9h-0.9zM448.9 240.4h0.9v0.9h-0.9zM456.0 232.9h0.9v0.9h-0.9zM454.0 223.6h0.9v0.9h-0.9zM454.1 227.2h0.9v0.9h-0.9zM450.3 233.9h0.9v0.9h-0.9zM453.7 238.3h0.9v0.9h-0.9zM456.2 240.5h0.9v0.9h-0.9zM455.9 232.9h0.9v0.9h-0.9zM451.7 237.7h0.9v0.9h-0.9zM456.1 240.1h0.9v0.9h-0.9zM444.2 246.5h0.9v0.9h-0.9zM453.5 240.6h0.9v0.9h-0.9zM453.2 239.8h0.9v0.9h-0.9zM449.2 234.7h0.9v0.9h-0.9zM460.7 229.7h0.9v0.9h-0.9zM450.3 242.1h0.9v0.9h-0.9zM446.6 239.0h0.9v0.9h-0.9zM454.5 229.7h0.9v0.9h-0.9zM447.6 237.0h0.9v0.9h-0.9zM458.2 238.8h0.9v0.9h-0.9zM461.6 238.8h0.9v0.9h-0.9zM457.1 236.5h0.9v0.9h-0.9zM456.4 242.3h0.9v0.9h-0.9zM454.9 227.5h0.9v0.9h-0.9zM464.8 230.7h0.9v0.9h-0.9zM456.6 244.3h0.9v0.9h-0.9zM458.5 239.9h0.9v0.9h-0.9zM456.1 228.3h0.9v0.9h-0.9zM457.2 238.4h0.9v0.9h-0.9zM450.8 239.7h0.9v0.9h-0.9zM456.4 239.5h0.9v0.9h-0.9zM456.5 229.4h0.9v0.9h-0.9zM451.2 239.9h0.9v0.9h-0.9zM454.4 232.5h0.9v0.9h-0.9zM457.9 234.1h0.9v0.9h-0.9zM452.2 238.0h0.9v0.9h-0.9zM460.4 234.7h0.9v0.9h-0.9zM459.9 233.5h0.9v0.9h-0.9zM460.1 231.0h0.9v0.9h-0.9zM458.6 230.3h0.9v0.9h-0.9zM448.3 241.6h0.9v0.9h-0.9zM458.5 230.6h0.9v0.9h-0.9zM459.4 233.8h0.9v0.9h-0.9zM459.2 230.4h0.9v0.9h-0.9zM452.5 239.8h0.9v0.9h-0.9zM458.5 230.4h0.9v0.9h-0.9zM456.3 233.0h0.9v0.9h-0.9z" fill="#d8a0dc" fill-opacity="0.55"/>
<path d="M456.1 241.7h0.9v0.9h-0.9zM442.4 238.3h0.9v0.9h-0.9zM457.7 235.4h0.9v0.9h-0.9zM454.0 232.5h0.9v0.9h-0.9zM455.1 242.9h0.9v0.9h-0.9zM458.0 227.3h0.9v0.9h-0.9zM452.6 242.1h0.9v0.9h-0.9zM455.0 230.6h0.9v0.9h-0.9zM452.5 233.2h0.9v0.9h-0.9zM456.6 236.1h0.9v0.9h-0.9zM459.2 233.1h0.9v0.9h-0.9zM455.4 231.4h0.9v0.9h-0.9zM458.9 239.8h0.9v0.9h-0.9zM450.2 239.5h0.9v0.9h-0.9zM453.5 243.1h0.9v0.9h-0.9zM452.5 233.6h0.9v0.9h-0.9zM456.8 228.4h0.9v0.9h-0.9zM456.8 232.8h0.9v0.9h-0.9zM451.9 234.5h0.9v0.9h-0.9zM455.9 235.5h0.9v0.9h-0.9zM451.7 229.9h0.9v0.9h-0.9zM459.5 229.7h0.9v0.9h-0.9zM450.6 238.0h0.9v0.9h-0.9zM454.2 231.7h0.9v0.9h-0.9zM455.3 235.3h0.9v0.9h-0.9zM451.3 238.5h0.9v0.9h-0.9zM450.0 239.1h0.9v0.9h-0.9zM459.5 232.5h0.9v0.9h-0.9zM455.6 235.2h0.9v0.9h-0.9zM454.1 237.4h0.9v0.9h-0.9zM457.0 237.7h0.9v0.9h-0.9zM456.8 232.1h0.9v0.9h-0.9zM456.0 237.0h0.9v0.9h-0.9zM458.0 229.2h0.9v0.9h-0.9zM454.5 237.9h0.9v0.9h-0.9zM452.7 239.8h0.9v0.9h-0.9zM452.6 235.5h0.9v0.9h-0.9zM448.1 237.1h0.9v0.9h-0.9zM450.4 235.2h0.9v0.9h-0.9zM455.8 229.8h0.9v0.9h-0.9zM460.3 230.4h0.9v0.9h-0.9zM455.6 233.4h0.9v0.9h-0.9zM454.0 234.7h0.9v0.9h-0.9zM452.2 240.2h0.9v0.9h-0.9zM452.5 241.0h0.9v0.9h-0.9zM457.9 236.8h0.9v0.9h-0.9zM453.3 234.4h0.9v0.9h-0.9zM453.4 239.1h0.9v0.9h-0.9zM454.1 238.8h0.9v0.9h-0.9zM456.8 228.5h0.9v0.9h-0.9zM457.2 232.4h0.9v0.9h-0.9zM452.3 234.3h0.9v0.9h-0.9zM454.2 234.7h0.9v0.9h-0.9zM458.7 231.8h0.9v0.9h-0.9zM451.7 231.9h0.9v0.9h-0.9zM453.0 233.7h0.9v0.9h-0.9zM447.6 240.7h0.9v0.9h-0.9zM449.1 242.5h0.9v0.9h-0.9zM446.8 242.0h0.9v0.9h-0.9zM448.0 245.1h0.9v0.9h-0.9zM452.2 234.7h0.9v0.9h-0.9zM454.0 233.9h0.9v0.9h-0.9zM452.6 240.3h0.9v0.9h-0.9zM456.0 234.8h0.9v0.9h-0.9zM455.7 234.5h0.9v0.9h-0.9zM453.7 236.2h0.9v0.9h-0.9zM451.6 243.2h0.9v0.9h-0.9zM461.1 232.7h0.9v0.9h-0.9zM457.4 230.2h0.9v0.9h-0.9zM450.8 237.0h0.9v0.9h-0.9zM457.8 226.9h0.9v0.9h-0.9zM457.6 238.6h0.9v0.9h-0.9zM449.8 237.5h0.9v0.9h-0.9zM450.1 235.4h0.9v0.9h-0.9zM448.9 243.5h0.9v0.9h-0.9zM455.1 239.0h0.9v0.9h-0.9zM446.7 240.1h0.9v0.9h-0.9zM457.2 231.5h0.9v0.9h-0.9zM452.1 232.5h0.9v0.9h-0.9zM448.4 240.1h0.9v0.9h-0.9zM459.0 236.4h0.9v0.9h-0.9zM449.2 242.8h0.9v0.9h-0.9zM454.0 235.0h0.9v0.9h-0.9zM455.6 234.3h0.9v0.9h-0.9zM454.8 236.2h0.9v0.9h-0.9zM450.4 240.1h0.9v0.9h-0.9zM451.3 234.5h0.9v0.9h-0.9zM451.1 234.8h0.9v0.9h-0.9zM458.2 239.0h0.9v0.9h-0.9zM457.0 229.1h0.9v0.9h-0.9zM461.5 231.5h0.9v0.9h-0.9zM457.3 228.8h0.9v0.9h-0.9zM454.7 240.5h0.9v0.9h-0.9zM453.2 239.9h0.9v0.9h-0.9zM453.6 235.6h0.9v0.9h-0.9zM459.4 237.5h0.9v0.9h-0.9zM445.9 242.3h0.9v0.9h-0.9zM451.7 237.9h0.9v0.9h-0.9zM457.7 227.8h0.9v0.9h-0.9zM448.7 239.5h0.9v0.9h-0.9zM451.0 238.2h0.9v0.9h-0.9zM449.9 237.1h0.9v0.9h-0.9zM454.8 233.6h0.9v0.9h-0.9zM457.0 238.8h0.9v0.9h-0.9zM449.5 234.4h0.9v0.9h-0.9zM446.9 239.7h0.9v0.9h-0.9zM453.9 232.1h0.9v0.9h-0.9zM453.1 235.2h0.9v0.9h-0.9zM454.0 240.1h0.9v0.9h-0.9zM455.5 237.0h0.9v0.9h-0.9zM457.4 233.8h0.9v0.9h-0.9zM450.0 241.9h0.9v0.9h-0.9zM454.1 245.7h0.9v0.9h-0.9zM448.6 238.1h0.9v0.9h-0.9zM449.0 237.5h0.9v0.9h-0.9zM444.7 247.5h0.9v0.9h-0.9zM452.6 238.6h0.9v0.9h-0.9zM456.9 231.4h0.9v0.9h-0.9zM451.3 235.9h0.9v0.9h-0.9zM454.4 230.0h0.9v0.9h-0.9zM444.7 246.5h0.9v0.9h-0.9zM452.2 235.3h0.9v0.9h-0.9zM457.2 229.9h0.9v0.9h-0.9zM456.6 228.3h0.9v0.9h-0.9zM455.2 240.0h0.9v0.9h-0.9zM452.4 239.9h0.9v0.9h-0.9zM458.9 237.5h0.9v0.9h-0.9zM449.3 239.8h0.9v0.9h-0.9zM453.0 237.5h0.9v0.9h-0.9zM448.4 242.0h0.9v0.9h-0.9zM454.3 235.7h0.9v0.9h-0.9zM453.5 235.6h0.9v0.9h-0.9zM458.6 229.5h0.9v0.9h-0.9zM451.1 231.5h0.9v0.9h-0.9zM451.5 238.1h0.9v0.9h-0.9zM455.1 237.5h0.9v0.9h-0.9zM446.2 237.8h0.9v0.9h-0.9zM453.4 235.3h0.9v0.9h-0.9zM454.5 237.7h0.9v0.9h-0.9zM457.8 236.4h0.9v0.9h-0.9zM456.7 232.3h0.9v0.9h-0.9zM448.9 244.3h0.9v0.9h-0.9zM458.5 237.6h0.9v0.9h-0.9zM458.8 235.3h0.9v0.9h-0.9zM449.5 239.8h0.9v0.9h-0.9zM458.5 227.8h0.9v0.9h-0.9zM453.9 240.4h0.9v0.9h-0.9zM461.9 227.0h0.9v0.9h-0.9zM455.3 232.1h0.9v0.9h-0.9zM456.5 231.9h0.9v0.9h-0.9zM455.5 235.5h0.9v0.9h-0.9zM456.7 231.8h0.9v0.9h-0.9zM450.3 239.5h0.9v0.9h-0.9zM451.1 238.7h0.9v0.9h-0.9zM445.1 241.1h0.9v0.9h-0.9zM459.1 236.7h0.9v0.9h-0.9zM454.3 240.7h0.9v0.9h-0.9zM459.3 235.6h0.9v0.9h-0.9zM455.5 233.5h0.9v0.9h-0.9zM450.2 241.3h0.9v0.9h-0.9zM457.3 234.2h0.9v0.9h-0.9zM456.4 236.3h0.9v0.9h-0.9zM450.9 232.3h0.9v0.9h-0.9zM456.1 234.8h0.9v0.9h-0.9zM451.9 234.5h0.9v0.9h-0.9zM453.9 235.8h0.9v0.9h-0.9zM455.9 230.9h0.9v0.9h-0.9zM454.4 242.5h0.9v0.9h-0.9zM451.4 241.4h0.9v0.9h-0.9zM451.6 238.9h0.9v0.9h-0.9zM459.9 234.3h0.9v0.9h-0.9zM452.9 237.1h0.9v0.9h-0.9zM458.3 227.5h0.9v0.9h-0.9zM444.3 247.4h0.9v0.9h-0.9zM451.1 238.1h0.9v0.9h-0.9zM452.7 237.8h0.9v0.9h-0.9zM456.5 236.3h0.9v0.9h-0.9zM457.8 230.7h0.9v0.9h-0.9zM453.3 236.6h0.9v0.9h-0.9zM453.0 241.5h0.9v0.9h-0.9zM457.1 233.3h0.9v0.9h-0.9zM460.6 231.6h0.9v0.9h-0.9zM446.5 246.0h0.9v0.9h-0.9zM453.1 231.7h0.9v0.9h-0.9zM452.6 233.1h0.9v0.9h-0.9zM448.1 236.5h0.9v0.9h-0.9zM454.8 239.6h0.9v0.9h-0.9zM455.7 235.6h0.9v0.9h-0.9zM453.1 235.1h0.9v0.9h-0.9zM451.3 235.4h0.9v0.9h-0.9zM451.2 241.0h0.9v0.9h-0.9zM454.6 234.7h0.9v0.9h-0.9zM452.6 239.0h0.9v0.9h-0.9zM452.6 234.3h0.9v0.9h-0.9zM450.0 236.5h0.9v0.9h-0.9zM457.8 237.8h0.9v0.9h-0.9zM454.3 231.6h0.9v0.9h-0.9zM454.7 235.1h0.9v0.9h-0.9zM458.7 235.6h0.9v0.9h-0.9zM446.1 238.4h0.9v0.9h-0.9zM456.8 235.4h0.9v0.9h-0.9zM455.0 235.0h0.9v0.9h-0.9zM451.8 238.2h0.9v0.9h-0.9zM454.0 237.1h0.9v0.9h-0.9zM443.1 244.8h0.9v0.9h-0.9zM449.8 232.2h0.9v0.9h-0.9zM456.5 240.6h0.9v0.9h-0.9zM446.6 244.2h0.9v0.9h-0.9zM457.3 235.5h0.9v0.9h-0.9zM454.3 240.2h0.9v0.9h-0.9zM455.4 235.4h0.9v0.9h-0.9zM454.2 237.7h0.9v0.9h-0.9zM456.9 235.3h0.9v0.9h-0.9zM457.4 238.2h0.9v0.9h-0.9zM454.1 237.9h0.9v0.9h-0.9zM458.0 236.1h0.9v0.9h-0.9zM455.9 232.4h0.9v0.9h-0.9zM446.3 244.0h0.9v0.9h-0.9zM454.2 236.1h0.9v0.9h-0.9zM453.0 238.9h0.9v0.9h-0.9zM451.7 241.1h0.9v0.9h-0.9zM461.8 234.2h0.9v0.9h-0.9zM458.6 233.7h0.9v0.9h-0.9zM451.0 240.1h0.9v0.9h-0.9zM454.6 243.4h0.9v0.9h-0.9zM457.1 233.4h0.9v0.9h-0.9zM452.8 239.0h0.9v0.9h-0.9zM454.0 238.1h0.9v0.9h-0.9zM447.4 243.0h0.9v0.9h-0.9zM451.4 234.8h0.9v0.9h-0.9zM457.7 231.9h0.9v0.9h-0.9zM452.0 237.3h0.9v0.9h-0.9zM451.9 235.1h0.9v0.9h-0.9zM459.5 229.6h0.9v0.9h-0.9zM456.2 232.4h0.9v0.9h-0.9zM457.1 229.7h0.9v0.9h-0.9zM452.3 230.8h0.9v0.9h-0.9zM457.3 231.2h0.9v0.9h-0.9zM452.5 245.2h0.9v0.9h-0.9zM453.3 240.6h0.9v0.9h-0.9zM451.1 244.1h0.9v0.9h-0.9zM460.7 227.5h0.9v0.9h-0.9zM456.7 237.0h0.9v0.9h-0.9zM452.3 235.4h0.9v0.9h-0.9zM450.8 238.2h0.9v0.9h-0.9zM452.0 240.7h0.9v0.9h-0.9zM442.6 244.4h0.9v0.9h-0.9zM460.9 227.6h0.9v0.9h-0.9zM454.3 236.8h0.9v0.9h-0.9zM457.6 238.5h0.9v0.9h-0.9zM448.3 240.3h0.9v0.9h-0.9zM454.6 236.9h0.9v0.9h-0.9zM453.8 233.6h0.9v0.9h-0.9zM452.6 235.5h0.9v0.9h-0.9zM450.4 229.4h0.9v0.9h-0.9zM449.6 237.7h0.9v0.9h-0.9zM457.3 236.6h0.9v0.9h-0.9zM457.7 233.5h0.9v0.9h-0.9zM456.0 234.2h0.9v0.9h-0.9zM460.1 238.5h0.9v0.9h-0.9zM454.8 237.3h0.9v0.9h-0.9zM448.5 237.8h0.9v0.9h-0.9zM455.2 233.6h0.9v0.9h-0.9zM452.7 237.4h0.9v0.9h-0.9zM454.3 242.2h0.9v0.9h-0.9zM454.5 231.7h0.9v0.9h-0.9zM450.0 242.8h0.9v0.9h-0.9zM454.3 239.7h0.9v0.9h-0.9zM454.7 231.8h0.9v0.9h-0.9zM457.0 232.6h0.9v0.9h-0.9zM448.8 234.3h0.9v0.9h-0.9zM454.4 236.0h0.9v0.9h-0.9zM451.2 230.5h0.9v0.9h-0.9zM453.0 235.7h0.9v0.9h-0.9zM455.1 241.7h0.9v0.9h-0.9zM456.1 235.0h0.9v0.9h-0.9zM454.6 235.5h0.9v0.9h-0.9zM454.6 235.9h0.9v0.9h-0.9zM461.7 235.2h0.9v0.9h-0.9zM456.0 235.8h0.9v0.9h-0.9zM454.7 239.4h0.9v0.9h-0.9zM453.6 234.7h0.9v0.9h-0.9zM459.0 228.0h0.9v0.9h-0.9zM449.7 237.1h0.9v0.9h-0.9zM452.8 236.8h0.9v0.9h-0.9zM450.2 238.0h0.9v0.9h-0.9zM457.0 236.3h0.9v0.9h-0.9zM451.5 241.9h0.9v0.9h-0.9zM455.1 234.2h0.9v0.9h-0.9zM455.2 232.3h0.9v0.9h-0.9zM445.8 234.4h0.9v0.9h-0.9zM450.2 238.3h0.9v0.9h-0.9zM450.1 242.2h0.9v0.9h-0.9zM455.4 236.9h0.9v0.9h-0.9zM444.4 235.4h0.9v0.9h-0.9zM447.3 234.6h0.9v0.9h-0.9zM453.0 237.9h0.9v0.9h-0.9zM449.8 237.0h0.9v0.9h-0.9zM456.1 232.5h0.9v0.9h-0.9zM457.9 229.2h0.9v0.9h-0.9zM448.7 245.1h0.9v0.9h-0.9zM447.8 236.2h0.9v0.9h-0.9zM453.6 234.2h0.9v0.9h-0.9zM452.7 241.5h0.9v0.9h-0.9zM452.8 238.4h0.9v0.9h-0.9zM453.0 233.9h0.9v0.9h-0.9zM459.1 231.5h0.9v0.9h-0.9zM458.1 232.0h0.9v0.9h-0.9zM451.3 235.7h0.9v0.9h-0.9zM455.8 236.6h0.9v0.9h-0.9zM454.2 238.5h0.9v0.9h-0.9zM453.2 236.5h0.9v0.9h-0.9zM452.3 242.0h0.9v0.9h-0.9zM446.3 240.9h0.9v0.9h-0.9zM454.4 238.7h0.9v0.9h-0.9zM456.6 232.0h0.9v0.9h-0.9zM454.4 231.6h0.9v0.9h-0.9zM447.2 242.2h0.9v0.9h-0.9zM455.7 238.6h0.9v0.9h-0.9zM451.0 237.5h0.9v0.9h-0.9zM454.2 234.4h0.9v0.9h-0.9zM449.4 239.2h0.9v0.9h-0.9zM455.2 231.3h0.9v0.9h-0.9zM455.3 238.3h0.9v0.9h-0.9zM460.2 237.4h0.9v0.9h-0.9zM459.3 234.8h0.9v0.9h-0.9zM449.1 244.2h0.9v0.9h-0.9zM454.9 238.1h0.9v0.9h-0.9zM457.9 229.7h0.9v0.9h-0.9zM453.1 235.2h0.9v0.9h-0.9zM454.8 230.2h0.9v0.9h-0.9zM458.2 236.7h0.9v0.9h-0.9zM451.8 237.4h0.9v0.9h-0.9zM453.4 233.8h0.9v0.9h-0.9zM455.9 231.0h0.9v0.9h-0.9zM458.3 231.4h0.9v0.9h-0.9zM457.3 229.6h0.9v0.9h-0.9zM450.7 240.3h0.9v0.9h-0.9zM456.8 233.1h0.9v0.9h-0.9zM452.5 243.4h0.9v0.9h-0.9zM451.1 234.5h0.9v0.9h-0.9zM454.0 237.3h0.9v0.9h-0.9zM454.5 232.5h0.9v0.9h-0.9zM454.1 234.1h0.9v0.9h-0.9zM461.0 233.9h0.9v0.9h-0.9zM453.4 239.4h0.9v0.9h-0.9zM455.8 232.2h0.9v0.9h-0.9zM456.2 235.3h0.9v0.9h-0.9zM454.0 236.0h0.9v0.9h-0.9zM452.6 242.4h0.9v0.9h-0.9zM454.7 233.1h0.9v0.9h-0.9zM455.9 235.6h0.9v0.9h-0.9zM456.0 232.7h0.9v0.9h-0.9zM453.9 236.2h0.9v0.9h-0.9zM452.9 236.8h0.9v0.9h-0.9zM453.9 233.6h0.9v0.9h-0.9zM455.6 234.4h0.9v0.9h-0.9zM458.0 235.0h0.9v0.9h-0.9zM458.5 227.9h0.9v0.9h-0.9zM451.4 237.8h0.9v0.9h-0.9z" fill="#ac48b0" fill-opacity="0.55"/>
<path d="M453.5 235.7h0.9v0.9h-0.9zM453.5 240.8h0.9v0.9h-0.9zM452.0 232.3h0.9v0.9h-0.9zM454.3 234.9h0.9v0.9h-0.9zM448.8 243.9h0.9v0.9h-0.9zM451.8 238.9h0.9v0.9h-0.9zM451.3 240.4h0.9v0.9h-0.9zM453.7 233.8h0.9v0.9h-0.9zM452.5 232.4h0.9v0.9h-0.9zM448.4 238.6h0.9v0.9h-0.9zM450.9 238.4h0.9v0.9h-0.9zM454.0 238.1h0.9v0.9h-0.9zM452.3 238.1h0.9v0.9h-0.9zM457.1 237.0h0.9v0.9h-0.9zM455.3 234.4h0.9v0.9h-0.9zM454.6 235.6h0.9v0.9h-0.9zM455.7 234.2h0.9v0.9h-0.9zM452.4 232.2h0.9v0.9h-0.9zM453.8 237.9h0.9v0.9h-0.9zM450.3 236.8h0.9v0.9h-0.9zM450.8 238.5h0.9v0.9h-0.9zM458.5 237.6h0.9v0.9h-0.9zM453.0 233.0h0.9v0.9h-0.9zM455.4 234.3h0.9v0.9h-0.9zM452.8 238.2h0.9v0.9h-0.9zM452.4 238.2h0.9v0.9h-0.9zM453.6 236.2h0.9v0.9h-0.9zM454.9 232.8h0.9v0.9h-0.9zM456.9 238.5h0.9v0.9h-0.9zM450.4 233.9h0.9v0.9h-0.9zM449.6 238.0h0.9v0.9h-0.9zM456.3 237.6h0.9v0.9h-0.9zM455.1 236.2h0.9v0.9h-0.9zM449.8 238.6h0.9v0.9h-0.9zM455.5 231.0h0.9v0.9h-0.9zM450.6 239.2h0.9v0.9h-0.9zM459.2 237.7h0.9v0.9h-0.9zM453.4 238.1h0.9v0.9h-0.9zM451.8 235.2h0.9v0.9h-0.9zM451.7 239.4h0.9v0.9h-0.9zM450.8 237.7h0.9v0.9h-0.9zM456.9 236.9h0.9v0.9h-0.9zM453.1 237.9h0.9v0.9h-0.9zM454.2 239.5h0.9v0.9h-0.9zM455.2 234.7h0.9v0.9h-0.9zM457.8 237.5h0.9v0.9h-0.9zM454.0 237.0h0.9v0.9h-0.9zM454.0 236.7h0.9v0.9h-0.9zM455.2 231.0h0.9v0.9h-0.9zM452.0 236.9h0.9v0.9h-0.9zM454.5 236.4h0.9v0.9h-0.9zM453.2 235.2h0.9v0.9h-0.9zM453.9 243.9h0.9v0.9h-0.9zM448.8 242.3h0.9v0.9h-0.9zM452.1 235.7h0.9v0.9h-0.9zM456.5 235.8h0.9v0.9h-0.9zM452.6 235.7h0.9v0.9h-0.9zM452.5 238.9h0.9v0.9h-0.9zM451.5 238.6h0.9v0.9h-0.9zM453.7 233.8h0.9v0.9h-0.9zM454.5 239.5h0.9v0.9h-0.9zM449.7 241.5h0.9v0.9h-0.9zM456.2 236.4h0.9v0.9h-0.9zM453.0 235.9h0.9v0.9h-0.9zM451.6 234.1h0.9v0.9h-0.9zM453.4 232.6h0.9v0.9h-0.9zM455.1 232.7h0.9v0.9h-0.9zM454.0 235.2h0.9v0.9h-0.9zM452.7 237.5h0.9v0.9h-0.9zM449.2 243.4h0.9v0.9h-0.9zM451.7 234.6h0.9v0.9h-0.9zM453.1 237.7h0.9v0.9h-0.9zM454.0 231.8h0.9v0.9h-0.9zM454.8 232.6h0.9v0.9h-0.9zM458.1 238.8h0.9v0.9h-0.9zM458.0 234.8h0.9v0.9h-0.9zM452.3 236.7h0.9v0.9h-0.9zM455.7 239.3h0.9v0.9h-0.9zM453.4 241.0h0.9v0.9h-0.9zM453.7 238.9h0.9v0.9h-0.9zM455.8 238.2h0.9v0.9h-0.9zM455.0 233.7h0.9v0.9h-0.9zM451.2 238.8h0.9v0.9h-0.9zM453.4 233.7h0.9v0.9h-0.9zM459.0 231.3h0.9v0.9h-0.9zM448.1 239.1h0.9v0.9h-0.9zM451.7 237.0h0.9v0.9h-0.9zM453.8 237.5h0.9v0.9h-0.9zM454.4 233.6h0.9v0.9h-0.9zM457.9 231.9h0.9v0.9h-0.9zM458.6 235.8h0.9v0.9h-0.9zM451.4 235.8h0.9v0.9h-0.9zM453.4 241.0h0.9v0.9h-0.9zM451.8 236.3h0.9v0.9h-0.9zM451.5 235.9h0.9v0.9h-0.9zM453.9 236.6h0.9v0.9h-0.9zM452.7 240.7h0.9v0.9h-0.9zM455.2 231.9h0.9v0.9h-0.9zM450.3 238.0h0.9v0.9h-0.9zM453.8 234.5h0.9v0.9h-0.9zM452.4 235.5h0.9v0.9h-0.9zM450.9 240.2h0.9v0.9h-0.9zM452.1 235.9h0.9v0.9h-0.9zM452.7 236.6h0.9v0.9h-0.9zM453.2 237.9h0.9v0.9h-0.9zM454.1 234.2h0.9v0.9h-0.9zM453.8 239.7h0.9v0.9h-0.9zM457.5 229.1h0.9v0.9h-0.9zM454.3 232.9h0.9v0.9h-0.9zM454.2 242.0h0.9v0.9h-0.9zM449.9 245.7h0.9v0.9h-0.9zM455.9 233.6h0.9v0.9h-0.9zM454.9 237.3h0.9v0.9h-0.9zM453.7 237.2h0.9v0.9h-0.9zM450.1 239.0h0.9v0.9h-0.9zM450.9 241.8h0.9v0.9h-0.9zM449.4 242.5h0.9v0.9h-0.9zM460.6 231.5h0.9v0.9h-0.9zM453.7 230.3h0.9v0.9h-0.9zM453.1 239.5h0.9v0.9h-0.9zM457.4 232.0h0.9v0.9h-0.9zM447.9 241.2h0.9v0.9h-0.9zM453.9 234.5h0.9v0.9h-0.9zM453.9 234.5h0.9v0.9h-0.9zM449.1 237.7h0.9v0.9h-0.9zM451.1 237.5h0.9v0.9h-0.9zM452.0 240.8h0.9v0.9h-0.9zM450.7 235.0h0.9v0.9h-0.9zM455.3 232.9h0.9v0.9h-0.9zM451.5 231.3h0.9v0.9h-0.9zM453.0 235.1h0.9v0.9h-0.9zM456.1 234.4h0.9v0.9h-0.9zM449.0 241.8h0.9v0.9h-0.9zM457.5 231.5h0.9v0.9h-0.9zM451.2 235.7h0.9v0.9h-0.9zM451.0 241.3h0.9v0.9h-0.9zM450.8 236.9h0.9v0.9h-0.9zM453.0 239.9h0.9v0.9h-0.9zM453.6 237.0h0.9v0.9h-0.9zM453.1 235.6h0.9v0.9h-0.9zM450.2 245.3h0.9v0.9h-0.9zM455.2 233.0h0.9v0.9h-0.9zM458.4 233.5h0.9v0.9h-0.9zM450.9 240.0h0.9v0.9h-0.9zM456.3 232.9h0.9v0.9h-0.9zM457.3 234.7h0.9v0.9h-0.9zM455.9 234.7h0.9v0.9h-0.9zM456.6 232.5h0.9v0.9h-0.9zM449.8 240.7h0.9v0.9h-0.9zM454.9 235.2h0.9v0.9h-0.9zM450.9 239.9h0.9v0.9h-0.9zM457.7 230.0h0.9v0.9h-0.9zM449.3 238.4h0.9v0.9h-0.9zM446.3 237.2h0.9v0.9h-0.9zM455.3 233.7h0.9v0.9h-0.9zM454.0 235.0h0.9v0.9h-0.9zM455.0 238.4h0.9v0.9h-0.9zM454.0 237.2h0.9v0.9h-0.9zM456.1 236.7h0.9v0.9h-0.9zM459.5 234.4h0.9v0.9h-0.9zM451.3 238.8h0.9v0.9h-0.9zM450.5 237.5h0.9v0.9h-0.9zM453.0 239.6h0.9v0.9h-0.9zM451.9 236.5h0.9v0.9h-0.9zM452.6 236.6h0.9v0.9h-0.9zM452.4 242.4h0.9v0.9h-0.9zM454.5 236.8h0.9v0.9h-0.9zM451.9 241.9h0.9v0.9h-0.9zM450.2 236.2h0.9v0.9h-0.9zM452.5 237.7h0.9v0.9h-0.9zM454.2 239.1h0.9v0.9h-0.9zM454.3 231.3h0.9v0.9h-0.9zM456.9 232.7h0.9v0.9h-0.9zM456.0 234.5h0.9v0.9h-0.9zM452.9 229.7h0.9v0.9h-0.9zM454.9 239.8h0.9v0.9h-0.9zM455.0 232.2h0.9v0.9h-0.9zM452.7 237.0h0.9v0.9h-0.9zM456.1 238.4h0.9v0.9h-0.9zM450.8 234.0h0.9v0.9h-0.9zM450.8 241.3h0.9v0.9h-0.9zM451.0 238.1h0.9v0.9h-0.9zM452.7 237.5h0.9v0.9h-0.9zM452.5 235.0h0.9v0.9h-0.9zM454.9 239.0h0.9v0.9h-0.9zM449.4 238.0h0.9v0.9h-0.9zM451.0 240.7h0.9v0.9h-0.9zM453.9 237.6h0.9v0.9h-0.9zM450.2 240.2h0.9v0.9h-0.9zM450.0 239.9h0.9v0.9h-0.9zM452.4 237.0h0.9v0.9h-0.9zM455.0 237.8h0.9v0.9h-0.9zM451.9 239.9h0.9v0.9h-0.9zM448.9 241.9h0.9v0.9h-0.9zM451.9 234.9h0.9v0.9h-0.9zM455.1 234.9h0.9v0.9h-0.9zM452.9 238.8h0.9v0.9h-0.9zM452.1 238.0h0.9v0.9h-0.9zM450.1 245.3h0.9v0.9h-0.9zM452.0 232.1h0.9v0.9h-0.9zM454.5 243.1h0.9v0.9h-0.9zM454.3 234.8h0.9v0.9h-0.9zM449.9 237.2h0.9v0.9h-0.9zM450.0 235.2h0.9v0.9h-0.9zM453.9 238.6h0.9v0.9h-0.9zM449.9 242.7h0.9v0.9h-0.9zM458.8 229.1h0.9v0.9h-0.9zM449.5 241.3h0.9v0.9h-0.9zM453.5 236.9h0.9v0.9h-0.9zM450.5 238.7h0.9v0.9h-0.9z" fill="#842088" fill-opacity="0.55"/>
</g>
<path d="M499.0 191.1h0.9v0.9h-0.9zM495.7 192.8h0.9v0.9h-0.9zM494.5 198.2h0.9v0.9h-0.9zM490.1 207.4h0.9v0.9h-0.9zM501.6 191.5h0.9v0.9h-0.9zM494.4 201.2h0.9v0.9h-0.9zM494.9 206.4h0.9v0.9h-0.9zM500.8 191.5h0.9v0.9h-0.9zM499.0 196.8h0.9v0.9h-0.9zM489.6 210.2h0.9v0.9h-0.9zM490.3 207.8h0.9v0.9h-0.9zM495.4 201.3h0.9v0.9h-0.9zM490.9 204.8h0.9v0.9h-0.9zM500.4 203.6h0.9v0.9h-0.9zM507.1 185.6h0.9v0.9h-0.9zM507.9 183.1h0.9v0.9h-0.9zM497.4 200.1h0.9v0.9h-0.9zM503.7 198.3h0.9v0.9h-0.9zM503.5 197.4h0.9v0.9h-0.9zM495.7 199.2h0.9v0.9h-0.9zM491.9 207.6h0.9v0.9h-0.9zM502.0 194.4h0.9v0.9h-0.9zM495.5 199.6h0.9v0.9h-0.9zM499.7 197.8h0.9v0.9h-0.9zM500.7 196.5h0.9v0.9h-0.9zM493.0 202.8h0.9v0.9h-0.9zM507.8 194.2h0.9v0.9h-0.9zM495.5 197.3h0.9v0.9h-0.9zM500.6 200.6h0.9v0.9h-0.9zM499.6 205.4h0.9v0.9h-0.9zM504.6 199.8h0.9v0.9h-0.9zM501.1 194.2h0.9v0.9h-0.9zM493.2 200.8h0.9v0.9h-0.9zM494.5 192.1h0.9v0.9h-0.9zM494.1 200.5h0.9v0.9h-0.9zM497.1 210.0h0.9v0.9h-0.9zM490.7 196.6h0.9v0.9h-0.9zM494.8 192.1h0.9v0.9h-0.9zM500.6 197.7h0.9v0.9h-0.9zM502.3 194.6h0.9v0.9h-0.9zM488.5 197.7h0.9v0.9h-0.9zM494.7 199.9h0.9v0.9h-0.9zM497.3 198.9h0.9v0.9h-0.9zM494.9 192.1h0.9v0.9h-0.9zM498.1 201.2h0.9v0.9h-0.9zM488.6 200.2h0.9v0.9h-0.9zM492.3 208.6h0.9v0.9h-0.9zM501.7 193.2h0.9v0.9h-0.9zM498.9 191.7h0.9v0.9h-0.9zM489.1 198.1h0.9v0.9h-0.9zM501.6 190.5h0.9v0.9h-0.9zM495.6 198.6h0.9v0.9h-0.9zM497.7 196.0h0.9v0.9h-0.9zM500.0 191.0h0.9v0.9h-0.9zM493.5 200.4h0.9v0.9h-0.9zM495.0 204.2h0.9v0.9h-0.9zM486.3 204.9h0.9v0.9h-0.9zM496.9 196.5h0.9v0.9h-0.9zM499.2 197.3h0.9v0.9h-0.9zM499.8 194.2h0.9v0.9h-0.9zM500.9 197.5h0.9v0.9h-0.9zM500.6 201.5h0.9v0.9h-0.9zM500.2 192.1h0.9v0.9h-0.9zM492.3 204.0h0.9v0.9h-0.9zM490.3 190.0h0.9v0.9h-0.9zM497.4 195.2h0.9v0.9h-0.9zM497.3 200.6h0.9v0.9h-0.9zM500.7 187.5h0.9v0.9h-0.9zM501.4 199.3h0.9v0.9h-0.9zM497.1 187.6h0.9v0.9h-0.9zM503.4 197.1h0.9v0.9h-0.9zM494.0 198.2h0.9v0.9h-0.9zM501.8 186.7h0.9v0.9h-0.9zM499.7 191.9h0.9v0.9h-0.9zM495.5 197.8h0.9v0.9h-0.9zM493.0 196.8h0.9v0.9h-0.9zM488.1 200.4h0.9v0.9h-0.9zM494.1 198.0h0.9v0.9h-0.9zM497.5 201.8h0.9v0.9h-0.9zM498.1 198.4h0.9v0.9h-0.9zM497.7 203.6h0.9v0.9h-0.9zM497.0 194.3h0.9v0.9h-0.9zM494.9 198.1h0.9v0.9h-0.9zM488.5 205.4h0.9v0.9h-0.9zM494.3 201.3h0.9v0.9h-0.9zM493.4 203.9h0.9v0.9h-0.9zM495.1 208.7h0.9v0.9h-0.9zM496.8 201.3h0.9v0.9h-0.9zM500.5 194.4h0.9v0.9h-0.9zM494.8 207.0h0.9v0.9h-0.9zM485.5 206.5h0.9v0.9h-0.9zM492.1 196.3h0.9v0.9h-0.9zM510.7 185.3h0.9v0.9h-0.9zM494.0 201.7h0.9v0.9h-0.9zM497.6 197.4h0.9v0.9h-0.9zM496.7 202.6h0.9v0.9h-0.9zM499.0 193.5h0.9v0.9h-0.9zM502.0 191.1h0.9v0.9h-0.9zM496.4 200.1h0.9v0.9h-0.9zM502.9 194.1h0.9v0.9h-0.9zM494.0 206.0h0.9v0.9h-0.9zM497.3 197.7h0.9v0.9h-0.9zM491.3 205.2h0.9v0.9h-0.9zM490.7 192.1h0.9v0.9h-0.9zM496.6 204.2h0.9v0.9h-0.9zM493.1 193.7h0.9v0.9h-0.9zM491.2 203.8h0.9v0.9h-0.9zM503.6 203.0h0.9v0.9h-0.9zM495.8 197.1h0.9v0.9h-0.9zM489.6 197.7h0.9v0.9h-0.9z" fill="#dcd890" fill-opacity="0.55"/>
<g clip-path="url(#nu4)">
<path d="M500.1 190.9h0.9v0.9h-0.9zM494.8 202.4h0.9v0.9h-0.9zM498.0 202.3h0.9v0.9h-0.9zM494.9 199.5h0.9v0.9h-0.9zM494.7 192.6h0.9v0.9h-0.9zM499.5 196.5h0.9v0.9h-0.9zM493.3 197.9h0.9v0.9h-0.9zM499.1 193.7h0.9v0.9h-0.9zM492.9 203.3h0.9v0.9h-0.9zM498.0 196.0h0.9v0.9h-0.9zM492.4 200.8h0.9v0.9h-0.9zM497.9 195.8h0.9v0.9h-0.9zM493.6 202.2h0.9v0.9h-0.9zM494.3 201.1h0.9v0.9h-0.9zM503.7 195.1h0.9v0.9h-0.9zM485.8 198.7h0.9v0.9h-0.9zM489.2 202.1h0.9v0.9h-0.9zM496.0 195.0h0.9v0.9h-0.9zM495.2 200.6h0.9v0.9h-0.9zM493.6 200.4h0.9v0.9h-0.9zM495.7 200.1h0.9v0.9h-0.9zM500.4 187.3h0.9v0.9h-0.9zM490.7 202.3h0.9v0.9h-0.9zM494.9 200.4h0.9v0.9h-0.9zM495.4 197.5h0.9v0.9h-0.9zM490.7 201.7h0.9v0.9h-0.9zM495.2 198.9h0.9v0.9h-0.9zM499.4 198.7h0.9v0.9h-0.9zM488.0 199.1h0.9v0.9h-0.9zM501.6 195.9h0.9v0.9h-0.9zM491.1 203.5h0.9v0.9h-0.9zM492.9 197.7h0.9v0.9h-0.9zM497.2 197.9h0.9v0.9h-0.9zM506.7 185.0h0.9v0.9h-0.9zM490.4 207.4h0.9v0.9h-0.9zM494.6 196.0h0.9v0.9h-0.9zM505.8 189.1h0.9v0.9h-0.9zM491.1 199.5h0.9v0.9h-0.9zM499.4 194.2h0.9v0.9h-0.9zM496.8 198.4h0.9v0.9h-0.9zM489.4 204.2h0.9v0.9h-0.9zM497.4 197.6h0.9v0.9h-0.9zM490.6 201.2h0.9v0.9h-0.9zM496.9 199.5h0.9v0.9h-0.9zM488.5 203.9h0.9v0.9h-0.9zM496.4 194.2h0.9v0.9h-0.9zM485.7 208.3h0.9v0.9h-0.9zM494.1 199.0h0.9v0.9h-0.9zM498.2 191.7h0.9v0.9h-0.9zM498.1 197.3h0.9v0.9h-0.9zM493.3 199.6h0.9v0.9h-0.9zM495.0 200.2h0.9v0.9h-0.9zM490.8 198.0h0.9v0.9h-0.9zM502.7 185.0h0.9v0.9h-0.9zM494.2 198.2h0.9v0.9h-0.9zM493.1 197.0h0.9v0.9h-0.9zM491.9 201.2h0.9v0.9h-0.9zM494.0 201.1h0.9v0.9h-0.9zM498.9 197.4h0.9v0.9h-0.9zM495.0 203.0h0.9v0.9h-0.9zM493.1 202.9h0.9v0.9h-0.9zM491.6 199.6h0.9v0.9h-0.9zM494.4 200.6h0.9v0.9h-0.9zM494.6 196.9h0.9v0.9h-0.9zM493.9 201.2h0.9v0.9h-0.9zM492.4 197.6h0.9v0.9h-0.9zM494.3 203.4h0.9v0.9h-0.9zM500.1 193.7h0.9v0.9h-0.9zM494.7 197.5h0.9v0.9h-0.9zM491.4 197.7h0.9v0.9h-0.9zM496.4 197.5h0.9v0.9h-0.9zM493.8 197.8h0.9v0.9h-0.9zM489.5 205.3h0.9v0.9h-0.9zM493.0 198.1h0.9v0.9h-0.9zM500.0 190.6h0.9v0.9h-0.9zM497.7 197.1h0.9v0.9h-0.9zM501.6 195.5h0.9v0.9h-0.9zM490.3 199.3h0.9v0.9h-0.9zM489.0 204.3h0.9v0.9h-0.9zM492.9 201.8h0.9v0.9h-0.9zM499.6 192.4h0.9v0.9h-0.9zM490.4 201.9h0.9v0.9h-0.9zM495.5 204.8h0.9v0.9h-0.9zM497.5 192.5h0.9v0.9h-0.9zM494.5 199.9h0.9v0.9h-0.9zM493.3 198.5h0.9v0.9h-0.9zM496.1 196.6h0.9v0.9h-0.9zM491.4 194.7h0.9v0.9h-0.9zM495.2 200.9h0.9v0.9h-0.9zM495.4 197.0h0.9v0.9h-0.9zM490.6 200.0h0.9v0.9h-0.9zM497.4 200.9h0.9v0.9h-0.9zM496.8 195.2h0.9v0.9h-0.9zM489.9 201.9h0.9v0.9h-0.9zM492.6 198.0h0.9v0.9h-0.9zM492.4 204.7h0.9v0.9h-0.9zM497.6 195.3h0.9v0.9h-0.9zM496.6 195.3h0.9v0.9h-0.9zM496.1 192.5h0.9v0.9h-0.9zM497.2 192.7h0.9v0.9h-0.9zM499.2 194.6h0.9v0.9h-0.9zM497.4 195.3h0.9v0.9h-0.9zM488.6 198.7h0.9v0.9h-0.9zM496.8 193.2h0.9v0.9h-0.9zM491.8 202.5h0.9v0.9h-0.9zM507.9 192.5h0.9v0.9h-0.9zM494.7 196.0h0.9v0.9h-0.9zM493.4 192.6h0.9v0.9h-0.9zM491.5 204.6h0.9v0.9h-0.9zM498.0 193.2h0.9v0.9h-0.9zM497.0 191.5h0.9v0.9h-0.9zM490.0 205.8h0.9v0.9h-0.9zM492.4 200.4h0.9v0.9h-0.9zM491.5 198.9h0.9v0.9h-0.9zM490.3 199.2h0.9v0.9h-0.9zM499.7 192.4h0.9v0.9h-0.9zM503.0 189.4h0.9v0.9h-0.9zM488.0 200.2h0.9v0.9h-0.9zM500.3 195.4h0.9v0.9h-0.9zM491.8 197.6h0.9v0.9h-0.9zM502.2 194.6h0.9v0.9h-0.9zM486.3 209.1h0.9v0.9h-0.9zM492.9 199.9h0.9v0.9h-0.9zM499.9 193.7h0.9v0.9h-0.9zM491.0 200.7h0.9v0.9h-0.9zM499.1 193.3h0.9v0.9h-0.9zM495.7 202.9h0.9v0.9h-0.9zM498.1 192.7h0.9v0.9h-0.9zM498.3 197.1h0.9v0.9h-0.9zM491.8 198.8h0.9v0.9h-0.9zM492.0 201.5h0.9v0.9h-0.9zM495.8 200.5h0.9v0.9h-0.9zM497.1 191.7h0.9v0.9h-0.9zM495.4 198.9h0.9v0.9h-0.9zM488.8 198.0h0.9v0.9h-0.9zM505.2 182.7h0.9v0.9h-0.9zM488.3 204.4h0.9v0.9h-0.9zM495.4 200.6h0.9v0.9h-0.9zM498.0 197.1h0.9v0.9h-0.9zM489.4 201.4h0.9v0.9h-0.9zM494.6 198.2h0.9v0.9h-0.9zM493.6 200.4h0.9v0.9h-0.9zM486.8 202.3h0.9v0.9h-0.9zM497.2 197.1h0.9v0.9h-0.9zM492.8 205.1h0.9v0.9h-0.9zM494.1 203.3h0.9v0.9h-0.9zM498.4 192.3h0.9v0.9h-0.9zM490.0 202.5h0.9v0.9h-0.9zM495.5 194.5h0.9v0.9h-0.9zM498.4 192.7h0.9v0.9h-0.9zM498.1 193.8h0.9v0.9h-0.9zM497.7 197.4h0.9v0.9h-0.9zM494.1 199.5h0.9v0.9h-0.9zM488.1 202.9h0.9v0.9h-0.9zM496.7 199.0h0.9v0.9h-0.9zM497.9 197.8h0.9v0.9h-0.9zM491.9 199.6h0.9v0.9h-0.9zM490.8 202.2h0.9v0.9h-0.9zM497.9 194.6h0.9v0.9h-0.9zM488.2 200.4h0.9v0.9h-0.9zM496.7 196.7h0.9v0.9h-0.9zM494.1 201.4h0.9v0.9h-0.9zM491.8 208.3h0.9v0.9h-0.9zM501.1 191.9h0.9v0.9h-0.9zM496.6 195.4h0.9v0.9h-0.9zM496.6 195.9h0.9v0.9h-0.9zM490.6 205.2h0.9v0.9h-0.9zM495.6 200.1h0.9v0.9h-0.9zM494.4 196.0h0.9v0.9h-0.9zM492.3 201.8h0.9v0.9h-0.9zM502.0 192.4h0.9v0.9h-0.9zM484.0 204.0h0.9v0.9h-0.9zM499.6 197.5h0.9v0.9h-0.9zM487.4 206.1h0.9v0.9h-0.9zM490.4 206.3h0.9v0.9h-0.9zM489.9 203.8h0.9v0.9h-0.9zM496.5 195.7h0.9v0.9h-0.9zM492.0 201.4h0.9v0.9h-0.9zM492.7 201.7h0.9v0.9h-0.9zM492.8 203.6h0.9v0.9h-0.9zM488.8 204.3h0.9v0.9h-0.9zM489.6 200.6h0.9v0.9h-0.9zM489.9 201.6h0.9v0.9h-0.9zM491.9 198.4h0.9v0.9h-0.9zM494.6 201.2h0.9v0.9h-0.9zM484.2 207.2h0.9v0.9h-0.9zM494.8 203.5h0.9v0.9h-0.9zM499.4 193.6h0.9v0.9h-0.9zM492.8 200.4h0.9v0.9h-0.9zM496.5 200.8h0.9v0.9h-0.9zM491.4 201.1h0.9v0.9h-0.9zM491.6 201.1h0.9v0.9h-0.9zM495.6 200.1h0.9v0.9h-0.9zM490.8 205.4h0.9v0.9h-0.9zM492.3 197.9h0.9v0.9h-0.9zM492.5 209.2h0.9v0.9h-0.9zM496.8 198.1h0.9v0.9h-0.9zM486.7 203.5h0.9v0.9h-0.9zM496.7 195.7h0.9v0.9h-0.9zM499.8 195.8h0.9v0.9h-0.9zM488.9 205.9h0.9v0.9h-0.9zM498.5 197.1h0.9v0.9h-0.9zM496.9 203.9h0.9v0.9h-0.9zM500.4 195.2h0.9v0.9h-0.9zM495.9 203.9h0.9v0.9h-0.9zM494.6 200.9h0.9v0.9h-0.9zM492.4 199.0h0.9v0.9h-0.9zM501.7 195.7h0.9v0.9h-0.9zM486.2 205.9h0.9v0.9h-0.9zM498.9 196.9h0.9v0.9h-0.9zM495.9 199.3h0.9v0.9h-0.9zM491.3 199.6h0.9v0.9h-0.9zM492.5 198.8h0.9v0.9h-0.9zM497.7 194.6h0.9v0.9h-0.9zM498.2 195.9h0.9v0.9h-0.9zM503.0 193.6h0.9v0.9h-0.9zM492.3 201.6h0.9v0.9h-0.9zM490.7 209.5h0.9v0.9h-0.9zM493.9 202.4h0.9v0.9h-0.9zM492.8 198.7h0.9v0.9h-0.9z" fill="#a09a34" fill-opacity="0.5"/>
<path d="M491.8 200.6h0.9v0.9h-0.9zM495.0 199.1h0.9v0.9h-0.9zM493.8 201.7h0.9v0.9h-0.9zM493.3 198.7h0.9v0.9h-0.9zM495.1 194.9h0.9v0.9h-0.9zM495.3 198.2h0.9v0.9h-0.9zM498.3 196.5h0.9v0.9h-0.9zM492.9 201.9h0.9v0.9h-0.9zM491.1 201.4h0.9v0.9h-0.9zM491.4 204.9h0.9v0.9h-0.9zM489.0 205.2h0.9v0.9h-0.9zM494.2 201.6h0.9v0.9h-0.9zM493.9 198.2h0.9v0.9h-0.9zM494.6 200.4h0.9v0.9h-0.9zM496.1 200.4h0.9v0.9h-0.9zM500.2 191.6h0.9v0.9h-0.9zM491.1 202.7h0.9v0.9h-0.9zM494.6 200.8h0.9v0.9h-0.9zM493.8 201.5h0.9v0.9h-0.9zM492.4 202.7h0.9v0.9h-0.9zM498.7 194.5h0.9v0.9h-0.9zM492.9 197.8h0.9v0.9h-0.9zM498.5 194.9h0.9v0.9h-0.9zM489.9 201.9h0.9v0.9h-0.9zM500.5 192.8h0.9v0.9h-0.9zM499.0 189.1h0.9v0.9h-0.9zM493.7 203.7h0.9v0.9h-0.9zM496.8 201.1h0.9v0.9h-0.9zM494.9 200.1h0.9v0.9h-0.9zM495.5 196.5h0.9v0.9h-0.9zM490.5 203.4h0.9v0.9h-0.9zM497.2 198.5h0.9v0.9h-0.9zM497.7 197.4h0.9v0.9h-0.9zM492.2 200.6h0.9v0.9h-0.9zM489.2 208.2h0.9v0.9h-0.9zM493.5 202.3h0.9v0.9h-0.9zM494.2 201.1h0.9v0.9h-0.9zM496.7 196.2h0.9v0.9h-0.9zM492.9 201.3h0.9v0.9h-0.9zM490.5 202.5h0.9v0.9h-0.9zM496.8 197.3h0.9v0.9h-0.9zM495.2 197.3h0.9v0.9h-0.9zM498.3 197.8h0.9v0.9h-0.9zM495.0 199.1h0.9v0.9h-0.9zM498.2 195.8h0.9v0.9h-0.9zM496.7 197.8h0.9v0.9h-0.9zM489.7 205.7h0.9v0.9h-0.9zM493.8 197.1h0.9v0.9h-0.9zM498.5 197.8h0.9v0.9h-0.9zM495.0 199.2h0.9v0.9h-0.9zM498.6 193.6h0.9v0.9h-0.9zM492.3 199.8h0.9v0.9h-0.9zM496.1 196.1h0.9v0.9h-0.9zM490.4 202.8h0.9v0.9h-0.9zM494.8 199.2h0.9v0.9h-0.9zM492.1 200.2h0.9v0.9h-0.9zM491.9 202.7h0.9v0.9h-0.9zM491.0 203.8h0.9v0.9h-0.9zM494.7 197.7h0.9v0.9h-0.9zM498.5 199.9h0.9v0.9h-0.9zM492.7 201.3h0.9v0.9h-0.9zM491.4 203.8h0.9v0.9h-0.9zM492.2 202.3h0.9v0.9h-0.9zM496.9 196.4h0.9v0.9h-0.9zM491.9 204.0h0.9v0.9h-0.9zM499.8 196.6h0.9v0.9h-0.9zM489.6 204.9h0.9v0.9h-0.9zM494.7 197.4h0.9v0.9h-0.9zM497.4 197.4h0.9v0.9h-0.9zM496.1 192.8h0.9v0.9h-0.9zM493.6 200.8h0.9v0.9h-0.9zM492.2 201.6h0.9v0.9h-0.9zM490.8 204.4h0.9v0.9h-0.9zM495.8 194.5h0.9v0.9h-0.9zM493.9 199.2h0.9v0.9h-0.9zM492.2 199.7h0.9v0.9h-0.9zM492.9 200.1h0.9v0.9h-0.9zM496.2 198.8h0.9v0.9h-0.9zM494.6 198.8h0.9v0.9h-0.9zM497.7 194.5h0.9v0.9h-0.9zM489.5 207.7h0.9v0.9h-0.9zM497.3 196.2h0.9v0.9h-0.9zM490.9 199.0h0.9v0.9h-0.9zM493.4 198.4h0.9v0.9h-0.9zM494.3 200.6h0.9v0.9h-0.9zM495.0 199.8h0.9v0.9h-0.9zM497.3 196.7h0.9v0.9h-0.9zM495.7 198.6h0.9v0.9h-0.9zM489.4 203.2h0.9v0.9h-0.9zM494.4 199.3h0.9v0.9h-0.9zM493.1 198.3h0.9v0.9h-0.9zM494.9 197.0h0.9v0.9h-0.9zM493.9 198.1h0.9v0.9h-0.9zM493.6 198.6h0.9v0.9h-0.9zM497.5 195.2h0.9v0.9h-0.9zM491.2 202.6h0.9v0.9h-0.9zM500.5 190.8h0.9v0.9h-0.9zM494.2 202.1h0.9v0.9h-0.9zM491.1 202.2h0.9v0.9h-0.9zM498.8 197.9h0.9v0.9h-0.9zM499.1 196.3h0.9v0.9h-0.9zM497.2 193.6h0.9v0.9h-0.9zM500.1 194.9h0.9v0.9h-0.9zM494.6 196.1h0.9v0.9h-0.9zM496.5 200.3h0.9v0.9h-0.9zM496.2 198.1h0.9v0.9h-0.9zM493.6 198.1h0.9v0.9h-0.9zM490.6 198.8h0.9v0.9h-0.9zM499.1 193.1h0.9v0.9h-0.9zM498.7 191.5h0.9v0.9h-0.9zM496.0 200.1h0.9v0.9h-0.9zM492.6 198.6h0.9v0.9h-0.9zM493.0 200.5h0.9v0.9h-0.9zM490.1 205.3h0.9v0.9h-0.9zM492.7 201.4h0.9v0.9h-0.9zM493.4 201.1h0.9v0.9h-0.9zM494.4 198.8h0.9v0.9h-0.9zM492.5 203.2h0.9v0.9h-0.9zM487.9 204.7h0.9v0.9h-0.9zM497.3 197.3h0.9v0.9h-0.9zM498.6 191.9h0.9v0.9h-0.9zM488.4 206.5h0.9v0.9h-0.9zM493.0 198.4h0.9v0.9h-0.9zM497.1 195.9h0.9v0.9h-0.9zM491.8 203.6h0.9v0.9h-0.9zM491.7 205.2h0.9v0.9h-0.9zM492.8 197.1h0.9v0.9h-0.9zM493.1 199.0h0.9v0.9h-0.9zM491.7 200.2h0.9v0.9h-0.9zM501.0 194.5h0.9v0.9h-0.9zM498.3 193.0h0.9v0.9h-0.9zM497.5 197.4h0.9v0.9h-0.9zM493.9 198.7h0.9v0.9h-0.9zM492.1 198.7h0.9v0.9h-0.9zM497.5 196.0h0.9v0.9h-0.9zM492.7 198.7h0.9v0.9h-0.9zM500.1 194.5h0.9v0.9h-0.9zM499.4 195.5h0.9v0.9h-0.9zM494.4 202.3h0.9v0.9h-0.9zM495.9 195.3h0.9v0.9h-0.9zM501.2 195.1h0.9v0.9h-0.9zM497.8 197.6h0.9v0.9h-0.9zM489.9 200.4h0.9v0.9h-0.9zM496.4 202.0h0.9v0.9h-0.9zM495.6 201.7h0.9v0.9h-0.9zM494.0 197.5h0.9v0.9h-0.9zM495.2 199.1h0.9v0.9h-0.9zM492.2 198.8h0.9v0.9h-0.9zM497.2 195.8h0.9v0.9h-0.9zM499.1 194.4h0.9v0.9h-0.9zM493.8 201.4h0.9v0.9h-0.9zM489.4 203.2h0.9v0.9h-0.9zM495.9 197.6h0.9v0.9h-0.9zM493.8 197.9h0.9v0.9h-0.9zM496.5 197.8h0.9v0.9h-0.9zM493.5 201.9h0.9v0.9h-0.9zM495.8 197.9h0.9v0.9h-0.9zM493.3 203.1h0.9v0.9h-0.9zM499.0 195.8h0.9v0.9h-0.9zM500.4 193.4h0.9v0.9h-0.9zM493.3 203.2h0.9v0.9h-0.9zM485.6 206.6h0.9v0.9h-0.9zM493.3 200.5h0.9v0.9h-0.9zM491.3 198.9h0.9v0.9h-0.9zM495.4 198.1h0.9v0.9h-0.9zM494.4 198.3h0.9v0.9h-0.9zM497.3 197.9h0.9v0.9h-0.9zM502.6 189.0h0.9v0.9h-0.9zM492.5 200.1h0.9v0.9h-0.9zM493.6 200.0h0.9v0.9h-0.9zM496.1 197.1h0.9v0.9h-0.9zM489.8 205.6h0.9v0.9h-0.9zM496.3 195.2h0.9v0.9h-0.9zM491.3 199.4h0.9v0.9h-0.9zM488.8 202.2h0.9v0.9h-0.9zM493.6 202.8h0.9v0.9h-0.9zM495.0 195.8h0.9v0.9h-0.9zM496.9 195.4h0.9v0.9h-0.9zM497.5 193.4h0.9v0.9h-0.9zM497.2 198.1h0.9v0.9h-0.9zM492.1 200.7h0.9v0.9h-0.9zM498.0 198.0h0.9v0.9h-0.9zM493.9 198.3h0.9v0.9h-0.9zM502.4 190.9h0.9v0.9h-0.9zM489.5 206.6h0.9v0.9h-0.9zM500.9 194.1h0.9v0.9h-0.9zM495.9 194.9h0.9v0.9h-0.9zM495.8 196.9h0.9v0.9h-0.9zM494.6 198.9h0.9v0.9h-0.9zM491.2 198.8h0.9v0.9h-0.9zM492.8 202.7h0.9v0.9h-0.9zM490.7 204.5h0.9v0.9h-0.9zM501.7 192.2h0.9v0.9h-0.9zM496.3 194.1h0.9v0.9h-0.9zM497.2 196.5h0.9v0.9h-0.9zM496.6 197.9h0.9v0.9h-0.9zM490.3 206.3h0.9v0.9h-0.9zM493.5 199.1h0.9v0.9h-0.9zM496.1 198.9h0.9v0.9h-0.9zM500.7 196.6h0.9v0.9h-0.9zM491.5 201.7h0.9v0.9h-0.9zM495.4 197.3h0.9v0.9h-0.9zM493.9 199.2h0.9v0.9h-0.9zM493.4 197.1h0.9v0.9h-0.9zM492.2 201.0h0.9v0.9h-0.9zM497.9 199.0h0.9v0.9h-0.9zM494.2 197.5h0.9v0.9h-0.9zM489.1 204.9h0.9v0.9h-0.9zM500.0 195.6h0.9v0.9h-0.9zM502.3 191.6h0.9v0.9h-0.9zM492.6 201.9h0.9v0.9h-0.9zM498.1 194.3h0.9v0.9h-0.9zM491.9 201.9h0.9v0.9h-0.9zM493.4 200.5h0.9v0.9h-0.9zM501.1 193.2h0.9v0.9h-0.9zM495.7 198.0h0.9v0.9h-0.9zM500.7 194.3h0.9v0.9h-0.9zM493.8 195.8h0.9v0.9h-0.9zM499.0 195.9h0.9v0.9h-0.9zM494.0 198.7h0.9v0.9h-0.9zM499.4 193.7h0.9v0.9h-0.9zM500.0 192.0h0.9v0.9h-0.9zM497.8 196.9h0.9v0.9h-0.9zM493.2 200.4h0.9v0.9h-0.9zM494.6 200.5h0.9v0.9h-0.9zM491.3 201.1h0.9v0.9h-0.9zM497.1 196.7h0.9v0.9h-0.9zM498.0 198.0h0.9v0.9h-0.9zM494.2 202.1h0.9v0.9h-0.9zM497.5 195.1h0.9v0.9h-0.9zM493.5 200.7h0.9v0.9h-0.9zM500.2 191.9h0.9v0.9h-0.9zM497.5 195.6h0.9v0.9h-0.9zM499.9 193.1h0.9v0.9h-0.9zM494.3 202.2h0.9v0.9h-0.9zM492.7 202.6h0.9v0.9h-0.9zM491.2 206.3h0.9v0.9h-0.9zM498.8 197.8h0.9v0.9h-0.9zM490.3 201.2h0.9v0.9h-0.9zM499.5 194.2h0.9v0.9h-0.9zM495.1 197.6h0.9v0.9h-0.9zM495.6 194.3h0.9v0.9h-0.9zM490.0 201.9h0.9v0.9h-0.9zM492.8 200.1h0.9v0.9h-0.9zM497.5 199.5h0.9v0.9h-0.9zM497.5 196.1h0.9v0.9h-0.9zM491.0 202.8h0.9v0.9h-0.9zM496.1 197.3h0.9v0.9h-0.9zM491.8 200.6h0.9v0.9h-0.9zM497.8 195.9h0.9v0.9h-0.9zM494.3 199.2h0.9v0.9h-0.9zM492.4 198.0h0.9v0.9h-0.9zM495.9 196.5h0.9v0.9h-0.9zM502.4 197.8h0.9v0.9h-0.9zM495.1 200.0h0.9v0.9h-0.9zM498.7 194.2h0.9v0.9h-0.9zM492.8 202.6h0.9v0.9h-0.9zM494.9 196.6h0.9v0.9h-0.9zM491.8 202.5h0.9v0.9h-0.9zM496.7 198.6h0.9v0.9h-0.9z" fill="#6a6412" fill-opacity="0.6"/>
<path d="M490.8 203.6h0.9v0.9h-0.9zM492.3 201.1h0.9v0.9h-0.9zM494.0 201.1h0.9v0.9h-0.9zM493.9 200.5h0.9v0.9h-0.9zM493.9 201.5h0.9v0.9h-0.9zM495.9 199.8h0.9v0.9h-0.9zM496.5 197.0h0.9v0.9h-0.9zM494.7 198.4h0.9v0.9h-0.9zM496.4 196.9h0.9v0.9h-0.9zM496.3 196.7h0.9v0.9h-0.9zM491.8 200.1h0.9v0.9h-0.9zM496.1 200.0h0.9v0.9h-0.9zM493.9 200.9h0.9v0.9h-0.9zM497.4 199.4h0.9v0.9h-0.9zM493.3 200.3h0.9v0.9h-0.9zM494.4 200.5h0.9v0.9h-0.9zM498.4 195.6h0.9v0.9h-0.9zM494.0 200.1h0.9v0.9h-0.9zM491.7 204.2h0.9v0.9h-0.9zM494.7 199.4h0.9v0.9h-0.9zM495.1 198.9h0.9v0.9h-0.9zM493.4 201.1h0.9v0.9h-0.9zM493.2 198.3h0.9v0.9h-0.9zM496.2 196.8h0.9v0.9h-0.9zM492.8 200.6h0.9v0.9h-0.9zM495.1 201.1h0.9v0.9h-0.9zM493.3 201.8h0.9v0.9h-0.9zM495.7 199.3h0.9v0.9h-0.9zM494.6 200.4h0.9v0.9h-0.9zM492.3 201.9h0.9v0.9h-0.9zM495.2 201.0h0.9v0.9h-0.9zM498.3 195.0h0.9v0.9h-0.9zM489.8 203.2h0.9v0.9h-0.9zM491.8 203.5h0.9v0.9h-0.9zM496.0 199.5h0.9v0.9h-0.9zM491.5 203.2h0.9v0.9h-0.9zM499.0 195.0h0.9v0.9h-0.9zM491.8 204.0h0.9v0.9h-0.9zM492.6 203.8h0.9v0.9h-0.9zM493.7 201.3h0.9v0.9h-0.9zM497.9 198.0h0.9v0.9h-0.9zM496.4 197.9h0.9v0.9h-0.9zM497.1 199.5h0.9v0.9h-0.9zM494.2 198.2h0.9v0.9h-0.9zM497.9 197.0h0.9v0.9h-0.9zM490.7 204.4h0.9v0.9h-0.9zM495.2 199.1h0.9v0.9h-0.9zM496.8 195.4h0.9v0.9h-0.9zM492.8 203.0h0.9v0.9h-0.9zM495.0 198.8h0.9v0.9h-0.9zM496.5 196.1h0.9v0.9h-0.9zM496.8 196.2h0.9v0.9h-0.9zM494.0 199.9h0.9v0.9h-0.9zM498.6 195.1h0.9v0.9h-0.9zM495.0 197.9h0.9v0.9h-0.9zM496.2 196.5h0.9v0.9h-0.9zM492.4 202.6h0.9v0.9h-0.9zM492.8 201.5h0.9v0.9h-0.9zM494.1 202.7h0.9v0.9h-0.9zM498.1 195.1h0.9v0.9h-0.9zM489.9 205.9h0.9v0.9h-0.9zM491.6 205.3h0.9v0.9h-0.9zM496.1 197.6h0.9v0.9h-0.9zM495.4 199.9h0.9v0.9h-0.9zM488.2 207.2h0.9v0.9h-0.9zM493.6 200.7h0.9v0.9h-0.9zM494.8 201.4h0.9v0.9h-0.9zM496.5 196.1h0.9v0.9h-0.9zM489.9 204.1h0.9v0.9h-0.9zM492.2 200.0h0.9v0.9h-0.9zM496.7 197.0h0.9v0.9h-0.9zM496.8 198.4h0.9v0.9h-0.9zM492.3 201.8h0.9v0.9h-0.9zM494.4 200.9h0.9v0.9h-0.9zM490.8 202.9h0.9v0.9h-0.9zM498.2 197.0h0.9v0.9h-0.9zM493.5 200.7h0.9v0.9h-0.9zM496.9 196.3h0.9v0.9h-0.9zM497.3 198.6h0.9v0.9h-0.9zM492.5 201.9h0.9v0.9h-0.9zM494.5 200.4h0.9v0.9h-0.9zM496.0 198.2h0.9v0.9h-0.9zM495.9 199.0h0.9v0.9h-0.9zM497.9 196.0h0.9v0.9h-0.9zM496.1 196.2h0.9v0.9h-0.9zM495.4 199.0h0.9v0.9h-0.9zM496.3 198.2h0.9v0.9h-0.9zM493.2 201.7h0.9v0.9h-0.9zM493.0 201.0h0.9v0.9h-0.9zM497.0 199.2h0.9v0.9h-0.9zM494.8 198.4h0.9v0.9h-0.9zM492.2 202.5h0.9v0.9h-0.9zM494.5 200.0h0.9v0.9h-0.9zM492.0 201.0h0.9v0.9h-0.9zM492.5 200.4h0.9v0.9h-0.9zM497.7 196.9h0.9v0.9h-0.9zM492.9 202.4h0.9v0.9h-0.9zM493.2 201.4h0.9v0.9h-0.9zM494.7 197.4h0.9v0.9h-0.9zM494.5 199.3h0.9v0.9h-0.9zM495.0 199.4h0.9v0.9h-0.9zM491.8 203.6h0.9v0.9h-0.9zM495.2 200.4h0.9v0.9h-0.9zM494.0 200.8h0.9v0.9h-0.9zM493.4 202.2h0.9v0.9h-0.9zM494.4 202.0h0.9v0.9h-0.9zM492.4 199.1h0.9v0.9h-0.9zM497.0 198.2h0.9v0.9h-0.9zM498.3 194.8h0.9v0.9h-0.9zM495.1 199.7h0.9v0.9h-0.9zM497.9 196.1h0.9v0.9h-0.9zM494.1 198.8h0.9v0.9h-0.9zM490.7 202.8h0.9v0.9h-0.9zM494.9 199.8h0.9v0.9h-0.9zM497.2 196.4h0.9v0.9h-0.9zM498.0 196.6h0.9v0.9h-0.9zM492.3 201.6h0.9v0.9h-0.9zM500.8 195.4h0.9v0.9h-0.9zM492.7 201.3h0.9v0.9h-0.9zM494.3 202.6h0.9v0.9h-0.9zM492.9 200.5h0.9v0.9h-0.9zM498.0 196.4h0.9v0.9h-0.9zM496.1 199.3h0.9v0.9h-0.9zM495.6 196.6h0.9v0.9h-0.9zM489.1 204.6h0.9v0.9h-0.9zM494.7 200.0h0.9v0.9h-0.9zM495.0 200.6h0.9v0.9h-0.9zM496.9 198.7h0.9v0.9h-0.9zM493.9 201.1h0.9v0.9h-0.9zM497.8 197.3h0.9v0.9h-0.9zM492.3 200.7h0.9v0.9h-0.9zM491.2 202.8h0.9v0.9h-0.9zM491.9 204.5h0.9v0.9h-0.9zM496.9 196.2h0.9v0.9h-0.9zM496.0 197.6h0.9v0.9h-0.9zM491.7 200.6h0.9v0.9h-0.9zM496.8 196.8h0.9v0.9h-0.9zM493.1 199.1h0.9v0.9h-0.9zM494.5 200.1h0.9v0.9h-0.9zM492.3 204.1h0.9v0.9h-0.9zM493.5 201.2h0.9v0.9h-0.9zM494.9 199.4h0.9v0.9h-0.9zM494.7 198.9h0.9v0.9h-0.9zM493.7 201.3h0.9v0.9h-0.9zM496.0 196.5h0.9v0.9h-0.9zM497.4 195.8h0.9v0.9h-0.9zM494.2 202.8h0.9v0.9h-0.9zM494.6 197.9h0.9v0.9h-0.9zM490.9 203.1h0.9v0.9h-0.9zM494.5 197.8h0.9v0.9h-0.9zM493.2 202.7h0.9v0.9h-0.9zM494.0 199.9h0.9v0.9h-0.9zM494.1 198.5h0.9v0.9h-0.9zM493.2 199.5h0.9v0.9h-0.9zM497.5 197.7h0.9v0.9h-0.9zM493.3 201.9h0.9v0.9h-0.9zM494.0 201.2h0.9v0.9h-0.9zM495.2 198.8h0.9v0.9h-0.9zM495.0 200.2h0.9v0.9h-0.9zM495.9 199.7h0.9v0.9h-0.9z" fill="#4c4a04" fill-opacity="0.7"/>
</g>
<rect x="477.30" y="183.30" width="29.30" height="30.50" fill="none" stroke="#b8b8b8" stroke-width="0.8"/>
<line x1="477.30" y1="213.80" x2="506.60" y2="213.80" stroke="#8a8a8a" stroke-width="0.8"/>
<line x1="487.10" y1="183.30" x2="487.10" y2="213.80" stroke="#6e6c7a" stroke-width="1.0"/>
<polygon points="446.40,249.60 446.40,223.00 466.90,210.30 466.90,236.90" fill="none" stroke="#858585" stroke-width="0.8"/>
<rect x="411.50" y="172.50" width="102" height="88.0" fill="none" stroke="#2b2b2b" stroke-width="1"/>
<text x="440.09" y="181.60" font-size="7.56" fill="#231f20" stroke="#231f20" stroke-width="0.08" textLength="45.27" lengthAdjust="spacingAndGlyphs">Hypodiploid</text>
<text x="474.23" y="220.80" font-size="8.14" fill="#231f20" stroke="#231f20" stroke-width="0.08" textLength="36.80" lengthAdjust="spacingAndGlyphs">Nucleated</text>
<text x="427.00" y="230.70" font-size="7.41" fill="#231f20" stroke="#231f20" stroke-width="0.08" textLength="15.09" lengthAdjust="spacingAndGlyphs">MN</text>
<text x="481.20" y="253.30" font-size="7.56" fill="#c23648" stroke="#c23648" stroke-width="0.05" textLength="22.28" lengthAdjust="spacingAndGlyphs">11.8%</text>
<text x="439.26" y="164.50" font-size="10.32" fill="#e4f7dc" textLength="46.08" lengthAdjust="spacingAndGlyphs">Mel + Nilo</text>
<text x="407.91" y="273.30" font-size="5.38" fill="#231f20" stroke="#231f20" stroke-width="0.16" textLength="2.68" lengthAdjust="spacingAndGlyphs">0</text>
<text x="410.67" y="273.30" font-size="8.72" fill="#231f20" stroke="#231f20" stroke-width="0.16" textLength="9.26" lengthAdjust="spacingAndGlyphs">10</text>
<text x="419.85" y="270.30" font-size="4.65" fill="#231f20" stroke="#231f20" stroke-width="0.16" textLength="1.81" lengthAdjust="spacingAndGlyphs">1</text>
<text x="432.32" y="273.30" font-size="8.72" fill="#231f20" stroke="#231f20" stroke-width="0.16" textLength="9.26" lengthAdjust="spacingAndGlyphs">10</text>
<text x="441.44" y="270.30" font-size="4.65" fill="#231f20" stroke="#231f20" stroke-width="0.16" textLength="3.42" lengthAdjust="spacingAndGlyphs">2</text>
<text x="453.97" y="273.30" font-size="8.72" fill="#231f20" stroke="#231f20" stroke-width="0.16" textLength="9.26" lengthAdjust="spacingAndGlyphs">10</text>
<text x="463.18" y="270.30" font-size="4.65" fill="#231f20" stroke="#231f20" stroke-width="0.16" textLength="3.28" lengthAdjust="spacingAndGlyphs">3</text>
<text x="475.62" y="273.30" font-size="8.72" fill="#231f20" stroke="#231f20" stroke-width="0.16" textLength="9.26" lengthAdjust="spacingAndGlyphs">10</text>
<text x="484.92" y="270.30" font-size="4.65" fill="#231f20" stroke="#231f20" stroke-width="0.16" textLength="3.09" lengthAdjust="spacingAndGlyphs">4</text>
<text x="497.27" y="273.30" font-size="8.72" fill="#231f20" stroke="#231f20" stroke-width="0.16" textLength="9.26" lengthAdjust="spacingAndGlyphs">10</text>
<text x="506.46" y="270.30" font-size="4.65" fill="#231f20" stroke="#231f20" stroke-width="0.16" textLength="3.28" lengthAdjust="spacingAndGlyphs">5</text>
<text x="405.30" y="264.10" font-size="3.92" fill="#a88cc8" stroke="#a88cc8" stroke-width="0.16" textLength="5.11" lengthAdjust="spacingAndGlyphs">M</text>
<text transform="translate(259.40,159.60) rotate(-90)" x="-0.52" y="0" font-size="10.90" fill="#231f20" stroke="#231f20" stroke-width="0.16" textLength="18.93" lengthAdjust="spacingAndGlyphs">FSC-A</text>
<text x="386.46" y="286.00" font-size="9.88" fill="#231f20" stroke="#231f20" stroke-width="0.16" textLength="21.25" lengthAdjust="spacingAndGlyphs">FITC-A</text>
<text x="43.28" y="164.10" font-size="9.88" fill="#231f20" stroke="#231f20" stroke-width="0.16" textLength="28.98" lengthAdjust="spacingAndGlyphs">MM1S</text>
<line x1="38.50" y1="174.30" x2="38.50" y2="252.00" stroke="#231f20" stroke-width="1"/>
<line x1="34.90" y1="252.00" x2="38.00" y2="252.00" stroke="#231f20" stroke-width="0.9"/>
<text x="27.80" y="254.85" font-size="8.29" fill="#231f20" stroke="#231f20" stroke-width="0.16" textLength="4.30" lengthAdjust="spacingAndGlyphs">0</text>
<line x1="34.90" y1="236.76" x2="38.00" y2="236.76" stroke="#231f20" stroke-width="0.9"/>
<text x="20.99" y="239.61" font-size="8.29" fill="#231f20" stroke="#231f20" stroke-width="0.16" textLength="11.15" lengthAdjust="spacingAndGlyphs">0.5</text>
<line x1="34.90" y1="221.52" x2="38.00" y2="221.52" stroke="#231f20" stroke-width="0.9"/>
<text x="28.74" y="224.37" font-size="8.29" fill="#231f20" stroke="#231f20" stroke-width="0.16" textLength="3.35" lengthAdjust="spacingAndGlyphs">1</text>
<line x1="34.90" y1="206.28" x2="38.00" y2="206.28" stroke="#231f20" stroke-width="0.9"/>
<text x="23.11" y="209.13" font-size="8.29" fill="#231f20" stroke="#231f20" stroke-width="0.16" textLength="8.96" lengthAdjust="spacingAndGlyphs">1.5</text>
<line x1="34.90" y1="191.04" x2="38.00" y2="191.04" stroke="#231f20" stroke-width="0.9"/>
<text x="27.69" y="193.89" font-size="8.29" fill="#231f20" stroke="#231f20" stroke-width="0.16" textLength="4.52" lengthAdjust="spacingAndGlyphs">2</text>
<line x1="34.90" y1="175.80" x2="38.00" y2="175.80" stroke="#231f20" stroke-width="0.9"/>
<text x="20.89" y="178.65" font-size="8.29" fill="#231f20" stroke="#231f20" stroke-width="0.16" textLength="11.25" lengthAdjust="spacingAndGlyphs">2.5</text>
<text transform="translate(16.30,245.70) rotate(-90)" x="-0.63" y="0" font-size="8.72" fill="#231f20" stroke="#231f20" stroke-width="0.16" textLength="68.75" lengthAdjust="spacingAndGlyphs">Relative micronuclei</text>
<rect x="39.40" y="221.52" width="7.60" height="30.48" fill="#1a4b87"/>
<line x1="43.20" y1="252.00" x2="43.20" y2="254.80" stroke="#231f20" stroke-width="0.9"/>
<text transform="translate(45.50,262.90) rotate(-90)" x="-0.42" y="0" font-size="7.12" fill="#231f20" stroke="#231f20" stroke-width="0.16" textLength="5.93" lengthAdjust="spacingAndGlyphs">C</text>
<rect x="48.00" y="233.71" width="8.00" height="18.29" fill="#c70428"/>
<line x1="52.00" y1="252.00" x2="52.00" y2="254.80" stroke="#231f20" stroke-width="0.9"/>
<text transform="translate(54.30,262.90) rotate(-90)" x="-0.76" y="0" font-size="7.12" fill="#231f20" stroke="#231f20" stroke-width="0.16" textLength="6.72" lengthAdjust="spacingAndGlyphs">N</text>
<line x1="52.00" y1="230.36" x2="52.00" y2="233.71" stroke="#231f20" stroke-width="0.9"/>
<line x1="51.20" y1="230.36" x2="52.80" y2="230.36" stroke="#231f20" stroke-width="0.9"/>
<path d="M52.00 225.26V227.86M50.90 225.91L53.10 227.21M50.90 227.21L53.10 225.91" stroke="#231f20" stroke-width="0.7" fill="none"/>
<rect x="57.30" y="197.14" width="7.90" height="54.86" fill="#f08c00"/>
<line x1="61.25" y1="252.00" x2="61.25" y2="254.80" stroke="#231f20" stroke-width="0.9"/>
<text transform="translate(63.55,263.80) rotate(-90)" x="-0.75" y="0" font-size="7.12" fill="#231f20" stroke="#231f20" stroke-width="0.16" textLength="7.60" lengthAdjust="spacingAndGlyphs">M</text>
<line x1="61.25" y1="187.69" x2="61.25" y2="197.14" stroke="#231f20" stroke-width="0.9"/>
<line x1="60.45" y1="187.69" x2="62.05" y2="187.69" stroke="#231f20" stroke-width="0.9"/>
<path d="M61.25 182.59V185.19M60.15 183.24L62.35 184.54M60.15 184.54L62.35 183.24" stroke="#231f20" stroke-width="0.7" fill="none"/>
<rect x="66.30" y="215.42" width="7.90" height="36.58" fill="#37a535"/>
<line x1="70.25" y1="252.00" x2="70.25" y2="254.80" stroke="#231f20" stroke-width="0.9"/>
<text transform="translate(72.55,276.20) rotate(-90)" x="-0.77" y="0" font-size="7.12" fill="#231f20" stroke="#231f20" stroke-width="0.16" textLength="20.03" lengthAdjust="spacingAndGlyphs">M+N</text>
<line x1="70.25" y1="212.07" x2="70.25" y2="215.42" stroke="#231f20" stroke-width="0.9"/>
<line x1="69.45" y1="212.07" x2="71.05" y2="212.07" stroke="#231f20" stroke-width="0.9"/>
<path d="M70.25 206.97V209.57M69.15 207.62L71.35 208.92M69.15 208.92L71.35 207.62" stroke="#231f20" stroke-width="0.7" fill="none"/>
<line x1="35.00" y1="251.50" x2="79.00" y2="251.50" stroke="#231f20" stroke-width="1"/>
<text x="128.55" y="164.10" font-size="9.88" fill="#231f20" stroke="#231f20" stroke-width="0.16" textLength="22.90" lengthAdjust="spacingAndGlyphs">RPMI</text>
<line x1="118.50" y1="177.50" x2="118.50" y2="252.00" stroke="#231f20" stroke-width="1"/>
<line x1="115.20" y1="252.00" x2="118.30" y2="252.00" stroke="#231f20" stroke-width="0.9"/>
<text x="108.10" y="254.85" font-size="8.29" fill="#231f20" stroke="#231f20" stroke-width="0.16" textLength="4.30" lengthAdjust="spacingAndGlyphs">0</text>
<line x1="115.20" y1="237.40" x2="118.30" y2="237.40" stroke="#231f20" stroke-width="0.9"/>
<text x="101.29" y="240.25" font-size="8.29" fill="#231f20" stroke="#231f20" stroke-width="0.16" textLength="11.15" lengthAdjust="spacingAndGlyphs">0.5</text>
<line x1="115.20" y1="222.80" x2="118.30" y2="222.80" stroke="#231f20" stroke-width="0.9"/>
<text x="109.04" y="225.65" font-size="8.29" fill="#231f20" stroke="#231f20" stroke-width="0.16" textLength="3.35" lengthAdjust="spacingAndGlyphs">1</text>
<line x1="115.20" y1="208.20" x2="118.30" y2="208.20" stroke="#231f20" stroke-width="0.9"/>
<text x="103.41" y="211.05" font-size="8.29" fill="#231f20" stroke="#231f20" stroke-width="0.16" textLength="8.96" lengthAdjust="spacingAndGlyphs">1.5</text>
<line x1="115.20" y1="193.60" x2="118.30" y2="193.60" stroke="#231f20" stroke-width="0.9"/>
<text x="107.99" y="196.45" font-size="8.29" fill="#231f20" stroke="#231f20" stroke-width="0.16" textLength="4.52" lengthAdjust="spacingAndGlyphs">2</text>
<line x1="115.20" y1="179.00" x2="118.30" y2="179.00" stroke="#231f20" stroke-width="0.9"/>
<text x="101.19" y="181.85" font-size="8.29" fill="#231f20" stroke="#231f20" stroke-width="0.16" textLength="11.25" lengthAdjust="spacingAndGlyphs">2.5</text>
<text transform="translate(96.10,246.90) rotate(-90)" x="-0.64" y="0" font-size="8.87" fill="#231f20" stroke="#231f20" stroke-width="0.16" textLength="69.97" lengthAdjust="spacingAndGlyphs">Relative micronuclei</text>
<rect x="121.60" y="222.80" width="7.50" height="29.20" fill="#1a4b87"/>
<line x1="125.35" y1="252.00" x2="125.35" y2="254.80" stroke="#231f20" stroke-width="0.9"/>
<text transform="translate(127.65,262.90) rotate(-90)" x="-0.42" y="0" font-size="7.12" fill="#231f20" stroke="#231f20" stroke-width="0.16" textLength="5.93" lengthAdjust="spacingAndGlyphs">C</text>
<rect x="129.90" y="243.24" width="7.80" height="8.76" fill="#c70428"/>
<line x1="133.80" y1="252.00" x2="133.80" y2="254.80" stroke="#231f20" stroke-width="0.9"/>
<text transform="translate(136.10,262.90) rotate(-90)" x="-0.76" y="0" font-size="7.12" fill="#231f20" stroke="#231f20" stroke-width="0.16" textLength="6.72" lengthAdjust="spacingAndGlyphs">N</text>
<line x1="133.80" y1="239.15" x2="133.80" y2="243.24" stroke="#231f20" stroke-width="0.9"/>
<line x1="133.00" y1="239.15" x2="134.60" y2="239.15" stroke="#231f20" stroke-width="0.9"/>
<path d="M133.80 234.05V236.65M132.70 234.70L134.90 236.00M132.70 236.00L134.90 234.70" stroke="#231f20" stroke-width="0.7" fill="none"/>
<rect x="139.20" y="184.84" width="8.20" height="67.16" fill="#f08c00"/>
<line x1="143.30" y1="252.00" x2="143.30" y2="254.80" stroke="#231f20" stroke-width="0.9"/>
<text transform="translate(145.60,263.80) rotate(-90)" x="-0.75" y="0" font-size="7.12" fill="#231f20" stroke="#231f20" stroke-width="0.16" textLength="7.60" lengthAdjust="spacingAndGlyphs">M</text>
<line x1="143.30" y1="175.79" x2="143.30" y2="184.84" stroke="#231f20" stroke-width="0.9"/>
<line x1="142.50" y1="175.79" x2="144.10" y2="175.79" stroke="#231f20" stroke-width="0.9"/>
<path d="M143.30 170.69V173.29M142.20 171.34L144.40 172.64M142.20 172.64L144.40 171.34" stroke="#231f20" stroke-width="0.7" fill="none"/>
<rect x="148.40" y="225.72" width="8.20" height="26.28" fill="#37a535"/>
<line x1="152.50" y1="252.00" x2="152.50" y2="254.80" stroke="#231f20" stroke-width="0.9"/>
<text transform="translate(154.80,276.20) rotate(-90)" x="-0.77" y="0" font-size="7.12" fill="#231f20" stroke="#231f20" stroke-width="0.16" textLength="20.03" lengthAdjust="spacingAndGlyphs">M+N</text>
<line x1="152.50" y1="221.92" x2="152.50" y2="225.72" stroke="#231f20" stroke-width="0.9"/>
<line x1="151.70" y1="221.92" x2="153.30" y2="221.92" stroke="#231f20" stroke-width="0.9"/>
<path d="M152.50 216.82V219.42M151.40 217.47L153.60 218.77M151.40 218.77L153.60 217.47" stroke="#231f20" stroke-width="0.7" fill="none"/>
<line x1="115.30" y1="251.50" x2="161.30" y2="251.50" stroke="#231f20" stroke-width="1"/>
<text x="215.02" y="164.10" font-size="9.88" fill="#231f20" stroke="#231f20" stroke-width="0.16" textLength="15.23" lengthAdjust="spacingAndGlyphs">LR5</text>
<line x1="201.50" y1="173.20" x2="201.50" y2="252.00" stroke="#231f20" stroke-width="1"/>
<line x1="198.50" y1="252.00" x2="201.60" y2="252.00" stroke="#231f20" stroke-width="0.9"/>
<text x="191.40" y="254.85" font-size="8.29" fill="#231f20" stroke="#231f20" stroke-width="0.16" textLength="4.30" lengthAdjust="spacingAndGlyphs">0</text>
<line x1="198.50" y1="236.54" x2="201.60" y2="236.54" stroke="#231f20" stroke-width="0.9"/>
<text x="184.59" y="239.39" font-size="8.29" fill="#231f20" stroke="#231f20" stroke-width="0.16" textLength="11.15" lengthAdjust="spacingAndGlyphs">0.5</text>
<line x1="198.50" y1="221.08" x2="201.60" y2="221.08" stroke="#231f20" stroke-width="0.9"/>
<text x="192.34" y="223.93" font-size="8.29" fill="#231f20" stroke="#231f20" stroke-width="0.16" textLength="3.35" lengthAdjust="spacingAndGlyphs">1</text>
<line x1="198.50" y1="205.62" x2="201.60" y2="205.62" stroke="#231f20" stroke-width="0.9"/>
<text x="186.71" y="208.47" font-size="8.29" fill="#231f20" stroke="#231f20" stroke-width="0.16" textLength="8.96" lengthAdjust="spacingAndGlyphs">1.5</text>
<line x1="198.50" y1="190.16" x2="201.60" y2="190.16" stroke="#231f20" stroke-width="0.9"/>
<text x="191.29" y="193.01" font-size="8.29" fill="#231f20" stroke="#231f20" stroke-width="0.16" textLength="4.52" lengthAdjust="spacingAndGlyphs">2</text>
<line x1="198.50" y1="174.70" x2="201.60" y2="174.70" stroke="#231f20" stroke-width="0.9"/>
<text x="184.49" y="177.55" font-size="8.29" fill="#231f20" stroke="#231f20" stroke-width="0.16" textLength="11.25" lengthAdjust="spacingAndGlyphs">2.5</text>
<text transform="translate(179.00,246.00) rotate(-90)" x="-0.63" y="0" font-size="8.87" fill="#231f20" stroke="#231f20" stroke-width="0.16" textLength="69.05" lengthAdjust="spacingAndGlyphs">Relative micronuclei</text>
<rect x="204.80" y="221.08" width="7.10" height="30.92" fill="#1a4b87"/>
<line x1="208.35" y1="252.00" x2="208.35" y2="254.80" stroke="#231f20" stroke-width="0.9"/>
<text transform="translate(210.65,262.90) rotate(-90)" x="-0.42" y="0" font-size="7.12" fill="#231f20" stroke="#231f20" stroke-width="0.16" textLength="5.93" lengthAdjust="spacingAndGlyphs">C</text>
<rect x="212.70" y="230.36" width="7.80" height="21.64" fill="#c70428"/>
<line x1="216.60" y1="252.00" x2="216.60" y2="254.80" stroke="#231f20" stroke-width="0.9"/>
<text transform="translate(218.90,262.90) rotate(-90)" x="-0.76" y="0" font-size="7.12" fill="#231f20" stroke="#231f20" stroke-width="0.16" textLength="6.72" lengthAdjust="spacingAndGlyphs">N</text>
<line x1="216.60" y1="227.26" x2="216.60" y2="230.36" stroke="#231f20" stroke-width="0.9"/>
<line x1="215.80" y1="227.26" x2="217.40" y2="227.26" stroke="#231f20" stroke-width="0.9"/>
<path d="M216.60 222.16V224.76M215.50 222.81L217.70 224.11M215.50 224.11L217.70 222.81" stroke="#231f20" stroke-width="0.7" fill="none"/>
<rect x="221.30" y="193.25" width="8.20" height="58.75" fill="#f08c00"/>
<line x1="225.40" y1="252.00" x2="225.40" y2="254.80" stroke="#231f20" stroke-width="0.9"/>
<text transform="translate(227.70,263.80) rotate(-90)" x="-0.75" y="0" font-size="7.12" fill="#231f20" stroke="#231f20" stroke-width="0.16" textLength="7.60" lengthAdjust="spacingAndGlyphs">M</text>
<line x1="225.40" y1="186.45" x2="225.40" y2="193.25" stroke="#231f20" stroke-width="0.9"/>
<line x1="224.60" y1="186.45" x2="226.20" y2="186.45" stroke="#231f20" stroke-width="0.9"/>
<path d="M225.40 181.35V183.95M224.30 182.00L226.50 183.30M224.30 183.30L226.50 182.00" stroke="#231f20" stroke-width="0.7" fill="none"/>
<rect x="230.60" y="214.90" width="7.50" height="37.10" fill="#37a535"/>
<line x1="234.35" y1="252.00" x2="234.35" y2="254.80" stroke="#231f20" stroke-width="0.9"/>
<text transform="translate(236.65,276.20) rotate(-90)" x="-0.77" y="0" font-size="7.12" fill="#231f20" stroke="#231f20" stroke-width="0.16" textLength="20.03" lengthAdjust="spacingAndGlyphs">M+N</text>
<line x1="234.35" y1="209.02" x2="234.35" y2="214.90" stroke="#231f20" stroke-width="0.9"/>
<line x1="233.55" y1="209.02" x2="235.15" y2="209.02" stroke="#231f20" stroke-width="0.9"/>
<path d="M234.35 203.92V206.52M233.25 204.57L235.45 205.87M233.25 205.87L235.45 204.57" stroke="#231f20" stroke-width="0.7" fill="none"/>
<line x1="198.60" y1="251.50" x2="243.00" y2="251.50" stroke="#231f20" stroke-width="1"/>
<text x="183.78" y="322.10" font-size="9.74" fill="#231f20" stroke="#231f20" stroke-width="0.16" textLength="28.98" lengthAdjust="spacingAndGlyphs">MM1S</text>
<text x="44.34" y="345.70" font-size="9.30" fill="#231f20" stroke="#231f20" stroke-width="0.16" textLength="29.37" lengthAdjust="spacingAndGlyphs">Control</text>
<text x="141.24" y="345.50" font-size="8.72" fill="#231f20" stroke="#231f20" stroke-width="0.16" textLength="33.05" lengthAdjust="spacingAndGlyphs">Nilotinib</text>
<text x="236.98" y="345.50" font-size="8.58" fill="#231f20" stroke="#231f20" stroke-width="0.16" textLength="40.49" lengthAdjust="spacingAndGlyphs">Melphalan</text>
<text x="331.88" y="335.40" font-size="8.72" fill="#231f20" stroke="#231f20" stroke-width="0.16" textLength="48.05" lengthAdjust="spacingAndGlyphs">Melphalan +</text>
<text x="339.33" y="345.60" font-size="9.16" fill="#231f20" stroke="#231f20" stroke-width="0.16" textLength="33.47" lengthAdjust="spacingAndGlyphs">Nilotinib</text>
<rect x="20.80" y="355.60" width="76.60" height="67.40" fill="#fcfae5"/>
<line x1="27.31" y1="355.60" x2="27.31" y2="423.00" stroke="#f8f6e4" stroke-width="0.4"/>
<line x1="33.44" y1="355.60" x2="33.44" y2="423.00" stroke="#f8f6e4" stroke-width="0.4"/>
<line x1="38.80" y1="355.60" x2="38.80" y2="423.00" stroke="#f8f6e4" stroke-width="0.4"/>
<line x1="43.78" y1="355.60" x2="43.78" y2="423.00" stroke="#f8f6e4" stroke-width="0.4"/>
<line x1="48.38" y1="355.60" x2="48.38" y2="423.00" stroke="#f8f6e4" stroke-width="0.4"/>
<line x1="52.97" y1="355.60" x2="52.97" y2="423.00" stroke="#f8f6e4" stroke-width="0.4"/>
<line x1="57.19" y1="355.60" x2="57.19" y2="423.00" stroke="#f8f6e4" stroke-width="0.4"/>
<line x1="61.02" y1="355.60" x2="61.02" y2="423.00" stroke="#f8f6e4" stroke-width="0.4"/>
<line x1="64.46" y1="355.60" x2="64.46" y2="423.00" stroke="#f8f6e4" stroke-width="0.4"/>
<line x1="67.91" y1="355.60" x2="67.91" y2="423.00" stroke="#f8f6e4" stroke-width="0.4"/>
<line x1="71.36" y1="355.60" x2="71.36" y2="423.00" stroke="#f8f6e4" stroke-width="0.4"/>
<line x1="74.42" y1="355.60" x2="74.42" y2="423.00" stroke="#f8f6e4" stroke-width="0.4"/>
<line x1="77.48" y1="355.60" x2="77.48" y2="423.00" stroke="#f8f6e4" stroke-width="0.4"/>
<line x1="80.17" y1="355.60" x2="80.17" y2="423.00" stroke="#f8f6e4" stroke-width="0.4"/>
<line x1="82.85" y1="355.60" x2="82.85" y2="423.00" stroke="#f8f6e4" stroke-width="0.4"/>
<line x1="85.14" y1="355.60" x2="85.14" y2="423.00" stroke="#f8f6e4" stroke-width="0.4"/>
<line x1="87.44" y1="355.60" x2="87.44" y2="423.00" stroke="#f8f6e4" stroke-width="0.4"/>
<line x1="89.36" y1="355.60" x2="89.36" y2="423.00" stroke="#f8f6e4" stroke-width="0.4"/>
<line x1="91.27" y1="355.60" x2="91.27" y2="423.00" stroke="#f8f6e4" stroke-width="0.4"/>
<line x1="92.80" y1="355.60" x2="92.80" y2="423.00" stroke="#f8f6e4" stroke-width="0.4"/>
<line x1="94.34" y1="355.60" x2="94.34" y2="423.00" stroke="#f8f6e4" stroke-width="0.4"/>
<line x1="95.87" y1="355.60" x2="95.87" y2="423.00" stroke="#f8f6e4" stroke-width="0.4"/>
<line x1="20.80" y1="356.00" x2="97.40" y2="356.00" stroke="#e6e4d2" stroke-width="0.8"/>
<line x1="20.80" y1="422.60" x2="97.40" y2="422.60" stroke="#ebe8d5" stroke-width="0.8"/>
<line x1="97.00" y1="355.60" x2="97.00" y2="423.00" stroke="#efecd8" stroke-width="0.6"/>
<line x1="21.20" y1="355.60" x2="21.20" y2="423.00" stroke="#d6d4c4" stroke-width="0.8"/>
<line x1="19.60" y1="358.60" x2="21.20" y2="358.60" stroke="#dcdacb" stroke-width="0.6"/>
<line x1="19.60" y1="370.88" x2="21.20" y2="370.88" stroke="#dcdacb" stroke-width="0.6"/>
<line x1="19.60" y1="383.16" x2="21.20" y2="383.16" stroke="#dcdacb" stroke-width="0.6"/>
<line x1="19.60" y1="395.44" x2="21.20" y2="395.44" stroke="#dcdacb" stroke-width="0.6"/>
<line x1="19.60" y1="407.72" x2="21.20" y2="407.72" stroke="#dcdacb" stroke-width="0.6"/>
<line x1="19.60" y1="420.00" x2="21.20" y2="420.00" stroke="#dcdacb" stroke-width="0.6"/>
<line x1="27.31" y1="355.60" x2="27.31" y2="357.00" stroke="#e6c4bc" stroke-width="0.7"/>
<line x1="27.31" y1="421.60" x2="27.31" y2="423.00" stroke="#ddd8c6" stroke-width="0.7"/>
<line x1="33.44" y1="355.60" x2="33.44" y2="357.00" stroke="#e6c4bc" stroke-width="0.7"/>
<line x1="33.44" y1="421.60" x2="33.44" y2="423.00" stroke="#ddd8c6" stroke-width="0.7"/>
<line x1="38.80" y1="355.60" x2="38.80" y2="357.00" stroke="#e6c4bc" stroke-width="0.7"/>
<line x1="38.80" y1="421.60" x2="38.80" y2="423.00" stroke="#ddd8c6" stroke-width="0.7"/>
<line x1="43.78" y1="355.60" x2="43.78" y2="357.00" stroke="#e6c4bc" stroke-width="0.7"/>
<line x1="43.78" y1="421.60" x2="43.78" y2="423.00" stroke="#ddd8c6" stroke-width="0.7"/>
<line x1="48.38" y1="355.60" x2="48.38" y2="357.00" stroke="#e6c4bc" stroke-width="0.7"/>
<line x1="48.38" y1="421.60" x2="48.38" y2="423.00" stroke="#ddd8c6" stroke-width="0.7"/>
<line x1="52.97" y1="355.60" x2="52.97" y2="357.00" stroke="#e6c4bc" stroke-width="0.7"/>
<line x1="52.97" y1="421.60" x2="52.97" y2="423.00" stroke="#ddd8c6" stroke-width="0.7"/>
<line x1="57.19" y1="355.60" x2="57.19" y2="357.00" stroke="#e6c4bc" stroke-width="0.7"/>
<line x1="57.19" y1="421.60" x2="57.19" y2="423.00" stroke="#ddd8c6" stroke-width="0.7"/>
<line x1="61.02" y1="355.60" x2="61.02" y2="357.00" stroke="#e6c4bc" stroke-width="0.7"/>
<line x1="61.02" y1="421.60" x2="61.02" y2="423.00" stroke="#ddd8c6" stroke-width="0.7"/>
<line x1="64.46" y1="355.60" x2="64.46" y2="357.00" stroke="#e6c4bc" stroke-width="0.7"/>
<line x1="64.46" y1="421.60" x2="64.46" y2="423.00" stroke="#ddd8c6" stroke-width="0.7"/>
<line x1="67.91" y1="355.60" x2="67.91" y2="357.00" stroke="#e6c4bc" stroke-width="0.7"/>
<line x1="67.91" y1="421.60" x2="67.91" y2="423.00" stroke="#ddd8c6" stroke-width="0.7"/>
<line x1="71.36" y1="355.60" x2="71.36" y2="357.00" stroke="#e6c4bc" stroke-width="0.7"/>
<line x1="71.36" y1="421.60" x2="71.36" y2="423.00" stroke="#ddd8c6" stroke-width="0.7"/>
<line x1="74.42" y1="355.60" x2="74.42" y2="357.00" stroke="#e6c4bc" stroke-width="0.7"/>
<line x1="74.42" y1="421.60" x2="74.42" y2="423.00" stroke="#ddd8c6" stroke-width="0.7"/>
<line x1="77.48" y1="355.60" x2="77.48" y2="357.00" stroke="#e6c4bc" stroke-width="0.7"/>
<line x1="77.48" y1="421.60" x2="77.48" y2="423.00" stroke="#ddd8c6" stroke-width="0.7"/>
<line x1="80.17" y1="355.60" x2="80.17" y2="357.00" stroke="#e6c4bc" stroke-width="0.7"/>
<line x1="80.17" y1="421.60" x2="80.17" y2="423.00" stroke="#ddd8c6" stroke-width="0.7"/>
<line x1="82.85" y1="355.60" x2="82.85" y2="357.00" stroke="#e6c4bc" stroke-width="0.7"/>
<line x1="82.85" y1="421.60" x2="82.85" y2="423.00" stroke="#ddd8c6" stroke-width="0.7"/>
<line x1="85.14" y1="355.60" x2="85.14" y2="357.00" stroke="#e6c4bc" stroke-width="0.7"/>
<line x1="85.14" y1="421.60" x2="85.14" y2="423.00" stroke="#ddd8c6" stroke-width="0.7"/>
<line x1="87.44" y1="355.60" x2="87.44" y2="357.00" stroke="#e6c4bc" stroke-width="0.7"/>
<line x1="87.44" y1="421.60" x2="87.44" y2="423.00" stroke="#ddd8c6" stroke-width="0.7"/>
<line x1="89.36" y1="355.60" x2="89.36" y2="357.00" stroke="#e6c4bc" stroke-width="0.7"/>
<line x1="89.36" y1="421.60" x2="89.36" y2="423.00" stroke="#ddd8c6" stroke-width="0.7"/>
<line x1="91.27" y1="355.60" x2="91.27" y2="357.00" stroke="#e6c4bc" stroke-width="0.7"/>
<line x1="91.27" y1="421.60" x2="91.27" y2="423.00" stroke="#ddd8c6" stroke-width="0.7"/>
<line x1="92.80" y1="355.60" x2="92.80" y2="357.00" stroke="#e6c4bc" stroke-width="0.7"/>
<line x1="92.80" y1="421.60" x2="92.80" y2="423.00" stroke="#ddd8c6" stroke-width="0.7"/>
<line x1="94.34" y1="355.60" x2="94.34" y2="357.00" stroke="#e6c4bc" stroke-width="0.7"/>
<line x1="94.34" y1="421.60" x2="94.34" y2="423.00" stroke="#ddd8c6" stroke-width="0.7"/>
<line x1="95.87" y1="355.60" x2="95.87" y2="357.00" stroke="#e6c4bc" stroke-width="0.7"/>
<line x1="95.87" y1="421.60" x2="95.87" y2="423.00" stroke="#ddd8c6" stroke-width="0.7"/>
<line x1="20.80" y1="395.30" x2="97.40" y2="395.30" stroke="#d5cfb8" stroke-width="0.9"/>
<rect x="21.80" y="384.20" width="74.60" height="5.20" fill="#f0d4cc" fill-opacity="0.45"/>
<rect x="21.80" y="400.20" width="74.60" height="4.80" fill="#e6e6da" fill-opacity="0.45"/>
<path d="M72.9 385.3h0.8v1.8h-0.8zM82.7 386.7h0.8v1.3h-0.8zM88.4 384.6h0.8v2.5h-0.8zM44.5 385.7h0.8v1.8h-0.8zM42.9 385.7h0.8v1.5h-0.8zM50.8 385.7h0.8v2.9h-0.8zM45.6 385.9h0.8v1.4h-0.8zM74.9 385.9h0.8v2.5h-0.8zM94.0 385.1h0.8v2.8h-0.8zM52.3 386.6h0.8v0.9h-0.8zM33.8 385.7h0.8v2.2h-0.8zM52.3 386.6h0.8v1.8h-0.8zM61.8 385.3h0.8v2.2h-0.8zM64.9 385.9h0.8v1.7h-0.8zM84.0 385.7h0.8v3.3h-0.8zM35.4 387.0h0.8v1.0h-0.8zM83.8 385.6h0.8v1.6h-0.8zM68.1 386.7h0.8v1.0h-0.8zM40.1 385.2h0.8v3.2h-0.8zM43.7 384.9h0.8v2.4h-0.8zM44.0 386.4h0.8v2.4h-0.8zM26.4 386.1h0.8v2.3h-0.8zM75.6 386.5h0.8v1.1h-0.8zM79.3 385.6h0.8v2.1h-0.8zM79.3 385.5h0.8v1.4h-0.8zM62.7 385.6h0.8v3.3h-0.8zM72.4 384.8h0.8v2.9h-0.8zM24.9 385.5h0.8v2.3h-0.8zM76.2 385.5h0.8v2.5h-0.8zM87.0 386.2h0.8v1.2h-0.8zM25.6 386.8h0.8v1.0h-0.8zM79.8 386.5h0.8v1.3h-0.8zM35.6 385.8h0.8v2.4h-0.8zM66.7 386.1h0.8v2.4h-0.8zM42.3 385.3h0.8v2.4h-0.8zM48.3 386.0h0.8v1.0h-0.8zM55.6 386.4h0.8v1.8h-0.8zM51.5 386.1h0.8v2.9h-0.8zM70.4 386.3h0.8v1.1h-0.8zM39.6 385.2h0.8v3.0h-0.8zM84.4 385.6h0.8v1.4h-0.8zM62.3 385.5h0.8v1.7h-0.8zM76.7 385.3h0.8v2.5h-0.8zM48.7 385.0h0.8v1.7h-0.8zM29.4 385.0h0.8v3.0h-0.8zM36.5 386.8h0.8v1.9h-0.8zM86.7 386.8h0.8v1.2h-0.8zM71.8 387.4h0.8v1.1h-0.8zM35.6 385.9h0.8v1.0h-0.8zM25.2 386.4h0.8v1.9h-0.8zM37.8 385.8h0.8v2.4h-0.8zM26.4 385.5h0.8v2.0h-0.8zM84.7 387.0h0.8v1.0h-0.8zM51.0 385.3h0.8v1.9h-0.8zM26.3 385.7h0.8v2.0h-0.8z" fill="#c48a82" fill-opacity="0.20"/>
<path d="M74.9 384.4h0.8v2.7h-0.8zM77.5 385.7h0.8v1.5h-0.8zM76.0 384.7h0.8v2.8h-0.8zM34.4 385.5h0.8v3.4h-0.8zM46.9 385.3h0.8v2.9h-0.8zM93.1 384.6h0.8v3.3h-0.8zM35.6 385.8h0.8v3.2h-0.8zM36.7 385.9h0.8v0.9h-0.8zM41.7 385.3h0.8v1.5h-0.8zM73.2 386.0h0.8v1.8h-0.8zM51.2 386.0h0.8v2.2h-0.8zM95.7 386.0h0.8v3.3h-0.8zM78.8 384.8h0.8v3.0h-0.8zM84.6 386.6h0.8v1.8h-0.8zM65.5 385.0h0.8v2.9h-0.8zM85.6 385.8h0.8v1.3h-0.8zM23.0 386.6h0.8v1.3h-0.8zM92.7 385.1h0.8v1.1h-0.8zM41.8 386.5h0.8v1.0h-0.8zM86.2 386.5h0.8v1.4h-0.8zM79.6 385.3h0.8v3.4h-0.8zM37.8 385.6h0.8v1.8h-0.8zM83.9 386.7h0.8v1.7h-0.8zM85.5 384.4h0.8v3.1h-0.8zM93.3 385.7h0.8v2.0h-0.8zM78.9 386.8h0.8v3.4h-0.8zM24.1 384.9h0.8v3.3h-0.8zM59.2 385.1h0.8v2.4h-0.8zM50.3 385.0h0.8v3.1h-0.8zM92.7 385.9h0.8v1.5h-0.8zM79.6 385.6h0.8v2.8h-0.8zM26.7 384.9h0.8v3.2h-0.8zM93.8 384.7h0.8v3.0h-0.8zM75.9 384.6h0.8v1.7h-0.8zM77.4 386.2h0.8v2.7h-0.8zM35.7 387.1h0.8v3.1h-0.8zM57.2 385.8h0.8v1.1h-0.8zM85.1 386.0h0.8v1.1h-0.8zM77.3 385.8h0.8v1.4h-0.8zM87.3 385.5h0.8v3.0h-0.8zM45.3 386.0h0.8v1.7h-0.8zM88.2 384.3h0.8v3.4h-0.8zM45.5 385.4h0.8v3.0h-0.8zM32.7 386.0h0.8v1.8h-0.8zM47.2 386.0h0.8v2.0h-0.8zM91.8 385.9h0.8v3.3h-0.8zM23.4 385.7h0.8v1.9h-0.8zM23.3 386.8h0.8v1.1h-0.8zM71.9 384.7h0.8v2.6h-0.8zM44.7 387.2h0.8v1.2h-0.8zM92.6 386.2h0.8v1.2h-0.8zM89.4 387.1h0.8v0.8h-0.8zM32.5 384.5h0.8v3.1h-0.8z" fill="#c48a82" fill-opacity="0.32"/>
<path d="M91.8 386.3h0.8v2.7h-0.8zM85.1 386.6h0.8v1.7h-0.8zM91.4 386.3h0.8v0.9h-0.8zM68.1 385.9h0.8v1.3h-0.8zM92.0 384.5h0.8v3.4h-0.8zM72.8 385.2h0.8v3.0h-0.8zM83.5 386.1h0.8v1.8h-0.8zM45.6 385.9h0.8v1.3h-0.8zM43.1 384.7h0.8v3.2h-0.8zM80.1 384.7h0.8v1.8h-0.8zM61.0 386.6h0.8v1.3h-0.8zM32.8 386.7h0.8v1.1h-0.8zM70.3 385.7h0.8v1.9h-0.8zM69.3 385.6h0.8v1.5h-0.8zM53.2 386.8h0.8v0.8h-0.8zM48.8 384.9h0.8v2.5h-0.8zM87.4 387.1h0.8v1.0h-0.8zM59.9 385.5h0.8v3.1h-0.8zM61.4 386.2h0.8v2.4h-0.8zM77.4 385.1h0.8v3.1h-0.8zM28.9 385.7h0.8v1.7h-0.8zM48.2 386.3h0.8v0.9h-0.8zM67.4 385.1h0.8v3.3h-0.8zM60.0 384.8h0.8v3.2h-0.8zM84.4 385.8h0.8v2.6h-0.8zM72.2 385.7h0.8v1.0h-0.8zM46.8 384.2h0.8v2.3h-0.8zM63.3 386.2h0.8v1.1h-0.8zM53.0 386.0h0.8v1.2h-0.8zM64.3 386.8h0.8v1.6h-0.8zM27.5 386.4h0.8v1.8h-0.8zM76.8 385.9h0.8v1.5h-0.8zM71.5 385.2h0.8v2.2h-0.8zM56.9 385.3h0.8v3.4h-0.8zM89.2 386.4h0.8v3.1h-0.8zM48.9 385.2h0.8v2.0h-0.8zM65.2 385.4h0.8v1.7h-0.8zM36.0 384.6h0.8v1.8h-0.8zM27.2 386.6h0.8v1.1h-0.8zM80.4 386.9h0.8v1.6h-0.8zM51.5 386.0h0.8v1.0h-0.8zM73.2 386.1h0.8v1.9h-0.8zM86.8 385.2h0.8v2.3h-0.8zM33.0 385.8h0.8v1.3h-0.8zM66.3 385.5h0.8v1.0h-0.8zM40.9 385.2h0.8v3.2h-0.8zM44.8 385.1h0.8v3.3h-0.8zM49.1 385.6h0.8v3.1h-0.8zM43.6 384.3h0.8v2.6h-0.8zM94.9 385.5h0.8v1.5h-0.8zM28.5 385.3h0.8v3.4h-0.8zM52.1 385.9h0.8v1.7h-0.8zM87.0 385.8h0.8v2.1h-0.8zM51.1 385.6h0.8v2.0h-0.8zM52.7 385.6h0.8v3.0h-0.8zM55.4 385.1h0.8v3.1h-0.8zM67.4 387.2h0.8v0.9h-0.8zM92.6 385.7h0.8v1.2h-0.8zM32.5 386.6h0.8v1.6h-0.8zM73.0 384.9h0.8v3.3h-0.8zM25.4 384.7h0.8v3.0h-0.8zM85.5 386.2h0.8v1.5h-0.8z" fill="#c48a82" fill-opacity="0.45"/>
<path d="M46.3 401.5h0.8v1.3h-0.8zM33.8 401.2h0.8v2.0h-0.8zM68.0 402.1h0.8v1.7h-0.8zM53.0 401.9h0.8v1.1h-0.8zM53.3 401.6h0.8v1.5h-0.8zM39.7 401.6h0.8v2.9h-0.8zM62.6 402.2h0.8v2.1h-0.8zM72.4 402.6h0.8v0.9h-0.8zM92.7 402.0h0.8v1.5h-0.8zM86.3 401.9h0.8v0.8h-0.8zM64.6 401.8h0.8v1.0h-0.8zM65.9 400.7h0.8v2.8h-0.8zM91.4 401.2h0.8v2.6h-0.8zM45.2 401.5h0.8v1.5h-0.8zM81.9 401.5h0.8v1.5h-0.8zM60.4 401.6h0.8v2.2h-0.8zM56.9 400.4h0.8v2.7h-0.8zM52.2 402.8h0.8v2.6h-0.8zM70.5 401.0h0.8v2.3h-0.8zM30.0 401.2h0.8v1.6h-0.8zM56.4 401.7h0.8v2.7h-0.8zM35.3 402.6h0.8v1.0h-0.8zM61.6 402.8h0.8v1.5h-0.8zM52.1 401.5h0.8v1.7h-0.8zM86.1 402.4h0.8v1.2h-0.8zM22.6 401.2h0.8v2.8h-0.8zM63.0 401.3h0.8v1.9h-0.8zM27.9 401.3h0.8v1.7h-0.8zM79.4 401.7h0.8v1.6h-0.8zM90.8 401.1h0.8v1.9h-0.8zM31.9 402.0h0.8v1.0h-0.8zM23.7 402.1h0.8v2.8h-0.8zM66.6 401.8h0.8v2.0h-0.8zM49.0 401.1h0.8v1.8h-0.8z" fill="#a0a496" fill-opacity="0.18"/>
<path d="M27.9 400.9h0.8v1.5h-0.8zM77.3 401.6h0.8v2.1h-0.8zM37.4 402.1h0.8v2.1h-0.8zM56.7 402.3h0.8v2.1h-0.8zM73.8 402.5h0.8v1.9h-0.8zM67.5 402.3h0.8v2.2h-0.8zM43.1 401.8h0.8v2.5h-0.8zM23.9 402.1h0.8v1.1h-0.8zM68.1 401.6h0.8v1.7h-0.8zM62.1 401.6h0.8v1.8h-0.8zM75.0 401.8h0.8v1.2h-0.8zM39.7 401.1h0.8v1.7h-0.8zM81.8 401.7h0.8v2.3h-0.8zM35.9 401.8h0.8v1.4h-0.8zM37.6 400.8h0.8v2.0h-0.8zM85.8 401.4h0.8v2.6h-0.8zM54.5 400.5h0.8v2.6h-0.8zM88.3 401.1h0.8v1.0h-0.8zM75.7 401.9h0.8v2.0h-0.8zM65.5 401.1h0.8v2.3h-0.8zM59.1 402.0h0.8v2.1h-0.8zM89.6 400.7h0.8v2.8h-0.8zM38.6 402.1h0.8v2.4h-0.8zM26.8 402.4h0.8v1.2h-0.8zM62.8 402.0h0.8v2.1h-0.8zM86.3 401.0h0.8v1.8h-0.8zM30.4 400.5h0.8v1.9h-0.8zM36.5 401.3h0.8v1.6h-0.8zM71.9 402.3h0.8v1.4h-0.8zM86.1 401.8h0.8v1.3h-0.8zM71.9 402.2h0.8v2.3h-0.8zM57.0 401.0h0.8v2.3h-0.8zM86.9 402.3h0.8v1.9h-0.8zM46.2 401.3h0.8v2.4h-0.8zM24.7 402.7h0.8v1.8h-0.8zM43.8 401.8h0.8v2.5h-0.8zM62.6 401.3h0.8v2.2h-0.8zM71.0 401.2h0.8v1.3h-0.8zM49.6 401.7h0.8v2.0h-0.8z" fill="#a0a496" fill-opacity="0.28"/>
<path d="M64.1 401.6h0.8v2.7h-0.8zM53.3 401.6h0.8v1.7h-0.8zM86.6 402.5h0.8v0.9h-0.8zM94.2 403.0h0.8v1.2h-0.8zM91.1 401.7h0.8v1.9h-0.8zM64.8 401.5h0.8v1.8h-0.8zM58.0 402.1h0.8v1.1h-0.8zM26.6 400.4h0.8v2.8h-0.8zM74.6 401.4h0.8v1.4h-0.8zM50.5 400.9h0.8v3.0h-0.8zM70.5 401.0h0.8v1.2h-0.8zM62.8 401.7h0.8v1.8h-0.8zM94.2 401.7h0.8v1.1h-0.8zM45.5 400.7h0.8v2.8h-0.8zM22.4 402.1h0.8v1.9h-0.8zM72.4 401.6h0.8v1.8h-0.8zM34.1 401.0h0.8v2.4h-0.8zM30.3 401.9h0.8v1.2h-0.8zM38.3 402.3h0.8v2.7h-0.8zM49.7 402.3h0.8v1.1h-0.8zM33.5 401.8h0.8v1.9h-0.8zM79.4 401.2h0.8v1.1h-0.8zM24.6 400.6h0.8v2.9h-0.8zM78.1 402.9h0.8v0.8h-0.8zM83.8 401.2h0.8v1.1h-0.8zM49.9 400.6h0.8v2.7h-0.8zM39.2 401.1h0.8v2.7h-0.8zM80.8 401.8h0.8v2.5h-0.8zM27.0 402.0h0.8v1.6h-0.8zM36.5 402.3h0.8v2.2h-0.8zM84.3 401.2h0.8v2.3h-0.8zM76.6 401.6h0.8v1.8h-0.8zM53.9 401.2h0.8v2.7h-0.8zM51.9 401.1h0.8v3.0h-0.8zM39.2 403.0h0.8v2.1h-0.8zM90.2 401.9h0.8v2.4h-0.8zM47.0 401.8h0.8v2.1h-0.8z" fill="#a0a496" fill-opacity="0.40"/>
<rect x="119.10" y="354.60" width="80.00" height="67.20" fill="#fcfae5"/>
<line x1="125.90" y1="354.60" x2="125.90" y2="421.80" stroke="#f8f6e4" stroke-width="0.4"/>
<line x1="132.30" y1="354.60" x2="132.30" y2="421.80" stroke="#f8f6e4" stroke-width="0.4"/>
<line x1="137.90" y1="354.60" x2="137.90" y2="421.80" stroke="#f8f6e4" stroke-width="0.4"/>
<line x1="143.10" y1="354.60" x2="143.10" y2="421.80" stroke="#f8f6e4" stroke-width="0.4"/>
<line x1="147.90" y1="354.60" x2="147.90" y2="421.80" stroke="#f8f6e4" stroke-width="0.4"/>
<line x1="152.70" y1="354.60" x2="152.70" y2="421.80" stroke="#f8f6e4" stroke-width="0.4"/>
<line x1="157.10" y1="354.60" x2="157.10" y2="421.80" stroke="#f8f6e4" stroke-width="0.4"/>
<line x1="161.10" y1="354.60" x2="161.10" y2="421.80" stroke="#f8f6e4" stroke-width="0.4"/>
<line x1="164.70" y1="354.60" x2="164.70" y2="421.80" stroke="#f8f6e4" stroke-width="0.4"/>
<line x1="168.30" y1="354.60" x2="168.30" y2="421.80" stroke="#f8f6e4" stroke-width="0.4"/>
<line x1="171.90" y1="354.60" x2="171.90" y2="421.80" stroke="#f8f6e4" stroke-width="0.4"/>
<line x1="175.10" y1="354.60" x2="175.10" y2="421.80" stroke="#f8f6e4" stroke-width="0.4"/>
<line x1="178.30" y1="354.60" x2="178.30" y2="421.80" stroke="#f8f6e4" stroke-width="0.4"/>
<line x1="181.10" y1="354.60" x2="181.10" y2="421.80" stroke="#f8f6e4" stroke-width="0.4"/>
<line x1="183.90" y1="354.60" x2="183.90" y2="421.80" stroke="#f8f6e4" stroke-width="0.4"/>
<line x1="186.30" y1="354.60" x2="186.30" y2="421.80" stroke="#f8f6e4" stroke-width="0.4"/>
<line x1="188.70" y1="354.60" x2="188.70" y2="421.80" stroke="#f8f6e4" stroke-width="0.4"/>
<line x1="190.70" y1="354.60" x2="190.70" y2="421.80" stroke="#f8f6e4" stroke-width="0.4"/>
<line x1="192.70" y1="354.60" x2="192.70" y2="421.80" stroke="#f8f6e4" stroke-width="0.4"/>
<line x1="194.30" y1="354.60" x2="194.30" y2="421.80" stroke="#f8f6e4" stroke-width="0.4"/>
<line x1="195.90" y1="354.60" x2="195.90" y2="421.80" stroke="#f8f6e4" stroke-width="0.4"/>
<line x1="197.50" y1="354.60" x2="197.50" y2="421.80" stroke="#f8f6e4" stroke-width="0.4"/>
<line x1="119.10" y1="355.00" x2="199.10" y2="355.00" stroke="#e6e4d2" stroke-width="0.8"/>
<line x1="119.10" y1="421.40" x2="199.10" y2="421.40" stroke="#ebe8d5" stroke-width="0.8"/>
<line x1="198.70" y1="354.60" x2="198.70" y2="421.80" stroke="#efecd8" stroke-width="0.6"/>
<line x1="119.50" y1="354.60" x2="119.50" y2="421.80" stroke="#d6d4c4" stroke-width="0.8"/>
<line x1="117.90" y1="357.60" x2="119.50" y2="357.60" stroke="#dcdacb" stroke-width="0.6"/>
<line x1="117.90" y1="369.84" x2="119.50" y2="369.84" stroke="#dcdacb" stroke-width="0.6"/>
<line x1="117.90" y1="382.08" x2="119.50" y2="382.08" stroke="#dcdacb" stroke-width="0.6"/>
<line x1="117.90" y1="394.32" x2="119.50" y2="394.32" stroke="#dcdacb" stroke-width="0.6"/>
<line x1="117.90" y1="406.56" x2="119.50" y2="406.56" stroke="#dcdacb" stroke-width="0.6"/>
<line x1="117.90" y1="418.80" x2="119.50" y2="418.80" stroke="#dcdacb" stroke-width="0.6"/>
<line x1="125.90" y1="354.60" x2="125.90" y2="356.00" stroke="#e6c4bc" stroke-width="0.7"/>
<line x1="125.90" y1="420.40" x2="125.90" y2="421.80" stroke="#ddd8c6" stroke-width="0.7"/>
<line x1="132.30" y1="354.60" x2="132.30" y2="356.00" stroke="#e6c4bc" stroke-width="0.7"/>
<line x1="132.30" y1="420.40" x2="132.30" y2="421.80" stroke="#ddd8c6" stroke-width="0.7"/>
<line x1="137.90" y1="354.60" x2="137.90" y2="356.00" stroke="#e6c4bc" stroke-width="0.7"/>
<line x1="137.90" y1="420.40" x2="137.90" y2="421.80" stroke="#ddd8c6" stroke-width="0.7"/>
<line x1="143.10" y1="354.60" x2="143.10" y2="356.00" stroke="#e6c4bc" stroke-width="0.7"/>
<line x1="143.10" y1="420.40" x2="143.10" y2="421.80" stroke="#ddd8c6" stroke-width="0.7"/>
<line x1="147.90" y1="354.60" x2="147.90" y2="356.00" stroke="#e6c4bc" stroke-width="0.7"/>
<line x1="147.90" y1="420.40" x2="147.90" y2="421.80" stroke="#ddd8c6" stroke-width="0.7"/>
<line x1="152.70" y1="354.60" x2="152.70" y2="356.00" stroke="#e6c4bc" stroke-width="0.7"/>
<line x1="152.70" y1="420.40" x2="152.70" y2="421.80" stroke="#ddd8c6" stroke-width="0.7"/>
<line x1="157.10" y1="354.60" x2="157.10" y2="356.00" stroke="#e6c4bc" stroke-width="0.7"/>
<line x1="157.10" y1="420.40" x2="157.10" y2="421.80" stroke="#ddd8c6" stroke-width="0.7"/>
<line x1="161.10" y1="354.60" x2="161.10" y2="356.00" stroke="#e6c4bc" stroke-width="0.7"/>
<line x1="161.10" y1="420.40" x2="161.10" y2="421.80" stroke="#ddd8c6" stroke-width="0.7"/>
<line x1="164.70" y1="354.60" x2="164.70" y2="356.00" stroke="#e6c4bc" stroke-width="0.7"/>
<line x1="164.70" y1="420.40" x2="164.70" y2="421.80" stroke="#ddd8c6" stroke-width="0.7"/>
<line x1="168.30" y1="354.60" x2="168.30" y2="356.00" stroke="#e6c4bc" stroke-width="0.7"/>
<line x1="168.30" y1="420.40" x2="168.30" y2="421.80" stroke="#ddd8c6" stroke-width="0.7"/>
<line x1="171.90" y1="354.60" x2="171.90" y2="356.00" stroke="#e6c4bc" stroke-width="0.7"/>
<line x1="171.90" y1="420.40" x2="171.90" y2="421.80" stroke="#ddd8c6" stroke-width="0.7"/>
<line x1="175.10" y1="354.60" x2="175.10" y2="356.00" stroke="#e6c4bc" stroke-width="0.7"/>
<line x1="175.10" y1="420.40" x2="175.10" y2="421.80" stroke="#ddd8c6" stroke-width="0.7"/>
<line x1="178.30" y1="354.60" x2="178.30" y2="356.00" stroke="#e6c4bc" stroke-width="0.7"/>
<line x1="178.30" y1="420.40" x2="178.30" y2="421.80" stroke="#ddd8c6" stroke-width="0.7"/>
<line x1="181.10" y1="354.60" x2="181.10" y2="356.00" stroke="#e6c4bc" stroke-width="0.7"/>
<line x1="181.10" y1="420.40" x2="181.10" y2="421.80" stroke="#ddd8c6" stroke-width="0.7"/>
<line x1="183.90" y1="354.60" x2="183.90" y2="356.00" stroke="#e6c4bc" stroke-width="0.7"/>
<line x1="183.90" y1="420.40" x2="183.90" y2="421.80" stroke="#ddd8c6" stroke-width="0.7"/>
<line x1="186.30" y1="354.60" x2="186.30" y2="356.00" stroke="#e6c4bc" stroke-width="0.7"/>
<line x1="186.30" y1="420.40" x2="186.30" y2="421.80" stroke="#ddd8c6" stroke-width="0.7"/>
<line x1="188.70" y1="354.60" x2="188.70" y2="356.00" stroke="#e6c4bc" stroke-width="0.7"/>
<line x1="188.70" y1="420.40" x2="188.70" y2="421.80" stroke="#ddd8c6" stroke-width="0.7"/>
<line x1="190.70" y1="354.60" x2="190.70" y2="356.00" stroke="#e6c4bc" stroke-width="0.7"/>
<line x1="190.70" y1="420.40" x2="190.70" y2="421.80" stroke="#ddd8c6" stroke-width="0.7"/>
<line x1="192.70" y1="354.60" x2="192.70" y2="356.00" stroke="#e6c4bc" stroke-width="0.7"/>
<line x1="192.70" y1="420.40" x2="192.70" y2="421.80" stroke="#ddd8c6" stroke-width="0.7"/>
<line x1="194.30" y1="354.60" x2="194.30" y2="356.00" stroke="#e6c4bc" stroke-width="0.7"/>
<line x1="194.30" y1="420.40" x2="194.30" y2="421.80" stroke="#ddd8c6" stroke-width="0.7"/>
<line x1="195.90" y1="354.60" x2="195.90" y2="356.00" stroke="#e6c4bc" stroke-width="0.7"/>
<line x1="195.90" y1="420.40" x2="195.90" y2="421.80" stroke="#ddd8c6" stroke-width="0.7"/>
<line x1="197.50" y1="354.60" x2="197.50" y2="356.00" stroke="#e6c4bc" stroke-width="0.7"/>
<line x1="197.50" y1="420.40" x2="197.50" y2="421.80" stroke="#ddd8c6" stroke-width="0.7"/>
<line x1="119.10" y1="388.90" x2="199.10" y2="388.90" stroke="#d5cfb8" stroke-width="0.9"/>
<path d="M175.8 376.9h0.8v2.9h-0.8zM125.3 377.0h0.8v1.4h-0.8zM173.5 375.3h0.8v2.8h-0.8zM171.3 377.0h0.8v2.3h-0.8zM121.7 377.0h0.8v1.2h-0.8zM183.1 377.2h0.8v2.7h-0.8zM151.2 377.4h0.8v1.4h-0.8zM186.7 376.2h0.8v2.8h-0.8zM147.1 376.9h0.8v1.0h-0.8zM174.7 377.8h0.8v0.8h-0.8zM137.4 377.7h0.8v1.5h-0.8zM189.6 378.3h0.8v1.9h-0.8zM177.4 377.3h0.8v2.2h-0.8zM167.5 376.4h0.8v2.5h-0.8zM178.2 376.4h0.8v2.0h-0.8zM150.4 377.4h0.8v2.8h-0.8zM193.6 377.6h0.8v1.5h-0.8zM130.9 377.7h0.8v2.0h-0.8zM143.8 376.6h0.8v2.6h-0.8zM189.7 377.8h0.8v0.8h-0.8zM183.7 377.6h0.8v2.7h-0.8zM159.8 376.6h0.8v2.4h-0.8zM133.9 378.2h0.8v1.2h-0.8zM163.2 377.8h0.8v2.0h-0.8zM195.8 377.0h0.8v2.2h-0.8zM196.2 376.9h0.8v1.4h-0.8z" fill="#b4aa9c" fill-opacity="0.12"/>
<path d="M162.7 377.4h0.8v2.7h-0.8zM130.6 376.9h0.8v2.1h-0.8zM130.4 377.1h0.8v1.6h-0.8zM145.6 378.0h0.8v2.7h-0.8zM138.4 377.2h0.8v1.5h-0.8zM125.7 377.4h0.8v1.6h-0.8zM195.0 376.6h0.8v1.8h-0.8zM167.5 378.2h0.8v1.3h-0.8zM152.2 377.8h0.8v1.6h-0.8zM175.6 377.8h0.8v2.6h-0.8zM126.5 377.0h0.8v2.8h-0.8zM182.7 376.7h0.8v1.2h-0.8zM176.9 378.2h0.8v1.6h-0.8zM153.7 376.9h0.8v1.9h-0.8zM170.4 377.3h0.8v1.3h-0.8zM186.2 376.5h0.8v2.3h-0.8zM124.9 377.8h0.8v1.0h-0.8zM123.4 376.7h0.8v2.6h-0.8zM131.0 376.0h0.8v2.3h-0.8zM146.1 377.8h0.8v2.4h-0.8zM183.3 378.2h0.8v1.8h-0.8zM197.5 377.5h0.8v0.9h-0.8zM179.5 377.1h0.8v2.5h-0.8zM133.9 378.1h0.8v1.1h-0.8z" fill="#b4aa9c" fill-opacity="0.20"/>
<path d="M172.9 378.0h0.8v1.8h-0.8zM148.0 376.7h0.8v2.6h-0.8zM128.8 376.6h0.8v2.3h-0.8zM193.7 376.9h0.8v1.4h-0.8zM143.5 377.9h0.8v1.1h-0.8zM143.2 378.0h0.8v2.3h-0.8zM155.0 376.2h0.8v1.4h-0.8zM187.9 377.5h0.8v1.2h-0.8zM130.0 376.4h0.8v2.5h-0.8zM152.2 377.3h0.8v2.0h-0.8zM155.3 377.2h0.8v2.6h-0.8zM190.6 377.6h0.8v2.0h-0.8zM141.6 377.2h0.8v1.0h-0.8zM188.8 377.7h0.8v2.4h-0.8zM126.5 377.8h0.8v2.5h-0.8zM174.4 377.3h0.8v1.5h-0.8zM155.2 376.8h0.8v2.7h-0.8zM184.2 376.7h0.8v1.5h-0.8zM146.7 378.4h0.8v1.3h-0.8zM192.0 378.4h0.8v1.0h-0.8z" fill="#b4aa9c" fill-opacity="0.30"/>
<path d="M135.3 396.9h0.8v1.7h-0.8zM169.5 397.2h0.8v2.4h-0.8zM134.8 397.5h0.8v0.9h-0.8zM170.9 397.4h0.8v2.2h-0.8zM176.7 396.9h0.8v2.4h-0.8zM181.7 397.7h0.8v2.4h-0.8zM173.8 396.3h0.8v1.7h-0.8zM151.9 397.7h0.8v1.0h-0.8zM121.3 396.9h0.8v2.7h-0.8zM170.0 398.0h0.8v1.1h-0.8zM156.2 397.5h0.8v2.6h-0.8zM197.1 398.3h0.8v2.4h-0.8zM132.6 397.8h0.8v1.3h-0.8zM122.7 397.6h0.8v1.9h-0.8zM186.2 398.1h0.8v2.3h-0.8zM149.9 397.9h0.8v1.5h-0.8z" fill="#b0b2a4" fill-opacity="0.10"/>
<path d="M167.2 396.2h0.8v2.1h-0.8zM177.9 397.1h0.8v2.4h-0.8zM188.6 397.4h0.8v1.0h-0.8zM140.8 397.5h0.8v2.6h-0.8zM125.9 397.4h0.8v2.6h-0.8zM178.6 396.9h0.8v1.9h-0.8zM132.5 396.8h0.8v2.7h-0.8zM168.4 396.5h0.8v2.7h-0.8zM135.2 398.3h0.8v1.2h-0.8zM160.6 397.7h0.8v1.6h-0.8zM133.3 397.1h0.8v1.8h-0.8zM177.2 398.0h0.8v1.6h-0.8zM173.6 397.2h0.8v1.8h-0.8zM124.5 397.5h0.8v1.7h-0.8z" fill="#b0b2a4" fill-opacity="0.18"/>
<path d="M134.0 397.8h0.8v1.0h-0.8zM181.7 397.8h0.8v2.8h-0.8zM141.9 397.5h0.8v2.1h-0.8zM139.2 397.4h0.8v1.2h-0.8zM179.0 397.4h0.8v2.2h-0.8zM165.8 398.7h0.8v2.1h-0.8zM184.1 398.3h0.8v1.2h-0.8zM145.1 397.5h0.8v1.2h-0.8zM142.3 396.9h0.8v2.2h-0.8zM148.4 397.5h0.8v2.5h-0.8zM159.2 396.6h0.8v2.0h-0.8zM191.5 396.3h0.8v2.3h-0.8zM126.1 398.3h0.8v1.4h-0.8zM124.1 398.3h0.8v1.8h-0.8zM124.5 397.1h0.8v2.8h-0.8z" fill="#b0b2a4" fill-opacity="0.26"/>
<rect x="219.00" y="353.10" width="76.00" height="66.70" fill="#fcfae5"/>
<line x1="225.46" y1="353.10" x2="225.46" y2="419.80" stroke="#f8f6e4" stroke-width="0.4"/>
<line x1="231.54" y1="353.10" x2="231.54" y2="419.80" stroke="#f8f6e4" stroke-width="0.4"/>
<line x1="236.86" y1="353.10" x2="236.86" y2="419.80" stroke="#f8f6e4" stroke-width="0.4"/>
<line x1="241.80" y1="353.10" x2="241.80" y2="419.80" stroke="#f8f6e4" stroke-width="0.4"/>
<line x1="246.36" y1="353.10" x2="246.36" y2="419.80" stroke="#f8f6e4" stroke-width="0.4"/>
<line x1="250.92" y1="353.10" x2="250.92" y2="419.80" stroke="#f8f6e4" stroke-width="0.4"/>
<line x1="255.10" y1="353.10" x2="255.10" y2="419.80" stroke="#f8f6e4" stroke-width="0.4"/>
<line x1="258.90" y1="353.10" x2="258.90" y2="419.80" stroke="#f8f6e4" stroke-width="0.4"/>
<line x1="262.32" y1="353.10" x2="262.32" y2="419.80" stroke="#f8f6e4" stroke-width="0.4"/>
<line x1="265.74" y1="353.10" x2="265.74" y2="419.80" stroke="#f8f6e4" stroke-width="0.4"/>
<line x1="269.16" y1="353.10" x2="269.16" y2="419.80" stroke="#f8f6e4" stroke-width="0.4"/>
<line x1="272.20" y1="353.10" x2="272.20" y2="419.80" stroke="#f8f6e4" stroke-width="0.4"/>
<line x1="275.24" y1="353.10" x2="275.24" y2="419.80" stroke="#f8f6e4" stroke-width="0.4"/>
<line x1="277.90" y1="353.10" x2="277.90" y2="419.80" stroke="#f8f6e4" stroke-width="0.4"/>
<line x1="280.56" y1="353.10" x2="280.56" y2="419.80" stroke="#f8f6e4" stroke-width="0.4"/>
<line x1="282.84" y1="353.10" x2="282.84" y2="419.80" stroke="#f8f6e4" stroke-width="0.4"/>
<line x1="285.12" y1="353.10" x2="285.12" y2="419.80" stroke="#f8f6e4" stroke-width="0.4"/>
<line x1="287.02" y1="353.10" x2="287.02" y2="419.80" stroke="#f8f6e4" stroke-width="0.4"/>
<line x1="288.92" y1="353.10" x2="288.92" y2="419.80" stroke="#f8f6e4" stroke-width="0.4"/>
<line x1="290.44" y1="353.10" x2="290.44" y2="419.80" stroke="#f8f6e4" stroke-width="0.4"/>
<line x1="291.96" y1="353.10" x2="291.96" y2="419.80" stroke="#f8f6e4" stroke-width="0.4"/>
<line x1="293.48" y1="353.10" x2="293.48" y2="419.80" stroke="#f8f6e4" stroke-width="0.4"/>
<line x1="219.00" y1="353.50" x2="295.00" y2="353.50" stroke="#e6e4d2" stroke-width="0.8"/>
<line x1="219.00" y1="419.40" x2="295.00" y2="419.40" stroke="#ebe8d5" stroke-width="0.8"/>
<line x1="294.60" y1="353.10" x2="294.60" y2="419.80" stroke="#efecd8" stroke-width="0.6"/>
<line x1="219.40" y1="353.10" x2="219.40" y2="419.80" stroke="#d6d4c4" stroke-width="0.8"/>
<line x1="217.80" y1="356.10" x2="219.40" y2="356.10" stroke="#dcdacb" stroke-width="0.6"/>
<line x1="217.80" y1="368.24" x2="219.40" y2="368.24" stroke="#dcdacb" stroke-width="0.6"/>
<line x1="217.80" y1="380.38" x2="219.40" y2="380.38" stroke="#dcdacb" stroke-width="0.6"/>
<line x1="217.80" y1="392.52" x2="219.40" y2="392.52" stroke="#dcdacb" stroke-width="0.6"/>
<line x1="217.80" y1="404.66" x2="219.40" y2="404.66" stroke="#dcdacb" stroke-width="0.6"/>
<line x1="217.80" y1="416.80" x2="219.40" y2="416.80" stroke="#dcdacb" stroke-width="0.6"/>
<line x1="225.46" y1="353.10" x2="225.46" y2="354.50" stroke="#e6c4bc" stroke-width="0.7"/>
<line x1="225.46" y1="418.40" x2="225.46" y2="419.80" stroke="#ddd8c6" stroke-width="0.7"/>
<line x1="231.54" y1="353.10" x2="231.54" y2="354.50" stroke="#e6c4bc" stroke-width="0.7"/>
<line x1="231.54" y1="418.40" x2="231.54" y2="419.80" stroke="#ddd8c6" stroke-width="0.7"/>
<line x1="236.86" y1="353.10" x2="236.86" y2="354.50" stroke="#e6c4bc" stroke-width="0.7"/>
<line x1="236.86" y1="418.40" x2="236.86" y2="419.80" stroke="#ddd8c6" stroke-width="0.7"/>
<line x1="241.80" y1="353.10" x2="241.80" y2="354.50" stroke="#e6c4bc" stroke-width="0.7"/>
<line x1="241.80" y1="418.40" x2="241.80" y2="419.80" stroke="#ddd8c6" stroke-width="0.7"/>
<line x1="246.36" y1="353.10" x2="246.36" y2="354.50" stroke="#e6c4bc" stroke-width="0.7"/>
<line x1="246.36" y1="418.40" x2="246.36" y2="419.80" stroke="#ddd8c6" stroke-width="0.7"/>
<line x1="250.92" y1="353.10" x2="250.92" y2="354.50" stroke="#e6c4bc" stroke-width="0.7"/>
<line x1="250.92" y1="418.40" x2="250.92" y2="419.80" stroke="#ddd8c6" stroke-width="0.7"/>
<line x1="255.10" y1="353.10" x2="255.10" y2="354.50" stroke="#e6c4bc" stroke-width="0.7"/>
<line x1="255.10" y1="418.40" x2="255.10" y2="419.80" stroke="#ddd8c6" stroke-width="0.7"/>
<line x1="258.90" y1="353.10" x2="258.90" y2="354.50" stroke="#e6c4bc" stroke-width="0.7"/>
<line x1="258.90" y1="418.40" x2="258.90" y2="419.80" stroke="#ddd8c6" stroke-width="0.7"/>
<line x1="262.32" y1="353.10" x2="262.32" y2="354.50" stroke="#e6c4bc" stroke-width="0.7"/>
<line x1="262.32" y1="418.40" x2="262.32" y2="419.80" stroke="#ddd8c6" stroke-width="0.7"/>
<line x1="265.74" y1="353.10" x2="265.74" y2="354.50" stroke="#e6c4bc" stroke-width="0.7"/>
<line x1="265.74" y1="418.40" x2="265.74" y2="419.80" stroke="#ddd8c6" stroke-width="0.7"/>
<line x1="269.16" y1="353.10" x2="269.16" y2="354.50" stroke="#e6c4bc" stroke-width="0.7"/>
<line x1="269.16" y1="418.40" x2="269.16" y2="419.80" stroke="#ddd8c6" stroke-width="0.7"/>
<line x1="272.20" y1="353.10" x2="272.20" y2="354.50" stroke="#e6c4bc" stroke-width="0.7"/>
<line x1="272.20" y1="418.40" x2="272.20" y2="419.80" stroke="#ddd8c6" stroke-width="0.7"/>
<line x1="275.24" y1="353.10" x2="275.24" y2="354.50" stroke="#e6c4bc" stroke-width="0.7"/>
<line x1="275.24" y1="418.40" x2="275.24" y2="419.80" stroke="#ddd8c6" stroke-width="0.7"/>
<line x1="277.90" y1="353.10" x2="277.90" y2="354.50" stroke="#e6c4bc" stroke-width="0.7"/>
<line x1="277.90" y1="418.40" x2="277.90" y2="419.80" stroke="#ddd8c6" stroke-width="0.7"/>
<line x1="280.56" y1="353.10" x2="280.56" y2="354.50" stroke="#e6c4bc" stroke-width="0.7"/>
<line x1="280.56" y1="418.40" x2="280.56" y2="419.80" stroke="#ddd8c6" stroke-width="0.7"/>
<line x1="282.84" y1="353.10" x2="282.84" y2="354.50" stroke="#e6c4bc" stroke-width="0.7"/>
<line x1="282.84" y1="418.40" x2="282.84" y2="419.80" stroke="#ddd8c6" stroke-width="0.7"/>
<line x1="285.12" y1="353.10" x2="285.12" y2="354.50" stroke="#e6c4bc" stroke-width="0.7"/>
<line x1="285.12" y1="418.40" x2="285.12" y2="419.80" stroke="#ddd8c6" stroke-width="0.7"/>
<line x1="287.02" y1="353.10" x2="287.02" y2="354.50" stroke="#e6c4bc" stroke-width="0.7"/>
<line x1="287.02" y1="418.40" x2="287.02" y2="419.80" stroke="#ddd8c6" stroke-width="0.7"/>
<line x1="288.92" y1="353.10" x2="288.92" y2="354.50" stroke="#e6c4bc" stroke-width="0.7"/>
<line x1="288.92" y1="418.40" x2="288.92" y2="419.80" stroke="#ddd8c6" stroke-width="0.7"/>
<line x1="290.44" y1="353.10" x2="290.44" y2="354.50" stroke="#e6c4bc" stroke-width="0.7"/>
<line x1="290.44" y1="418.40" x2="290.44" y2="419.80" stroke="#ddd8c6" stroke-width="0.7"/>
<line x1="291.96" y1="353.10" x2="291.96" y2="354.50" stroke="#e6c4bc" stroke-width="0.7"/>
<line x1="291.96" y1="418.40" x2="291.96" y2="419.80" stroke="#ddd8c6" stroke-width="0.7"/>
<line x1="293.48" y1="353.10" x2="293.48" y2="354.50" stroke="#e6c4bc" stroke-width="0.7"/>
<line x1="293.48" y1="418.40" x2="293.48" y2="419.80" stroke="#ddd8c6" stroke-width="0.7"/>
<line x1="219.00" y1="397.40" x2="295.00" y2="397.40" stroke="#d5cfb8" stroke-width="0.9"/>
<rect x="317.20" y="351.90" width="78.30" height="67.30" fill="#fcfae5"/>
<line x1="323.86" y1="351.90" x2="323.86" y2="419.20" stroke="#f8f6e4" stroke-width="0.4"/>
<line x1="330.12" y1="351.90" x2="330.12" y2="419.20" stroke="#f8f6e4" stroke-width="0.4"/>
<line x1="335.60" y1="351.90" x2="335.60" y2="419.20" stroke="#f8f6e4" stroke-width="0.4"/>
<line x1="340.69" y1="351.90" x2="340.69" y2="419.20" stroke="#f8f6e4" stroke-width="0.4"/>
<line x1="345.39" y1="351.90" x2="345.39" y2="419.20" stroke="#f8f6e4" stroke-width="0.4"/>
<line x1="350.09" y1="351.90" x2="350.09" y2="419.20" stroke="#f8f6e4" stroke-width="0.4"/>
<line x1="354.39" y1="351.90" x2="354.39" y2="419.20" stroke="#f8f6e4" stroke-width="0.4"/>
<line x1="358.31" y1="351.90" x2="358.31" y2="419.20" stroke="#f8f6e4" stroke-width="0.4"/>
<line x1="361.83" y1="351.90" x2="361.83" y2="419.20" stroke="#f8f6e4" stroke-width="0.4"/>
<line x1="365.35" y1="351.90" x2="365.35" y2="419.20" stroke="#f8f6e4" stroke-width="0.4"/>
<line x1="368.88" y1="351.90" x2="368.88" y2="419.20" stroke="#f8f6e4" stroke-width="0.4"/>
<line x1="372.01" y1="351.90" x2="372.01" y2="419.20" stroke="#f8f6e4" stroke-width="0.4"/>
<line x1="375.14" y1="351.90" x2="375.14" y2="419.20" stroke="#f8f6e4" stroke-width="0.4"/>
<line x1="377.88" y1="351.90" x2="377.88" y2="419.20" stroke="#f8f6e4" stroke-width="0.4"/>
<line x1="380.62" y1="351.90" x2="380.62" y2="419.20" stroke="#f8f6e4" stroke-width="0.4"/>
<line x1="382.97" y1="351.90" x2="382.97" y2="419.20" stroke="#f8f6e4" stroke-width="0.4"/>
<line x1="385.32" y1="351.90" x2="385.32" y2="419.20" stroke="#f8f6e4" stroke-width="0.4"/>
<line x1="387.28" y1="351.90" x2="387.28" y2="419.20" stroke="#f8f6e4" stroke-width="0.4"/>
<line x1="389.24" y1="351.90" x2="389.24" y2="419.20" stroke="#f8f6e4" stroke-width="0.4"/>
<line x1="390.80" y1="351.90" x2="390.80" y2="419.20" stroke="#f8f6e4" stroke-width="0.4"/>
<line x1="392.37" y1="351.90" x2="392.37" y2="419.20" stroke="#f8f6e4" stroke-width="0.4"/>
<line x1="393.93" y1="351.90" x2="393.93" y2="419.20" stroke="#f8f6e4" stroke-width="0.4"/>
<line x1="317.20" y1="352.30" x2="395.50" y2="352.30" stroke="#e6e4d2" stroke-width="0.8"/>
<line x1="317.20" y1="418.80" x2="395.50" y2="418.80" stroke="#ebe8d5" stroke-width="0.8"/>
<line x1="395.10" y1="351.90" x2="395.10" y2="419.20" stroke="#efecd8" stroke-width="0.6"/>
<line x1="317.60" y1="351.90" x2="317.60" y2="419.20" stroke="#d6d4c4" stroke-width="0.8"/>
<line x1="316.00" y1="354.90" x2="317.60" y2="354.90" stroke="#dcdacb" stroke-width="0.6"/>
<line x1="316.00" y1="367.16" x2="317.60" y2="367.16" stroke="#dcdacb" stroke-width="0.6"/>
<line x1="316.00" y1="379.42" x2="317.60" y2="379.42" stroke="#dcdacb" stroke-width="0.6"/>
<line x1="316.00" y1="391.68" x2="317.60" y2="391.68" stroke="#dcdacb" stroke-width="0.6"/>
<line x1="316.00" y1="403.94" x2="317.60" y2="403.94" stroke="#dcdacb" stroke-width="0.6"/>
<line x1="316.00" y1="416.20" x2="317.60" y2="416.20" stroke="#dcdacb" stroke-width="0.6"/>
<line x1="323.86" y1="351.90" x2="323.86" y2="353.30" stroke="#e6c4bc" stroke-width="0.7"/>
<line x1="323.86" y1="417.80" x2="323.86" y2="419.20" stroke="#ddd8c6" stroke-width="0.7"/>
<line x1="330.12" y1="351.90" x2="330.12" y2="353.30" stroke="#e6c4bc" stroke-width="0.7"/>
<line x1="330.12" y1="417.80" x2="330.12" y2="419.20" stroke="#ddd8c6" stroke-width="0.7"/>
<line x1="335.60" y1="351.90" x2="335.60" y2="353.30" stroke="#e6c4bc" stroke-width="0.7"/>
<line x1="335.60" y1="417.80" x2="335.60" y2="419.20" stroke="#ddd8c6" stroke-width="0.7"/>
<line x1="340.69" y1="351.90" x2="340.69" y2="353.30" stroke="#e6c4bc" stroke-width="0.7"/>
<line x1="340.69" y1="417.80" x2="340.69" y2="419.20" stroke="#ddd8c6" stroke-width="0.7"/>
<line x1="345.39" y1="351.90" x2="345.39" y2="353.30" stroke="#e6c4bc" stroke-width="0.7"/>
<line x1="345.39" y1="417.80" x2="345.39" y2="419.20" stroke="#ddd8c6" stroke-width="0.7"/>
<line x1="350.09" y1="351.90" x2="350.09" y2="353.30" stroke="#e6c4bc" stroke-width="0.7"/>
<line x1="350.09" y1="417.80" x2="350.09" y2="419.20" stroke="#ddd8c6" stroke-width="0.7"/>
<line x1="354.39" y1="351.90" x2="354.39" y2="353.30" stroke="#e6c4bc" stroke-width="0.7"/>
<line x1="354.39" y1="417.80" x2="354.39" y2="419.20" stroke="#ddd8c6" stroke-width="0.7"/>
<line x1="358.31" y1="351.90" x2="358.31" y2="353.30" stroke="#e6c4bc" stroke-width="0.7"/>
<line x1="358.31" y1="417.80" x2="358.31" y2="419.20" stroke="#ddd8c6" stroke-width="0.7"/>
<line x1="361.83" y1="351.90" x2="361.83" y2="353.30" stroke="#e6c4bc" stroke-width="0.7"/>
<line x1="361.83" y1="417.80" x2="361.83" y2="419.20" stroke="#ddd8c6" stroke-width="0.7"/>
<line x1="365.35" y1="351.90" x2="365.35" y2="353.30" stroke="#e6c4bc" stroke-width="0.7"/>
<line x1="365.35" y1="417.80" x2="365.35" y2="419.20" stroke="#ddd8c6" stroke-width="0.7"/>
<line x1="368.88" y1="351.90" x2="368.88" y2="353.30" stroke="#e6c4bc" stroke-width="0.7"/>
<line x1="368.88" y1="417.80" x2="368.88" y2="419.20" stroke="#ddd8c6" stroke-width="0.7"/>
<line x1="372.01" y1="351.90" x2="372.01" y2="353.30" stroke="#e6c4bc" stroke-width="0.7"/>
<line x1="372.01" y1="417.80" x2="372.01" y2="419.20" stroke="#ddd8c6" stroke-width="0.7"/>
<line x1="375.14" y1="351.90" x2="375.14" y2="353.30" stroke="#e6c4bc" stroke-width="0.7"/>
<line x1="375.14" y1="417.80" x2="375.14" y2="419.20" stroke="#ddd8c6" stroke-width="0.7"/>
<line x1="377.88" y1="351.90" x2="377.88" y2="353.30" stroke="#e6c4bc" stroke-width="0.7"/>
<line x1="377.88" y1="417.80" x2="377.88" y2="419.20" stroke="#ddd8c6" stroke-width="0.7"/>
<line x1="380.62" y1="351.90" x2="380.62" y2="353.30" stroke="#e6c4bc" stroke-width="0.7"/>
<line x1="380.62" y1="417.80" x2="380.62" y2="419.20" stroke="#ddd8c6" stroke-width="0.7"/>
<line x1="382.97" y1="351.90" x2="382.97" y2="353.30" stroke="#e6c4bc" stroke-width="0.7"/>
<line x1="382.97" y1="417.80" x2="382.97" y2="419.20" stroke="#ddd8c6" stroke-width="0.7"/>
<line x1="385.32" y1="351.90" x2="385.32" y2="353.30" stroke="#e6c4bc" stroke-width="0.7"/>
<line x1="385.32" y1="417.80" x2="385.32" y2="419.20" stroke="#ddd8c6" stroke-width="0.7"/>
<line x1="387.28" y1="351.90" x2="387.28" y2="353.30" stroke="#e6c4bc" stroke-width="0.7"/>
<line x1="387.28" y1="417.80" x2="387.28" y2="419.20" stroke="#ddd8c6" stroke-width="0.7"/>
<line x1="389.24" y1="351.90" x2="389.24" y2="353.30" stroke="#e6c4bc" stroke-width="0.7"/>
<line x1="389.24" y1="417.80" x2="389.24" y2="419.20" stroke="#ddd8c6" stroke-width="0.7"/>
<line x1="390.80" y1="351.90" x2="390.80" y2="353.30" stroke="#e6c4bc" stroke-width="0.7"/>
<line x1="390.80" y1="417.80" x2="390.80" y2="419.20" stroke="#ddd8c6" stroke-width="0.7"/>
<line x1="392.37" y1="351.90" x2="392.37" y2="353.30" stroke="#e6c4bc" stroke-width="0.7"/>
<line x1="392.37" y1="417.80" x2="392.37" y2="419.20" stroke="#ddd8c6" stroke-width="0.7"/>
<line x1="393.93" y1="351.90" x2="393.93" y2="353.30" stroke="#e6c4bc" stroke-width="0.7"/>
<line x1="393.93" y1="417.80" x2="393.93" y2="419.20" stroke="#ddd8c6" stroke-width="0.7"/>
<line x1="317.20" y1="392.40" x2="395.50" y2="392.40" stroke="#d5cfb8" stroke-width="0.9"/>
<path d="M371.0 382.8h0.8v2.0h-0.8zM359.3 383.6h0.8v3.0h-0.8zM369.8 383.9h0.8v2.1h-0.8zM388.0 383.3h0.8v1.6h-0.8zM393.2 382.7h0.8v1.8h-0.8zM339.7 383.3h0.8v1.4h-0.8zM378.1 383.6h0.8v1.9h-0.8zM355.0 383.5h0.8v1.8h-0.8zM345.1 382.9h0.8v1.7h-0.8zM354.1 383.2h0.8v2.3h-0.8zM347.7 384.5h0.8v1.2h-0.8zM369.2 383.5h0.8v1.3h-0.8zM319.8 382.3h0.8v2.7h-0.8zM390.1 383.3h0.8v1.5h-0.8zM379.6 383.5h0.8v2.7h-0.8zM346.5 383.6h0.8v1.9h-0.8zM367.9 382.9h0.8v2.2h-0.8zM385.8 382.7h0.8v2.6h-0.8zM339.5 383.6h0.8v1.3h-0.8zM343.9 383.9h0.8v2.0h-0.8zM365.2 384.2h0.8v1.3h-0.8zM342.7 382.8h0.8v2.8h-0.8zM357.7 383.2h0.8v2.7h-0.8zM380.3 383.1h0.8v2.0h-0.8zM350.7 383.3h0.8v2.0h-0.8zM355.5 382.8h0.8v2.9h-0.8z" fill="#b4aa9c" fill-opacity="0.12"/>
<path d="M322.8 384.3h0.8v2.3h-0.8zM368.1 382.4h0.8v2.5h-0.8zM338.2 384.4h0.8v2.4h-0.8zM380.7 384.6h0.8v0.9h-0.8zM354.5 383.3h0.8v2.9h-0.8zM369.8 383.7h0.8v1.3h-0.8zM372.4 384.5h0.8v2.0h-0.8zM353.5 383.6h0.8v1.4h-0.8zM345.6 384.0h0.8v1.5h-0.8zM388.7 383.5h0.8v2.2h-0.8zM325.9 383.8h0.8v1.9h-0.8zM331.6 383.4h0.8v2.6h-0.8zM369.0 384.0h0.8v1.2h-0.8zM320.7 383.1h0.8v1.8h-0.8z" fill="#b4aa9c" fill-opacity="0.20"/>
<path d="M349.3 384.7h0.8v1.4h-0.8zM338.4 385.0h0.8v2.3h-0.8zM356.7 384.1h0.8v1.4h-0.8zM363.8 383.6h0.8v2.6h-0.8zM328.2 383.3h0.8v2.9h-0.8zM391.2 383.2h0.8v2.0h-0.8zM377.3 383.4h0.8v2.8h-0.8zM331.6 384.0h0.8v1.5h-0.8zM346.9 383.8h0.8v2.8h-0.8zM380.2 383.1h0.8v2.9h-0.8zM366.5 384.4h0.8v2.2h-0.8zM345.4 383.2h0.8v2.1h-0.8zM371.4 383.7h0.8v2.5h-0.8zM330.3 384.5h0.8v1.8h-0.8zM393.6 383.4h0.8v2.3h-0.8zM328.9 383.1h0.8v2.1h-0.8zM323.1 383.4h0.8v2.1h-0.8zM322.1 382.9h0.8v1.8h-0.8zM335.7 383.6h0.8v1.6h-0.8zM375.9 384.2h0.8v1.0h-0.8zM320.2 383.5h0.8v2.8h-0.8zM360.1 383.5h0.8v2.8h-0.8zM355.3 383.2h0.8v2.4h-0.8zM374.7 384.0h0.8v1.3h-0.8zM385.0 383.5h0.8v1.8h-0.8zM359.1 383.7h0.8v2.6h-0.8zM328.5 384.9h0.8v1.0h-0.8zM385.2 384.1h0.8v1.1h-0.8zM355.7 382.2h0.8v2.8h-0.8zM383.7 383.0h0.8v2.0h-0.8z" fill="#b4aa9c" fill-opacity="0.30"/>
<path d="M344.1 399.5h0.8v1.7h-0.8zM328.5 398.1h0.8v2.5h-0.8zM329.9 399.0h0.8v2.4h-0.8zM373.9 398.6h0.8v1.7h-0.8zM371.8 399.0h0.8v2.2h-0.8zM360.2 399.0h0.8v2.3h-0.8zM353.1 399.3h0.8v1.2h-0.8zM371.6 399.6h0.8v2.4h-0.8zM320.0 398.1h0.8v2.8h-0.8zM322.6 399.7h0.8v1.3h-0.8zM334.5 398.0h0.8v2.4h-0.8zM371.9 398.1h0.8v2.6h-0.8zM386.7 399.4h0.8v1.2h-0.8z" fill="#b0b2a4" fill-opacity="0.10"/>
<path d="M327.5 398.7h0.8v1.5h-0.8zM373.7 399.4h0.8v1.2h-0.8zM326.9 399.3h0.8v1.1h-0.8zM346.7 398.3h0.8v2.1h-0.8zM356.7 399.4h0.8v1.0h-0.8zM331.8 398.5h0.8v1.5h-0.8zM351.8 401.5h0.8v0.8h-0.8zM392.2 398.7h0.8v1.1h-0.8zM329.2 399.7h0.8v1.5h-0.8zM363.5 400.3h0.8v1.1h-0.8zM361.8 399.3h0.8v1.9h-0.8zM379.6 399.1h0.8v1.2h-0.8zM380.7 399.6h0.8v1.1h-0.8zM343.3 400.0h0.8v1.4h-0.8zM320.7 398.5h0.8v2.6h-0.8zM336.6 399.1h0.8v2.1h-0.8zM387.5 397.4h0.8v2.2h-0.8zM338.2 399.0h0.8v1.4h-0.8zM337.4 399.1h0.8v2.2h-0.8z" fill="#b0b2a4" fill-opacity="0.18"/>
<path d="M333.6 398.6h0.8v0.9h-0.8zM360.4 398.8h0.8v2.3h-0.8zM338.7 399.5h0.8v1.2h-0.8zM334.9 399.5h0.8v2.8h-0.8zM329.0 399.2h0.8v2.6h-0.8zM341.5 399.3h0.8v1.1h-0.8zM346.4 400.3h0.8v0.8h-0.8zM358.4 398.5h0.8v2.0h-0.8zM342.0 398.8h0.8v2.6h-0.8zM329.6 399.1h0.8v2.5h-0.8zM348.1 398.8h0.8v2.7h-0.8zM383.7 398.3h0.8v2.4h-0.8zM325.3 399.3h0.8v1.7h-0.8z" fill="#b0b2a4" fill-opacity="0.26"/>
<defs><linearGradient id="spk" x1="0" y1="1" x2="0" y2="0"><stop offset="0" stop-color="#c4161c" stop-opacity="0.95"/><stop offset="0.45" stop-color="#d9433f" stop-opacity="0.6"/><stop offset="1" stop-color="#f2b8b0" stop-opacity="0.15"/></linearGradient></defs>
<polygon points="219.1,391.8 220.7,388.6 221.5,388.6 223.4,391.8" fill="#f2b0a8" fill-opacity="0.3"/>
<polygon points="225.2,391.8 226.0,389.6 226.8,389.6 227.7,391.8" fill="#f2b0a8" fill-opacity="0.3"/>
<polygon points="231.2,391.8 233.2,387.8 234.0,387.8 236.4,391.8" fill="#f2b0a8" fill-opacity="0.3"/>
<polygon points="237.3,391.8 238.1,388.6 238.9,388.6 240.7,391.8" fill="#f2b0a8" fill-opacity="0.3"/>
<polygon points="245.9,391.8 248.1,381.8 248.9,381.8 251.9,391.8" fill="#f2b0a8" fill-opacity="0.3"/>
<polygon points="253.7,391.8 255.8,383.1 256.6,383.1 261.4,391.8" fill="#f2b0a8" fill-opacity="0.3"/>
<polygon points="265.0,391.8 266.7,385.8 267.5,385.8 268.4,391.8" fill="#f2b0a8" fill-opacity="0.3"/>
<polygon points="268.4,391.8 273.4,383.1 274.2,383.1 277.0,391.8" fill="#f2b0a8" fill-opacity="0.3"/>
<polygon points="278.8,391.8 280.0,383.1 280.8,383.1 283.1,391.8" fill="#f2b0a8" fill-opacity="0.3"/>
<polygon points="284.0,391.8 286.2,384.7 287.0,384.7 290.0,391.8" fill="#f2b0a8" fill-opacity="0.3"/>
<path d="M219.50 391.0V391.8M220.00 390.0V391.8M220.50 388.1V391.8M221.00 385.4V391.8M221.50 387.9V391.8M222.00 388.7V391.8M222.50 388.2V391.8M223.00 388.9V391.8M221.09 384.6V391.8M221.59 385.7V391.8M225.60 389.9V391.8M226.10 389.0V391.8M226.60 388.7V391.8M227.10 389.7V391.8M226.42 387.0V391.8M226.92 387.7V391.8M231.60 390.2V391.8M232.10 390.0V391.8M232.60 388.6V391.8M233.10 386.0V391.8M233.60 383.8V391.8M234.10 386.2V391.8M234.60 388.8V391.8M235.10 388.7V391.8M235.60 388.4V391.8M233.61 382.9V391.8M234.11 384.2V391.8M237.70 388.9V391.8M238.20 386.1V391.8M238.70 386.1V391.8M239.20 388.1V391.8M239.70 389.5V391.8M240.20 390.4V391.8M238.53 384.6V391.8M239.03 385.7V391.8M246.30 389.4V391.8M246.80 388.6V391.8M247.30 386.3V391.8M247.80 380.6V391.8M248.30 373.5V391.8M248.80 378.0V391.8M249.30 380.2V391.8M249.80 383.1V391.8M250.30 377.4V391.8M250.80 382.2V391.8M251.30 384.6V391.8M248.54 369.5V391.8M249.04 372.8V391.8M254.10 388.3V391.8M254.60 387.8V391.8M255.10 386.1V391.8M255.60 381.8V391.8M256.10 375.0V391.8M256.60 377.8V391.8M257.10 382.1V391.8M257.60 383.5V391.8M258.10 386.1V391.8M258.60 383.9V391.8M259.10 385.9V391.8M259.60 385.3V391.8M260.10 379.0V391.8M260.60 382.5V391.8M256.24 372.5V391.8M256.74 375.4V391.8M265.40 389.7V391.8M265.90 389.2V391.8M266.40 386.1V391.8M266.90 381.3V391.8M267.40 381.1V391.8M267.90 384.3V391.8M267.10 378.5V391.8M267.60 380.5V391.8M268.80 387.1V391.8M269.30 386.5V391.8M269.80 386.7V391.8M270.30 387.4V391.8M270.80 389.3V391.8M271.30 387.5V391.8M271.80 387.4V391.8M272.30 387.4V391.8M272.80 384.4V391.8M273.30 382.1V391.8M273.80 374.0V391.8M274.30 378.9V391.8M274.80 385.0V391.8M275.30 382.4V391.8M275.80 379.7V391.8M276.30 381.8V391.8M273.79 372.5V391.8M274.29 375.4V391.8M279.20 385.5V391.8M279.70 381.4V391.8M280.20 379.1V391.8M280.70 376.8V391.8M281.20 383.7V391.8M281.70 379.4V391.8M282.20 380.5V391.8M282.70 384.4V391.8M280.39 372.5V391.8M280.89 375.4V391.8M284.40 387.7V391.8M284.90 385.8V391.8M285.40 385.0V391.8M285.90 384.4V391.8M286.40 378.7V391.8M286.90 379.9V391.8M287.40 384.5V391.8M287.90 386.3V391.8M288.40 388.2V391.8M288.90 386.5V391.8M289.40 389.0V391.8M286.58 376.0V391.8M287.08 378.4V391.8" stroke="#e0524c" stroke-width="0.5" stroke-opacity="0.6" fill="none"/>
<path d="M219.50 391.4V391.8M220.00 390.7V391.8M220.50 389.3V391.8M221.00 388.8V391.8M221.50 389.6V391.8M222.00 390.2V391.8M222.50 389.6V391.8M223.00 389.8V391.8M221.09 386.8V391.8M225.60 390.7V391.8M226.10 390.2V391.8M226.60 389.8V391.8M227.10 390.5V391.8M226.42 388.4V391.8M231.60 390.8V391.8M232.10 390.6V391.8M232.60 390.2V391.8M233.10 388.7V391.8M233.60 386.8V391.8M234.10 388.1V391.8M234.60 390.0V391.8M235.10 390.1V391.8M235.60 389.6V391.8M233.61 385.6V391.8M237.70 390.4V391.8M238.20 388.0V391.8M238.70 388.9V391.8M239.20 389.7V391.8M239.70 390.3V391.8M240.20 390.9V391.8M238.53 386.8V391.8M246.30 390.3V391.8M246.80 389.9V391.8M247.30 389.2V391.8M247.80 385.4V391.8M248.30 380.2V391.8M248.80 383.7V391.8M249.30 385.3V391.8M249.80 386.5V391.8M250.30 382.1V391.8M250.80 386.8V391.8M251.30 387.1V391.8M248.54 376.2V391.8M254.10 389.5V391.8M254.60 389.7V391.8M255.10 389.2V391.8M255.60 387.0V391.8M256.10 380.7V391.8M256.60 384.3V391.8M257.10 386.5V391.8M257.60 386.1V391.8M258.10 388.8V391.8M258.60 386.8V391.8M259.10 388.1V391.8M259.60 388.0V391.8M260.10 384.6V391.8M260.60 385.9V391.8M256.24 378.3V391.8M265.40 390.8V391.8M265.90 390.2V391.8M266.40 389.2V391.8M266.90 386.5V391.8M267.40 385.8V391.8M267.90 387.1V391.8M267.10 382.5V391.8M268.80 389.4V391.8M269.30 389.0V391.8M269.80 389.4V391.8M270.30 389.2V391.8M270.80 390.2V391.8M271.30 389.1V391.8M271.80 389.4V391.8M272.30 389.2V391.8M272.80 387.7V391.8M273.30 386.2V391.8M273.80 381.1V391.8M274.30 385.4V391.8M274.80 388.7V391.8M275.30 385.6V391.8M275.80 385.0V391.8M276.30 385.2V391.8M273.79 378.3V391.8M279.20 388.2V391.8M279.70 387.0V391.8M280.20 383.2V391.8M280.70 384.3V391.8M281.20 386.5V391.8M281.70 386.0V391.8M282.20 385.7V391.8M282.70 387.2V391.8M280.39 378.3V391.8M284.40 389.3V391.8M284.90 388.2V391.8M285.40 387.3V391.8M285.90 388.1V391.8M286.40 385.2V391.8M286.90 385.7V391.8M287.40 387.4V391.8M287.90 389.1V391.8M288.40 389.7V391.8M288.90 388.9V391.8M289.40 390.2V391.8M286.58 380.7V391.8" stroke="#d41e1c" stroke-width="0.5" stroke-opacity="0.7" fill="none"/>
<path d="M219.50 391.4V391.8M220.00 390.7V391.8M220.50 389.3V391.8M221.00 388.8V391.8M221.50 389.6V391.8M222.00 390.2V391.8M222.50 389.6V391.8M223.00 389.8V391.8M225.60 390.7V391.8M226.10 390.2V391.8M226.60 389.8V391.8M227.10 390.5V391.8M231.60 390.8V391.8M232.10 390.6V391.8M232.60 390.2V391.8M233.10 389.9V391.8M233.60 388.9V391.8M234.10 390.3V391.8M234.60 390.0V391.8M235.10 390.1V391.8M235.60 389.6V391.8M237.70 390.4V391.8M238.20 389.1V391.8M238.70 388.9V391.8M239.20 389.7V391.8M239.70 390.3V391.8M240.20 390.9V391.8M246.30 390.3V391.8M246.80 389.9V391.8M247.30 389.2V391.8M247.80 387.5V391.8M248.30 389.6V391.8M248.80 386.9V391.8M249.30 388.1V391.8M249.80 390.2V391.8M250.30 387.9V391.8M250.80 387.3V391.8M251.30 387.3V391.8M254.10 389.5V391.8M254.60 389.7V391.8M255.10 389.2V391.8M255.60 389.0V391.8M256.10 389.4V391.8M256.60 389.7V391.8M257.10 387.6V391.8M257.60 387.7V391.8M258.10 389.6V391.8M258.60 390.1V391.8M259.10 389.4V391.8M259.60 389.7V391.8M260.10 390.2V391.8M260.60 389.7V391.8M265.40 390.8V391.8M265.90 390.2V391.8M266.40 389.2V391.8M266.90 389.4V391.8M267.40 389.4V391.8M267.90 388.5V391.8M268.80 389.4V391.8M269.30 389.0V391.8M269.80 389.4V391.8M270.30 389.2V391.8M270.80 390.2V391.8M271.30 389.1V391.8M271.80 389.4V391.8M272.30 389.2V391.8M272.80 387.8V391.8M273.30 387.9V391.8M273.80 388.6V391.8M274.30 387.9V391.8M274.80 388.7V391.8M275.30 389.9V391.8M275.80 389.3V391.8M276.30 387.0V391.8M279.20 388.2V391.8M279.70 389.5V391.8M280.20 389.9V391.8M280.70 387.3V391.8M281.20 387.0V391.8M281.70 387.2V391.8M282.20 389.6V391.8M282.70 389.8V391.8M284.40 389.3V391.8M284.90 388.5V391.8M285.40 388.5V391.8M285.90 389.3V391.8M286.40 387.3V391.8M286.90 389.9V391.8M287.40 387.4V391.8M287.90 389.1V391.8M288.40 389.9V391.8M288.90 389.8V391.8M289.40 390.2V391.8" stroke="#8c0c0c" stroke-width="0.55" stroke-opacity="0.8" fill="none"/>
<rect x="271.2" y="402.9" width="0.8" height="2.5" fill="#50506a" fill-opacity="0.52"/>
<rect x="229.7" y="402.9" width="0.8" height="4.4" fill="#23256e" fill-opacity="0.45"/>
<rect x="262.3" y="403.1" width="0.8" height="1.6" fill="#16164a" fill-opacity="0.46"/>
<rect x="250.0" y="403.5" width="0.8" height="3.1" fill="#23256e" fill-opacity="0.69"/>
<rect x="235.6" y="403.8" width="0.8" height="3.1" fill="#23256e" fill-opacity="0.85"/>
<rect x="238.1" y="402.6" width="0.8" height="4.2" fill="#16164a" fill-opacity="0.54"/>
<rect x="275.2" y="404.1" width="0.8" height="1.9" fill="#8080b8" fill-opacity="0.84"/>
<rect x="287.8" y="403.1" width="0.8" height="1.7" fill="#16164a" fill-opacity="0.66"/>
<rect x="237.5" y="403.5" width="0.8" height="1.6" fill="#50506a" fill-opacity="0.53"/>
<rect x="224.1" y="403.0" width="0.8" height="4.4" fill="#23256e" fill-opacity="0.48"/>
<rect x="244.9" y="403.3" width="0.8" height="2.1" fill="#4a4a96" fill-opacity="0.75"/>
<rect x="263.7" y="402.9" width="0.8" height="4.6" fill="#4a4a96" fill-opacity="0.62"/>
<rect x="266.4" y="404.1" width="0.8" height="3.7" fill="#50506a" fill-opacity="0.55"/>
<rect x="242.3" y="403.7" width="0.8" height="3.4" fill="#16164a" fill-opacity="0.40"/>
<rect x="252.9" y="402.7" width="0.8" height="3.8" fill="#4a4a96" fill-opacity="0.61"/>
<rect x="254.6" y="402.6" width="0.8" height="4.6" fill="#4a4a96" fill-opacity="0.72"/>
<rect x="287.0" y="403.3" width="0.8" height="2.5" fill="#23256e" fill-opacity="0.50"/>
<rect x="253.2" y="403.2" width="0.8" height="2.2" fill="#8080b8" fill-opacity="0.74"/>
<rect x="248.8" y="402.9" width="0.8" height="2.5" fill="#23256e" fill-opacity="0.83"/>
<rect x="282.6" y="402.7" width="0.8" height="1.9" fill="#50506a" fill-opacity="0.59"/>
<rect x="243.3" y="404.0" width="0.8" height="2.8" fill="#16164a" fill-opacity="0.78"/>
<rect x="273.7" y="403.4" width="0.8" height="1.6" fill="#16164a" fill-opacity="0.76"/>
<rect x="258.6" y="402.9" width="0.8" height="3.5" fill="#8080b8" fill-opacity="0.61"/>
<rect x="256.1" y="403.8" width="0.8" height="2.6" fill="#4a4a96" fill-opacity="0.55"/>
<rect x="245.5" y="403.6" width="0.8" height="3.9" fill="#16164a" fill-opacity="0.81"/>
<rect x="282.7" y="403.9" width="0.8" height="3.8" fill="#50506a" fill-opacity="0.49"/>
<rect x="270.4" y="403.2" width="0.8" height="2.9" fill="#50506a" fill-opacity="0.61"/>
<rect x="262.6" y="402.8" width="0.8" height="4.0" fill="#4a4a96" fill-opacity="0.57"/>
<rect x="238.3" y="403.6" width="0.8" height="2.2" fill="#16164a" fill-opacity="0.56"/>
<rect x="262.3" y="403.9" width="0.8" height="3.0" fill="#8080b8" fill-opacity="0.64"/>
<rect x="234.6" y="403.9" width="0.8" height="3.2" fill="#50506a" fill-opacity="0.38"/>
<rect x="257.2" y="403.1" width="0.8" height="1.8" fill="#50506a" fill-opacity="0.69"/>
<rect x="284.1" y="403.5" width="0.8" height="2.6" fill="#16164a" fill-opacity="0.40"/>
<rect x="265.0" y="403.6" width="0.8" height="3.3" fill="#8080b8" fill-opacity="0.50"/>
<rect x="285.2" y="403.6" width="0.8" height="2.3" fill="#8080b8" fill-opacity="0.70"/>
<rect x="286.0" y="403.3" width="0.8" height="2.3" fill="#23256e" fill-opacity="0.52"/>
<rect x="251.1" y="403.7" width="0.8" height="1.7" fill="#23256e" fill-opacity="0.72"/>
<rect x="234.9" y="402.6" width="0.8" height="1.8" fill="#8080b8" fill-opacity="0.64"/>
<rect x="287.6" y="402.8" width="0.8" height="3.6" fill="#23256e" fill-opacity="0.76"/>
<rect x="257.1" y="402.7" width="0.8" height="1.5" fill="#50506a" fill-opacity="0.59"/>
<rect x="286.6" y="402.8" width="0.8" height="3.0" fill="#8080b8" fill-opacity="0.38"/>
<rect x="260.9" y="404.0" width="0.8" height="2.3" fill="#4a4a96" fill-opacity="0.48"/>
<rect x="258.3" y="403.1" width="0.8" height="3.4" fill="#50506a" fill-opacity="0.39"/>
<rect x="288.2" y="403.8" width="0.8" height="3.5" fill="#4a4a96" fill-opacity="0.73"/>
<rect x="230.6" y="402.6" width="0.8" height="3.3" fill="#4a4a96" fill-opacity="0.49"/>
<rect x="242.5" y="403.1" width="0.8" height="3.3" fill="#50506a" fill-opacity="0.80"/>
<rect x="258.0" y="402.8" width="0.8" height="2.6" fill="#50506a" fill-opacity="0.41"/>
<rect x="278.3" y="403.5" width="0.8" height="4.0" fill="#8080b8" fill-opacity="0.63"/>
<rect x="279.6" y="403.8" width="0.8" height="4.2" fill="#50506a" fill-opacity="0.42"/>
<rect x="255.2" y="404.1" width="0.8" height="2.4" fill="#4a4a96" fill-opacity="0.77"/>
<rect x="276.1" y="403.8" width="0.8" height="4.2" fill="#50506a" fill-opacity="0.43"/>
<rect x="258.8" y="403.2" width="0.8" height="2.8" fill="#50506a" fill-opacity="0.85"/>
<rect x="270.8" y="402.6" width="0.8" height="2.8" fill="#50506a" fill-opacity="0.61"/>
<rect x="236.6" y="402.8" width="0.8" height="2.1" fill="#23256e" fill-opacity="0.76"/>
<rect x="269.0" y="403.5" width="0.8" height="4.0" fill="#16164a" fill-opacity="0.74"/>
<text x="33.98" y="364.30" font-size="8.14" fill="#d64a54" stroke="#d64a54" stroke-width="0.16" textLength="50.51" lengthAdjust="spacingAndGlyphs">Amplifications</text>
<text x="41.62" y="416.60" font-size="7.41" fill="#8578b0" stroke="#8578b0" stroke-width="0.16" textLength="34.48" lengthAdjust="spacingAndGlyphs">Deletions</text>
<text transform="translate(15.00,413.00) rotate(-90)" x="-0.39" y="0" font-size="10.32" fill="#231f20" stroke="#231f20" stroke-width="0.16" textLength="49.36" lengthAdjust="spacingAndGlyphs">Copy numbers</text>
<text transform="translate(113.50,413.50) rotate(-90)" x="-0.39" y="0" font-size="10.03" fill="#231f20" stroke="#231f20" stroke-width="0.16" textLength="50.07" lengthAdjust="spacingAndGlyphs">Copy numbers</text>
<text transform="translate(213.30,411.60) rotate(-90)" x="-0.40" y="0" font-size="9.74" fill="#231f20" stroke="#231f20" stroke-width="0.16" textLength="50.68" lengthAdjust="spacingAndGlyphs">Copy numbers</text>
<text transform="translate(311.30,413.10) rotate(-90)" x="-0.40" y="0" font-size="9.74" fill="#231f20" stroke="#231f20" stroke-width="0.16" textLength="51.69" lengthAdjust="spacingAndGlyphs">Copy numbers</text>
<text x="6.51" y="432.10" font-size="9.01" fill="#231f20" stroke="#231f20" stroke-width="0.16" textLength="20.26" lengthAdjust="spacingAndGlyphs">CHRs</text>
<text x="104.51" y="432.10" font-size="8.72" fill="#231f20" stroke="#231f20" stroke-width="0.16" textLength="20.26" lengthAdjust="spacingAndGlyphs">CHRs</text>
<text x="204.72" y="429.70" font-size="8.43" fill="#231f20" stroke="#231f20" stroke-width="0.16" textLength="20.05" lengthAdjust="spacingAndGlyphs">CHRs</text>
<text x="302.71" y="429.30" font-size="8.72" fill="#231f20" stroke="#231f20" stroke-width="0.16" textLength="20.36" lengthAdjust="spacingAndGlyphs">CHRs</text>
<line x1="462" y1="413.6" x2="512.6" y2="413.6" stroke="#b0b0b0" stroke-width="0.8" stroke-dasharray="0.9,0.9"/>
<rect x="447.90" y="413.99" width="14.10" height="6.51" fill="#1a4b87"/>
<rect x="464.00" y="343.02" width="13.80" height="77.48" fill="#f08c00"/>
<rect x="480.00" y="419.49" width="13.00" height="1.01" fill="#a8163c"/>
<rect x="495.50" y="419.85" width="13.90" height="0.65" fill="#37a535"/>
<line x1="444.50" y1="336.80" x2="444.50" y2="421.00" stroke="#231f20" stroke-width="1.1"/>
<line x1="441.20" y1="420.50" x2="513.10" y2="420.50" stroke="#231f20" stroke-width="1.1"/>
<line x1="441.40" y1="420.50" x2="444.50" y2="420.50" stroke="#231f20" stroke-width="0.9"/>
<text x="434.27" y="423.10" font-size="7.56" fill="#231f20" stroke="#231f20" stroke-width="0.16" textLength="4.44" lengthAdjust="spacingAndGlyphs">0</text>
<line x1="441.40" y1="408.67" x2="444.50" y2="408.67" stroke="#231f20" stroke-width="0.9"/>
<text x="421.84" y="411.27" font-size="7.56" fill="#231f20" stroke="#231f20" stroke-width="0.16" textLength="16.86" lengthAdjust="spacingAndGlyphs">2000</text>
<line x1="441.40" y1="396.84" x2="444.50" y2="396.84" stroke="#231f20" stroke-width="0.9"/>
<text x="422.05" y="399.44" font-size="7.56" fill="#231f20" stroke="#231f20" stroke-width="0.16" textLength="16.64" lengthAdjust="spacingAndGlyphs">4000</text>
<line x1="441.40" y1="385.01" x2="444.50" y2="385.01" stroke="#231f20" stroke-width="0.9"/>
<text x="421.84" y="387.61" font-size="7.56" fill="#231f20" stroke="#231f20" stroke-width="0.16" textLength="16.86" lengthAdjust="spacingAndGlyphs">6000</text>
<line x1="441.40" y1="373.19" x2="444.50" y2="373.19" stroke="#231f20" stroke-width="0.9"/>
<text x="421.89" y="375.79" font-size="7.56" fill="#231f20" stroke="#231f20" stroke-width="0.16" textLength="16.80" lengthAdjust="spacingAndGlyphs">8000</text>
<line x1="441.40" y1="361.36" x2="444.50" y2="361.36" stroke="#231f20" stroke-width="0.9"/>
<text x="417.52" y="363.96" font-size="7.56" fill="#231f20" stroke="#231f20" stroke-width="0.16" textLength="21.18" lengthAdjust="spacingAndGlyphs">10000</text>
<line x1="441.40" y1="349.53" x2="444.50" y2="349.53" stroke="#231f20" stroke-width="0.9"/>
<text x="417.52" y="352.13" font-size="7.56" fill="#231f20" stroke="#231f20" stroke-width="0.16" textLength="21.18" lengthAdjust="spacingAndGlyphs">12000</text>
<line x1="441.40" y1="337.70" x2="444.50" y2="337.70" stroke="#231f20" stroke-width="0.9"/>
<text x="417.52" y="340.30" font-size="7.56" fill="#231f20" stroke="#231f20" stroke-width="0.16" textLength="21.18" lengthAdjust="spacingAndGlyphs">14000</text>
<line x1="454.60" y1="420.50" x2="454.60" y2="423.10" stroke="#231f20" stroke-width="0.9"/>
<line x1="471.00" y1="420.50" x2="471.00" y2="423.10" stroke="#231f20" stroke-width="0.9"/>
<line x1="487.00" y1="420.50" x2="487.00" y2="423.10" stroke="#231f20" stroke-width="0.9"/>
<line x1="502.30" y1="420.50" x2="502.30" y2="423.10" stroke="#231f20" stroke-width="0.9"/>
<text x="451.82" y="433.40" font-size="7.12" fill="#231f20" stroke="#231f20" stroke-width="0.16" textLength="5.47" lengthAdjust="spacingAndGlyphs">C</text>
<text x="466.00" y="433.40" font-size="7.12" fill="#231f20" stroke="#231f20" stroke-width="0.16" textLength="9.09" lengthAdjust="spacingAndGlyphs">M</text>
<text x="483.27" y="433.40" font-size="7.12" fill="#231f20" stroke="#231f20" stroke-width="0.16" textLength="6.46" lengthAdjust="spacingAndGlyphs">N</text>
<text x="493.11" y="433.40" font-size="7.12" fill="#231f20" stroke="#231f20" stroke-width="0.16" textLength="18.08" lengthAdjust="spacingAndGlyphs">M+N</text>
<text transform="translate(411.40,412.20) rotate(-90)" x="-0.38" y="0" font-size="8.43" fill="#231f20" stroke="#231f20" stroke-width="0.16" textLength="69.45" lengthAdjust="spacingAndGlyphs">Copy number events</text>
<rect x="0" y="0" width="520" height="1" fill="#5a5a5a"/><rect x="0" y="0" width="1" height="442" fill="#555"/><rect x="519" y="0" width="1" height="442" fill="#444"/><rect x="0" y="440.4" width="520" height="1.6" fill="#444"/>
</svg></body></html>
